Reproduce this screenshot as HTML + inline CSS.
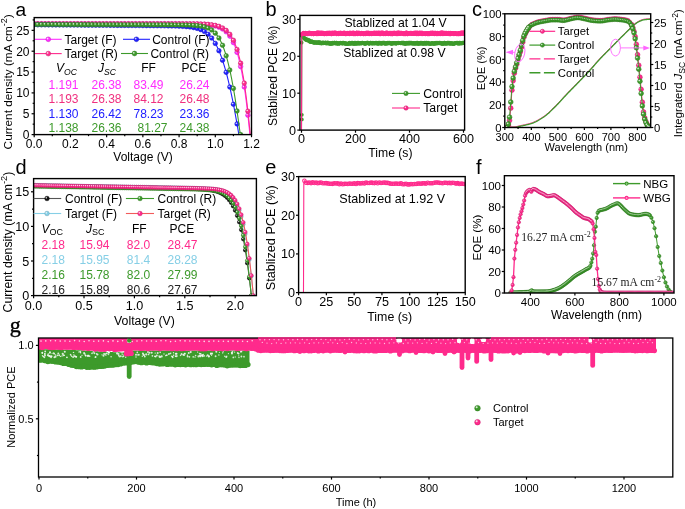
<!DOCTYPE html>
<html><head><meta charset="utf-8"><style>
html,body{margin:0;padding:0;background:#fff;}
body{width:685px;height:509px;overflow:hidden;}
svg{display:block;will-change:transform;}

</style></head><body>
<svg width="685" height="509" viewBox="0 0 685 509">
<rect width="685" height="509" fill="#fff"/>
<text x="15.4" y="16" font-size="19.2" text-anchor="start" fill="#000" font-family='"Liberation Sans", sans-serif' >a</text>
<clipPath id="ca"><rect x="34.2" y="17.6" width="217.3" height="117.0"/></clipPath>
<g clip-path="url(#ca)">
<polyline points="34.2,23.89 35.11,23.89 36.01,23.89 36.92,23.89 37.82,23.89 38.73,23.89 39.63,23.89 40.54,23.89 41.44,23.89 42.35,23.89 43.26,23.89 44.16,23.89 45.07,23.89 45.97,23.89 46.88,23.89 47.78,23.89 48.69,23.89 49.59,23.89 50.5,23.89 51.4,23.89 52.31,23.89 53.22,23.89 54.12,23.89 55.03,23.89 55.93,23.89 56.84,23.89 57.74,23.89 58.65,23.89 59.55,23.89 60.46,23.89 61.37,23.89 62.27,23.89 63.18,23.89 64.08,23.89 64.99,23.89 65.89,23.89 66.8,23.89 67.7,23.89 68.61,23.89 69.51,23.89 70.42,23.89 71.33,23.89 72.23,23.89 73.14,23.89 74.04,23.89 74.95,23.89 75.85,23.89 76.76,23.89 77.66,23.89 78.57,23.89 79.48,23.89 80.38,23.89 81.29,23.89 82.19,23.89 83.1,23.89 84,23.89 84.91,23.89 85.81,23.89 86.72,23.89 87.62,23.89 88.53,23.89 89.44,23.89 90.34,23.89 91.25,23.89 92.15,23.89 93.06,23.89 93.96,23.89 94.87,23.89 95.77,23.89 96.68,23.89 97.59,23.89 98.49,23.89 99.4,23.89 100.3,23.89 101.21,23.89 102.11,23.89 103.02,23.89 103.92,23.89 104.83,23.89 105.73,23.89 106.64,23.89 107.55,23.89 108.45,23.89 109.36,23.89 110.26,23.89 111.17,23.89 112.07,23.89 112.98,23.89 113.88,23.89 114.79,23.89 115.7,23.89 116.6,23.89 117.51,23.89 118.41,23.89 119.32,23.89 120.22,23.89 121.13,23.89 122.03,23.89 122.94,23.89 123.84,23.89 124.75,23.89 125.66,23.89 126.56,23.89 127.47,23.89 128.37,23.89 129.28,23.89 130.18,23.89 131.09,23.89 131.99,23.89 132.9,23.89 133.81,23.89 134.71,23.89 135.62,23.89 136.52,23.89 137.43,23.89 138.33,23.89 139.24,23.89 140.14,23.89 141.05,23.89 141.95,23.89 142.86,23.89 143.77,23.89 144.67,23.89 145.58,23.89 146.48,23.89 147.39,23.89 148.29,23.89 149.2,23.89 150.1,23.89 151.01,23.89 151.92,23.89 152.82,23.89 153.73,23.89 154.63,23.89 155.54,23.89 156.44,23.89 157.35,23.89 158.25,23.89 159.16,23.89 160.06,23.89 160.97,23.89 161.88,23.89 162.78,23.89 163.69,23.89 164.59,23.89 165.5,23.89 166.4,23.89 167.31,23.89 168.21,23.89 169.12,23.89 170.03,23.89 170.93,23.9 171.84,23.9 172.74,23.9 173.65,23.9 174.55,23.9 175.46,23.9 176.36,23.9 177.27,23.91 178.17,23.91 179.08,23.91 179.99,23.91 180.89,23.92 181.8,23.92 182.7,23.93 183.61,23.93 184.51,23.94 185.42,23.94 186.32,23.95 187.23,23.95 188.14,23.96 189.04,23.97 189.95,23.98 190.85,23.99 191.76,24.01 192.66,24.02 193.57,24.03 194.47,24.05 195.38,24.07 196.28,24.09 197.19,24.12 198.1,24.14 199,24.17 199.91,24.21 200.81,24.25 201.72,24.29 202.62,24.34 203.53,24.39 204.43,24.45 205.34,24.51 206.25,24.59 207.15,24.67 208.06,24.76 208.96,24.86 209.87,24.98 210.77,25.11 211.68,25.25 212.58,25.41 213.49,25.59 214.39,25.79 215.3,26.01 216.21,26.26 217.11,26.53 218.02,26.84 218.92,27.18 219.83,27.57 220.73,28 221.64,28.47 222.54,29 223.45,29.6 224.35,30.26 225.26,30.99 226.17,31.81 227.07,32.72 227.98,33.73 228.88,34.85 229.79,36.1 230.69,37.49 231.6,39.02 232.5,40.73 233.41,42.61 234.32,44.7 235.22,47 236.13,49.54 237.03,52.34 237.94,55.43 238.84,58.82 239.75,62.54 240.65,66.61 241.56,71.07 242.46,75.93 243.37,81.23 244.28,87 245.18,93.25 246.09,100.02 246.99,107.32 247.9,115.19 248.8,123.65 249.71,132.71 249.89,134.6" fill="none" stroke="#ff2bff" stroke-width="1.1" stroke-linejoin="round" />
<g fill="#ff2bff" stroke="#c621c6" stroke-width="0.5"><circle cx="34.2" cy="23.89" r="2.3"/><circle cx="37.82" cy="23.89" r="2.3"/><circle cx="41.44" cy="23.89" r="2.3"/><circle cx="45.07" cy="23.89" r="2.3"/><circle cx="48.69" cy="23.89" r="2.3"/><circle cx="52.31" cy="23.89" r="2.3"/><circle cx="55.93" cy="23.89" r="2.3"/><circle cx="59.55" cy="23.89" r="2.3"/><circle cx="63.18" cy="23.89" r="2.3"/><circle cx="66.8" cy="23.89" r="2.3"/><circle cx="70.42" cy="23.89" r="2.3"/><circle cx="74.04" cy="23.89" r="2.3"/><circle cx="77.66" cy="23.89" r="2.3"/><circle cx="81.29" cy="23.89" r="2.3"/><circle cx="84.91" cy="23.89" r="2.3"/><circle cx="88.53" cy="23.89" r="2.3"/><circle cx="92.15" cy="23.89" r="2.3"/><circle cx="95.77" cy="23.89" r="2.3"/><circle cx="99.4" cy="23.89" r="2.3"/><circle cx="103.02" cy="23.89" r="2.3"/><circle cx="106.64" cy="23.89" r="2.3"/><circle cx="110.26" cy="23.89" r="2.3"/><circle cx="113.88" cy="23.89" r="2.3"/><circle cx="117.51" cy="23.89" r="2.3"/><circle cx="121.13" cy="23.89" r="2.3"/><circle cx="124.75" cy="23.89" r="2.3"/><circle cx="128.37" cy="23.89" r="2.3"/><circle cx="131.99" cy="23.89" r="2.3"/><circle cx="135.62" cy="23.89" r="2.3"/><circle cx="139.24" cy="23.89" r="2.3"/><circle cx="142.86" cy="23.89" r="2.3"/><circle cx="146.48" cy="23.89" r="2.3"/><circle cx="150.1" cy="23.89" r="2.3"/><circle cx="153.73" cy="23.89" r="2.3"/><circle cx="157.35" cy="23.89" r="2.3"/><circle cx="160.97" cy="23.89" r="2.3"/><circle cx="164.59" cy="23.89" r="2.3"/><circle cx="168.21" cy="23.89" r="2.3"/><circle cx="171.84" cy="23.9" r="2.3"/><circle cx="175.46" cy="23.9" r="2.3"/><circle cx="179.08" cy="23.91" r="2.3"/><circle cx="182.7" cy="23.93" r="2.3"/><circle cx="186.32" cy="23.95" r="2.3"/><circle cx="189.95" cy="23.98" r="2.3"/><circle cx="193.57" cy="24.03" r="2.3"/><circle cx="197.19" cy="24.12" r="2.3"/><circle cx="200.81" cy="24.25" r="2.3"/><circle cx="204.43" cy="24.45" r="2.3"/><circle cx="208.06" cy="24.76" r="2.3"/><circle cx="211.68" cy="25.25" r="2.3"/><circle cx="215.3" cy="26.01" r="2.3"/><circle cx="218.92" cy="27.18" r="2.3"/><circle cx="222.54" cy="29" r="2.3"/><circle cx="226.17" cy="31.81" r="2.3"/><circle cx="229.79" cy="36.1" r="2.3"/><circle cx="233.41" cy="42.61" r="2.3"/><circle cx="237.03" cy="52.34" r="2.3"/><circle cx="240.65" cy="66.61" r="2.3"/><circle cx="244.28" cy="87" r="2.3"/><circle cx="247.9" cy="115.19" r="2.3"/></g>
<g fill="#fff" fill-opacity="0.8"><circle cx="33.51" cy="23.2" r="0.83"/><circle cx="37.13" cy="23.2" r="0.83"/><circle cx="40.75" cy="23.2" r="0.83"/><circle cx="44.38" cy="23.2" r="0.83"/><circle cx="48" cy="23.2" r="0.83"/><circle cx="51.62" cy="23.2" r="0.83"/><circle cx="55.24" cy="23.2" r="0.83"/><circle cx="58.86" cy="23.2" r="0.83"/><circle cx="62.49" cy="23.2" r="0.83"/><circle cx="66.11" cy="23.2" r="0.83"/><circle cx="69.73" cy="23.2" r="0.83"/><circle cx="73.35" cy="23.2" r="0.83"/><circle cx="76.97" cy="23.2" r="0.83"/><circle cx="80.6" cy="23.2" r="0.83"/><circle cx="84.22" cy="23.2" r="0.83"/><circle cx="87.84" cy="23.2" r="0.83"/><circle cx="91.46" cy="23.2" r="0.83"/><circle cx="95.08" cy="23.2" r="0.83"/><circle cx="98.71" cy="23.2" r="0.83"/><circle cx="102.33" cy="23.2" r="0.83"/><circle cx="105.95" cy="23.2" r="0.83"/><circle cx="109.57" cy="23.2" r="0.83"/><circle cx="113.19" cy="23.2" r="0.83"/><circle cx="116.82" cy="23.2" r="0.83"/><circle cx="120.44" cy="23.2" r="0.83"/><circle cx="124.06" cy="23.2" r="0.83"/><circle cx="127.68" cy="23.2" r="0.83"/><circle cx="131.3" cy="23.2" r="0.83"/><circle cx="134.93" cy="23.2" r="0.83"/><circle cx="138.55" cy="23.2" r="0.83"/><circle cx="142.17" cy="23.2" r="0.83"/><circle cx="145.79" cy="23.2" r="0.83"/><circle cx="149.41" cy="23.2" r="0.83"/><circle cx="153.04" cy="23.2" r="0.83"/><circle cx="156.66" cy="23.2" r="0.83"/><circle cx="160.28" cy="23.2" r="0.83"/><circle cx="163.9" cy="23.2" r="0.83"/><circle cx="167.52" cy="23.2" r="0.83"/><circle cx="171.15" cy="23.21" r="0.83"/><circle cx="174.77" cy="23.21" r="0.83"/><circle cx="178.39" cy="23.22" r="0.83"/><circle cx="182.01" cy="23.24" r="0.83"/><circle cx="185.63" cy="23.26" r="0.83"/><circle cx="189.26" cy="23.29" r="0.83"/><circle cx="192.88" cy="23.34" r="0.83"/><circle cx="196.5" cy="23.43" r="0.83"/><circle cx="200.12" cy="23.56" r="0.83"/><circle cx="203.74" cy="23.76" r="0.83"/><circle cx="207.37" cy="24.07" r="0.83"/><circle cx="210.99" cy="24.56" r="0.83"/><circle cx="214.61" cy="25.32" r="0.83"/><circle cx="218.23" cy="26.49" r="0.83"/><circle cx="221.85" cy="28.31" r="0.83"/><circle cx="225.48" cy="31.12" r="0.83"/><circle cx="229.1" cy="35.41" r="0.83"/><circle cx="232.72" cy="41.92" r="0.83"/><circle cx="236.34" cy="51.65" r="0.83"/><circle cx="239.96" cy="65.92" r="0.83"/><circle cx="243.59" cy="86.31" r="0.83"/><circle cx="247.21" cy="114.5" r="0.83"/></g>
<polyline points="34.2,23.68 35.11,23.68 36.01,23.68 36.92,23.68 37.82,23.68 38.73,23.68 39.63,23.68 40.54,23.68 41.44,23.68 42.35,23.68 43.26,23.68 44.16,23.68 45.07,23.68 45.97,23.68 46.88,23.68 47.78,23.68 48.69,23.68 49.59,23.68 50.5,23.68 51.4,23.68 52.31,23.68 53.22,23.68 54.12,23.68 55.03,23.68 55.93,23.68 56.84,23.68 57.74,23.68 58.65,23.68 59.55,23.68 60.46,23.68 61.37,23.68 62.27,23.68 63.18,23.68 64.08,23.68 64.99,23.68 65.89,23.68 66.8,23.68 67.7,23.68 68.61,23.68 69.51,23.68 70.42,23.68 71.33,23.68 72.23,23.68 73.14,23.68 74.04,23.68 74.95,23.68 75.85,23.68 76.76,23.68 77.66,23.68 78.57,23.68 79.48,23.68 80.38,23.68 81.29,23.68 82.19,23.68 83.1,23.68 84,23.68 84.91,23.68 85.81,23.68 86.72,23.68 87.62,23.68 88.53,23.68 89.44,23.68 90.34,23.68 91.25,23.68 92.15,23.68 93.06,23.68 93.96,23.68 94.87,23.68 95.77,23.68 96.68,23.68 97.59,23.68 98.49,23.68 99.4,23.68 100.3,23.68 101.21,23.68 102.11,23.68 103.02,23.68 103.92,23.68 104.83,23.68 105.73,23.68 106.64,23.68 107.55,23.68 108.45,23.68 109.36,23.68 110.26,23.68 111.17,23.68 112.07,23.68 112.98,23.68 113.88,23.68 114.79,23.68 115.7,23.68 116.6,23.68 117.51,23.68 118.41,23.68 119.32,23.68 120.22,23.68 121.13,23.68 122.03,23.68 122.94,23.68 123.84,23.68 124.75,23.68 125.66,23.68 126.56,23.68 127.47,23.68 128.37,23.68 129.28,23.68 130.18,23.68 131.09,23.68 131.99,23.68 132.9,23.68 133.81,23.68 134.71,23.68 135.62,23.68 136.52,23.68 137.43,23.68 138.33,23.68 139.24,23.68 140.14,23.68 141.05,23.68 141.95,23.68 142.86,23.68 143.77,23.68 144.67,23.68 145.58,23.68 146.48,23.68 147.39,23.68 148.29,23.68 149.2,23.68 150.1,23.68 151.01,23.68 151.92,23.68 152.82,23.68 153.73,23.68 154.63,23.68 155.54,23.68 156.44,23.68 157.35,23.68 158.25,23.68 159.16,23.68 160.06,23.68 160.97,23.68 161.88,23.68 162.78,23.68 163.69,23.68 164.59,23.68 165.5,23.68 166.4,23.68 167.31,23.68 168.21,23.68 169.12,23.68 170.03,23.68 170.93,23.68 171.84,23.68 172.74,23.69 173.65,23.69 174.55,23.69 175.46,23.69 176.36,23.69 177.27,23.69 178.17,23.69 179.08,23.69 179.99,23.7 180.89,23.7 181.8,23.7 182.7,23.7 183.61,23.71 184.51,23.71 185.42,23.71 186.32,23.72 187.23,23.72 188.14,23.73 189.04,23.74 189.95,23.74 190.85,23.75 191.76,23.76 192.66,23.77 193.57,23.78 194.47,23.8 195.38,23.81 196.28,23.83 197.19,23.84 198.1,23.86 199,23.89 199.91,23.91 200.81,23.94 201.72,23.97 202.62,24.01 203.53,24.05 204.43,24.1 205.34,24.15 206.25,24.21 207.15,24.27 208.06,24.35 208.96,24.43 209.87,24.52 210.77,24.63 211.68,24.74 212.58,24.87 213.49,25.02 214.39,25.18 215.3,25.37 216.21,25.58 217.11,25.81 218.02,26.07 218.92,26.36 219.83,26.69 220.73,27.06 221.64,27.47 222.54,27.93 223.45,28.45 224.35,29.03 225.26,29.68 226.17,30.41 227.07,31.22 227.98,32.13 228.88,33.14 229.79,34.28 230.69,35.54 231.6,36.95 232.5,38.52 233.41,40.27 234.32,42.22 235.22,44.38 236.13,46.78 237.03,49.43 237.94,52.37 238.84,55.62 239.75,59.2 240.65,63.15 241.56,67.48 242.46,72.23 243.37,77.44 244.28,83.12 245.18,89.3 246.09,96.03 246.99,103.31 247.9,111.19 248.8,119.68 249.71,128.81 250.25,134.6" fill="none" stroke="#ff2a8c" stroke-width="1.1" stroke-linejoin="round" />
<g fill="#ff2a8c" stroke="#c6206d" stroke-width="0.5"><circle cx="34.2" cy="23.68" r="2.3"/><circle cx="37.82" cy="23.68" r="2.3"/><circle cx="41.44" cy="23.68" r="2.3"/><circle cx="45.07" cy="23.68" r="2.3"/><circle cx="48.69" cy="23.68" r="2.3"/><circle cx="52.31" cy="23.68" r="2.3"/><circle cx="55.93" cy="23.68" r="2.3"/><circle cx="59.55" cy="23.68" r="2.3"/><circle cx="63.18" cy="23.68" r="2.3"/><circle cx="66.8" cy="23.68" r="2.3"/><circle cx="70.42" cy="23.68" r="2.3"/><circle cx="74.04" cy="23.68" r="2.3"/><circle cx="77.66" cy="23.68" r="2.3"/><circle cx="81.29" cy="23.68" r="2.3"/><circle cx="84.91" cy="23.68" r="2.3"/><circle cx="88.53" cy="23.68" r="2.3"/><circle cx="92.15" cy="23.68" r="2.3"/><circle cx="95.77" cy="23.68" r="2.3"/><circle cx="99.4" cy="23.68" r="2.3"/><circle cx="103.02" cy="23.68" r="2.3"/><circle cx="106.64" cy="23.68" r="2.3"/><circle cx="110.26" cy="23.68" r="2.3"/><circle cx="113.88" cy="23.68" r="2.3"/><circle cx="117.51" cy="23.68" r="2.3"/><circle cx="121.13" cy="23.68" r="2.3"/><circle cx="124.75" cy="23.68" r="2.3"/><circle cx="128.37" cy="23.68" r="2.3"/><circle cx="131.99" cy="23.68" r="2.3"/><circle cx="135.62" cy="23.68" r="2.3"/><circle cx="139.24" cy="23.68" r="2.3"/><circle cx="142.86" cy="23.68" r="2.3"/><circle cx="146.48" cy="23.68" r="2.3"/><circle cx="150.1" cy="23.68" r="2.3"/><circle cx="153.73" cy="23.68" r="2.3"/><circle cx="157.35" cy="23.68" r="2.3"/><circle cx="160.97" cy="23.68" r="2.3"/><circle cx="164.59" cy="23.68" r="2.3"/><circle cx="168.21" cy="23.68" r="2.3"/><circle cx="171.84" cy="23.68" r="2.3"/><circle cx="175.46" cy="23.69" r="2.3"/><circle cx="179.08" cy="23.69" r="2.3"/><circle cx="182.7" cy="23.7" r="2.3"/><circle cx="186.32" cy="23.72" r="2.3"/><circle cx="189.95" cy="23.74" r="2.3"/><circle cx="193.57" cy="23.78" r="2.3"/><circle cx="197.19" cy="23.84" r="2.3"/><circle cx="200.81" cy="23.94" r="2.3"/><circle cx="204.43" cy="24.1" r="2.3"/><circle cx="208.06" cy="24.35" r="2.3"/><circle cx="211.68" cy="24.74" r="2.3"/><circle cx="215.3" cy="25.37" r="2.3"/><circle cx="218.92" cy="26.36" r="2.3"/><circle cx="222.54" cy="27.93" r="2.3"/><circle cx="226.17" cy="30.41" r="2.3"/><circle cx="229.79" cy="34.28" r="2.3"/><circle cx="233.41" cy="40.27" r="2.3"/><circle cx="237.03" cy="49.43" r="2.3"/><circle cx="240.65" cy="63.15" r="2.3"/><circle cx="244.28" cy="83.12" r="2.3"/><circle cx="247.9" cy="111.19" r="2.3"/></g>
<g fill="#fff" fill-opacity="0.8"><circle cx="33.51" cy="22.99" r="0.83"/><circle cx="37.13" cy="22.99" r="0.83"/><circle cx="40.75" cy="22.99" r="0.83"/><circle cx="44.38" cy="22.99" r="0.83"/><circle cx="48" cy="22.99" r="0.83"/><circle cx="51.62" cy="22.99" r="0.83"/><circle cx="55.24" cy="22.99" r="0.83"/><circle cx="58.86" cy="22.99" r="0.83"/><circle cx="62.49" cy="22.99" r="0.83"/><circle cx="66.11" cy="22.99" r="0.83"/><circle cx="69.73" cy="22.99" r="0.83"/><circle cx="73.35" cy="22.99" r="0.83"/><circle cx="76.97" cy="22.99" r="0.83"/><circle cx="80.6" cy="22.99" r="0.83"/><circle cx="84.22" cy="22.99" r="0.83"/><circle cx="87.84" cy="22.99" r="0.83"/><circle cx="91.46" cy="22.99" r="0.83"/><circle cx="95.08" cy="22.99" r="0.83"/><circle cx="98.71" cy="22.99" r="0.83"/><circle cx="102.33" cy="22.99" r="0.83"/><circle cx="105.95" cy="22.99" r="0.83"/><circle cx="109.57" cy="22.99" r="0.83"/><circle cx="113.19" cy="22.99" r="0.83"/><circle cx="116.82" cy="22.99" r="0.83"/><circle cx="120.44" cy="22.99" r="0.83"/><circle cx="124.06" cy="22.99" r="0.83"/><circle cx="127.68" cy="22.99" r="0.83"/><circle cx="131.3" cy="22.99" r="0.83"/><circle cx="134.93" cy="22.99" r="0.83"/><circle cx="138.55" cy="22.99" r="0.83"/><circle cx="142.17" cy="22.99" r="0.83"/><circle cx="145.79" cy="22.99" r="0.83"/><circle cx="149.41" cy="22.99" r="0.83"/><circle cx="153.04" cy="22.99" r="0.83"/><circle cx="156.66" cy="22.99" r="0.83"/><circle cx="160.28" cy="22.99" r="0.83"/><circle cx="163.9" cy="22.99" r="0.83"/><circle cx="167.52" cy="22.99" r="0.83"/><circle cx="171.15" cy="22.99" r="0.83"/><circle cx="174.77" cy="23" r="0.83"/><circle cx="178.39" cy="23" r="0.83"/><circle cx="182.01" cy="23.01" r="0.83"/><circle cx="185.63" cy="23.03" r="0.83"/><circle cx="189.26" cy="23.05" r="0.83"/><circle cx="192.88" cy="23.09" r="0.83"/><circle cx="196.5" cy="23.15" r="0.83"/><circle cx="200.12" cy="23.25" r="0.83"/><circle cx="203.74" cy="23.41" r="0.83"/><circle cx="207.37" cy="23.66" r="0.83"/><circle cx="210.99" cy="24.05" r="0.83"/><circle cx="214.61" cy="24.68" r="0.83"/><circle cx="218.23" cy="25.67" r="0.83"/><circle cx="221.85" cy="27.24" r="0.83"/><circle cx="225.48" cy="29.72" r="0.83"/><circle cx="229.1" cy="33.59" r="0.83"/><circle cx="232.72" cy="39.58" r="0.83"/><circle cx="236.34" cy="48.74" r="0.83"/><circle cx="239.96" cy="62.46" r="0.83"/><circle cx="243.59" cy="82.43" r="0.83"/><circle cx="247.21" cy="110.5" r="0.83"/></g>
<polyline points="34.2,24.72 35.11,24.73 36.01,24.74 36.92,24.74 37.82,24.75 38.73,24.76 39.63,24.76 40.54,24.77 41.44,24.78 42.35,24.79 43.26,24.79 44.16,24.8 45.07,24.81 45.97,24.82 46.88,24.82 47.78,24.83 48.69,24.84 49.59,24.84 50.5,24.85 51.4,24.86 52.31,24.87 53.22,24.87 54.12,24.88 55.03,24.89 55.93,24.9 56.84,24.9 57.74,24.91 58.65,24.92 59.55,24.92 60.46,24.93 61.37,24.94 62.27,24.95 63.18,24.95 64.08,24.96 64.99,24.97 65.89,24.98 66.8,24.98 67.7,24.99 68.61,25 69.51,25.01 70.42,25.01 71.33,25.02 72.23,25.03 73.14,25.03 74.04,25.04 74.95,25.05 75.85,25.06 76.76,25.06 77.66,25.07 78.57,25.08 79.48,25.09 80.38,25.09 81.29,25.1 82.19,25.11 83.1,25.11 84,25.12 84.91,25.13 85.81,25.14 86.72,25.14 87.62,25.15 88.53,25.16 89.44,25.17 90.34,25.17 91.25,25.18 92.15,25.19 93.06,25.19 93.96,25.2 94.87,25.21 95.77,25.22 96.68,25.22 97.59,25.23 98.49,25.24 99.4,25.25 100.3,25.25 101.21,25.26 102.11,25.27 103.02,25.28 103.92,25.28 104.83,25.29 105.73,25.3 106.64,25.3 107.55,25.31 108.45,25.32 109.36,25.33 110.26,25.33 111.17,25.34 112.07,25.35 112.98,25.36 113.88,25.36 114.79,25.37 115.7,25.38 116.6,25.38 117.51,25.39 118.41,25.4 119.32,25.41 120.22,25.41 121.13,25.42 122.03,25.43 122.94,25.44 123.84,25.44 124.75,25.45 125.66,25.46 126.56,25.47 127.47,25.47 128.37,25.48 129.28,25.49 130.18,25.49 131.09,25.5 131.99,25.51 132.9,25.52 133.81,25.52 134.71,25.53 135.62,25.54 136.52,25.55 137.43,25.55 138.33,25.56 139.24,25.57 140.14,25.58 141.05,25.58 141.95,25.59 142.86,25.6 143.77,25.61 144.67,25.62 145.58,25.62 146.48,25.63 147.39,25.64 148.29,25.65 149.2,25.66 150.1,25.66 151.01,25.67 151.92,25.68 152.82,25.69 153.73,25.7 154.63,25.71 155.54,25.72 156.44,25.73 157.35,25.74 158.25,25.75 159.16,25.76 160.06,25.77 160.97,25.78 161.88,25.79 162.78,25.8 163.69,25.81 164.59,25.82 165.5,25.84 166.4,25.85 167.31,25.87 168.21,25.88 169.12,25.9 170.03,25.92 170.93,25.93 171.84,25.95 172.74,25.98 173.65,26 174.55,26.02 175.46,26.05 176.36,26.08 177.27,26.11 178.17,26.14 179.08,26.18 179.99,26.22 180.89,26.26 181.8,26.31 182.7,26.36 183.61,26.42 184.51,26.48 185.42,26.55 186.32,26.63 187.23,26.71 188.14,26.8 189.04,26.9 189.95,27.01 190.85,27.14 191.76,27.27 192.66,27.42 193.57,27.58 194.47,27.77 195.38,27.97 196.28,28.19 197.19,28.43 198.1,28.7 199,29 199.91,29.32 200.81,29.68 201.72,30.08 202.62,30.52 203.53,31 204.43,31.53 205.34,32.11 206.25,32.75 207.15,33.45 208.06,34.22 208.96,35.06 209.87,35.98 210.77,36.98 211.68,38.07 212.58,39.25 213.49,40.54 214.39,41.93 215.3,43.44 216.21,45.07 217.11,46.83 218.02,48.71 218.92,50.73 219.83,52.9 220.73,55.21 221.64,57.67 222.54,60.28 223.45,63.06 224.35,65.99 225.26,69.08 226.17,72.34 227.07,75.76 227.98,79.35 228.88,83.1 229.79,87.01 230.69,91.08 231.6,95.31 232.5,99.7 233.41,104.25 234.32,108.94 235.22,113.79 236.13,118.78 237.03,123.92 237.94,129.19 238.84,134.6 238.84,134.6" fill="none" stroke="#2020ff" stroke-width="1.1" stroke-linejoin="round" />
<g fill="#2020ff" stroke="#1818c6" stroke-width="0.5"><circle cx="34.2" cy="24.72" r="2.3"/><circle cx="37.82" cy="24.75" r="2.3"/><circle cx="41.44" cy="24.78" r="2.3"/><circle cx="45.07" cy="24.81" r="2.3"/><circle cx="48.69" cy="24.84" r="2.3"/><circle cx="52.31" cy="24.87" r="2.3"/><circle cx="55.93" cy="24.9" r="2.3"/><circle cx="59.55" cy="24.92" r="2.3"/><circle cx="63.18" cy="24.95" r="2.3"/><circle cx="66.8" cy="24.98" r="2.3"/><circle cx="70.42" cy="25.01" r="2.3"/><circle cx="74.04" cy="25.04" r="2.3"/><circle cx="77.66" cy="25.07" r="2.3"/><circle cx="81.29" cy="25.1" r="2.3"/><circle cx="84.91" cy="25.13" r="2.3"/><circle cx="88.53" cy="25.16" r="2.3"/><circle cx="92.15" cy="25.19" r="2.3"/><circle cx="95.77" cy="25.22" r="2.3"/><circle cx="99.4" cy="25.25" r="2.3"/><circle cx="103.02" cy="25.28" r="2.3"/><circle cx="106.64" cy="25.3" r="2.3"/><circle cx="110.26" cy="25.33" r="2.3"/><circle cx="113.88" cy="25.36" r="2.3"/><circle cx="117.51" cy="25.39" r="2.3"/><circle cx="121.13" cy="25.42" r="2.3"/><circle cx="124.75" cy="25.45" r="2.3"/><circle cx="128.37" cy="25.48" r="2.3"/><circle cx="131.99" cy="25.51" r="2.3"/><circle cx="135.62" cy="25.54" r="2.3"/><circle cx="139.24" cy="25.57" r="2.3"/><circle cx="142.86" cy="25.6" r="2.3"/><circle cx="146.48" cy="25.63" r="2.3"/><circle cx="150.1" cy="25.66" r="2.3"/><circle cx="153.73" cy="25.7" r="2.3"/><circle cx="157.35" cy="25.74" r="2.3"/><circle cx="160.97" cy="25.78" r="2.3"/><circle cx="164.59" cy="25.82" r="2.3"/><circle cx="168.21" cy="25.88" r="2.3"/><circle cx="171.84" cy="25.95" r="2.3"/><circle cx="175.46" cy="26.05" r="2.3"/><circle cx="179.08" cy="26.18" r="2.3"/><circle cx="182.7" cy="26.36" r="2.3"/><circle cx="186.32" cy="26.63" r="2.3"/><circle cx="189.95" cy="27.01" r="2.3"/><circle cx="193.57" cy="27.58" r="2.3"/><circle cx="197.19" cy="28.43" r="2.3"/><circle cx="200.81" cy="29.68" r="2.3"/><circle cx="204.43" cy="31.53" r="2.3"/><circle cx="208.06" cy="34.22" r="2.3"/><circle cx="211.68" cy="38.07" r="2.3"/><circle cx="215.3" cy="43.44" r="2.3"/><circle cx="218.92" cy="50.73" r="2.3"/><circle cx="222.54" cy="60.28" r="2.3"/><circle cx="226.17" cy="72.34" r="2.3"/><circle cx="229.79" cy="87.01" r="2.3"/><circle cx="233.41" cy="104.25" r="2.3"/><circle cx="237.03" cy="123.92" r="2.3"/></g>
<g fill="#fff" fill-opacity="0.8"><circle cx="33.51" cy="24.03" r="0.83"/><circle cx="37.13" cy="24.06" r="0.83"/><circle cx="40.75" cy="24.09" r="0.83"/><circle cx="44.38" cy="24.12" r="0.83"/><circle cx="48" cy="24.15" r="0.83"/><circle cx="51.62" cy="24.18" r="0.83"/><circle cx="55.24" cy="24.21" r="0.83"/><circle cx="58.86" cy="24.23" r="0.83"/><circle cx="62.49" cy="24.26" r="0.83"/><circle cx="66.11" cy="24.29" r="0.83"/><circle cx="69.73" cy="24.32" r="0.83"/><circle cx="73.35" cy="24.35" r="0.83"/><circle cx="76.97" cy="24.38" r="0.83"/><circle cx="80.6" cy="24.41" r="0.83"/><circle cx="84.22" cy="24.44" r="0.83"/><circle cx="87.84" cy="24.47" r="0.83"/><circle cx="91.46" cy="24.5" r="0.83"/><circle cx="95.08" cy="24.53" r="0.83"/><circle cx="98.71" cy="24.56" r="0.83"/><circle cx="102.33" cy="24.59" r="0.83"/><circle cx="105.95" cy="24.61" r="0.83"/><circle cx="109.57" cy="24.64" r="0.83"/><circle cx="113.19" cy="24.67" r="0.83"/><circle cx="116.82" cy="24.7" r="0.83"/><circle cx="120.44" cy="24.73" r="0.83"/><circle cx="124.06" cy="24.76" r="0.83"/><circle cx="127.68" cy="24.79" r="0.83"/><circle cx="131.3" cy="24.82" r="0.83"/><circle cx="134.93" cy="24.85" r="0.83"/><circle cx="138.55" cy="24.88" r="0.83"/><circle cx="142.17" cy="24.91" r="0.83"/><circle cx="145.79" cy="24.94" r="0.83"/><circle cx="149.41" cy="24.97" r="0.83"/><circle cx="153.04" cy="25.01" r="0.83"/><circle cx="156.66" cy="25.05" r="0.83"/><circle cx="160.28" cy="25.09" r="0.83"/><circle cx="163.9" cy="25.13" r="0.83"/><circle cx="167.52" cy="25.19" r="0.83"/><circle cx="171.15" cy="25.26" r="0.83"/><circle cx="174.77" cy="25.36" r="0.83"/><circle cx="178.39" cy="25.49" r="0.83"/><circle cx="182.01" cy="25.67" r="0.83"/><circle cx="185.63" cy="25.94" r="0.83"/><circle cx="189.26" cy="26.32" r="0.83"/><circle cx="192.88" cy="26.89" r="0.83"/><circle cx="196.5" cy="27.74" r="0.83"/><circle cx="200.12" cy="28.99" r="0.83"/><circle cx="203.74" cy="30.84" r="0.83"/><circle cx="207.37" cy="33.53" r="0.83"/><circle cx="210.99" cy="37.38" r="0.83"/><circle cx="214.61" cy="42.75" r="0.83"/><circle cx="218.23" cy="50.04" r="0.83"/><circle cx="221.85" cy="59.59" r="0.83"/><circle cx="225.48" cy="71.65" r="0.83"/><circle cx="229.1" cy="86.32" r="0.83"/><circle cx="232.72" cy="103.56" r="0.83"/><circle cx="236.34" cy="123.23" r="0.83"/></g>
<polyline points="34.2,24.51 35.11,24.51 36.01,24.52 36.92,24.52 37.82,24.52 38.73,24.52 39.63,24.53 40.54,24.53 41.44,24.53 42.35,24.53 43.26,24.54 44.16,24.54 45.07,24.54 45.97,24.54 46.88,24.55 47.78,24.55 48.69,24.55 49.59,24.55 50.5,24.56 51.4,24.56 52.31,24.56 53.22,24.56 54.12,24.57 55.03,24.57 55.93,24.57 56.84,24.57 57.74,24.58 58.65,24.58 59.55,24.58 60.46,24.58 61.37,24.59 62.27,24.59 63.18,24.59 64.08,24.59 64.99,24.6 65.89,24.6 66.8,24.6 67.7,24.6 68.61,24.61 69.51,24.61 70.42,24.61 71.33,24.61 72.23,24.62 73.14,24.62 74.04,24.62 74.95,24.62 75.85,24.63 76.76,24.63 77.66,24.63 78.57,24.63 79.48,24.64 80.38,24.64 81.29,24.64 82.19,24.64 83.1,24.65 84,24.65 84.91,24.65 85.81,24.65 86.72,24.66 87.62,24.66 88.53,24.66 89.44,24.66 90.34,24.67 91.25,24.67 92.15,24.67 93.06,24.67 93.96,24.68 94.87,24.68 95.77,24.68 96.68,24.68 97.59,24.69 98.49,24.69 99.4,24.69 100.3,24.69 101.21,24.7 102.11,24.7 103.02,24.7 103.92,24.7 104.83,24.71 105.73,24.71 106.64,24.71 107.55,24.71 108.45,24.72 109.36,24.72 110.26,24.72 111.17,24.72 112.07,24.73 112.98,24.73 113.88,24.73 114.79,24.73 115.7,24.74 116.6,24.74 117.51,24.74 118.41,24.74 119.32,24.75 120.22,24.75 121.13,24.75 122.03,24.75 122.94,24.76 123.84,24.76 124.75,24.76 125.66,24.76 126.56,24.77 127.47,24.77 128.37,24.77 129.28,24.77 130.18,24.78 131.09,24.78 131.99,24.78 132.9,24.78 133.81,24.79 134.71,24.79 135.62,24.79 136.52,24.79 137.43,24.8 138.33,24.8 139.24,24.8 140.14,24.8 141.05,24.81 141.95,24.81 142.86,24.81 143.77,24.82 144.67,24.82 145.58,24.82 146.48,24.82 147.39,24.83 148.29,24.83 149.2,24.83 150.1,24.83 151.01,24.84 151.92,24.84 152.82,24.84 153.73,24.84 154.63,24.85 155.54,24.85 156.44,24.85 157.35,24.85 158.25,24.86 159.16,24.86 160.06,24.86 160.97,24.87 161.88,24.87 162.78,24.87 163.69,24.88 164.59,24.88 165.5,24.88 166.4,24.89 167.31,24.89 168.21,24.89 169.12,24.9 170.03,24.9 170.93,24.91 171.84,24.91 172.74,24.92 173.65,24.92 174.55,24.93 175.46,24.93 176.36,24.94 177.27,24.95 178.17,24.96 179.08,24.96 179.99,24.97 180.89,24.98 181.8,25 182.7,25.01 183.61,25.02 184.51,25.04 185.42,25.06 186.32,25.08 187.23,25.1 188.14,25.12 189.04,25.15 189.95,25.18 190.85,25.22 191.76,25.26 192.66,25.3 193.57,25.35 194.47,25.41 195.38,25.48 196.28,25.55 197.19,25.63 198.1,25.73 199,25.83 199.91,25.95 200.81,26.09 201.72,26.24 202.62,26.41 203.53,26.61 204.43,26.83 205.34,27.08 206.25,27.36 207.15,27.68 208.06,28.04 208.96,28.45 209.87,28.91 210.77,29.42 211.68,30 212.58,30.66 213.49,31.39 214.39,32.21 215.3,33.13 216.21,34.15 217.11,35.3 218.02,36.57 218.92,37.98 219.83,39.54 220.73,41.27 221.64,43.17 222.54,45.26 223.45,47.55 224.35,50.05 225.26,52.77 226.17,55.72 227.07,58.91 227.98,62.35 228.88,66.03 229.79,69.98 230.69,74.18 231.6,78.65 232.5,83.38 233.41,88.38 234.32,93.63 235.22,99.15 236.13,104.92 237.03,110.94 237.94,117.21 238.84,123.71 239.75,130.45 240.29,134.6" fill="none" stroke="#3d9a2b" stroke-width="1.1" stroke-linejoin="round" />
<g fill="#3d9a2b" stroke="#2f7821" stroke-width="0.5"><circle cx="34.2" cy="24.51" r="2.3"/><circle cx="37.82" cy="24.52" r="2.3"/><circle cx="41.44" cy="24.53" r="2.3"/><circle cx="45.07" cy="24.54" r="2.3"/><circle cx="48.69" cy="24.55" r="2.3"/><circle cx="52.31" cy="24.56" r="2.3"/><circle cx="55.93" cy="24.57" r="2.3"/><circle cx="59.55" cy="24.58" r="2.3"/><circle cx="63.18" cy="24.59" r="2.3"/><circle cx="66.8" cy="24.6" r="2.3"/><circle cx="70.42" cy="24.61" r="2.3"/><circle cx="74.04" cy="24.62" r="2.3"/><circle cx="77.66" cy="24.63" r="2.3"/><circle cx="81.29" cy="24.64" r="2.3"/><circle cx="84.91" cy="24.65" r="2.3"/><circle cx="88.53" cy="24.66" r="2.3"/><circle cx="92.15" cy="24.67" r="2.3"/><circle cx="95.77" cy="24.68" r="2.3"/><circle cx="99.4" cy="24.69" r="2.3"/><circle cx="103.02" cy="24.7" r="2.3"/><circle cx="106.64" cy="24.71" r="2.3"/><circle cx="110.26" cy="24.72" r="2.3"/><circle cx="113.88" cy="24.73" r="2.3"/><circle cx="117.51" cy="24.74" r="2.3"/><circle cx="121.13" cy="24.75" r="2.3"/><circle cx="124.75" cy="24.76" r="2.3"/><circle cx="128.37" cy="24.77" r="2.3"/><circle cx="131.99" cy="24.78" r="2.3"/><circle cx="135.62" cy="24.79" r="2.3"/><circle cx="139.24" cy="24.8" r="2.3"/><circle cx="142.86" cy="24.81" r="2.3"/><circle cx="146.48" cy="24.82" r="2.3"/><circle cx="150.1" cy="24.83" r="2.3"/><circle cx="153.73" cy="24.84" r="2.3"/><circle cx="157.35" cy="24.85" r="2.3"/><circle cx="160.97" cy="24.87" r="2.3"/><circle cx="164.59" cy="24.88" r="2.3"/><circle cx="168.21" cy="24.89" r="2.3"/><circle cx="171.84" cy="24.91" r="2.3"/><circle cx="175.46" cy="24.93" r="2.3"/><circle cx="179.08" cy="24.96" r="2.3"/><circle cx="182.7" cy="25.01" r="2.3"/><circle cx="186.32" cy="25.08" r="2.3"/><circle cx="189.95" cy="25.18" r="2.3"/><circle cx="193.57" cy="25.35" r="2.3"/><circle cx="197.19" cy="25.63" r="2.3"/><circle cx="200.81" cy="26.09" r="2.3"/><circle cx="204.43" cy="26.83" r="2.3"/><circle cx="208.06" cy="28.04" r="2.3"/><circle cx="211.68" cy="30" r="2.3"/><circle cx="215.3" cy="33.13" r="2.3"/><circle cx="218.92" cy="37.98" r="2.3"/><circle cx="222.54" cy="45.26" r="2.3"/><circle cx="226.17" cy="55.72" r="2.3"/><circle cx="229.79" cy="69.98" r="2.3"/><circle cx="233.41" cy="88.38" r="2.3"/><circle cx="237.03" cy="110.94" r="2.3"/><circle cx="240.65" cy="134.6" r="2.3"/></g>
<g fill="#fff" fill-opacity="0.8"><circle cx="33.51" cy="23.82" r="0.83"/><circle cx="37.13" cy="23.83" r="0.83"/><circle cx="40.75" cy="23.84" r="0.83"/><circle cx="44.38" cy="23.85" r="0.83"/><circle cx="48" cy="23.86" r="0.83"/><circle cx="51.62" cy="23.87" r="0.83"/><circle cx="55.24" cy="23.88" r="0.83"/><circle cx="58.86" cy="23.89" r="0.83"/><circle cx="62.49" cy="23.9" r="0.83"/><circle cx="66.11" cy="23.91" r="0.83"/><circle cx="69.73" cy="23.92" r="0.83"/><circle cx="73.35" cy="23.93" r="0.83"/><circle cx="76.97" cy="23.94" r="0.83"/><circle cx="80.6" cy="23.95" r="0.83"/><circle cx="84.22" cy="23.96" r="0.83"/><circle cx="87.84" cy="23.97" r="0.83"/><circle cx="91.46" cy="23.98" r="0.83"/><circle cx="95.08" cy="23.99" r="0.83"/><circle cx="98.71" cy="24" r="0.83"/><circle cx="102.33" cy="24.01" r="0.83"/><circle cx="105.95" cy="24.02" r="0.83"/><circle cx="109.57" cy="24.03" r="0.83"/><circle cx="113.19" cy="24.04" r="0.83"/><circle cx="116.82" cy="24.05" r="0.83"/><circle cx="120.44" cy="24.06" r="0.83"/><circle cx="124.06" cy="24.07" r="0.83"/><circle cx="127.68" cy="24.08" r="0.83"/><circle cx="131.3" cy="24.09" r="0.83"/><circle cx="134.93" cy="24.1" r="0.83"/><circle cx="138.55" cy="24.11" r="0.83"/><circle cx="142.17" cy="24.12" r="0.83"/><circle cx="145.79" cy="24.13" r="0.83"/><circle cx="149.41" cy="24.14" r="0.83"/><circle cx="153.04" cy="24.15" r="0.83"/><circle cx="156.66" cy="24.16" r="0.83"/><circle cx="160.28" cy="24.18" r="0.83"/><circle cx="163.9" cy="24.19" r="0.83"/><circle cx="167.52" cy="24.2" r="0.83"/><circle cx="171.15" cy="24.22" r="0.83"/><circle cx="174.77" cy="24.24" r="0.83"/><circle cx="178.39" cy="24.27" r="0.83"/><circle cx="182.01" cy="24.32" r="0.83"/><circle cx="185.63" cy="24.39" r="0.83"/><circle cx="189.26" cy="24.49" r="0.83"/><circle cx="192.88" cy="24.66" r="0.83"/><circle cx="196.5" cy="24.94" r="0.83"/><circle cx="200.12" cy="25.4" r="0.83"/><circle cx="203.74" cy="26.14" r="0.83"/><circle cx="207.37" cy="27.35" r="0.83"/><circle cx="210.99" cy="29.31" r="0.83"/><circle cx="214.61" cy="32.44" r="0.83"/><circle cx="218.23" cy="37.29" r="0.83"/><circle cx="221.85" cy="44.57" r="0.83"/><circle cx="225.48" cy="55.03" r="0.83"/><circle cx="229.1" cy="69.29" r="0.83"/><circle cx="232.72" cy="87.69" r="0.83"/><circle cx="236.34" cy="110.25" r="0.83"/><circle cx="239.96" cy="133.91" r="0.83"/></g>
</g>
<rect x="34.2" y="17.6" width="217.3" height="117" fill="none" stroke="#000" stroke-width="1.4"/>
<line x1="34.2" y1="134.6" x2="31.6" y2="134.6" stroke="#000" stroke-width="1.2" />
<line x1="34.2" y1="113.75" x2="31.6" y2="113.75" stroke="#000" stroke-width="1.2" />
<line x1="34.2" y1="92.9" x2="31.6" y2="92.9" stroke="#000" stroke-width="1.2" />
<line x1="34.2" y1="72.05" x2="31.6" y2="72.05" stroke="#000" stroke-width="1.2" />
<line x1="34.2" y1="51.2" x2="31.6" y2="51.2" stroke="#000" stroke-width="1.2" />
<line x1="34.2" y1="30.35" x2="31.6" y2="30.35" stroke="#000" stroke-width="1.2" />
<line x1="34.2" y1="124.17" x2="32.64" y2="124.17" stroke="#000" stroke-width="1.2" />
<line x1="34.2" y1="103.32" x2="32.64" y2="103.32" stroke="#000" stroke-width="1.2" />
<line x1="34.2" y1="82.47" x2="32.64" y2="82.47" stroke="#000" stroke-width="1.2" />
<line x1="34.2" y1="61.62" x2="32.64" y2="61.62" stroke="#000" stroke-width="1.2" />
<line x1="34.2" y1="40.77" x2="32.64" y2="40.77" stroke="#000" stroke-width="1.2" />
<line x1="34.2" y1="19.92" x2="32.64" y2="19.92" stroke="#000" stroke-width="1.2" />
<text x="29.5" y="138.9" font-size="12" text-anchor="end" fill="#000" font-family='"Liberation Sans", sans-serif' >0</text>
<text x="29.5" y="118.05" font-size="12" text-anchor="end" fill="#000" font-family='"Liberation Sans", sans-serif' >5</text>
<text x="29.5" y="97.2" font-size="12" text-anchor="end" fill="#000" font-family='"Liberation Sans", sans-serif' >10</text>
<text x="29.5" y="76.35" font-size="12" text-anchor="end" fill="#000" font-family='"Liberation Sans", sans-serif' >15</text>
<text x="29.5" y="55.5" font-size="12" text-anchor="end" fill="#000" font-family='"Liberation Sans", sans-serif' >20</text>
<text x="29.5" y="34.65" font-size="12" text-anchor="end" fill="#000" font-family='"Liberation Sans", sans-serif' >25</text>
<line x1="34.2" y1="134.6" x2="34.2" y2="137.2" stroke="#000" stroke-width="1.2" />
<line x1="70.42" y1="134.6" x2="70.42" y2="137.2" stroke="#000" stroke-width="1.2" />
<line x1="106.64" y1="134.6" x2="106.64" y2="137.2" stroke="#000" stroke-width="1.2" />
<line x1="142.86" y1="134.6" x2="142.86" y2="137.2" stroke="#000" stroke-width="1.2" />
<line x1="179.08" y1="134.6" x2="179.08" y2="137.2" stroke="#000" stroke-width="1.2" />
<line x1="215.3" y1="134.6" x2="215.3" y2="137.2" stroke="#000" stroke-width="1.2" />
<line x1="251.52" y1="134.6" x2="251.52" y2="137.2" stroke="#000" stroke-width="1.2" />
<line x1="52.31" y1="134.6" x2="52.31" y2="136.16" stroke="#000" stroke-width="1.2" />
<line x1="88.53" y1="134.6" x2="88.53" y2="136.16" stroke="#000" stroke-width="1.2" />
<line x1="124.75" y1="134.6" x2="124.75" y2="136.16" stroke="#000" stroke-width="1.2" />
<line x1="160.97" y1="134.6" x2="160.97" y2="136.16" stroke="#000" stroke-width="1.2" />
<line x1="197.19" y1="134.6" x2="197.19" y2="136.16" stroke="#000" stroke-width="1.2" />
<line x1="233.41" y1="134.6" x2="233.41" y2="136.16" stroke="#000" stroke-width="1.2" />
<text x="34.2" y="148.4" font-size="12" text-anchor="middle" fill="#000" font-family='"Liberation Sans", sans-serif' >0.0</text>
<text x="70.42" y="148.4" font-size="12" text-anchor="middle" fill="#000" font-family='"Liberation Sans", sans-serif' >0.2</text>
<text x="106.64" y="148.4" font-size="12" text-anchor="middle" fill="#000" font-family='"Liberation Sans", sans-serif' >0.4</text>
<text x="142.86" y="148.4" font-size="12" text-anchor="middle" fill="#000" font-family='"Liberation Sans", sans-serif' >0.6</text>
<text x="179.08" y="148.4" font-size="12" text-anchor="middle" fill="#000" font-family='"Liberation Sans", sans-serif' >0.8</text>
<text x="215.3" y="148.4" font-size="12" text-anchor="middle" fill="#000" font-family='"Liberation Sans", sans-serif' >1.0</text>
<text x="251.52" y="148.4" font-size="12" text-anchor="middle" fill="#000" font-family='"Liberation Sans", sans-serif' >1.2</text>
<text x="143" y="161" font-size="12" text-anchor="middle" fill="#000" font-family='"Liberation Sans", sans-serif' >Voltage (V)</text>
<text x="0" y="0" font-size="11.8" text-anchor="middle" fill="#000" font-family='"Liberation Sans", sans-serif' transform="translate(7.5,81.8) rotate(-90) translate(0,4.25)">Current density (mA cm<tspan dy="-4.8" font-size="9">-2</tspan><tspan dy="4.8">)</tspan></text>
<line x1="35" y1="39.3" x2="61.7" y2="39.3" stroke="#ff2bff" stroke-width="1.1" />
<g fill="#ff2bff" stroke="#c621c6" stroke-width="0.5"><circle cx="48.3" cy="39.3" r="2.4"/></g>
<g fill="#fff" fill-opacity="0.8"><circle cx="47.58" cy="38.58" r="0.86"/></g>
<text x="64.5" y="43.6" font-size="12" text-anchor="start" fill="#000" font-family='"Liberation Sans", sans-serif' >Target (F)</text>
<line x1="35" y1="53.6" x2="61.7" y2="53.6" stroke="#ff2a8c" stroke-width="1.1" />
<g fill="#ff2a8c" stroke="#c6206d" stroke-width="0.5"><circle cx="48.3" cy="53.6" r="2.4"/></g>
<g fill="#fff" fill-opacity="0.8"><circle cx="47.58" cy="52.88" r="0.86"/></g>
<text x="64.5" y="57.9" font-size="12" text-anchor="start" fill="#000" font-family='"Liberation Sans", sans-serif' >Target (R)</text>
<line x1="123" y1="39.3" x2="150" y2="39.3" stroke="#2020ff" stroke-width="1.1" />
<g fill="#2020ff" stroke="#1818c6" stroke-width="0.5"><circle cx="136.4" cy="39.3" r="2.4"/></g>
<g fill="#fff" fill-opacity="0.8"><circle cx="135.68" cy="38.58" r="0.86"/></g>
<text x="152.2" y="43.6" font-size="12" text-anchor="start" fill="#000" font-family='"Liberation Sans", sans-serif' >Control (F)</text>
<line x1="121" y1="53.5" x2="148" y2="53.5" stroke="#3d9a2b" stroke-width="1.1" />
<g fill="#3d9a2b" stroke="#2f7821" stroke-width="0.5"><circle cx="134.5" cy="53.5" r="2.4"/></g>
<g fill="#fff" fill-opacity="0.8"><circle cx="133.78" cy="52.78" r="0.86"/></g>
<text x="150.4" y="57.8" font-size="12" text-anchor="start" fill="#000" font-family='"Liberation Sans", sans-serif' >Control (R)</text>
<text x="56" y="72.4" font-size="12" font-family='"Liberation Sans", sans-serif'><tspan font-style="italic">V</tspan><tspan font-size="8.6" dy="2.2" font-style="italic">OC</tspan></text>
<text x="98" y="72.4" font-size="12" font-family='"Liberation Sans", sans-serif'><tspan font-style="italic">J</tspan><tspan font-size="8.6" dy="2.2" font-style="italic">SC</tspan></text>
<text x="141.2" y="72.4" font-size="12" text-anchor="start" fill="#000" font-family='"Liberation Sans", sans-serif' >FF</text>
<text x="181.5" y="72.4" font-size="12" text-anchor="start" fill="#000" font-family='"Liberation Sans", sans-serif' >PCE</text>
<text x="48.5" y="89.2" font-size="12" text-anchor="start" fill="#ff2bff" font-family='"Liberation Sans", sans-serif' >1.191</text>
<text x="91.5" y="89.2" font-size="12" text-anchor="start" fill="#ff2bff" font-family='"Liberation Sans", sans-serif' >26.38</text>
<text x="133.5" y="89.2" font-size="12" text-anchor="start" fill="#ff2bff" font-family='"Liberation Sans", sans-serif' >83.49</text>
<text x="179.5" y="89.2" font-size="12" text-anchor="start" fill="#ff2bff" font-family='"Liberation Sans", sans-serif' >26.24</text>
<text x="48.5" y="103.45" font-size="12" text-anchor="start" fill="#f0307f" font-family='"Liberation Sans", sans-serif' >1.193</text>
<text x="91.5" y="103.45" font-size="12" text-anchor="start" fill="#f0307f" font-family='"Liberation Sans", sans-serif' >26.38</text>
<text x="133.5" y="103.45" font-size="12" text-anchor="start" fill="#f0307f" font-family='"Liberation Sans", sans-serif' >84.12</text>
<text x="179.5" y="103.45" font-size="12" text-anchor="start" fill="#f0307f" font-family='"Liberation Sans", sans-serif' >26.48</text>
<text x="48.5" y="117.7" font-size="12" text-anchor="start" fill="#2020ff" font-family='"Liberation Sans", sans-serif' >1.130</text>
<text x="91.5" y="117.7" font-size="12" text-anchor="start" fill="#2020ff" font-family='"Liberation Sans", sans-serif' >26.42</text>
<text x="133.5" y="117.7" font-size="12" text-anchor="start" fill="#2020ff" font-family='"Liberation Sans", sans-serif' >78.23</text>
<text x="179.5" y="117.7" font-size="12" text-anchor="start" fill="#2020ff" font-family='"Liberation Sans", sans-serif' >23.36</text>
<text x="48.5" y="131.95" font-size="12" text-anchor="start" fill="#3d9a2b" font-family='"Liberation Sans", sans-serif' >1.138</text>
<text x="91.5" y="131.95" font-size="12" text-anchor="start" fill="#3d9a2b" font-family='"Liberation Sans", sans-serif' >26.36</text>
<text x="137.5" y="131.95" font-size="12" text-anchor="start" fill="#3d9a2b" font-family='"Liberation Sans", sans-serif' >81.27</text>
<text x="179.5" y="131.95" font-size="12" text-anchor="start" fill="#3d9a2b" font-family='"Liberation Sans", sans-serif' >24.38</text>
<text x="265.5" y="16" font-size="20" text-anchor="start" fill="#000" font-family='"Liberation Sans", sans-serif' >b</text>
<clipPath id="cb"><rect x="299.9" y="15.4" width="164.70000000000005" height="114.69999999999999"/></clipPath>
<g clip-path="url(#cb)">
<polyline points="301.5,130.1 301.66,115.34 301.9,37.11 302.04,35.69 302.39,36.36 302.74,36.11 303.09,37.28 303.44,37.04 303.8,37.61 304.15,38.35 304.5,38.07 304.85,38.98 305.2,38.74 305.55,39.48 305.9,39.7 306.25,39.49 306.6,39.17 306.95,40.31 307.31,40.37 307.66,40.02 308.01,39.77 308.36,40.42 308.71,40.82 309.06,40.19 309.41,41.56 309.76,40.61 310.11,41.49 310.46,41.8 310.81,41.94 311.17,41.79 311.52,41.21 311.87,42.14 312.22,41.7 312.57,41.7 312.92,42.13 313.27,41.97 313.62,42.68 313.97,42.75 314.32,42.61 314.68,42.04 315.03,42.43 315.38,42.63 315.73,42.31 316.08,42.53 316.43,42.78 316.78,42.16 317.13,42.33 317.48,42.96 317.83,42.56 318.19,42.66 318.54,42.22 318.89,42.44 319.24,43.05 319.59,42.16 319.94,43.33 320.29,42.95 320.64,42.52 320.99,43.34 321.34,42.91 321.7,43.53 322.05,42.71 322.4,42.6 322.75,42.87 323.1,42.48 323.45,43.24 323.8,42.74 324.15,42.89 324.5,42.92 324.85,43.09 325.21,42.59 325.56,42.46 325.91,43.1 326.26,42.85 326.61,43.66 326.96,42.82 327.31,42.9 327.66,42.44 328.01,42.68 328.36,43.39 328.72,43.27 329.07,42.89 329.42,43.76 329.77,43.18 330.12,43.57 330.47,43.64 330.82,43.73 331.17,42.79 331.52,43.64 331.87,43.48 332.23,43.3 332.58,42.66 332.93,43.71 333.28,43.23 333.63,43.1 333.98,42.66 334.33,42.74 334.68,42.69 335.03,43.46 335.38,43.28 335.74,43.36 336.09,42.67 336.44,42.57 336.79,43.64 337.14,43.61 337.49,43.54 337.84,43.54 338.19,43.2 338.54,43.07 338.89,43.5 339.25,43.84 339.6,43.29 339.95,43.36 340.3,43.1 340.65,42.59 341,42.94 341.35,43.17 341.7,43.03 342.05,42.96 342.41,43.78 342.76,42.66 343.11,42.82 343.46,42.7 343.81,42.8 344.16,43.34 344.51,43.33 344.86,43.72 345.21,43.02 345.56,43.78 345.92,43.77 346.27,43.58 346.62,43.64 346.97,43.41 347.32,43.79 347.67,43.86 348.02,43.66 348.37,43.73 348.72,43.38 349.07,43.83 349.43,42.7 349.78,43.05 350.13,43.67 350.48,43.53 350.83,43.4 351.18,43.38 351.53,43.7 351.88,42.74 352.23,42.54 352.58,43.24 352.94,43.22 353.29,43.75 353.64,43.73 353.99,43.41 354.34,43.51 354.69,42.76 355.04,43.65 355.39,43.83 355.74,42.6 356.09,43.16 356.45,43.67 356.8,43.14 357.15,43.83 357.5,43.16 357.85,42.56 358.2,42.72 358.55,42.94 358.9,43.52 359.25,43.38 359.6,43.64 359.96,42.84 360.31,43.16 360.66,42.83 361.01,43.43 361.36,43.57 361.71,42.79 362.06,42.56 362.41,42.73 362.76,42.79 363.11,42.78 363.47,42.88 363.82,43.56 364.17,43.18 364.52,43.39 364.87,43.83 365.22,43.83 365.57,43.49 365.92,43.52 366.27,42.94 366.62,42.59 366.98,43.27 367.33,42.62 367.68,42.55 368.03,42.6 368.38,43.38 368.73,43.57 369.08,43.56 369.43,43.6 369.78,43.59 370.13,43.04 370.49,42.67 370.84,42.75 371.19,43.23 371.54,43 371.89,42.8 372.24,43.75 372.59,42.99 372.94,42.66 373.29,42.83 373.64,42.87 374,43.23 374.35,43.63 374.7,42.82 375.05,43.42 375.4,42.8 375.75,42.57 376.1,43.34 376.45,43.33 376.8,42.61 377.15,42.9 377.51,43.64 377.86,43.7 378.21,43.66 378.56,42.66 378.91,42.79 379.26,43.67 379.61,42.77 379.96,42.56 380.31,42.99 380.66,43.4 381.02,43.14 381.37,43.69 381.72,43.85 382.07,42.57 382.42,43 382.77,43.17 383.12,42.62 383.47,43.29 383.82,42.71 384.17,42.77 384.53,43.58 384.88,43.53 385.23,43.48 385.58,43.55 385.93,43.09 386.28,43.52 386.63,43.31 386.98,43.69 387.33,42.66 387.68,43.39 388.04,43.26 388.39,43.09 388.74,42.66 389.09,43.31 389.44,42.65 389.79,43.2 390.14,43.16 390.49,43.17 390.84,43.84 391.19,43.28 391.55,43.62 391.9,43.86 392.25,42.8 392.6,43.64 392.95,43.24 393.3,42.9 393.65,43.13 394,43.43 394.35,43.18 394.7,43.13 395.06,42.82 395.41,43.72 395.76,43.12 396.11,43.53 396.46,43.5 396.81,42.84 397.16,43.19 397.51,43.12 397.86,42.86 398.21,42.65 398.57,43.28 398.92,43.05 399.27,43.19 399.62,43.18 399.97,42.94 400.32,43.26 400.67,43.16 401.02,43.23 401.37,42.61 401.72,42.94 402.08,42.7 402.43,42.61 402.78,43.52 403.13,43.12 403.48,42.61 403.83,42.75 404.18,43.68 404.53,43.7 404.88,43.28 405.23,43.77 405.59,43.55 405.94,43.77 406.29,42.98 406.64,42.82 406.99,42.67 407.34,43.66 407.69,42.91 408.04,42.99 408.39,43.67 408.74,42.69 409.1,42.58 409.45,43.57 409.8,42.6 410.15,43.34 410.5,43.22 410.85,42.55 411.2,42.76 411.55,43.65 411.9,43.29 412.25,43.18 412.61,43.41 412.96,43.6 413.31,43.44 413.66,42.91 414.01,43.84 414.36,43.13 414.71,43.28 415.06,43.84 415.41,43.42 415.76,43.04 416.12,43.18 416.47,43.78 416.82,42.56 417.17,42.82 417.52,42.57 417.87,43.73 418.22,43.51 418.57,43.81 418.92,42.83 419.27,43.51 419.63,43.69 419.98,43.3 420.33,42.65 420.68,42.78 421.03,43.52 421.38,43.67 421.73,42.64 422.08,43.11 422.43,42.93 422.78,43.75 423.14,43.79 423.49,42.95 423.84,43.3 424.19,43.77 424.54,42.62 424.89,43.02 425.24,42.8 425.59,43.75 425.94,42.73 426.29,43.78 426.65,42.72 427,43.26 427.35,43.41 427.7,43.13 428.05,42.63 428.4,43.51 428.75,43.69 429.1,43.16 429.45,43.55 429.8,43.72 430.16,43.65 430.51,43.8 430.86,43.6 431.21,43.45 431.56,43.46 431.91,42.86 432.26,43.48 432.61,43.2 432.96,43.63 433.31,43.4 433.67,43.84 434.02,43.53 434.37,43.84 434.72,42.89 435.07,43.13 435.42,43.61 435.77,43.23 436.12,42.62 436.47,43.72 436.82,42.78 437.18,43.29 437.53,43.21 437.88,42.76 438.23,43.34 438.58,43.19 438.93,42.95 439.28,42.56 439.63,43.41 439.98,42.76 440.33,42.93 440.69,43.02 441.04,43.33 441.39,43.4 441.74,43.79 442.09,43.69 442.44,43.77 442.79,42.88 443.14,43.53 443.49,43.65 443.84,43.75 444.2,42.75 444.55,42.71 444.9,42.97 445.25,43.49 445.6,43.54 445.95,43.48 446.3,43.25 446.65,43.66 447,43.27 447.35,43.52 447.71,42.59 448.06,42.57 448.41,43.14 448.76,43.54 449.11,42.58 449.46,43.45 449.81,43.39 450.16,43.86 450.51,43.36 450.86,43.23 451.22,43.2 451.57,43.6 451.92,43.19 452.27,43.86 452.62,43.51 452.97,43.75 453.32,43.33 453.67,43.81 454.02,43.83 454.37,43.46 454.73,43.56 455.08,43.09 455.43,43.16 455.78,42.87 456.13,42.99 456.48,42.91 456.83,42.7 457.18,43.35 457.53,43.43 457.88,42.56 458.24,43.67 458.59,42.9 458.94,43.01 459.29,43.81 459.64,42.76 459.99,42.68 460.34,43.03 460.69,42.89 461.04,42.79 461.39,43.68 461.75,43.17 462.1,43.19 462.45,42.76 462.8,42.8 463.15,42.77 463.5,43.09 463.85,42.68 464.2,42.96 464.55,42.94" fill="none" stroke="#3d9a2b" stroke-width="1" stroke-linejoin="round" />
<g fill="#3d9a2b"><circle cx="301.82" cy="114.79" r="1.9"/><circle cx="301.82" cy="119.4" r="1.9"/><circle cx="301.58" cy="42.65" r="1.9"/><circle cx="302.04" cy="35.69" r="1.9"/><circle cx="302.39" cy="36.36" r="1.9"/><circle cx="302.74" cy="36.11" r="1.9"/><circle cx="303.09" cy="37.28" r="1.9"/><circle cx="303.44" cy="37.04" r="1.9"/><circle cx="303.8" cy="37.61" r="1.9"/><circle cx="304.15" cy="38.35" r="1.9"/><circle cx="304.5" cy="38.07" r="1.9"/><circle cx="304.85" cy="38.98" r="1.9"/><circle cx="305.2" cy="38.74" r="1.9"/><circle cx="305.55" cy="39.48" r="1.9"/><circle cx="305.9" cy="39.7" r="1.9"/><circle cx="306.25" cy="39.49" r="1.9"/><circle cx="306.6" cy="39.17" r="1.9"/><circle cx="306.95" cy="40.31" r="1.9"/><circle cx="307.31" cy="40.37" r="1.9"/><circle cx="307.66" cy="40.02" r="1.9"/><circle cx="308.01" cy="39.77" r="1.9"/><circle cx="308.36" cy="40.42" r="1.9"/><circle cx="308.71" cy="40.82" r="1.9"/><circle cx="309.06" cy="40.19" r="1.9"/><circle cx="309.41" cy="41.56" r="1.9"/><circle cx="309.76" cy="40.61" r="1.9"/><circle cx="310.11" cy="41.49" r="1.9"/><circle cx="310.46" cy="41.8" r="1.9"/><circle cx="310.81" cy="41.94" r="1.9"/><circle cx="311.17" cy="41.79" r="1.9"/><circle cx="311.52" cy="41.21" r="1.9"/><circle cx="311.87" cy="42.14" r="1.9"/><circle cx="312.22" cy="41.7" r="1.9"/><circle cx="312.57" cy="41.7" r="1.9"/><circle cx="312.92" cy="42.13" r="1.9"/><circle cx="313.27" cy="41.97" r="1.9"/><circle cx="313.62" cy="42.68" r="1.9"/><circle cx="313.97" cy="42.75" r="1.9"/><circle cx="314.32" cy="42.61" r="1.9"/><circle cx="314.68" cy="42.04" r="1.9"/><circle cx="315.03" cy="42.43" r="1.9"/><circle cx="315.38" cy="42.63" r="1.9"/><circle cx="315.73" cy="42.31" r="1.9"/><circle cx="316.08" cy="42.53" r="1.9"/><circle cx="316.43" cy="42.78" r="1.9"/><circle cx="316.78" cy="42.16" r="1.9"/><circle cx="317.13" cy="42.33" r="1.9"/><circle cx="317.48" cy="42.96" r="1.9"/><circle cx="317.83" cy="42.56" r="1.9"/><circle cx="318.19" cy="42.66" r="1.9"/><circle cx="318.54" cy="42.22" r="1.9"/><circle cx="318.89" cy="42.44" r="1.9"/><circle cx="319.24" cy="43.05" r="1.9"/><circle cx="319.59" cy="42.16" r="1.9"/><circle cx="319.94" cy="43.33" r="1.9"/><circle cx="320.29" cy="42.95" r="1.9"/><circle cx="320.64" cy="42.52" r="1.9"/><circle cx="320.99" cy="43.34" r="1.9"/><circle cx="321.34" cy="42.91" r="1.9"/><circle cx="321.7" cy="43.53" r="1.9"/><circle cx="322.05" cy="42.71" r="1.9"/><circle cx="322.4" cy="42.6" r="1.9"/><circle cx="322.75" cy="42.87" r="1.9"/><circle cx="323.1" cy="42.48" r="1.9"/><circle cx="323.45" cy="43.24" r="1.9"/><circle cx="323.8" cy="42.74" r="1.9"/><circle cx="324.15" cy="42.89" r="1.9"/><circle cx="324.5" cy="42.92" r="1.9"/><circle cx="324.85" cy="43.09" r="1.9"/><circle cx="325.21" cy="42.59" r="1.9"/><circle cx="325.56" cy="42.46" r="1.9"/><circle cx="325.91" cy="43.1" r="1.9"/><circle cx="326.26" cy="42.85" r="1.9"/><circle cx="326.61" cy="43.66" r="1.9"/><circle cx="326.96" cy="42.82" r="1.9"/><circle cx="327.31" cy="42.9" r="1.9"/><circle cx="327.66" cy="42.44" r="1.9"/><circle cx="328.01" cy="42.68" r="1.9"/><circle cx="328.36" cy="43.39" r="1.9"/><circle cx="328.72" cy="43.27" r="1.9"/><circle cx="329.07" cy="42.89" r="1.9"/><circle cx="329.42" cy="43.76" r="1.9"/><circle cx="329.77" cy="43.18" r="1.9"/><circle cx="330.12" cy="43.57" r="1.9"/><circle cx="330.47" cy="43.64" r="1.9"/><circle cx="330.82" cy="43.73" r="1.9"/><circle cx="331.17" cy="42.79" r="1.9"/><circle cx="331.52" cy="43.64" r="1.9"/><circle cx="331.87" cy="43.48" r="1.9"/><circle cx="332.23" cy="43.3" r="1.9"/><circle cx="332.58" cy="42.66" r="1.9"/><circle cx="332.93" cy="43.71" r="1.9"/><circle cx="333.28" cy="43.23" r="1.9"/><circle cx="333.63" cy="43.1" r="1.9"/><circle cx="333.98" cy="42.66" r="1.9"/><circle cx="334.33" cy="42.74" r="1.9"/><circle cx="334.68" cy="42.69" r="1.9"/><circle cx="335.03" cy="43.46" r="1.9"/><circle cx="335.38" cy="43.28" r="1.9"/><circle cx="335.74" cy="43.36" r="1.9"/><circle cx="336.09" cy="42.67" r="1.9"/><circle cx="336.44" cy="42.57" r="1.9"/><circle cx="336.79" cy="43.64" r="1.9"/><circle cx="337.14" cy="43.61" r="1.9"/><circle cx="337.49" cy="43.54" r="1.9"/><circle cx="337.84" cy="43.54" r="1.9"/><circle cx="338.19" cy="43.2" r="1.9"/><circle cx="338.54" cy="43.07" r="1.9"/><circle cx="338.89" cy="43.5" r="1.9"/><circle cx="339.25" cy="43.84" r="1.9"/><circle cx="339.6" cy="43.29" r="1.9"/><circle cx="339.95" cy="43.36" r="1.9"/><circle cx="340.3" cy="43.1" r="1.9"/><circle cx="340.65" cy="42.59" r="1.9"/><circle cx="341" cy="42.94" r="1.9"/><circle cx="341.35" cy="43.17" r="1.9"/><circle cx="341.7" cy="43.03" r="1.9"/><circle cx="342.05" cy="42.96" r="1.9"/><circle cx="342.41" cy="43.78" r="1.9"/><circle cx="342.76" cy="42.66" r="1.9"/><circle cx="343.11" cy="42.82" r="1.9"/><circle cx="343.46" cy="42.7" r="1.9"/><circle cx="343.81" cy="42.8" r="1.9"/><circle cx="344.16" cy="43.34" r="1.9"/><circle cx="344.51" cy="43.33" r="1.9"/><circle cx="344.86" cy="43.72" r="1.9"/><circle cx="345.21" cy="43.02" r="1.9"/><circle cx="345.56" cy="43.78" r="1.9"/><circle cx="345.92" cy="43.77" r="1.9"/><circle cx="346.27" cy="43.58" r="1.9"/><circle cx="346.62" cy="43.64" r="1.9"/><circle cx="346.97" cy="43.41" r="1.9"/><circle cx="347.32" cy="43.79" r="1.9"/><circle cx="347.67" cy="43.86" r="1.9"/><circle cx="348.02" cy="43.66" r="1.9"/><circle cx="348.37" cy="43.73" r="1.9"/><circle cx="348.72" cy="43.38" r="1.9"/><circle cx="349.07" cy="43.83" r="1.9"/><circle cx="349.43" cy="42.7" r="1.9"/><circle cx="349.78" cy="43.05" r="1.9"/><circle cx="350.13" cy="43.67" r="1.9"/><circle cx="350.48" cy="43.53" r="1.9"/><circle cx="350.83" cy="43.4" r="1.9"/><circle cx="351.18" cy="43.38" r="1.9"/><circle cx="351.53" cy="43.7" r="1.9"/><circle cx="351.88" cy="42.74" r="1.9"/><circle cx="352.23" cy="42.54" r="1.9"/><circle cx="352.58" cy="43.24" r="1.9"/><circle cx="352.94" cy="43.22" r="1.9"/><circle cx="353.29" cy="43.75" r="1.9"/><circle cx="353.64" cy="43.73" r="1.9"/><circle cx="353.99" cy="43.41" r="1.9"/><circle cx="354.34" cy="43.51" r="1.9"/><circle cx="354.69" cy="42.76" r="1.9"/><circle cx="355.04" cy="43.65" r="1.9"/><circle cx="355.39" cy="43.83" r="1.9"/><circle cx="355.74" cy="42.6" r="1.9"/><circle cx="356.09" cy="43.16" r="1.9"/><circle cx="356.45" cy="43.67" r="1.9"/><circle cx="356.8" cy="43.14" r="1.9"/><circle cx="357.15" cy="43.83" r="1.9"/><circle cx="357.5" cy="43.16" r="1.9"/><circle cx="357.85" cy="42.56" r="1.9"/><circle cx="358.2" cy="42.72" r="1.9"/><circle cx="358.55" cy="42.94" r="1.9"/><circle cx="358.9" cy="43.52" r="1.9"/><circle cx="359.25" cy="43.38" r="1.9"/><circle cx="359.6" cy="43.64" r="1.9"/><circle cx="359.96" cy="42.84" r="1.9"/><circle cx="360.31" cy="43.16" r="1.9"/><circle cx="360.66" cy="42.83" r="1.9"/><circle cx="361.01" cy="43.43" r="1.9"/><circle cx="361.36" cy="43.57" r="1.9"/><circle cx="361.71" cy="42.79" r="1.9"/><circle cx="362.06" cy="42.56" r="1.9"/><circle cx="362.41" cy="42.73" r="1.9"/><circle cx="362.76" cy="42.79" r="1.9"/><circle cx="363.11" cy="42.78" r="1.9"/><circle cx="363.47" cy="42.88" r="1.9"/><circle cx="363.82" cy="43.56" r="1.9"/><circle cx="364.17" cy="43.18" r="1.9"/><circle cx="364.52" cy="43.39" r="1.9"/><circle cx="364.87" cy="43.83" r="1.9"/><circle cx="365.22" cy="43.83" r="1.9"/><circle cx="365.57" cy="43.49" r="1.9"/><circle cx="365.92" cy="43.52" r="1.9"/><circle cx="366.27" cy="42.94" r="1.9"/><circle cx="366.62" cy="42.59" r="1.9"/><circle cx="366.98" cy="43.27" r="1.9"/><circle cx="367.33" cy="42.62" r="1.9"/><circle cx="367.68" cy="42.55" r="1.9"/><circle cx="368.03" cy="42.6" r="1.9"/><circle cx="368.38" cy="43.38" r="1.9"/><circle cx="368.73" cy="43.57" r="1.9"/><circle cx="369.08" cy="43.56" r="1.9"/><circle cx="369.43" cy="43.6" r="1.9"/><circle cx="369.78" cy="43.59" r="1.9"/><circle cx="370.13" cy="43.04" r="1.9"/><circle cx="370.49" cy="42.67" r="1.9"/><circle cx="370.84" cy="42.75" r="1.9"/><circle cx="371.19" cy="43.23" r="1.9"/><circle cx="371.54" cy="43" r="1.9"/><circle cx="371.89" cy="42.8" r="1.9"/><circle cx="372.24" cy="43.75" r="1.9"/><circle cx="372.59" cy="42.99" r="1.9"/><circle cx="372.94" cy="42.66" r="1.9"/><circle cx="373.29" cy="42.83" r="1.9"/><circle cx="373.64" cy="42.87" r="1.9"/><circle cx="374" cy="43.23" r="1.9"/><circle cx="374.35" cy="43.63" r="1.9"/><circle cx="374.7" cy="42.82" r="1.9"/><circle cx="375.05" cy="43.42" r="1.9"/><circle cx="375.4" cy="42.8" r="1.9"/><circle cx="375.75" cy="42.57" r="1.9"/><circle cx="376.1" cy="43.34" r="1.9"/><circle cx="376.45" cy="43.33" r="1.9"/><circle cx="376.8" cy="42.61" r="1.9"/><circle cx="377.15" cy="42.9" r="1.9"/><circle cx="377.51" cy="43.64" r="1.9"/><circle cx="377.86" cy="43.7" r="1.9"/><circle cx="378.21" cy="43.66" r="1.9"/><circle cx="378.56" cy="42.66" r="1.9"/><circle cx="378.91" cy="42.79" r="1.9"/><circle cx="379.26" cy="43.67" r="1.9"/><circle cx="379.61" cy="42.77" r="1.9"/><circle cx="379.96" cy="42.56" r="1.9"/><circle cx="380.31" cy="42.99" r="1.9"/><circle cx="380.66" cy="43.4" r="1.9"/><circle cx="381.02" cy="43.14" r="1.9"/><circle cx="381.37" cy="43.69" r="1.9"/><circle cx="381.72" cy="43.85" r="1.9"/><circle cx="382.07" cy="42.57" r="1.9"/><circle cx="382.42" cy="43" r="1.9"/><circle cx="382.77" cy="43.17" r="1.9"/><circle cx="383.12" cy="42.62" r="1.9"/><circle cx="383.47" cy="43.29" r="1.9"/><circle cx="383.82" cy="42.71" r="1.9"/><circle cx="384.17" cy="42.77" r="1.9"/><circle cx="384.53" cy="43.58" r="1.9"/><circle cx="384.88" cy="43.53" r="1.9"/><circle cx="385.23" cy="43.48" r="1.9"/><circle cx="385.58" cy="43.55" r="1.9"/><circle cx="385.93" cy="43.09" r="1.9"/><circle cx="386.28" cy="43.52" r="1.9"/><circle cx="386.63" cy="43.31" r="1.9"/><circle cx="386.98" cy="43.69" r="1.9"/><circle cx="387.33" cy="42.66" r="1.9"/><circle cx="387.68" cy="43.39" r="1.9"/><circle cx="388.04" cy="43.26" r="1.9"/><circle cx="388.39" cy="43.09" r="1.9"/><circle cx="388.74" cy="42.66" r="1.9"/><circle cx="389.09" cy="43.31" r="1.9"/><circle cx="389.44" cy="42.65" r="1.9"/><circle cx="389.79" cy="43.2" r="1.9"/><circle cx="390.14" cy="43.16" r="1.9"/><circle cx="390.49" cy="43.17" r="1.9"/><circle cx="390.84" cy="43.84" r="1.9"/><circle cx="391.19" cy="43.28" r="1.9"/><circle cx="391.55" cy="43.62" r="1.9"/><circle cx="391.9" cy="43.86" r="1.9"/><circle cx="392.25" cy="42.8" r="1.9"/><circle cx="392.6" cy="43.64" r="1.9"/><circle cx="392.95" cy="43.24" r="1.9"/><circle cx="393.3" cy="42.9" r="1.9"/><circle cx="393.65" cy="43.13" r="1.9"/><circle cx="394" cy="43.43" r="1.9"/><circle cx="394.35" cy="43.18" r="1.9"/><circle cx="394.7" cy="43.13" r="1.9"/><circle cx="395.06" cy="42.82" r="1.9"/><circle cx="395.41" cy="43.72" r="1.9"/><circle cx="395.76" cy="43.12" r="1.9"/><circle cx="396.11" cy="43.53" r="1.9"/><circle cx="396.46" cy="43.5" r="1.9"/><circle cx="396.81" cy="42.84" r="1.9"/><circle cx="397.16" cy="43.19" r="1.9"/><circle cx="397.51" cy="43.12" r="1.9"/><circle cx="397.86" cy="42.86" r="1.9"/><circle cx="398.21" cy="42.65" r="1.9"/><circle cx="398.57" cy="43.28" r="1.9"/><circle cx="398.92" cy="43.05" r="1.9"/><circle cx="399.27" cy="43.19" r="1.9"/><circle cx="399.62" cy="43.18" r="1.9"/><circle cx="399.97" cy="42.94" r="1.9"/><circle cx="400.32" cy="43.26" r="1.9"/><circle cx="400.67" cy="43.16" r="1.9"/><circle cx="401.02" cy="43.23" r="1.9"/><circle cx="401.37" cy="42.61" r="1.9"/><circle cx="401.72" cy="42.94" r="1.9"/><circle cx="402.08" cy="42.7" r="1.9"/><circle cx="402.43" cy="42.61" r="1.9"/><circle cx="402.78" cy="43.52" r="1.9"/><circle cx="403.13" cy="43.12" r="1.9"/><circle cx="403.48" cy="42.61" r="1.9"/><circle cx="403.83" cy="42.75" r="1.9"/><circle cx="404.18" cy="43.68" r="1.9"/><circle cx="404.53" cy="43.7" r="1.9"/><circle cx="404.88" cy="43.28" r="1.9"/><circle cx="405.23" cy="43.77" r="1.9"/><circle cx="405.59" cy="43.55" r="1.9"/><circle cx="405.94" cy="43.77" r="1.9"/><circle cx="406.29" cy="42.98" r="1.9"/><circle cx="406.64" cy="42.82" r="1.9"/><circle cx="406.99" cy="42.67" r="1.9"/><circle cx="407.34" cy="43.66" r="1.9"/><circle cx="407.69" cy="42.91" r="1.9"/><circle cx="408.04" cy="42.99" r="1.9"/><circle cx="408.39" cy="43.67" r="1.9"/><circle cx="408.74" cy="42.69" r="1.9"/><circle cx="409.1" cy="42.58" r="1.9"/><circle cx="409.45" cy="43.57" r="1.9"/><circle cx="409.8" cy="42.6" r="1.9"/><circle cx="410.15" cy="43.34" r="1.9"/><circle cx="410.5" cy="43.22" r="1.9"/><circle cx="410.85" cy="42.55" r="1.9"/><circle cx="411.2" cy="42.76" r="1.9"/><circle cx="411.55" cy="43.65" r="1.9"/><circle cx="411.9" cy="43.29" r="1.9"/><circle cx="412.25" cy="43.18" r="1.9"/><circle cx="412.61" cy="43.41" r="1.9"/><circle cx="412.96" cy="43.6" r="1.9"/><circle cx="413.31" cy="43.44" r="1.9"/><circle cx="413.66" cy="42.91" r="1.9"/><circle cx="414.01" cy="43.84" r="1.9"/><circle cx="414.36" cy="43.13" r="1.9"/><circle cx="414.71" cy="43.28" r="1.9"/><circle cx="415.06" cy="43.84" r="1.9"/><circle cx="415.41" cy="43.42" r="1.9"/><circle cx="415.76" cy="43.04" r="1.9"/><circle cx="416.12" cy="43.18" r="1.9"/><circle cx="416.47" cy="43.78" r="1.9"/><circle cx="416.82" cy="42.56" r="1.9"/><circle cx="417.17" cy="42.82" r="1.9"/><circle cx="417.52" cy="42.57" r="1.9"/><circle cx="417.87" cy="43.73" r="1.9"/><circle cx="418.22" cy="43.51" r="1.9"/><circle cx="418.57" cy="43.81" r="1.9"/><circle cx="418.92" cy="42.83" r="1.9"/><circle cx="419.27" cy="43.51" r="1.9"/><circle cx="419.63" cy="43.69" r="1.9"/><circle cx="419.98" cy="43.3" r="1.9"/><circle cx="420.33" cy="42.65" r="1.9"/><circle cx="420.68" cy="42.78" r="1.9"/><circle cx="421.03" cy="43.52" r="1.9"/><circle cx="421.38" cy="43.67" r="1.9"/><circle cx="421.73" cy="42.64" r="1.9"/><circle cx="422.08" cy="43.11" r="1.9"/><circle cx="422.43" cy="42.93" r="1.9"/><circle cx="422.78" cy="43.75" r="1.9"/><circle cx="423.14" cy="43.79" r="1.9"/><circle cx="423.49" cy="42.95" r="1.9"/><circle cx="423.84" cy="43.3" r="1.9"/><circle cx="424.19" cy="43.77" r="1.9"/><circle cx="424.54" cy="42.62" r="1.9"/><circle cx="424.89" cy="43.02" r="1.9"/><circle cx="425.24" cy="42.8" r="1.9"/><circle cx="425.59" cy="43.75" r="1.9"/><circle cx="425.94" cy="42.73" r="1.9"/><circle cx="426.29" cy="43.78" r="1.9"/><circle cx="426.65" cy="42.72" r="1.9"/><circle cx="427" cy="43.26" r="1.9"/><circle cx="427.35" cy="43.41" r="1.9"/><circle cx="427.7" cy="43.13" r="1.9"/><circle cx="428.05" cy="42.63" r="1.9"/><circle cx="428.4" cy="43.51" r="1.9"/><circle cx="428.75" cy="43.69" r="1.9"/><circle cx="429.1" cy="43.16" r="1.9"/><circle cx="429.45" cy="43.55" r="1.9"/><circle cx="429.8" cy="43.72" r="1.9"/><circle cx="430.16" cy="43.65" r="1.9"/><circle cx="430.51" cy="43.8" r="1.9"/><circle cx="430.86" cy="43.6" r="1.9"/><circle cx="431.21" cy="43.45" r="1.9"/><circle cx="431.56" cy="43.46" r="1.9"/><circle cx="431.91" cy="42.86" r="1.9"/><circle cx="432.26" cy="43.48" r="1.9"/><circle cx="432.61" cy="43.2" r="1.9"/><circle cx="432.96" cy="43.63" r="1.9"/><circle cx="433.31" cy="43.4" r="1.9"/><circle cx="433.67" cy="43.84" r="1.9"/><circle cx="434.02" cy="43.53" r="1.9"/><circle cx="434.37" cy="43.84" r="1.9"/><circle cx="434.72" cy="42.89" r="1.9"/><circle cx="435.07" cy="43.13" r="1.9"/><circle cx="435.42" cy="43.61" r="1.9"/><circle cx="435.77" cy="43.23" r="1.9"/><circle cx="436.12" cy="42.62" r="1.9"/><circle cx="436.47" cy="43.72" r="1.9"/><circle cx="436.82" cy="42.78" r="1.9"/><circle cx="437.18" cy="43.29" r="1.9"/><circle cx="437.53" cy="43.21" r="1.9"/><circle cx="437.88" cy="42.76" r="1.9"/><circle cx="438.23" cy="43.34" r="1.9"/><circle cx="438.58" cy="43.19" r="1.9"/><circle cx="438.93" cy="42.95" r="1.9"/><circle cx="439.28" cy="42.56" r="1.9"/><circle cx="439.63" cy="43.41" r="1.9"/><circle cx="439.98" cy="42.76" r="1.9"/><circle cx="440.33" cy="42.93" r="1.9"/><circle cx="440.69" cy="43.02" r="1.9"/><circle cx="441.04" cy="43.33" r="1.9"/><circle cx="441.39" cy="43.4" r="1.9"/><circle cx="441.74" cy="43.79" r="1.9"/><circle cx="442.09" cy="43.69" r="1.9"/><circle cx="442.44" cy="43.77" r="1.9"/><circle cx="442.79" cy="42.88" r="1.9"/><circle cx="443.14" cy="43.53" r="1.9"/><circle cx="443.49" cy="43.65" r="1.9"/><circle cx="443.84" cy="43.75" r="1.9"/><circle cx="444.2" cy="42.75" r="1.9"/><circle cx="444.55" cy="42.71" r="1.9"/><circle cx="444.9" cy="42.97" r="1.9"/><circle cx="445.25" cy="43.49" r="1.9"/><circle cx="445.6" cy="43.54" r="1.9"/><circle cx="445.95" cy="43.48" r="1.9"/><circle cx="446.3" cy="43.25" r="1.9"/><circle cx="446.65" cy="43.66" r="1.9"/><circle cx="447" cy="43.27" r="1.9"/><circle cx="447.35" cy="43.52" r="1.9"/><circle cx="447.71" cy="42.59" r="1.9"/><circle cx="448.06" cy="42.57" r="1.9"/><circle cx="448.41" cy="43.14" r="1.9"/><circle cx="448.76" cy="43.54" r="1.9"/><circle cx="449.11" cy="42.58" r="1.9"/><circle cx="449.46" cy="43.45" r="1.9"/><circle cx="449.81" cy="43.39" r="1.9"/><circle cx="450.16" cy="43.86" r="1.9"/><circle cx="450.51" cy="43.36" r="1.9"/><circle cx="450.86" cy="43.23" r="1.9"/><circle cx="451.22" cy="43.2" r="1.9"/><circle cx="451.57" cy="43.6" r="1.9"/><circle cx="451.92" cy="43.19" r="1.9"/><circle cx="452.27" cy="43.86" r="1.9"/><circle cx="452.62" cy="43.51" r="1.9"/><circle cx="452.97" cy="43.75" r="1.9"/><circle cx="453.32" cy="43.33" r="1.9"/><circle cx="453.67" cy="43.81" r="1.9"/><circle cx="454.02" cy="43.83" r="1.9"/><circle cx="454.37" cy="43.46" r="1.9"/><circle cx="454.73" cy="43.56" r="1.9"/><circle cx="455.08" cy="43.09" r="1.9"/><circle cx="455.43" cy="43.16" r="1.9"/><circle cx="455.78" cy="42.87" r="1.9"/><circle cx="456.13" cy="42.99" r="1.9"/><circle cx="456.48" cy="42.91" r="1.9"/><circle cx="456.83" cy="42.7" r="1.9"/><circle cx="457.18" cy="43.35" r="1.9"/><circle cx="457.53" cy="43.43" r="1.9"/><circle cx="457.88" cy="42.56" r="1.9"/><circle cx="458.24" cy="43.67" r="1.9"/><circle cx="458.59" cy="42.9" r="1.9"/><circle cx="458.94" cy="43.01" r="1.9"/><circle cx="459.29" cy="43.81" r="1.9"/><circle cx="459.64" cy="42.76" r="1.9"/><circle cx="459.99" cy="42.68" r="1.9"/><circle cx="460.34" cy="43.03" r="1.9"/><circle cx="460.69" cy="42.89" r="1.9"/><circle cx="461.04" cy="42.79" r="1.9"/><circle cx="461.39" cy="43.68" r="1.9"/><circle cx="461.75" cy="43.17" r="1.9"/><circle cx="462.1" cy="43.19" r="1.9"/><circle cx="462.45" cy="42.76" r="1.9"/><circle cx="462.8" cy="42.8" r="1.9"/><circle cx="463.15" cy="42.77" r="1.9"/><circle cx="463.5" cy="43.09" r="1.9"/><circle cx="463.85" cy="42.68" r="1.9"/><circle cx="464.2" cy="42.96" r="1.9"/><circle cx="464.55" cy="42.94" r="1.9"/></g>
<polyline points="301.5,130.1 301.63,93.2 301.77,33.42 301.82,33.92 302.12,34.29 302.42,34.1 302.71,33.68 303.01,34.15 303.31,32.8 303.61,33.31 303.9,33.19 304.2,33.19 304.5,33.09 304.79,33.44 305.09,34.34 305.39,32.87 305.69,32.96 305.98,33.42 306.28,33.36 306.58,33.13 306.87,34.22 307.17,32.99 307.47,33.88 307.76,34.21 308.06,33.85 308.36,33 308.66,33.97 308.95,32.98 309.25,32.54 309.55,33.43 309.84,33.64 310.14,33.46 310.44,33.08 310.73,32.93 311.03,33.21 311.33,33.16 311.62,34.2 311.92,34.07 312.22,33.88 312.52,32.97 312.81,33.78 313.11,33.3 313.41,34.32 313.7,34.23 314,33.85 314.3,33.1 314.6,33.07 314.89,33.1 315.19,33.81 315.49,33.39 315.78,33.49 316.08,33.48 316.38,34.13 316.67,32.7 316.97,33.98 317.27,32.54 317.56,32.62 317.86,34.31 318.16,33.5 318.46,32.83 318.75,32.56 319.05,33.52 319.35,33.85 319.64,33.96 319.94,32.6 320.24,33.96 320.54,33.27 320.83,34.08 321.13,33.38 321.43,32.59 321.72,34.1 322.02,32.83 322.32,33.41 322.61,32.71 322.91,33.05 323.21,33.92 323.5,32.69 323.8,33.45 324.1,34.3 324.4,34.34 324.69,33.44 324.99,33.51 325.29,33.79 325.58,34.08 325.88,33.71 326.18,33.76 326.47,32.79 326.77,34.34 327.07,32.96 327.37,32.8 327.66,34.12 327.96,32.64 328.26,33.03 328.55,32.68 328.85,33.81 329.15,33.66 329.44,33.62 329.74,32.5 330.04,33.26 330.34,33.68 330.63,33.55 330.93,33.84 331.23,34.26 331.52,34.16 331.82,32.8 332.12,33.82 332.41,32.62 332.71,33.88 333.01,33.85 333.31,33.4 333.6,33.99 333.9,33.66 334.2,32.58 334.49,32.71 334.79,32.85 335.09,33.18 335.38,32.66 335.68,32.61 335.98,33.33 336.28,33.02 336.57,34.25 336.87,32.99 337.17,33.51 337.46,32.96 337.76,33.16 338.06,33.82 338.35,34.25 338.65,32.63 338.95,34.11 339.25,33.47 339.54,33.71 339.84,33.8 340.14,32.98 340.43,32.54 340.73,33.86 341.03,33.13 341.32,33.79 341.62,33.32 341.92,33.62 342.22,34.04 342.51,34.05 342.81,33.96 343.11,32.67 343.4,33.43 343.7,33.94 344,32.67 344.29,32.51 344.59,33.51 344.89,34.09 345.19,33.99 345.48,34.18 345.78,33.71 346.08,34.18 346.37,33.9 346.67,33.87 346.97,33.29 347.26,32.71 347.56,32.96 347.86,33.58 348.16,33.58 348.45,33.38 348.75,33.65 349.05,33.72 349.34,34.23 349.64,33.83 349.94,32.56 350.23,34.11 350.53,33.42 350.83,33.18 351.13,32.75 351.42,33.95 351.72,33.84 352.02,33.89 352.31,33.61 352.61,33.52 352.91,32.58 353.2,32.78 353.5,32.73 353.8,34.3 354.1,34.29 354.39,33.04 354.69,32.69 354.99,33.47 355.28,33.26 355.58,34.34 355.88,33.62 356.17,32.63 356.47,32.82 356.77,32.77 357.07,32.55 357.36,33.89 357.66,34.14 357.96,34.06 358.25,33.38 358.55,33.09 358.85,32.61 359.14,33.01 359.44,33.15 359.74,32.93 360.04,33.5 360.33,33.33 360.63,34.27 360.93,32.9 361.22,33.92 361.52,32.65 361.82,33.15 362.11,33.78 362.41,34.11 362.71,33.88 363.01,33.17 363.3,33.06 363.6,34.14 363.9,34.21 364.19,33.38 364.49,33.27 364.79,33.63 365.08,33.93 365.38,33.24 365.68,34.33 365.98,33.79 366.27,33.49 366.57,32.58 366.87,33.16 367.16,32.71 367.46,33.47 367.76,33.91 368.05,33.89 368.35,32.57 368.65,33.04 368.95,33.78 369.24,34.3 369.54,33.43 369.84,33.1 370.13,33.57 370.43,33.87 370.73,33.11 371.02,32.64 371.32,33.93 371.62,34.28 371.92,33.72 372.21,33.57 372.51,33.09 372.81,33.98 373.1,32.87 373.4,32.98 373.7,33.41 373.99,33.97 374.29,32.56 374.59,33.77 374.89,32.83 375.18,33.92 375.48,33.94 375.78,32.94 376.07,33.8 376.37,32.59 376.67,33.43 376.96,34 377.26,33.93 377.56,33.58 377.86,33.12 378.15,32.59 378.45,34.07 378.75,33.62 379.04,33.95 379.34,32.55 379.64,34.08 379.93,34.25 380.23,34.23 380.53,33.62 380.83,32.69 381.12,32.71 381.42,32.99 381.72,32.5 382.01,32.63 382.31,33.74 382.61,34 382.9,32.62 383.2,32.97 383.5,34.29 383.8,33.12 384.09,33.65 384.39,33.65 384.69,33.73 384.98,34.03 385.28,34.34 385.58,33.83 385.88,33.7 386.17,32.58 386.47,34.12 386.77,32.57 387.06,33.96 387.36,33.69 387.66,32.83 387.95,32.83 388.25,33.55 388.55,34.25 388.85,33.47 389.14,33.66 389.44,32.65 389.74,33.99 390.03,33.67 390.33,32.69 390.63,34.29 390.92,33.59 391.22,32.85 391.52,32.93 391.82,34.27 392.11,34.28 392.41,34.23 392.71,32.65 393,33.87 393.3,32.97 393.6,32.69 393.89,33.72 394.19,33.84 394.49,32.58 394.79,33.21 395.08,33.86 395.38,33.02 395.68,33.76 395.97,33.84 396.27,34.34 396.57,32.95 396.86,32.65 397.16,33.17 397.46,32.6 397.76,34.3 398.05,33.91 398.35,33.47 398.65,32.58 398.94,32.58 399.24,33.63 399.54,33.88 399.83,33.55 400.13,33.43 400.43,32.63 400.73,34.01 401.02,32.86 401.32,32.98 401.62,32.83 401.91,32.92 402.21,33.22 402.51,33.74 402.8,33.75 403.1,33.68 403.4,32.9 403.7,34.2 403.99,33.98 404.29,32.96 404.59,33.89 404.88,34.23 405.18,34.28 405.48,33.32 405.77,33.74 406.07,32.54 406.37,32.71 406.67,32.52 406.96,33.86 407.26,34.19 407.56,34.17 407.85,33.42 408.15,33.03 408.45,33.52 408.74,33.91 409.04,33.58 409.34,33.2 409.64,33.1 409.93,32.96 410.23,32.78 410.53,33.12 410.82,34.12 411.12,32.79 411.42,33.8 411.71,33.3 412.01,33.66 412.31,32.98 412.61,33.98 412.9,33.89 413.2,33.89 413.5,34.06 413.79,32.71 414.09,33.28 414.39,33.74 414.68,33.61 414.98,32.51 415.28,33.41 415.58,33.92 415.87,32.85 416.17,33.14 416.47,32.52 416.76,34.16 417.06,33.47 417.36,32.83 417.65,32.79 417.95,32.66 418.25,34.27 418.55,33.8 418.84,34.12 419.14,33.99 419.44,32.55 419.73,33.27 420.03,32.63 420.33,33.66 420.62,32.75 420.92,33.52 421.22,33.86 421.52,32.91 421.81,32.6 422.11,34.15 422.41,33.24 422.7,33.2 423,33.94 423.3,33.66 423.59,34.08 423.89,33.97 424.19,33.87 424.49,33.24 424.78,33.14 425.08,33.97 425.38,34.32 425.67,33.74 425.97,33.09 426.27,34 426.56,33.77 426.86,33.97 427.16,32.88 427.46,33.33 427.75,34.23 428.05,34.16 428.35,33.62 428.64,33.33 428.94,33.17 429.24,34.18 429.53,34.04 429.83,33.06 430.13,33.59 430.43,33.82 430.72,33.78 431.02,32.59 431.32,33.77 431.61,33.3 431.91,33.69 432.21,33.58 432.5,32.75 432.8,32.51 433.1,33.67 433.4,33.98 433.69,33 433.99,33.97 434.29,34.33 434.58,32.68 434.88,33.56 435.18,32.83 435.47,33.6 435.77,32.72 436.07,33.49 436.37,34.04 436.66,34.32 436.96,33.33 437.26,33.16 437.55,32.67 437.85,34.18 438.15,33.2 438.44,33.66 438.74,33.41 439.04,34.08 439.34,33.82 439.63,33.38 439.93,32.64 440.23,34.14 440.52,33.44 440.82,32.86 441.12,32.56 441.41,33.98 441.71,34.11 442.01,32.6 442.31,32.54 442.6,33.45 442.9,34.25 443.2,32.64 443.49,33.63 443.79,32.68 444.09,33.2 444.38,32.82 444.68,34.05 444.98,32.89 445.28,33.93 445.57,33.6 445.87,32.78 446.17,32.81 446.46,34.01 446.76,33.94 447.06,33.61 447.35,33.39 447.65,33.64 447.95,34.12 448.25,33.89 448.54,33.01 448.84,32.69 449.14,34.27 449.43,33.31 449.73,32.95 450.03,34.27 450.32,32.8 450.62,34.13 450.92,33.24 451.22,33.33 451.51,33.19 451.81,33.78 452.11,33.57 452.4,33.27 452.7,33.56 453,33.13 453.29,33.52 453.59,33.54 453.89,34.3 454.19,33.2 454.48,33.44 454.78,33.91 455.08,32.94 455.37,32.91 455.67,33.5 455.97,34.01 456.26,33.47 456.56,34.15 456.86,34.11 457.16,33.55 457.45,34.18 457.75,33.53 458.05,33.4 458.34,34.27 458.64,33.17 458.94,34.19 459.23,32.99 459.53,32.91 459.83,33.4 460.13,34.24 460.42,33.41 460.72,33.65 461.02,32.59 461.31,34.09 461.61,32.76 461.91,32.51 462.2,32.99 462.5,32.84 462.8,33.99 463.1,32.53 463.39,33.44 463.69,32.58 463.99,32.65 464.28,34.04 464.58,32.89" fill="none" stroke="#ff2a8c" stroke-width="1.1" stroke-linejoin="round" />
<g fill="#ff2a8c"><circle cx="301.82" cy="33.92" r="2.0"/><circle cx="302.12" cy="34.29" r="2.0"/><circle cx="302.42" cy="34.1" r="2.0"/><circle cx="302.71" cy="33.68" r="2.0"/><circle cx="303.01" cy="34.15" r="2.0"/><circle cx="303.31" cy="32.8" r="2.0"/><circle cx="303.61" cy="33.31" r="2.0"/><circle cx="303.9" cy="33.19" r="2.0"/><circle cx="304.2" cy="33.19" r="2.0"/><circle cx="304.5" cy="33.09" r="2.0"/><circle cx="304.79" cy="33.44" r="2.0"/><circle cx="305.09" cy="34.34" r="2.0"/><circle cx="305.39" cy="32.87" r="2.0"/><circle cx="305.69" cy="32.96" r="2.0"/><circle cx="305.98" cy="33.42" r="2.0"/><circle cx="306.28" cy="33.36" r="2.0"/><circle cx="306.58" cy="33.13" r="2.0"/><circle cx="306.87" cy="34.22" r="2.0"/><circle cx="307.17" cy="32.99" r="2.0"/><circle cx="307.47" cy="33.88" r="2.0"/><circle cx="307.76" cy="34.21" r="2.0"/><circle cx="308.06" cy="33.85" r="2.0"/><circle cx="308.36" cy="33" r="2.0"/><circle cx="308.66" cy="33.97" r="2.0"/><circle cx="308.95" cy="32.98" r="2.0"/><circle cx="309.25" cy="32.54" r="2.0"/><circle cx="309.55" cy="33.43" r="2.0"/><circle cx="309.84" cy="33.64" r="2.0"/><circle cx="310.14" cy="33.46" r="2.0"/><circle cx="310.44" cy="33.08" r="2.0"/><circle cx="310.73" cy="32.93" r="2.0"/><circle cx="311.03" cy="33.21" r="2.0"/><circle cx="311.33" cy="33.16" r="2.0"/><circle cx="311.62" cy="34.2" r="2.0"/><circle cx="311.92" cy="34.07" r="2.0"/><circle cx="312.22" cy="33.88" r="2.0"/><circle cx="312.52" cy="32.97" r="2.0"/><circle cx="312.81" cy="33.78" r="2.0"/><circle cx="313.11" cy="33.3" r="2.0"/><circle cx="313.41" cy="34.32" r="2.0"/><circle cx="313.7" cy="34.23" r="2.0"/><circle cx="314" cy="33.85" r="2.0"/><circle cx="314.3" cy="33.1" r="2.0"/><circle cx="314.6" cy="33.07" r="2.0"/><circle cx="314.89" cy="33.1" r="2.0"/><circle cx="315.19" cy="33.81" r="2.0"/><circle cx="315.49" cy="33.39" r="2.0"/><circle cx="315.78" cy="33.49" r="2.0"/><circle cx="316.08" cy="33.48" r="2.0"/><circle cx="316.38" cy="34.13" r="2.0"/><circle cx="316.67" cy="32.7" r="2.0"/><circle cx="316.97" cy="33.98" r="2.0"/><circle cx="317.27" cy="32.54" r="2.0"/><circle cx="317.56" cy="32.62" r="2.0"/><circle cx="317.86" cy="34.31" r="2.0"/><circle cx="318.16" cy="33.5" r="2.0"/><circle cx="318.46" cy="32.83" r="2.0"/><circle cx="318.75" cy="32.56" r="2.0"/><circle cx="319.05" cy="33.52" r="2.0"/><circle cx="319.35" cy="33.85" r="2.0"/><circle cx="319.64" cy="33.96" r="2.0"/><circle cx="319.94" cy="32.6" r="2.0"/><circle cx="320.24" cy="33.96" r="2.0"/><circle cx="320.54" cy="33.27" r="2.0"/><circle cx="320.83" cy="34.08" r="2.0"/><circle cx="321.13" cy="33.38" r="2.0"/><circle cx="321.43" cy="32.59" r="2.0"/><circle cx="321.72" cy="34.1" r="2.0"/><circle cx="322.02" cy="32.83" r="2.0"/><circle cx="322.32" cy="33.41" r="2.0"/><circle cx="322.61" cy="32.71" r="2.0"/><circle cx="322.91" cy="33.05" r="2.0"/><circle cx="323.21" cy="33.92" r="2.0"/><circle cx="323.5" cy="32.69" r="2.0"/><circle cx="323.8" cy="33.45" r="2.0"/><circle cx="324.1" cy="34.3" r="2.0"/><circle cx="324.4" cy="34.34" r="2.0"/><circle cx="324.69" cy="33.44" r="2.0"/><circle cx="324.99" cy="33.51" r="2.0"/><circle cx="325.29" cy="33.79" r="2.0"/><circle cx="325.58" cy="34.08" r="2.0"/><circle cx="325.88" cy="33.71" r="2.0"/><circle cx="326.18" cy="33.76" r="2.0"/><circle cx="326.47" cy="32.79" r="2.0"/><circle cx="326.77" cy="34.34" r="2.0"/><circle cx="327.07" cy="32.96" r="2.0"/><circle cx="327.37" cy="32.8" r="2.0"/><circle cx="327.66" cy="34.12" r="2.0"/><circle cx="327.96" cy="32.64" r="2.0"/><circle cx="328.26" cy="33.03" r="2.0"/><circle cx="328.55" cy="32.68" r="2.0"/><circle cx="328.85" cy="33.81" r="2.0"/><circle cx="329.15" cy="33.66" r="2.0"/><circle cx="329.44" cy="33.62" r="2.0"/><circle cx="329.74" cy="32.5" r="2.0"/><circle cx="330.04" cy="33.26" r="2.0"/><circle cx="330.34" cy="33.68" r="2.0"/><circle cx="330.63" cy="33.55" r="2.0"/><circle cx="330.93" cy="33.84" r="2.0"/><circle cx="331.23" cy="34.26" r="2.0"/><circle cx="331.52" cy="34.16" r="2.0"/><circle cx="331.82" cy="32.8" r="2.0"/><circle cx="332.12" cy="33.82" r="2.0"/><circle cx="332.41" cy="32.62" r="2.0"/><circle cx="332.71" cy="33.88" r="2.0"/><circle cx="333.01" cy="33.85" r="2.0"/><circle cx="333.31" cy="33.4" r="2.0"/><circle cx="333.6" cy="33.99" r="2.0"/><circle cx="333.9" cy="33.66" r="2.0"/><circle cx="334.2" cy="32.58" r="2.0"/><circle cx="334.49" cy="32.71" r="2.0"/><circle cx="334.79" cy="32.85" r="2.0"/><circle cx="335.09" cy="33.18" r="2.0"/><circle cx="335.38" cy="32.66" r="2.0"/><circle cx="335.68" cy="32.61" r="2.0"/><circle cx="335.98" cy="33.33" r="2.0"/><circle cx="336.28" cy="33.02" r="2.0"/><circle cx="336.57" cy="34.25" r="2.0"/><circle cx="336.87" cy="32.99" r="2.0"/><circle cx="337.17" cy="33.51" r="2.0"/><circle cx="337.46" cy="32.96" r="2.0"/><circle cx="337.76" cy="33.16" r="2.0"/><circle cx="338.06" cy="33.82" r="2.0"/><circle cx="338.35" cy="34.25" r="2.0"/><circle cx="338.65" cy="32.63" r="2.0"/><circle cx="338.95" cy="34.11" r="2.0"/><circle cx="339.25" cy="33.47" r="2.0"/><circle cx="339.54" cy="33.71" r="2.0"/><circle cx="339.84" cy="33.8" r="2.0"/><circle cx="340.14" cy="32.98" r="2.0"/><circle cx="340.43" cy="32.54" r="2.0"/><circle cx="340.73" cy="33.86" r="2.0"/><circle cx="341.03" cy="33.13" r="2.0"/><circle cx="341.32" cy="33.79" r="2.0"/><circle cx="341.62" cy="33.32" r="2.0"/><circle cx="341.92" cy="33.62" r="2.0"/><circle cx="342.22" cy="34.04" r="2.0"/><circle cx="342.51" cy="34.05" r="2.0"/><circle cx="342.81" cy="33.96" r="2.0"/><circle cx="343.11" cy="32.67" r="2.0"/><circle cx="343.4" cy="33.43" r="2.0"/><circle cx="343.7" cy="33.94" r="2.0"/><circle cx="344" cy="32.67" r="2.0"/><circle cx="344.29" cy="32.51" r="2.0"/><circle cx="344.59" cy="33.51" r="2.0"/><circle cx="344.89" cy="34.09" r="2.0"/><circle cx="345.19" cy="33.99" r="2.0"/><circle cx="345.48" cy="34.18" r="2.0"/><circle cx="345.78" cy="33.71" r="2.0"/><circle cx="346.08" cy="34.18" r="2.0"/><circle cx="346.37" cy="33.9" r="2.0"/><circle cx="346.67" cy="33.87" r="2.0"/><circle cx="346.97" cy="33.29" r="2.0"/><circle cx="347.26" cy="32.71" r="2.0"/><circle cx="347.56" cy="32.96" r="2.0"/><circle cx="347.86" cy="33.58" r="2.0"/><circle cx="348.16" cy="33.58" r="2.0"/><circle cx="348.45" cy="33.38" r="2.0"/><circle cx="348.75" cy="33.65" r="2.0"/><circle cx="349.05" cy="33.72" r="2.0"/><circle cx="349.34" cy="34.23" r="2.0"/><circle cx="349.64" cy="33.83" r="2.0"/><circle cx="349.94" cy="32.56" r="2.0"/><circle cx="350.23" cy="34.11" r="2.0"/><circle cx="350.53" cy="33.42" r="2.0"/><circle cx="350.83" cy="33.18" r="2.0"/><circle cx="351.13" cy="32.75" r="2.0"/><circle cx="351.42" cy="33.95" r="2.0"/><circle cx="351.72" cy="33.84" r="2.0"/><circle cx="352.02" cy="33.89" r="2.0"/><circle cx="352.31" cy="33.61" r="2.0"/><circle cx="352.61" cy="33.52" r="2.0"/><circle cx="352.91" cy="32.58" r="2.0"/><circle cx="353.2" cy="32.78" r="2.0"/><circle cx="353.5" cy="32.73" r="2.0"/><circle cx="353.8" cy="34.3" r="2.0"/><circle cx="354.1" cy="34.29" r="2.0"/><circle cx="354.39" cy="33.04" r="2.0"/><circle cx="354.69" cy="32.69" r="2.0"/><circle cx="354.99" cy="33.47" r="2.0"/><circle cx="355.28" cy="33.26" r="2.0"/><circle cx="355.58" cy="34.34" r="2.0"/><circle cx="355.88" cy="33.62" r="2.0"/><circle cx="356.17" cy="32.63" r="2.0"/><circle cx="356.47" cy="32.82" r="2.0"/><circle cx="356.77" cy="32.77" r="2.0"/><circle cx="357.07" cy="32.55" r="2.0"/><circle cx="357.36" cy="33.89" r="2.0"/><circle cx="357.66" cy="34.14" r="2.0"/><circle cx="357.96" cy="34.06" r="2.0"/><circle cx="358.25" cy="33.38" r="2.0"/><circle cx="358.55" cy="33.09" r="2.0"/><circle cx="358.85" cy="32.61" r="2.0"/><circle cx="359.14" cy="33.01" r="2.0"/><circle cx="359.44" cy="33.15" r="2.0"/><circle cx="359.74" cy="32.93" r="2.0"/><circle cx="360.04" cy="33.5" r="2.0"/><circle cx="360.33" cy="33.33" r="2.0"/><circle cx="360.63" cy="34.27" r="2.0"/><circle cx="360.93" cy="32.9" r="2.0"/><circle cx="361.22" cy="33.92" r="2.0"/><circle cx="361.52" cy="32.65" r="2.0"/><circle cx="361.82" cy="33.15" r="2.0"/><circle cx="362.11" cy="33.78" r="2.0"/><circle cx="362.41" cy="34.11" r="2.0"/><circle cx="362.71" cy="33.88" r="2.0"/><circle cx="363.01" cy="33.17" r="2.0"/><circle cx="363.3" cy="33.06" r="2.0"/><circle cx="363.6" cy="34.14" r="2.0"/><circle cx="363.9" cy="34.21" r="2.0"/><circle cx="364.19" cy="33.38" r="2.0"/><circle cx="364.49" cy="33.27" r="2.0"/><circle cx="364.79" cy="33.63" r="2.0"/><circle cx="365.08" cy="33.93" r="2.0"/><circle cx="365.38" cy="33.24" r="2.0"/><circle cx="365.68" cy="34.33" r="2.0"/><circle cx="365.98" cy="33.79" r="2.0"/><circle cx="366.27" cy="33.49" r="2.0"/><circle cx="366.57" cy="32.58" r="2.0"/><circle cx="366.87" cy="33.16" r="2.0"/><circle cx="367.16" cy="32.71" r="2.0"/><circle cx="367.46" cy="33.47" r="2.0"/><circle cx="367.76" cy="33.91" r="2.0"/><circle cx="368.05" cy="33.89" r="2.0"/><circle cx="368.35" cy="32.57" r="2.0"/><circle cx="368.65" cy="33.04" r="2.0"/><circle cx="368.95" cy="33.78" r="2.0"/><circle cx="369.24" cy="34.3" r="2.0"/><circle cx="369.54" cy="33.43" r="2.0"/><circle cx="369.84" cy="33.1" r="2.0"/><circle cx="370.13" cy="33.57" r="2.0"/><circle cx="370.43" cy="33.87" r="2.0"/><circle cx="370.73" cy="33.11" r="2.0"/><circle cx="371.02" cy="32.64" r="2.0"/><circle cx="371.32" cy="33.93" r="2.0"/><circle cx="371.62" cy="34.28" r="2.0"/><circle cx="371.92" cy="33.72" r="2.0"/><circle cx="372.21" cy="33.57" r="2.0"/><circle cx="372.51" cy="33.09" r="2.0"/><circle cx="372.81" cy="33.98" r="2.0"/><circle cx="373.1" cy="32.87" r="2.0"/><circle cx="373.4" cy="32.98" r="2.0"/><circle cx="373.7" cy="33.41" r="2.0"/><circle cx="373.99" cy="33.97" r="2.0"/><circle cx="374.29" cy="32.56" r="2.0"/><circle cx="374.59" cy="33.77" r="2.0"/><circle cx="374.89" cy="32.83" r="2.0"/><circle cx="375.18" cy="33.92" r="2.0"/><circle cx="375.48" cy="33.94" r="2.0"/><circle cx="375.78" cy="32.94" r="2.0"/><circle cx="376.07" cy="33.8" r="2.0"/><circle cx="376.37" cy="32.59" r="2.0"/><circle cx="376.67" cy="33.43" r="2.0"/><circle cx="376.96" cy="34" r="2.0"/><circle cx="377.26" cy="33.93" r="2.0"/><circle cx="377.56" cy="33.58" r="2.0"/><circle cx="377.86" cy="33.12" r="2.0"/><circle cx="378.15" cy="32.59" r="2.0"/><circle cx="378.45" cy="34.07" r="2.0"/><circle cx="378.75" cy="33.62" r="2.0"/><circle cx="379.04" cy="33.95" r="2.0"/><circle cx="379.34" cy="32.55" r="2.0"/><circle cx="379.64" cy="34.08" r="2.0"/><circle cx="379.93" cy="34.25" r="2.0"/><circle cx="380.23" cy="34.23" r="2.0"/><circle cx="380.53" cy="33.62" r="2.0"/><circle cx="380.83" cy="32.69" r="2.0"/><circle cx="381.12" cy="32.71" r="2.0"/><circle cx="381.42" cy="32.99" r="2.0"/><circle cx="381.72" cy="32.5" r="2.0"/><circle cx="382.01" cy="32.63" r="2.0"/><circle cx="382.31" cy="33.74" r="2.0"/><circle cx="382.61" cy="34" r="2.0"/><circle cx="382.9" cy="32.62" r="2.0"/><circle cx="383.2" cy="32.97" r="2.0"/><circle cx="383.5" cy="34.29" r="2.0"/><circle cx="383.8" cy="33.12" r="2.0"/><circle cx="384.09" cy="33.65" r="2.0"/><circle cx="384.39" cy="33.65" r="2.0"/><circle cx="384.69" cy="33.73" r="2.0"/><circle cx="384.98" cy="34.03" r="2.0"/><circle cx="385.28" cy="34.34" r="2.0"/><circle cx="385.58" cy="33.83" r="2.0"/><circle cx="385.88" cy="33.7" r="2.0"/><circle cx="386.17" cy="32.58" r="2.0"/><circle cx="386.47" cy="34.12" r="2.0"/><circle cx="386.77" cy="32.57" r="2.0"/><circle cx="387.06" cy="33.96" r="2.0"/><circle cx="387.36" cy="33.69" r="2.0"/><circle cx="387.66" cy="32.83" r="2.0"/><circle cx="387.95" cy="32.83" r="2.0"/><circle cx="388.25" cy="33.55" r="2.0"/><circle cx="388.55" cy="34.25" r="2.0"/><circle cx="388.85" cy="33.47" r="2.0"/><circle cx="389.14" cy="33.66" r="2.0"/><circle cx="389.44" cy="32.65" r="2.0"/><circle cx="389.74" cy="33.99" r="2.0"/><circle cx="390.03" cy="33.67" r="2.0"/><circle cx="390.33" cy="32.69" r="2.0"/><circle cx="390.63" cy="34.29" r="2.0"/><circle cx="390.92" cy="33.59" r="2.0"/><circle cx="391.22" cy="32.85" r="2.0"/><circle cx="391.52" cy="32.93" r="2.0"/><circle cx="391.82" cy="34.27" r="2.0"/><circle cx="392.11" cy="34.28" r="2.0"/><circle cx="392.41" cy="34.23" r="2.0"/><circle cx="392.71" cy="32.65" r="2.0"/><circle cx="393" cy="33.87" r="2.0"/><circle cx="393.3" cy="32.97" r="2.0"/><circle cx="393.6" cy="32.69" r="2.0"/><circle cx="393.89" cy="33.72" r="2.0"/><circle cx="394.19" cy="33.84" r="2.0"/><circle cx="394.49" cy="32.58" r="2.0"/><circle cx="394.79" cy="33.21" r="2.0"/><circle cx="395.08" cy="33.86" r="2.0"/><circle cx="395.38" cy="33.02" r="2.0"/><circle cx="395.68" cy="33.76" r="2.0"/><circle cx="395.97" cy="33.84" r="2.0"/><circle cx="396.27" cy="34.34" r="2.0"/><circle cx="396.57" cy="32.95" r="2.0"/><circle cx="396.86" cy="32.65" r="2.0"/><circle cx="397.16" cy="33.17" r="2.0"/><circle cx="397.46" cy="32.6" r="2.0"/><circle cx="397.76" cy="34.3" r="2.0"/><circle cx="398.05" cy="33.91" r="2.0"/><circle cx="398.35" cy="33.47" r="2.0"/><circle cx="398.65" cy="32.58" r="2.0"/><circle cx="398.94" cy="32.58" r="2.0"/><circle cx="399.24" cy="33.63" r="2.0"/><circle cx="399.54" cy="33.88" r="2.0"/><circle cx="399.83" cy="33.55" r="2.0"/><circle cx="400.13" cy="33.43" r="2.0"/><circle cx="400.43" cy="32.63" r="2.0"/><circle cx="400.73" cy="34.01" r="2.0"/><circle cx="401.02" cy="32.86" r="2.0"/><circle cx="401.32" cy="32.98" r="2.0"/><circle cx="401.62" cy="32.83" r="2.0"/><circle cx="401.91" cy="32.92" r="2.0"/><circle cx="402.21" cy="33.22" r="2.0"/><circle cx="402.51" cy="33.74" r="2.0"/><circle cx="402.8" cy="33.75" r="2.0"/><circle cx="403.1" cy="33.68" r="2.0"/><circle cx="403.4" cy="32.9" r="2.0"/><circle cx="403.7" cy="34.2" r="2.0"/><circle cx="403.99" cy="33.98" r="2.0"/><circle cx="404.29" cy="32.96" r="2.0"/><circle cx="404.59" cy="33.89" r="2.0"/><circle cx="404.88" cy="34.23" r="2.0"/><circle cx="405.18" cy="34.28" r="2.0"/><circle cx="405.48" cy="33.32" r="2.0"/><circle cx="405.77" cy="33.74" r="2.0"/><circle cx="406.07" cy="32.54" r="2.0"/><circle cx="406.37" cy="32.71" r="2.0"/><circle cx="406.67" cy="32.52" r="2.0"/><circle cx="406.96" cy="33.86" r="2.0"/><circle cx="407.26" cy="34.19" r="2.0"/><circle cx="407.56" cy="34.17" r="2.0"/><circle cx="407.85" cy="33.42" r="2.0"/><circle cx="408.15" cy="33.03" r="2.0"/><circle cx="408.45" cy="33.52" r="2.0"/><circle cx="408.74" cy="33.91" r="2.0"/><circle cx="409.04" cy="33.58" r="2.0"/><circle cx="409.34" cy="33.2" r="2.0"/><circle cx="409.64" cy="33.1" r="2.0"/><circle cx="409.93" cy="32.96" r="2.0"/><circle cx="410.23" cy="32.78" r="2.0"/><circle cx="410.53" cy="33.12" r="2.0"/><circle cx="410.82" cy="34.12" r="2.0"/><circle cx="411.12" cy="32.79" r="2.0"/><circle cx="411.42" cy="33.8" r="2.0"/><circle cx="411.71" cy="33.3" r="2.0"/><circle cx="412.01" cy="33.66" r="2.0"/><circle cx="412.31" cy="32.98" r="2.0"/><circle cx="412.61" cy="33.98" r="2.0"/><circle cx="412.9" cy="33.89" r="2.0"/><circle cx="413.2" cy="33.89" r="2.0"/><circle cx="413.5" cy="34.06" r="2.0"/><circle cx="413.79" cy="32.71" r="2.0"/><circle cx="414.09" cy="33.28" r="2.0"/><circle cx="414.39" cy="33.74" r="2.0"/><circle cx="414.68" cy="33.61" r="2.0"/><circle cx="414.98" cy="32.51" r="2.0"/><circle cx="415.28" cy="33.41" r="2.0"/><circle cx="415.58" cy="33.92" r="2.0"/><circle cx="415.87" cy="32.85" r="2.0"/><circle cx="416.17" cy="33.14" r="2.0"/><circle cx="416.47" cy="32.52" r="2.0"/><circle cx="416.76" cy="34.16" r="2.0"/><circle cx="417.06" cy="33.47" r="2.0"/><circle cx="417.36" cy="32.83" r="2.0"/><circle cx="417.65" cy="32.79" r="2.0"/><circle cx="417.95" cy="32.66" r="2.0"/><circle cx="418.25" cy="34.27" r="2.0"/><circle cx="418.55" cy="33.8" r="2.0"/><circle cx="418.84" cy="34.12" r="2.0"/><circle cx="419.14" cy="33.99" r="2.0"/><circle cx="419.44" cy="32.55" r="2.0"/><circle cx="419.73" cy="33.27" r="2.0"/><circle cx="420.03" cy="32.63" r="2.0"/><circle cx="420.33" cy="33.66" r="2.0"/><circle cx="420.62" cy="32.75" r="2.0"/><circle cx="420.92" cy="33.52" r="2.0"/><circle cx="421.22" cy="33.86" r="2.0"/><circle cx="421.52" cy="32.91" r="2.0"/><circle cx="421.81" cy="32.6" r="2.0"/><circle cx="422.11" cy="34.15" r="2.0"/><circle cx="422.41" cy="33.24" r="2.0"/><circle cx="422.7" cy="33.2" r="2.0"/><circle cx="423" cy="33.94" r="2.0"/><circle cx="423.3" cy="33.66" r="2.0"/><circle cx="423.59" cy="34.08" r="2.0"/><circle cx="423.89" cy="33.97" r="2.0"/><circle cx="424.19" cy="33.87" r="2.0"/><circle cx="424.49" cy="33.24" r="2.0"/><circle cx="424.78" cy="33.14" r="2.0"/><circle cx="425.08" cy="33.97" r="2.0"/><circle cx="425.38" cy="34.32" r="2.0"/><circle cx="425.67" cy="33.74" r="2.0"/><circle cx="425.97" cy="33.09" r="2.0"/><circle cx="426.27" cy="34" r="2.0"/><circle cx="426.56" cy="33.77" r="2.0"/><circle cx="426.86" cy="33.97" r="2.0"/><circle cx="427.16" cy="32.88" r="2.0"/><circle cx="427.46" cy="33.33" r="2.0"/><circle cx="427.75" cy="34.23" r="2.0"/><circle cx="428.05" cy="34.16" r="2.0"/><circle cx="428.35" cy="33.62" r="2.0"/><circle cx="428.64" cy="33.33" r="2.0"/><circle cx="428.94" cy="33.17" r="2.0"/><circle cx="429.24" cy="34.18" r="2.0"/><circle cx="429.53" cy="34.04" r="2.0"/><circle cx="429.83" cy="33.06" r="2.0"/><circle cx="430.13" cy="33.59" r="2.0"/><circle cx="430.43" cy="33.82" r="2.0"/><circle cx="430.72" cy="33.78" r="2.0"/><circle cx="431.02" cy="32.59" r="2.0"/><circle cx="431.32" cy="33.77" r="2.0"/><circle cx="431.61" cy="33.3" r="2.0"/><circle cx="431.91" cy="33.69" r="2.0"/><circle cx="432.21" cy="33.58" r="2.0"/><circle cx="432.5" cy="32.75" r="2.0"/><circle cx="432.8" cy="32.51" r="2.0"/><circle cx="433.1" cy="33.67" r="2.0"/><circle cx="433.4" cy="33.98" r="2.0"/><circle cx="433.69" cy="33" r="2.0"/><circle cx="433.99" cy="33.97" r="2.0"/><circle cx="434.29" cy="34.33" r="2.0"/><circle cx="434.58" cy="32.68" r="2.0"/><circle cx="434.88" cy="33.56" r="2.0"/><circle cx="435.18" cy="32.83" r="2.0"/><circle cx="435.47" cy="33.6" r="2.0"/><circle cx="435.77" cy="32.72" r="2.0"/><circle cx="436.07" cy="33.49" r="2.0"/><circle cx="436.37" cy="34.04" r="2.0"/><circle cx="436.66" cy="34.32" r="2.0"/><circle cx="436.96" cy="33.33" r="2.0"/><circle cx="437.26" cy="33.16" r="2.0"/><circle cx="437.55" cy="32.67" r="2.0"/><circle cx="437.85" cy="34.18" r="2.0"/><circle cx="438.15" cy="33.2" r="2.0"/><circle cx="438.44" cy="33.66" r="2.0"/><circle cx="438.74" cy="33.41" r="2.0"/><circle cx="439.04" cy="34.08" r="2.0"/><circle cx="439.34" cy="33.82" r="2.0"/><circle cx="439.63" cy="33.38" r="2.0"/><circle cx="439.93" cy="32.64" r="2.0"/><circle cx="440.23" cy="34.14" r="2.0"/><circle cx="440.52" cy="33.44" r="2.0"/><circle cx="440.82" cy="32.86" r="2.0"/><circle cx="441.12" cy="32.56" r="2.0"/><circle cx="441.41" cy="33.98" r="2.0"/><circle cx="441.71" cy="34.11" r="2.0"/><circle cx="442.01" cy="32.6" r="2.0"/><circle cx="442.31" cy="32.54" r="2.0"/><circle cx="442.6" cy="33.45" r="2.0"/><circle cx="442.9" cy="34.25" r="2.0"/><circle cx="443.2" cy="32.64" r="2.0"/><circle cx="443.49" cy="33.63" r="2.0"/><circle cx="443.79" cy="32.68" r="2.0"/><circle cx="444.09" cy="33.2" r="2.0"/><circle cx="444.38" cy="32.82" r="2.0"/><circle cx="444.68" cy="34.05" r="2.0"/><circle cx="444.98" cy="32.89" r="2.0"/><circle cx="445.28" cy="33.93" r="2.0"/><circle cx="445.57" cy="33.6" r="2.0"/><circle cx="445.87" cy="32.78" r="2.0"/><circle cx="446.17" cy="32.81" r="2.0"/><circle cx="446.46" cy="34.01" r="2.0"/><circle cx="446.76" cy="33.94" r="2.0"/><circle cx="447.06" cy="33.61" r="2.0"/><circle cx="447.35" cy="33.39" r="2.0"/><circle cx="447.65" cy="33.64" r="2.0"/><circle cx="447.95" cy="34.12" r="2.0"/><circle cx="448.25" cy="33.89" r="2.0"/><circle cx="448.54" cy="33.01" r="2.0"/><circle cx="448.84" cy="32.69" r="2.0"/><circle cx="449.14" cy="34.27" r="2.0"/><circle cx="449.43" cy="33.31" r="2.0"/><circle cx="449.73" cy="32.95" r="2.0"/><circle cx="450.03" cy="34.27" r="2.0"/><circle cx="450.32" cy="32.8" r="2.0"/><circle cx="450.62" cy="34.13" r="2.0"/><circle cx="450.92" cy="33.24" r="2.0"/><circle cx="451.22" cy="33.33" r="2.0"/><circle cx="451.51" cy="33.19" r="2.0"/><circle cx="451.81" cy="33.78" r="2.0"/><circle cx="452.11" cy="33.57" r="2.0"/><circle cx="452.4" cy="33.27" r="2.0"/><circle cx="452.7" cy="33.56" r="2.0"/><circle cx="453" cy="33.13" r="2.0"/><circle cx="453.29" cy="33.52" r="2.0"/><circle cx="453.59" cy="33.54" r="2.0"/><circle cx="453.89" cy="34.3" r="2.0"/><circle cx="454.19" cy="33.2" r="2.0"/><circle cx="454.48" cy="33.44" r="2.0"/><circle cx="454.78" cy="33.91" r="2.0"/><circle cx="455.08" cy="32.94" r="2.0"/><circle cx="455.37" cy="32.91" r="2.0"/><circle cx="455.67" cy="33.5" r="2.0"/><circle cx="455.97" cy="34.01" r="2.0"/><circle cx="456.26" cy="33.47" r="2.0"/><circle cx="456.56" cy="34.15" r="2.0"/><circle cx="456.86" cy="34.11" r="2.0"/><circle cx="457.16" cy="33.55" r="2.0"/><circle cx="457.45" cy="34.18" r="2.0"/><circle cx="457.75" cy="33.53" r="2.0"/><circle cx="458.05" cy="33.4" r="2.0"/><circle cx="458.34" cy="34.27" r="2.0"/><circle cx="458.64" cy="33.17" r="2.0"/><circle cx="458.94" cy="34.19" r="2.0"/><circle cx="459.23" cy="32.99" r="2.0"/><circle cx="459.53" cy="32.91" r="2.0"/><circle cx="459.83" cy="33.4" r="2.0"/><circle cx="460.13" cy="34.24" r="2.0"/><circle cx="460.42" cy="33.41" r="2.0"/><circle cx="460.72" cy="33.65" r="2.0"/><circle cx="461.02" cy="32.59" r="2.0"/><circle cx="461.31" cy="34.09" r="2.0"/><circle cx="461.61" cy="32.76" r="2.0"/><circle cx="461.91" cy="32.51" r="2.0"/><circle cx="462.2" cy="32.99" r="2.0"/><circle cx="462.5" cy="32.84" r="2.0"/><circle cx="462.8" cy="33.99" r="2.0"/><circle cx="463.1" cy="32.53" r="2.0"/><circle cx="463.39" cy="33.44" r="2.0"/><circle cx="463.69" cy="32.58" r="2.0"/><circle cx="463.99" cy="32.65" r="2.0"/><circle cx="464.28" cy="34.04" r="2.0"/><circle cx="464.58" cy="32.89" r="2.0"/></g>
</g>
<rect x="299.9" y="15.4" width="164.7" height="114.7" fill="none" stroke="#000" stroke-width="1.4"/>
<line x1="299.9" y1="130.1" x2="297.3" y2="130.1" stroke="#000" stroke-width="1.2" />
<line x1="299.9" y1="93.2" x2="297.3" y2="93.2" stroke="#000" stroke-width="1.2" />
<line x1="299.9" y1="56.3" x2="297.3" y2="56.3" stroke="#000" stroke-width="1.2" />
<line x1="299.9" y1="19.4" x2="297.3" y2="19.4" stroke="#000" stroke-width="1.2" />
<text x="296" y="134.6" font-size="12.6" text-anchor="end" fill="#000" font-family='"Liberation Sans", sans-serif' >0</text>
<text x="296" y="97.7" font-size="12.6" text-anchor="end" fill="#000" font-family='"Liberation Sans", sans-serif' >10</text>
<text x="296" y="60.8" font-size="12.6" text-anchor="end" fill="#000" font-family='"Liberation Sans", sans-serif' >20</text>
<text x="296" y="23.9" font-size="12.6" text-anchor="end" fill="#000" font-family='"Liberation Sans", sans-serif' >30</text>
<line x1="301.5" y1="130.1" x2="301.5" y2="132.7" stroke="#000" stroke-width="1.2" />
<line x1="355.5" y1="130.1" x2="355.5" y2="132.7" stroke="#000" stroke-width="1.2" />
<line x1="409.5" y1="130.1" x2="409.5" y2="132.7" stroke="#000" stroke-width="1.2" />
<line x1="463.5" y1="130.1" x2="463.5" y2="132.7" stroke="#000" stroke-width="1.2" />
<text x="301.5" y="142.9" font-size="12.6" text-anchor="middle" fill="#000" font-family='"Liberation Sans", sans-serif' >0</text>
<text x="355.5" y="142.9" font-size="12.6" text-anchor="middle" fill="#000" font-family='"Liberation Sans", sans-serif' >200</text>
<text x="409.5" y="142.9" font-size="12.6" text-anchor="middle" fill="#000" font-family='"Liberation Sans", sans-serif' >400</text>
<text x="463.5" y="142.9" font-size="12.6" text-anchor="middle" fill="#000" font-family='"Liberation Sans", sans-serif' >600</text>
<text x="390.4" y="156.6" font-size="12.2" text-anchor="middle" fill="#000" font-family='"Liberation Sans", sans-serif' >Time (s)</text>
<text x="0" y="0" font-size="12.1" text-anchor="middle" fill="#000" font-family='"Liberation Sans", sans-serif' transform="translate(273,75.8) rotate(-90) translate(0,4.36)">Stablized PCE (%)</text>
<text x="395.6" y="27" font-size="12.2" text-anchor="middle" fill="#000" font-family='"Liberation Sans", sans-serif' >Stablized at 1.04 V</text>
<text x="394.4" y="57" font-size="12.2" text-anchor="middle" fill="#000" font-family='"Liberation Sans", sans-serif' >Stablized at 0.98 V</text>
<line x1="392" y1="93.4" x2="420" y2="93.4" stroke="#3d9a2b" stroke-width="1.1" />
<g fill="#3d9a2b" stroke="#2f7821" stroke-width="0.5"><circle cx="406" cy="93.4" r="2.2"/></g>
<g fill="#fff" fill-opacity="0.8"><circle cx="405.34" cy="92.74" r="0.79"/></g>
<text x="423.2" y="97.8" font-size="12.3" text-anchor="start" fill="#000" font-family='"Liberation Sans", sans-serif' >Control</text>
<line x1="392" y1="108" x2="420" y2="108" stroke="#ff2a8c" stroke-width="1.1" />
<g fill="#ff2a8c" stroke="#c6206d" stroke-width="0.5"><circle cx="406" cy="108" r="2.2"/></g>
<g fill="#fff" fill-opacity="0.8"><circle cx="405.34" cy="107.34" r="0.79"/></g>
<text x="423.2" y="112.4" font-size="12.3" text-anchor="start" fill="#000" font-family='"Liberation Sans", sans-serif' >Target</text>
<text x="472" y="16" font-size="20" text-anchor="start" fill="#000" font-family='"Liberation Sans", sans-serif' >c</text>
<clipPath id="cc"><rect x="504.8" y="13.8" width="145.90000000000003" height="113.7"/></clipPath>
<g clip-path="url(#cc)">
<polyline points="504.8,126.9 505.6,126.9 506.39,126.9 507.19,126.9 507.98,126.9 508.78,126.9 509.57,126.9 510.37,126.9 511.17,126.89 511.96,126.87 512.76,126.84 513.55,126.8 514.35,126.76 515.15,126.71 515.94,126.64 516.74,126.5 517.53,126.32 518.33,126.11 519.12,125.9 519.92,125.71 520.72,125.53 521.51,125.37 522.31,125.2 523.1,125.03 523.9,124.86 524.7,124.69 525.49,124.51 526.29,124.32 527.08,124.13 527.88,123.94 528.67,123.74 529.47,123.53 530.27,123.31 531.06,123.07 531.86,122.81 532.65,122.52 533.45,122.21 534.24,121.87 535.04,121.51 535.84,121.13 536.63,120.73 537.43,120.31 538.22,119.87 539.02,119.42 539.82,118.95 540.61,118.46 541.41,117.96 542.2,117.45 543,116.93 543.79,116.4 544.59,115.84 545.39,115.24 546.18,114.61 546.98,113.94 547.77,113.25 548.57,112.54 549.37,111.8 550.16,111.05 550.96,110.29 551.75,109.51 552.55,108.73 553.34,107.94 554.14,107.15 554.94,106.37 555.73,105.59 556.53,104.79 557.32,103.97 558.12,103.14 558.92,102.3 559.71,101.44 560.51,100.57 561.3,99.7 562.1,98.83 562.89,97.95 563.69,97.07 564.49,96.2 565.28,95.34 566.08,94.48 566.87,93.63 567.67,92.8 568.46,91.97 569.26,91.15 570.06,90.33 570.85,89.52 571.65,88.71 572.44,87.9 573.24,87.09 574.04,86.28 574.83,85.47 575.63,84.66 576.42,83.85 577.22,83.03 578.01,82.22 578.81,81.39 579.61,80.57 580.4,79.75 581.2,78.93 581.99,78.1 582.79,77.28 583.59,76.46 584.38,75.63 585.18,74.8 585.97,73.97 586.77,73.13 587.56,72.28 588.36,71.43 589.16,70.57 589.95,69.71 590.75,68.82 591.54,67.93 592.34,67.02 593.13,66.11 593.93,65.19 594.73,64.27 595.52,63.35 596.32,62.43 597.11,61.52 597.91,60.63 598.71,59.74 599.5,58.87 600.3,58.02 601.09,57.18 601.89,56.35 602.68,55.53 603.48,54.71 604.28,53.91 605.07,53.11 605.87,52.31 606.66,51.51 607.46,50.72 608.26,49.92 609.05,49.11 609.85,48.31 610.64,47.49 611.44,46.68 612.23,45.87 613.03,45.05 613.83,44.24 614.62,43.42 615.42,42.61 616.21,41.79 617.01,40.98 617.81,40.18 618.6,39.37 619.4,38.57 620.19,37.78 620.99,36.98 621.78,36.19 622.58,35.4 623.38,34.61 624.17,33.82 624.97,33.03 625.76,32.25 626.56,31.47 627.35,30.7 628.15,29.92 628.95,29.16 629.74,28.39 630.54,27.6 631.33,26.81 632.13,26.02 632.93,25.26 633.72,24.56 634.52,23.92 635.31,23.32 636.11,22.75 636.9,22.21 637.7,21.7 638.5,21.25 639.29,20.86 640.09,20.51 640.88,20.17 641.68,19.86 642.48,19.59 643.27,19.36 644.07,19.19 644.86,19.07 645.66,18.98 646.45,18.9 647.25,18.82 648.05,18.76 648.84,18.7 649.64,18.63 650.43,18.57" fill="none" stroke="#ff2a8c" stroke-width="1.0" stroke-linejoin="round" />
<polyline points="504.8,127.5 505.6,127.5 506.39,127.5 507.19,127.5 507.98,127.5 508.78,127.5 509.57,127.5 510.37,127.5 511.17,127.49 511.96,127.47 512.76,127.44 513.55,127.4 514.35,127.36 515.15,127.31 515.94,127.24 516.74,127.1 517.53,126.92 518.33,126.71 519.12,126.5 519.92,126.31 520.72,126.13 521.51,125.97 522.31,125.8 523.1,125.63 523.9,125.46 524.7,125.29 525.49,125.11 526.29,124.92 527.08,124.73 527.88,124.54 528.67,124.34 529.47,124.13 530.27,123.91 531.06,123.67 531.86,123.41 532.65,123.12 533.45,122.81 534.24,122.47 535.04,122.11 535.84,121.73 536.63,121.33 537.43,120.91 538.22,120.47 539.02,120.02 539.82,119.55 540.61,119.06 541.41,118.56 542.2,118.05 543,117.53 543.79,117 544.59,116.44 545.39,115.84 546.18,115.21 546.98,114.54 547.77,113.85 548.57,113.14 549.37,112.4 550.16,111.65 550.96,110.89 551.75,110.11 552.55,109.33 553.34,108.54 554.14,107.75 554.94,106.97 555.73,106.19 556.53,105.39 557.32,104.57 558.12,103.74 558.92,102.9 559.71,102.04 560.51,101.17 561.3,100.3 562.1,99.43 562.89,98.55 563.69,97.67 564.49,96.8 565.28,95.94 566.08,95.08 566.87,94.23 567.67,93.4 568.46,92.57 569.26,91.75 570.06,90.93 570.85,90.12 571.65,89.31 572.44,88.5 573.24,87.69 574.04,86.88 574.83,86.07 575.63,85.26 576.42,84.45 577.22,83.63 578.01,82.82 578.81,81.99 579.61,81.17 580.4,80.35 581.2,79.53 581.99,78.7 582.79,77.88 583.59,77.06 584.38,76.23 585.18,75.4 585.97,74.57 586.77,73.73 587.56,72.88 588.36,72.03 589.16,71.17 589.95,70.31 590.75,69.42 591.54,68.53 592.34,67.62 593.13,66.71 593.93,65.79 594.73,64.87 595.52,63.95 596.32,63.03 597.11,62.12 597.91,61.23 598.71,60.34 599.5,59.47 600.3,58.62 601.09,57.78 601.89,56.95 602.68,56.13 603.48,55.31 604.28,54.51 605.07,53.71 605.87,52.91 606.66,52.11 607.46,51.32 608.26,50.52 609.05,49.71 609.85,48.91 610.64,48.09 611.44,47.28 612.23,46.47 613.03,45.65 613.83,44.84 614.62,44.02 615.42,43.21 616.21,42.39 617.01,41.58 617.81,40.78 618.6,39.97 619.4,39.17 620.19,38.38 620.99,37.58 621.78,36.79 622.58,36 623.38,35.21 624.17,34.42 624.97,33.63 625.76,32.85 626.56,32.07 627.35,31.3 628.15,30.52 628.95,29.76 629.74,28.99 630.54,28.2 631.33,27.41 632.13,26.62 632.93,25.86 633.72,25.16 634.52,24.52 635.31,23.92 636.11,23.35 636.9,22.81 637.7,22.3 638.5,21.85 639.29,21.46 640.09,21.11 640.88,20.77 641.68,20.46 642.48,20.19 643.27,19.96 644.07,19.79 644.86,19.67 645.66,19.58 646.45,19.5 647.25,19.42 648.05,19.36 648.84,19.3 649.64,19.23 650.43,19.17" fill="none" stroke="#3d9a2b" stroke-width="1.3" stroke-linejoin="round" />
<polyline points="507.19,127.5 508.38,125.23 509.57,120.47 510.77,108.17 511.96,90.19 513.16,80.75 514.35,73.18 515.54,68.34 516.74,64.25 517.93,59.84 519.12,55.8 520.32,51.89 521.51,47.16 522.71,42.22 523.9,37.36 525.09,34.13 526.29,31.78 527.48,29.82 528.67,27.96 529.87,26.44 531.59,24.46 533.32,23.68 535.04,22.87 536.77,22.18 538.49,21.7 540.21,21.29 541.94,20.94 543.66,20.62 545.39,20.32 547.11,20 548.83,19.68 550.56,19.42 552.28,19.27 554.01,19.26 555.73,19.26 557.46,19.26 559.18,19.3 560.9,19.54 562.63,19.78 564.35,19.79 566.08,19.52 567.8,19.09 569.53,18.6 571.25,18.17 572.97,17.81 574.7,17.42 576.42,17.11 578.15,16.98 579.87,17.11 581.6,17.42 583.32,17.81 585.04,18.17 586.77,18.56 588.49,18.99 590.22,19.4 591.94,19.72 593.67,19.93 595.39,20.1 597.11,20.25 598.84,20.35 600.56,20.39 602.29,20.3 604.01,20.05 605.74,19.73 607.46,19.42 609.18,19.2 610.91,19 612.63,18.82 614.36,18.71 616.08,18.7 617.81,18.8 619.53,18.97 621.25,19.18 622.98,19.39 624.7,19.65 626.43,20.02 628.15,20.54 629.87,22.42 631.6,24.6 632.79,27.57 633.99,31.33 635.18,36.54 636.37,44.37 637.57,54.71 638.76,65.28 639.96,77.15 641.15,89.3 642.34,102.19 643.54,111.91 644.73,117.84 645.92,121.6 647.12,124.27 648.31,126.23 649.5,127.23" fill="none" stroke="#ff2a8c" stroke-width="1" stroke-linejoin="round" />
<g fill="#ff2a8c" stroke="#c6206d" stroke-width="0.5"><circle cx="529.87" cy="26.44" r="2.1"/><circle cx="531.59" cy="24.46" r="2.1"/><circle cx="533.32" cy="23.68" r="2.1"/><circle cx="535.04" cy="22.87" r="2.1"/><circle cx="536.77" cy="22.18" r="2.1"/><circle cx="538.49" cy="21.7" r="2.1"/><circle cx="540.21" cy="21.29" r="2.1"/><circle cx="541.94" cy="20.94" r="2.1"/><circle cx="543.66" cy="20.62" r="2.1"/><circle cx="545.39" cy="20.32" r="2.1"/><circle cx="547.11" cy="20" r="2.1"/><circle cx="548.83" cy="19.68" r="2.1"/><circle cx="550.56" cy="19.42" r="2.1"/><circle cx="552.28" cy="19.27" r="2.1"/><circle cx="554.01" cy="19.26" r="2.1"/><circle cx="555.73" cy="19.26" r="2.1"/><circle cx="557.46" cy="19.26" r="2.1"/><circle cx="559.18" cy="19.3" r="2.1"/><circle cx="560.9" cy="19.54" r="2.1"/><circle cx="562.63" cy="19.78" r="2.1"/><circle cx="564.35" cy="19.79" r="2.1"/><circle cx="566.08" cy="19.52" r="2.1"/><circle cx="567.8" cy="19.09" r="2.1"/><circle cx="569.53" cy="18.6" r="2.1"/><circle cx="571.25" cy="18.17" r="2.1"/><circle cx="572.97" cy="17.81" r="2.1"/><circle cx="574.7" cy="17.42" r="2.1"/><circle cx="576.42" cy="17.11" r="2.1"/><circle cx="578.15" cy="16.98" r="2.1"/><circle cx="579.87" cy="17.11" r="2.1"/><circle cx="581.6" cy="17.42" r="2.1"/><circle cx="583.32" cy="17.81" r="2.1"/><circle cx="585.04" cy="18.17" r="2.1"/><circle cx="586.77" cy="18.56" r="2.1"/><circle cx="588.49" cy="18.99" r="2.1"/><circle cx="590.22" cy="19.4" r="2.1"/><circle cx="591.94" cy="19.72" r="2.1"/><circle cx="593.67" cy="19.93" r="2.1"/><circle cx="595.39" cy="20.1" r="2.1"/><circle cx="597.11" cy="20.25" r="2.1"/><circle cx="598.84" cy="20.35" r="2.1"/><circle cx="600.56" cy="20.39" r="2.1"/><circle cx="602.29" cy="20.3" r="2.1"/><circle cx="604.01" cy="20.05" r="2.1"/><circle cx="605.74" cy="19.73" r="2.1"/><circle cx="607.46" cy="19.42" r="2.1"/><circle cx="609.18" cy="19.2" r="2.1"/><circle cx="610.91" cy="19" r="2.1"/><circle cx="612.63" cy="18.82" r="2.1"/><circle cx="614.36" cy="18.71" r="2.1"/><circle cx="616.08" cy="18.7" r="2.1"/><circle cx="617.81" cy="18.8" r="2.1"/><circle cx="619.53" cy="18.97" r="2.1"/><circle cx="621.25" cy="19.18" r="2.1"/><circle cx="622.98" cy="19.39" r="2.1"/><circle cx="624.7" cy="19.65" r="2.1"/><circle cx="626.43" cy="20.02" r="2.1"/><circle cx="628.15" cy="20.54" r="2.1"/><circle cx="629.87" cy="22.42" r="2.1"/></g>
<g fill="#fff" fill-opacity="0.55"><circle cx="529.24" cy="25.81" r="0.63"/><circle cx="530.96" cy="23.83" r="0.63"/><circle cx="532.69" cy="23.05" r="0.63"/><circle cx="534.41" cy="22.24" r="0.63"/><circle cx="536.14" cy="21.55" r="0.63"/><circle cx="537.86" cy="21.07" r="0.63"/><circle cx="539.58" cy="20.66" r="0.63"/><circle cx="541.31" cy="20.31" r="0.63"/><circle cx="543.03" cy="19.99" r="0.63"/><circle cx="544.76" cy="19.69" r="0.63"/><circle cx="546.48" cy="19.37" r="0.63"/><circle cx="548.2" cy="19.05" r="0.63"/><circle cx="549.93" cy="18.79" r="0.63"/><circle cx="551.65" cy="18.64" r="0.63"/><circle cx="553.38" cy="18.63" r="0.63"/><circle cx="555.1" cy="18.63" r="0.63"/><circle cx="556.83" cy="18.63" r="0.63"/><circle cx="558.55" cy="18.67" r="0.63"/><circle cx="560.27" cy="18.91" r="0.63"/><circle cx="562" cy="19.15" r="0.63"/><circle cx="563.72" cy="19.16" r="0.63"/><circle cx="565.45" cy="18.89" r="0.63"/><circle cx="567.17" cy="18.46" r="0.63"/><circle cx="568.9" cy="17.97" r="0.63"/><circle cx="570.62" cy="17.54" r="0.63"/><circle cx="572.34" cy="17.18" r="0.63"/><circle cx="574.07" cy="16.79" r="0.63"/><circle cx="575.79" cy="16.48" r="0.63"/><circle cx="577.52" cy="16.35" r="0.63"/><circle cx="579.24" cy="16.48" r="0.63"/><circle cx="580.97" cy="16.79" r="0.63"/><circle cx="582.69" cy="17.18" r="0.63"/><circle cx="584.41" cy="17.54" r="0.63"/><circle cx="586.14" cy="17.93" r="0.63"/><circle cx="587.86" cy="18.36" r="0.63"/><circle cx="589.59" cy="18.77" r="0.63"/><circle cx="591.31" cy="19.09" r="0.63"/><circle cx="593.04" cy="19.3" r="0.63"/><circle cx="594.76" cy="19.47" r="0.63"/><circle cx="596.48" cy="19.62" r="0.63"/><circle cx="598.21" cy="19.72" r="0.63"/><circle cx="599.93" cy="19.76" r="0.63"/><circle cx="601.66" cy="19.67" r="0.63"/><circle cx="603.38" cy="19.42" r="0.63"/><circle cx="605.11" cy="19.1" r="0.63"/><circle cx="606.83" cy="18.79" r="0.63"/><circle cx="608.55" cy="18.57" r="0.63"/><circle cx="610.28" cy="18.37" r="0.63"/><circle cx="612" cy="18.19" r="0.63"/><circle cx="613.73" cy="18.08" r="0.63"/><circle cx="615.45" cy="18.07" r="0.63"/><circle cx="617.18" cy="18.17" r="0.63"/><circle cx="618.9" cy="18.34" r="0.63"/><circle cx="620.62" cy="18.55" r="0.63"/><circle cx="622.35" cy="18.76" r="0.63"/><circle cx="624.07" cy="19.02" r="0.63"/><circle cx="625.8" cy="19.39" r="0.63"/><circle cx="627.52" cy="19.91" r="0.63"/><circle cx="629.24" cy="21.79" r="0.63"/></g>
<g fill="#ff2a8c" stroke="#c6206d" stroke-width="0.5"><circle cx="507.19" cy="127.5" r="2.4"/><circle cx="508.38" cy="125.23" r="2.4"/><circle cx="509.57" cy="120.47" r="2.4"/><circle cx="510.77" cy="108.17" r="2.4"/><circle cx="511.96" cy="90.19" r="2.4"/><circle cx="513.16" cy="80.75" r="2.4"/><circle cx="514.35" cy="73.18" r="2.4"/><circle cx="515.54" cy="68.34" r="2.4"/><circle cx="516.74" cy="64.25" r="2.4"/><circle cx="517.93" cy="59.84" r="2.4"/><circle cx="519.12" cy="55.8" r="2.4"/><circle cx="520.32" cy="51.89" r="2.4"/><circle cx="521.51" cy="47.16" r="2.4"/><circle cx="522.71" cy="42.22" r="2.4"/><circle cx="523.9" cy="37.36" r="2.4"/><circle cx="525.09" cy="34.13" r="2.4"/><circle cx="526.29" cy="31.78" r="2.4"/><circle cx="527.48" cy="29.82" r="2.4"/><circle cx="528.67" cy="27.96" r="2.4"/><circle cx="631.6" cy="24.6" r="2.4"/><circle cx="632.79" cy="27.57" r="2.4"/><circle cx="633.99" cy="31.33" r="2.4"/><circle cx="635.18" cy="36.54" r="2.4"/><circle cx="636.37" cy="44.37" r="2.4"/><circle cx="637.57" cy="54.71" r="2.4"/><circle cx="638.76" cy="65.28" r="2.4"/><circle cx="639.96" cy="77.15" r="2.4"/><circle cx="641.15" cy="89.3" r="2.4"/><circle cx="642.34" cy="102.19" r="2.4"/><circle cx="643.54" cy="111.91" r="2.4"/><circle cx="644.73" cy="117.84" r="2.4"/><circle cx="645.92" cy="121.6" r="2.4"/><circle cx="647.12" cy="124.27" r="2.4"/><circle cx="648.31" cy="126.23" r="2.4"/><circle cx="649.5" cy="127.23" r="2.4"/></g>
<g fill="#fff" fill-opacity="0.8"><circle cx="506.47" cy="126.78" r="0.86"/><circle cx="507.66" cy="124.51" r="0.86"/><circle cx="508.85" cy="119.75" r="0.86"/><circle cx="510.05" cy="107.45" r="0.86"/><circle cx="511.24" cy="89.47" r="0.86"/><circle cx="512.44" cy="80.03" r="0.86"/><circle cx="513.63" cy="72.46" r="0.86"/><circle cx="514.82" cy="67.62" r="0.86"/><circle cx="516.02" cy="63.53" r="0.86"/><circle cx="517.21" cy="59.12" r="0.86"/><circle cx="518.4" cy="55.08" r="0.86"/><circle cx="519.6" cy="51.17" r="0.86"/><circle cx="520.79" cy="46.44" r="0.86"/><circle cx="521.99" cy="41.5" r="0.86"/><circle cx="523.18" cy="36.64" r="0.86"/><circle cx="524.37" cy="33.41" r="0.86"/><circle cx="525.57" cy="31.06" r="0.86"/><circle cx="526.76" cy="29.1" r="0.86"/><circle cx="527.95" cy="27.24" r="0.86"/><circle cx="630.88" cy="23.88" r="0.86"/><circle cx="632.07" cy="26.85" r="0.86"/><circle cx="633.27" cy="30.61" r="0.86"/><circle cx="634.46" cy="35.82" r="0.86"/><circle cx="635.65" cy="43.65" r="0.86"/><circle cx="636.85" cy="53.99" r="0.86"/><circle cx="638.04" cy="64.56" r="0.86"/><circle cx="639.24" cy="76.43" r="0.86"/><circle cx="640.43" cy="88.58" r="0.86"/><circle cx="641.62" cy="101.47" r="0.86"/><circle cx="642.82" cy="111.19" r="0.86"/><circle cx="644.01" cy="117.12" r="0.86"/><circle cx="645.2" cy="120.88" r="0.86"/><circle cx="646.4" cy="123.55" r="0.86"/><circle cx="647.59" cy="125.51" r="0.86"/><circle cx="648.78" cy="126.51" r="0.86"/></g>
<polyline points="507.19,127.5 508.38,124 509.57,117.14 510.77,102.04 511.96,86.57 513.16,78.04 514.35,71.37 515.54,66.99 516.74,62.78 517.93,58.42 519.12,54.55 520.32,50.4 521.51,45.49 522.71,40.58 523.9,36.09 525.09,33.28 526.29,31.1 527.48,29.19 528.67,27.4 529.87,26.07 531.59,25.07 533.32,24.29 535.04,23.49 536.77,22.86 538.49,22.39 540.21,22 541.94,21.66 543.66,21.35 545.39,21.05 547.11,20.72 548.83,20.41 550.56,20.17 552.28,20.06 554.01,20.05 555.73,20.05 557.46,20.05 559.18,20.14 560.9,20.4 562.63,20.61 564.35,20.55 566.08,20.23 567.8,19.77 569.53,19.29 571.25,18.89 572.97,18.52 574.7,18.14 576.42,17.86 578.15,17.79 579.87,17.97 581.6,18.31 583.32,18.7 585.04,19.05 586.77,19.45 588.49,19.88 590.22,20.28 591.94,20.57 593.67,20.76 595.39,20.93 597.11,21.07 598.84,21.16 600.56,21.19 602.29,21.05 604.01,20.78 605.74,20.45 607.46,20.15 609.18,19.95 610.91,19.75 612.63,19.58 614.36,19.49 616.08,19.51 617.81,19.63 619.53,19.81 621.25,20.02 622.98,20.24 624.7,20.52 626.43,20.92 628.15,21.52 629.87,22.77 631.6,25.53 632.79,28.7 633.99,32.87 635.18,38.82 636.37,47.75 637.57,58.06 638.76,69.16 639.96,81.23 641.15,93.39 642.34,105.91 643.54,114.2 644.73,119.26 645.92,122.6 647.12,125.03 648.31,126.6 649.5,127.43" fill="none" stroke="#3d9a2b" stroke-width="1" stroke-linejoin="round" />
<g fill="#3d9a2b" stroke="#2a7a1a" stroke-width="0.5"><circle cx="529.87" cy="26.07" r="2.1"/><circle cx="531.59" cy="25.07" r="2.1"/><circle cx="533.32" cy="24.29" r="2.1"/><circle cx="535.04" cy="23.49" r="2.1"/><circle cx="536.77" cy="22.86" r="2.1"/><circle cx="538.49" cy="22.39" r="2.1"/><circle cx="540.21" cy="22" r="2.1"/><circle cx="541.94" cy="21.66" r="2.1"/><circle cx="543.66" cy="21.35" r="2.1"/><circle cx="545.39" cy="21.05" r="2.1"/><circle cx="547.11" cy="20.72" r="2.1"/><circle cx="548.83" cy="20.41" r="2.1"/><circle cx="550.56" cy="20.17" r="2.1"/><circle cx="552.28" cy="20.06" r="2.1"/><circle cx="554.01" cy="20.05" r="2.1"/><circle cx="555.73" cy="20.05" r="2.1"/><circle cx="557.46" cy="20.05" r="2.1"/><circle cx="559.18" cy="20.14" r="2.1"/><circle cx="560.9" cy="20.4" r="2.1"/><circle cx="562.63" cy="20.61" r="2.1"/><circle cx="564.35" cy="20.55" r="2.1"/><circle cx="566.08" cy="20.23" r="2.1"/><circle cx="567.8" cy="19.77" r="2.1"/><circle cx="569.53" cy="19.29" r="2.1"/><circle cx="571.25" cy="18.89" r="2.1"/><circle cx="572.97" cy="18.52" r="2.1"/><circle cx="574.7" cy="18.14" r="2.1"/><circle cx="576.42" cy="17.86" r="2.1"/><circle cx="578.15" cy="17.79" r="2.1"/><circle cx="579.87" cy="17.97" r="2.1"/><circle cx="581.6" cy="18.31" r="2.1"/><circle cx="583.32" cy="18.7" r="2.1"/><circle cx="585.04" cy="19.05" r="2.1"/><circle cx="586.77" cy="19.45" r="2.1"/><circle cx="588.49" cy="19.88" r="2.1"/><circle cx="590.22" cy="20.28" r="2.1"/><circle cx="591.94" cy="20.57" r="2.1"/><circle cx="593.67" cy="20.76" r="2.1"/><circle cx="595.39" cy="20.93" r="2.1"/><circle cx="597.11" cy="21.07" r="2.1"/><circle cx="598.84" cy="21.16" r="2.1"/><circle cx="600.56" cy="21.19" r="2.1"/><circle cx="602.29" cy="21.05" r="2.1"/><circle cx="604.01" cy="20.78" r="2.1"/><circle cx="605.74" cy="20.45" r="2.1"/><circle cx="607.46" cy="20.15" r="2.1"/><circle cx="609.18" cy="19.95" r="2.1"/><circle cx="610.91" cy="19.75" r="2.1"/><circle cx="612.63" cy="19.58" r="2.1"/><circle cx="614.36" cy="19.49" r="2.1"/><circle cx="616.08" cy="19.51" r="2.1"/><circle cx="617.81" cy="19.63" r="2.1"/><circle cx="619.53" cy="19.81" r="2.1"/><circle cx="621.25" cy="20.02" r="2.1"/><circle cx="622.98" cy="20.24" r="2.1"/><circle cx="624.7" cy="20.52" r="2.1"/><circle cx="626.43" cy="20.92" r="2.1"/><circle cx="628.15" cy="21.52" r="2.1"/><circle cx="629.87" cy="22.77" r="2.1"/></g>
<g fill="#fff" fill-opacity="0.55"><circle cx="529.24" cy="25.44" r="0.63"/><circle cx="530.96" cy="24.44" r="0.63"/><circle cx="532.69" cy="23.66" r="0.63"/><circle cx="534.41" cy="22.86" r="0.63"/><circle cx="536.14" cy="22.23" r="0.63"/><circle cx="537.86" cy="21.76" r="0.63"/><circle cx="539.58" cy="21.37" r="0.63"/><circle cx="541.31" cy="21.03" r="0.63"/><circle cx="543.03" cy="20.72" r="0.63"/><circle cx="544.76" cy="20.42" r="0.63"/><circle cx="546.48" cy="20.09" r="0.63"/><circle cx="548.2" cy="19.78" r="0.63"/><circle cx="549.93" cy="19.54" r="0.63"/><circle cx="551.65" cy="19.43" r="0.63"/><circle cx="553.38" cy="19.42" r="0.63"/><circle cx="555.1" cy="19.42" r="0.63"/><circle cx="556.83" cy="19.42" r="0.63"/><circle cx="558.55" cy="19.51" r="0.63"/><circle cx="560.27" cy="19.77" r="0.63"/><circle cx="562" cy="19.98" r="0.63"/><circle cx="563.72" cy="19.92" r="0.63"/><circle cx="565.45" cy="19.6" r="0.63"/><circle cx="567.17" cy="19.14" r="0.63"/><circle cx="568.9" cy="18.66" r="0.63"/><circle cx="570.62" cy="18.26" r="0.63"/><circle cx="572.34" cy="17.89" r="0.63"/><circle cx="574.07" cy="17.51" r="0.63"/><circle cx="575.79" cy="17.23" r="0.63"/><circle cx="577.52" cy="17.16" r="0.63"/><circle cx="579.24" cy="17.34" r="0.63"/><circle cx="580.97" cy="17.68" r="0.63"/><circle cx="582.69" cy="18.07" r="0.63"/><circle cx="584.41" cy="18.42" r="0.63"/><circle cx="586.14" cy="18.82" r="0.63"/><circle cx="587.86" cy="19.25" r="0.63"/><circle cx="589.59" cy="19.65" r="0.63"/><circle cx="591.31" cy="19.94" r="0.63"/><circle cx="593.04" cy="20.13" r="0.63"/><circle cx="594.76" cy="20.3" r="0.63"/><circle cx="596.48" cy="20.44" r="0.63"/><circle cx="598.21" cy="20.53" r="0.63"/><circle cx="599.93" cy="20.56" r="0.63"/><circle cx="601.66" cy="20.42" r="0.63"/><circle cx="603.38" cy="20.15" r="0.63"/><circle cx="605.11" cy="19.82" r="0.63"/><circle cx="606.83" cy="19.52" r="0.63"/><circle cx="608.55" cy="19.32" r="0.63"/><circle cx="610.28" cy="19.12" r="0.63"/><circle cx="612" cy="18.95" r="0.63"/><circle cx="613.73" cy="18.86" r="0.63"/><circle cx="615.45" cy="18.88" r="0.63"/><circle cx="617.18" cy="19" r="0.63"/><circle cx="618.9" cy="19.18" r="0.63"/><circle cx="620.62" cy="19.39" r="0.63"/><circle cx="622.35" cy="19.61" r="0.63"/><circle cx="624.07" cy="19.89" r="0.63"/><circle cx="625.8" cy="20.29" r="0.63"/><circle cx="627.52" cy="20.89" r="0.63"/><circle cx="629.24" cy="22.14" r="0.63"/></g>
<g fill="#3d9a2b" stroke="#2a7a1a" stroke-width="0.5"><circle cx="507.19" cy="127.5" r="2.4"/><circle cx="508.38" cy="124" r="2.4"/><circle cx="509.57" cy="117.14" r="2.4"/><circle cx="510.77" cy="102.04" r="2.4"/><circle cx="511.96" cy="86.57" r="2.4"/><circle cx="513.16" cy="78.04" r="2.4"/><circle cx="514.35" cy="71.37" r="2.4"/><circle cx="515.54" cy="66.99" r="2.4"/><circle cx="516.74" cy="62.78" r="2.4"/><circle cx="517.93" cy="58.42" r="2.4"/><circle cx="519.12" cy="54.55" r="2.4"/><circle cx="520.32" cy="50.4" r="2.4"/><circle cx="521.51" cy="45.49" r="2.4"/><circle cx="522.71" cy="40.58" r="2.4"/><circle cx="523.9" cy="36.09" r="2.4"/><circle cx="525.09" cy="33.28" r="2.4"/><circle cx="526.29" cy="31.1" r="2.4"/><circle cx="527.48" cy="29.19" r="2.4"/><circle cx="528.67" cy="27.4" r="2.4"/><circle cx="631.6" cy="25.53" r="2.4"/><circle cx="632.79" cy="28.7" r="2.4"/><circle cx="633.99" cy="32.87" r="2.4"/><circle cx="635.18" cy="38.82" r="2.4"/><circle cx="636.37" cy="47.75" r="2.4"/><circle cx="637.57" cy="58.06" r="2.4"/><circle cx="638.76" cy="69.16" r="2.4"/><circle cx="639.96" cy="81.23" r="2.4"/><circle cx="641.15" cy="93.39" r="2.4"/><circle cx="642.34" cy="105.91" r="2.4"/><circle cx="643.54" cy="114.2" r="2.4"/><circle cx="644.73" cy="119.26" r="2.4"/><circle cx="645.92" cy="122.6" r="2.4"/><circle cx="647.12" cy="125.03" r="2.4"/><circle cx="648.31" cy="126.6" r="2.4"/><circle cx="649.5" cy="127.43" r="2.4"/></g>
<g fill="#fff" fill-opacity="0.8"><circle cx="506.47" cy="126.78" r="0.86"/><circle cx="507.66" cy="123.28" r="0.86"/><circle cx="508.85" cy="116.42" r="0.86"/><circle cx="510.05" cy="101.32" r="0.86"/><circle cx="511.24" cy="85.85" r="0.86"/><circle cx="512.44" cy="77.32" r="0.86"/><circle cx="513.63" cy="70.65" r="0.86"/><circle cx="514.82" cy="66.27" r="0.86"/><circle cx="516.02" cy="62.06" r="0.86"/><circle cx="517.21" cy="57.7" r="0.86"/><circle cx="518.4" cy="53.83" r="0.86"/><circle cx="519.6" cy="49.68" r="0.86"/><circle cx="520.79" cy="44.77" r="0.86"/><circle cx="521.99" cy="39.86" r="0.86"/><circle cx="523.18" cy="35.37" r="0.86"/><circle cx="524.37" cy="32.56" r="0.86"/><circle cx="525.57" cy="30.38" r="0.86"/><circle cx="526.76" cy="28.47" r="0.86"/><circle cx="527.95" cy="26.68" r="0.86"/><circle cx="630.88" cy="24.81" r="0.86"/><circle cx="632.07" cy="27.98" r="0.86"/><circle cx="633.27" cy="32.15" r="0.86"/><circle cx="634.46" cy="38.1" r="0.86"/><circle cx="635.65" cy="47.03" r="0.86"/><circle cx="636.85" cy="57.34" r="0.86"/><circle cx="638.04" cy="68.44" r="0.86"/><circle cx="639.24" cy="80.51" r="0.86"/><circle cx="640.43" cy="92.67" r="0.86"/><circle cx="641.62" cy="105.19" r="0.86"/><circle cx="642.82" cy="113.48" r="0.86"/><circle cx="644.01" cy="118.54" r="0.86"/><circle cx="645.2" cy="121.88" r="0.86"/><circle cx="646.4" cy="124.31" r="0.86"/><circle cx="647.59" cy="125.88" r="0.86"/><circle cx="648.78" cy="126.71" r="0.86"/></g>
</g>
<rect x="504.8" y="13.8" width="145.9" height="113.7" fill="none" stroke="#000" stroke-width="1.4"/>
<line x1="504.8" y1="127.5" x2="502.2" y2="127.5" stroke="#000" stroke-width="1.2" />
<line x1="504.8" y1="104.76" x2="502.2" y2="104.76" stroke="#000" stroke-width="1.2" />
<line x1="504.8" y1="82.02" x2="502.2" y2="82.02" stroke="#000" stroke-width="1.2" />
<line x1="504.8" y1="59.28" x2="502.2" y2="59.28" stroke="#000" stroke-width="1.2" />
<line x1="504.8" y1="36.54" x2="502.2" y2="36.54" stroke="#000" stroke-width="1.2" />
<line x1="504.8" y1="13.8" x2="502.2" y2="13.8" stroke="#000" stroke-width="1.2" />
<line x1="504.8" y1="116.13" x2="503.24" y2="116.13" stroke="#000" stroke-width="1.2" />
<line x1="504.8" y1="93.39" x2="503.24" y2="93.39" stroke="#000" stroke-width="1.2" />
<line x1="504.8" y1="70.65" x2="503.24" y2="70.65" stroke="#000" stroke-width="1.2" />
<line x1="504.8" y1="47.91" x2="503.24" y2="47.91" stroke="#000" stroke-width="1.2" />
<line x1="504.8" y1="25.17" x2="503.24" y2="25.17" stroke="#000" stroke-width="1.2" />
<text x="501.5" y="131.8" font-size="11.3" text-anchor="end" fill="#000" font-family='"Liberation Sans", sans-serif' >0</text>
<text x="501.5" y="109.06" font-size="11.3" text-anchor="end" fill="#000" font-family='"Liberation Sans", sans-serif' >20</text>
<text x="501.5" y="86.32" font-size="11.3" text-anchor="end" fill="#000" font-family='"Liberation Sans", sans-serif' >40</text>
<text x="501.5" y="63.58" font-size="11.3" text-anchor="end" fill="#000" font-family='"Liberation Sans", sans-serif' >60</text>
<text x="501.5" y="40.84" font-size="11.3" text-anchor="end" fill="#000" font-family='"Liberation Sans", sans-serif' >80</text>
<text x="501.5" y="18.1" font-size="11.3" text-anchor="end" fill="#000" font-family='"Liberation Sans", sans-serif' >100</text>
<line x1="650.7" y1="127.5" x2="653.3" y2="127.5" stroke="#000" stroke-width="1.2" />
<line x1="650.7" y1="106.5" x2="653.3" y2="106.5" stroke="#000" stroke-width="1.2" />
<line x1="650.7" y1="85.5" x2="653.3" y2="85.5" stroke="#000" stroke-width="1.2" />
<line x1="650.7" y1="64.5" x2="653.3" y2="64.5" stroke="#000" stroke-width="1.2" />
<line x1="650.7" y1="43.5" x2="653.3" y2="43.5" stroke="#000" stroke-width="1.2" />
<line x1="650.7" y1="22.5" x2="653.3" y2="22.5" stroke="#000" stroke-width="1.2" />
<line x1="650.7" y1="117" x2="652.26" y2="117" stroke="#000" stroke-width="1.2" />
<line x1="650.7" y1="96" x2="652.26" y2="96" stroke="#000" stroke-width="1.2" />
<line x1="650.7" y1="75" x2="652.26" y2="75" stroke="#000" stroke-width="1.2" />
<line x1="650.7" y1="54" x2="652.26" y2="54" stroke="#000" stroke-width="1.2" />
<line x1="650.7" y1="33" x2="652.26" y2="33" stroke="#000" stroke-width="1.2" />
<text x="654" y="131.8" font-size="11.3" text-anchor="start" fill="#000" font-family='"Liberation Sans", sans-serif' >0</text>
<text x="654" y="110.8" font-size="11.3" text-anchor="start" fill="#000" font-family='"Liberation Sans", sans-serif' >5</text>
<text x="654" y="89.8" font-size="11.3" text-anchor="start" fill="#000" font-family='"Liberation Sans", sans-serif' >10</text>
<text x="654" y="68.8" font-size="11.3" text-anchor="start" fill="#000" font-family='"Liberation Sans", sans-serif' >15</text>
<text x="654" y="47.8" font-size="11.3" text-anchor="start" fill="#000" font-family='"Liberation Sans", sans-serif' >20</text>
<text x="654" y="26.8" font-size="11.3" text-anchor="start" fill="#000" font-family='"Liberation Sans", sans-serif' >25</text>
<line x1="504.8" y1="127.5" x2="504.8" y2="130.1" stroke="#000" stroke-width="1.2" />
<line x1="531.33" y1="127.5" x2="531.33" y2="130.1" stroke="#000" stroke-width="1.2" />
<line x1="557.85" y1="127.5" x2="557.85" y2="130.1" stroke="#000" stroke-width="1.2" />
<line x1="584.38" y1="127.5" x2="584.38" y2="130.1" stroke="#000" stroke-width="1.2" />
<line x1="610.91" y1="127.5" x2="610.91" y2="130.1" stroke="#000" stroke-width="1.2" />
<line x1="637.43" y1="127.5" x2="637.43" y2="130.1" stroke="#000" stroke-width="1.2" />
<line x1="518.06" y1="127.5" x2="518.06" y2="129.06" stroke="#000" stroke-width="1.2" />
<line x1="544.59" y1="127.5" x2="544.59" y2="129.06" stroke="#000" stroke-width="1.2" />
<line x1="571.12" y1="127.5" x2="571.12" y2="129.06" stroke="#000" stroke-width="1.2" />
<line x1="597.64" y1="127.5" x2="597.64" y2="129.06" stroke="#000" stroke-width="1.2" />
<line x1="624.17" y1="127.5" x2="624.17" y2="129.06" stroke="#000" stroke-width="1.2" />
<text x="504.8" y="140.5" font-size="11" text-anchor="middle" fill="#000" font-family='"Liberation Sans", sans-serif' >300</text>
<text x="531.33" y="140.5" font-size="11" text-anchor="middle" fill="#000" font-family='"Liberation Sans", sans-serif' >400</text>
<text x="557.85" y="140.5" font-size="11" text-anchor="middle" fill="#000" font-family='"Liberation Sans", sans-serif' >500</text>
<text x="584.38" y="140.5" font-size="11" text-anchor="middle" fill="#000" font-family='"Liberation Sans", sans-serif' >600</text>
<text x="610.91" y="140.5" font-size="11" text-anchor="middle" fill="#000" font-family='"Liberation Sans", sans-serif' >700</text>
<text x="637.43" y="140.5" font-size="11" text-anchor="middle" fill="#000" font-family='"Liberation Sans", sans-serif' >800</text>
<text x="586.2" y="150.6" font-size="11" text-anchor="middle" fill="#000" font-family='"Liberation Sans", sans-serif' >Wavelength (nm)</text>
<text x="0" y="0" font-size="11.1" text-anchor="middle" fill="#000" font-family='"Liberation Sans", sans-serif' transform="translate(480.7,68.4) rotate(-90) translate(0,4)">EQE (%)</text>
<text x="0" y="0" font-size="11.3" text-anchor="middle" fill="#000" font-family='"Liberation Sans", sans-serif' transform="translate(678.3,73.2) rotate(-90) translate(0,4.07)">Integraterd <tspan font-style="italic">J</tspan><tspan font-size="8.5" dy="2.5">SC</tspan><tspan dy="-2.5"> (mA cm</tspan><tspan dy="-4.5" font-size="8.5">-2</tspan><tspan dy="4.5">)</tspan></text>
<line x1="529.4" y1="31.3" x2="555.2" y2="31.3" stroke="#ff2a8c" stroke-width="1.2" />
<g fill="#ff2a8c" stroke="#c6206d" stroke-width="0.5"><circle cx="542.4" cy="31.3" r="2.1"/></g>
<g fill="#fff" fill-opacity="0.8"><circle cx="541.77" cy="30.67" r="0.76"/></g>
<text x="557.8" y="35.2" font-size="11.3" text-anchor="start" fill="#000" font-family='"Liberation Sans", sans-serif' >Target</text>
<line x1="529.4" y1="45.1" x2="555.2" y2="45.1" stroke="#3d9a2b" stroke-width="1.2" />
<g fill="#3d9a2b" stroke="#2f7821" stroke-width="0.5"><circle cx="542.4" cy="45.1" r="2.1"/></g>
<g fill="#fff" fill-opacity="0.8"><circle cx="541.77" cy="44.47" r="0.76"/></g>
<text x="557.8" y="49" font-size="11.3" text-anchor="start" fill="#000" font-family='"Liberation Sans", sans-serif' >Control</text>
<line x1="529.4" y1="58.9" x2="555.2" y2="58.9" stroke="#ff2a8c" stroke-width="1.4" stroke-dasharray="11,3.5"/>
<text x="557.8" y="62.8" font-size="11.3" text-anchor="start" fill="#000" font-family='"Liberation Sans", sans-serif' >Target</text>
<line x1="529.4" y1="72.7" x2="555.2" y2="72.7" stroke="#3d9a2b" stroke-width="1.4" stroke-dasharray="11,3.5"/>
<text x="557.8" y="76.6" font-size="11.3" text-anchor="start" fill="#000" font-family='"Liberation Sans", sans-serif' >Control</text>
<ellipse cx="519.8" cy="52.9" rx="4.9" ry="9" fill="none" stroke="#ff66ff" stroke-width="0.9" transform="rotate(12 519.8 52.9)"/>
<line x1="513" y1="52.3" x2="514.9" y2="52.3" stroke="#ff66ff" stroke-width="0.9" />
<polygon points="505.5,52.3 513,49.8 513,54.8" fill="#ff66ff"/>
<ellipse cx="615.5" cy="47.6" rx="4.9" ry="8.4" fill="none" stroke="#ff66ff" stroke-width="0.9"/>
<line x1="620.4" y1="47.9" x2="644" y2="47.9" stroke="#ff66ff" stroke-width="0.9" />
<polygon points="650,47.9 643.3,45.4 643.3,50.4" fill="#ff66ff"/>
<text x="15.6" y="173.8" font-size="20" text-anchor="start" fill="#000" font-family='"Liberation Sans", sans-serif' >d</text>
<clipPath id="cd"><rect x="33.6" y="178.6" width="222.79999999999998" height="117.00000000000003"/></clipPath>
<g clip-path="url(#cd)">
<polyline points="33.6,185.64 34.1,185.65 34.61,185.66 35.11,185.67 35.62,185.68 36.12,185.69 36.62,185.7 37.13,185.7 37.63,185.71 38.14,185.72 38.64,185.73 39.14,185.74 39.65,185.75 40.15,185.76 40.66,185.77 41.16,185.78 41.66,185.79 42.17,185.79 42.67,185.8 43.18,185.81 43.68,185.82 44.18,185.83 44.69,185.84 45.19,185.85 45.7,185.86 46.2,185.87 46.7,185.88 47.21,185.88 47.71,185.89 48.22,185.9 48.72,185.91 49.22,185.92 49.73,185.93 50.23,185.94 50.74,185.95 51.24,185.96 51.74,185.97 52.25,185.97 52.75,185.98 53.26,185.99 53.76,186 54.26,186.01 54.77,186.02 55.27,186.03 55.78,186.04 56.28,186.05 56.78,186.06 57.29,186.06 57.79,186.07 58.3,186.08 58.8,186.09 59.3,186.1 59.81,186.11 60.31,186.12 60.82,186.13 61.32,186.14 61.82,186.14 62.33,186.15 62.83,186.16 63.34,186.17 63.84,186.18 64.34,186.19 64.85,186.2 65.35,186.21 65.86,186.22 66.36,186.23 66.86,186.23 67.37,186.24 67.87,186.25 68.38,186.26 68.88,186.27 69.38,186.28 69.89,186.29 70.39,186.3 70.9,186.31 71.4,186.32 71.9,186.32 72.41,186.33 72.91,186.34 73.42,186.35 73.92,186.36 74.42,186.37 74.93,186.38 75.43,186.39 75.94,186.4 76.44,186.41 76.94,186.41 77.45,186.42 77.95,186.43 78.46,186.44 78.96,186.45 79.46,186.46 79.97,186.47 80.47,186.48 80.98,186.49 81.48,186.5 81.98,186.5 82.49,186.51 82.99,186.52 83.5,186.53 84,186.54 84.5,186.55 85.01,186.56 85.51,186.57 86.02,186.58 86.52,186.59 87.02,186.59 87.53,186.6 88.03,186.61 88.54,186.62 89.04,186.63 89.54,186.64 90.05,186.65 90.55,186.66 91.06,186.67 91.56,186.68 92.06,186.68 92.57,186.69 93.07,186.7 93.58,186.71 94.08,186.72 94.58,186.73 95.09,186.74 95.59,186.75 96.1,186.76 96.6,186.77 97.1,186.77 97.61,186.78 98.11,186.79 98.62,186.8 99.12,186.81 99.62,186.82 100.13,186.83 100.63,186.84 101.14,186.85 101.64,186.86 102.14,186.86 102.65,186.87 103.15,186.88 103.66,186.89 104.16,186.9 104.66,186.91 105.17,186.92 105.67,186.93 106.18,186.94 106.68,186.95 107.18,186.95 107.69,186.96 108.19,186.97 108.7,186.98 109.2,186.99 109.7,187 110.21,187.01 110.71,187.02 111.22,187.03 111.72,187.04 112.22,187.04 112.73,187.05 113.23,187.06 113.74,187.07 114.24,187.08 114.74,187.09 115.25,187.1 115.75,187.11 116.26,187.12 116.76,187.13 117.26,187.13 117.77,187.14 118.27,187.15 118.78,187.16 119.28,187.17 119.78,187.18 120.29,187.19 120.79,187.2 121.3,187.21 121.8,187.22 122.3,187.22 122.81,187.23 123.31,187.24 123.82,187.25 124.32,187.26 124.82,187.27 125.33,187.28 125.83,187.29 126.34,187.3 126.84,187.31 127.34,187.31 127.85,187.32 128.35,187.33 128.86,187.34 129.36,187.35 129.86,187.36 130.37,187.37 130.87,187.38 131.38,187.39 131.88,187.4 132.38,187.4 132.89,187.41 133.39,187.42 133.9,187.43 134.4,187.44 134.9,187.45 135.41,187.46 135.91,187.47 136.42,187.48 136.92,187.49 137.42,187.49 137.93,187.5 138.43,187.51 138.94,187.52 139.44,187.53 139.94,187.54 140.45,187.55 140.95,187.56 141.46,187.57 141.96,187.58 142.46,187.58 142.97,187.59 143.47,187.6 143.98,187.61 144.48,187.62 144.98,187.63 145.49,187.64 145.99,187.65 146.5,187.66 147,187.67 147.5,187.68 148.01,187.68 148.51,187.69 149.02,187.7 149.52,187.71 150.02,187.72 150.53,187.73 151.03,187.74 151.54,187.75 152.04,187.76 152.54,187.77 153.05,187.77 153.55,187.78 154.06,187.79 154.56,187.8 155.06,187.81 155.57,187.82 156.07,187.83 156.58,187.84 157.08,187.85 157.58,187.86 158.09,187.87 158.59,187.87 159.1,187.88 159.6,187.89 160.1,187.9 160.61,187.91 161.11,187.92 161.62,187.93 162.12,187.94 162.62,187.95 163.13,187.96 163.63,187.97 164.14,187.98 164.64,187.99 165.14,187.99 165.65,188 166.15,188.01 166.66,188.02 167.16,188.03 167.66,188.04 168.17,188.05 168.67,188.06 169.18,188.07 169.68,188.08 170.18,188.09 170.69,188.1 171.19,188.11 171.7,188.12 172.2,188.13 172.7,188.14 173.21,188.15 173.71,188.16 174.22,188.17 174.72,188.18 175.22,188.19 175.73,188.2 176.23,188.21 176.74,188.22 177.24,188.23 177.74,188.24 178.25,188.25 178.75,188.26 179.26,188.27 179.76,188.28 180.26,188.29 180.77,188.3 181.27,188.32 181.78,188.33 182.28,188.34 182.78,188.35 183.29,188.36 183.79,188.37 184.3,188.39 184.8,188.4 185.3,188.41 185.81,188.42 186.31,188.44 186.82,188.45 187.32,188.46 187.82,188.48 188.33,188.49 188.83,188.51 189.34,188.52 189.84,188.54 190.34,188.55 190.85,188.57 191.35,188.59 191.86,188.6 192.36,188.62 192.86,188.64 193.37,188.66 193.87,188.68 194.38,188.69 194.88,188.71 195.38,188.74 195.89,188.76 196.39,188.78 196.9,188.8 197.4,188.83 197.9,188.85 198.41,188.88 198.91,188.91 199.42,188.93 199.92,188.96 200.42,188.99 200.93,189.03 201.43,189.06 201.94,189.09 202.44,189.13 202.94,189.17 203.45,189.21 203.95,189.25 204.46,189.29 204.96,189.34 205.46,189.39 205.97,189.44 206.47,189.49 206.98,189.55 207.48,189.61 207.98,189.67 208.49,189.73 208.99,189.8 209.5,189.87 210,189.95 210.5,190.03 211.01,190.11 211.51,190.2 212.02,190.29 212.52,190.39 213.02,190.5 213.53,190.61 214.03,190.72 214.54,190.84 215.04,190.97 215.54,191.11 216.05,191.25 216.55,191.4 217.06,191.57 217.56,191.74 218.06,191.91 218.57,192.1 219.07,192.31 219.58,192.52 220.08,192.74 220.58,192.98 221.09,193.23 221.59,193.49 222.1,193.77 222.6,194.07 223.1,194.38 223.61,194.72 224.11,195.07 224.62,195.44 225.12,195.83 225.62,196.24 226.13,196.68 226.63,197.14 227.14,197.63 227.64,198.15 228.14,198.69 228.65,199.27 229.15,199.88 229.66,200.52 230.16,201.2 230.66,201.91 231.17,202.67 231.67,203.47 232.18,204.31 232.68,205.2 233.18,206.13 233.69,207.12 234.19,208.16 234.7,209.25 235.2,210.41 235.7,211.62 236.21,212.9 236.71,214.24 237.22,215.65 237.72,217.14 238.22,218.7 238.73,220.33 239.23,222.05 239.74,223.85 240.24,225.74 240.74,227.72 241.25,229.8 241.75,231.97 242.26,234.24 242.76,236.61 243.26,239.09 243.77,241.68 244.27,244.38 244.78,247.2 245.28,250.14 245.78,253.2 246.29,256.38 246.79,259.69 247.3,263.13 247.8,266.7 248.3,270.41 248.81,274.25 249.31,278.24 249.82,282.36 250.32,286.63 250.82,291.04 251.33,295.6 251.33,295.6" fill="none" stroke="#555555" stroke-width="1.1" stroke-linejoin="round" />
<g fill="#111111" stroke="#0d0d0d" stroke-width="0.5"><circle cx="33.6" cy="185.64" r="1.9"/><circle cx="35.62" cy="185.68" r="1.9"/><circle cx="37.63" cy="185.71" r="1.9"/><circle cx="39.65" cy="185.75" r="1.9"/><circle cx="41.66" cy="185.79" r="1.9"/><circle cx="43.68" cy="185.82" r="1.9"/><circle cx="45.7" cy="185.86" r="1.9"/><circle cx="47.71" cy="185.89" r="1.9"/><circle cx="49.73" cy="185.93" r="1.9"/><circle cx="51.74" cy="185.97" r="1.9"/><circle cx="53.76" cy="186" r="1.9"/><circle cx="55.78" cy="186.04" r="1.9"/><circle cx="57.79" cy="186.07" r="1.9"/><circle cx="59.81" cy="186.11" r="1.9"/><circle cx="61.82" cy="186.14" r="1.9"/><circle cx="63.84" cy="186.18" r="1.9"/><circle cx="65.86" cy="186.22" r="1.9"/><circle cx="67.87" cy="186.25" r="1.9"/><circle cx="69.89" cy="186.29" r="1.9"/><circle cx="71.9" cy="186.32" r="1.9"/><circle cx="73.92" cy="186.36" r="1.9"/><circle cx="75.94" cy="186.4" r="1.9"/><circle cx="77.95" cy="186.43" r="1.9"/><circle cx="79.97" cy="186.47" r="1.9"/><circle cx="81.98" cy="186.5" r="1.9"/><circle cx="84" cy="186.54" r="1.9"/><circle cx="86.02" cy="186.58" r="1.9"/><circle cx="88.03" cy="186.61" r="1.9"/><circle cx="90.05" cy="186.65" r="1.9"/><circle cx="92.06" cy="186.68" r="1.9"/><circle cx="94.08" cy="186.72" r="1.9"/><circle cx="96.1" cy="186.76" r="1.9"/><circle cx="98.11" cy="186.79" r="1.9"/><circle cx="100.13" cy="186.83" r="1.9"/><circle cx="102.14" cy="186.86" r="1.9"/><circle cx="104.16" cy="186.9" r="1.9"/><circle cx="106.18" cy="186.94" r="1.9"/><circle cx="108.19" cy="186.97" r="1.9"/><circle cx="110.21" cy="187.01" r="1.9"/><circle cx="112.22" cy="187.04" r="1.9"/><circle cx="114.24" cy="187.08" r="1.9"/><circle cx="116.26" cy="187.12" r="1.9"/><circle cx="118.27" cy="187.15" r="1.9"/><circle cx="120.29" cy="187.19" r="1.9"/><circle cx="122.3" cy="187.22" r="1.9"/><circle cx="124.32" cy="187.26" r="1.9"/><circle cx="126.34" cy="187.3" r="1.9"/><circle cx="128.35" cy="187.33" r="1.9"/><circle cx="130.37" cy="187.37" r="1.9"/><circle cx="132.38" cy="187.4" r="1.9"/><circle cx="134.4" cy="187.44" r="1.9"/><circle cx="136.42" cy="187.48" r="1.9"/><circle cx="138.43" cy="187.51" r="1.9"/><circle cx="140.45" cy="187.55" r="1.9"/><circle cx="142.46" cy="187.58" r="1.9"/><circle cx="144.48" cy="187.62" r="1.9"/><circle cx="146.5" cy="187.66" r="1.9"/><circle cx="148.51" cy="187.69" r="1.9"/><circle cx="150.53" cy="187.73" r="1.9"/><circle cx="152.54" cy="187.77" r="1.9"/><circle cx="154.56" cy="187.8" r="1.9"/><circle cx="156.58" cy="187.84" r="1.9"/><circle cx="158.59" cy="187.87" r="1.9"/><circle cx="160.61" cy="187.91" r="1.9"/><circle cx="162.62" cy="187.95" r="1.9"/><circle cx="164.64" cy="187.99" r="1.9"/><circle cx="166.66" cy="188.02" r="1.9"/><circle cx="168.67" cy="188.06" r="1.9"/><circle cx="170.69" cy="188.1" r="1.9"/><circle cx="172.7" cy="188.14" r="1.9"/><circle cx="174.72" cy="188.18" r="1.9"/><circle cx="176.74" cy="188.22" r="1.9"/><circle cx="178.75" cy="188.26" r="1.9"/><circle cx="180.77" cy="188.3" r="1.9"/><circle cx="182.78" cy="188.35" r="1.9"/><circle cx="184.8" cy="188.4" r="1.9"/><circle cx="186.82" cy="188.45" r="1.9"/><circle cx="188.83" cy="188.51" r="1.9"/><circle cx="190.85" cy="188.57" r="1.9"/><circle cx="192.86" cy="188.64" r="1.9"/><circle cx="194.88" cy="188.71" r="1.9"/><circle cx="196.9" cy="188.8" r="1.9"/><circle cx="198.91" cy="188.91" r="1.9"/><circle cx="200.93" cy="189.03" r="1.9"/><circle cx="202.94" cy="189.17" r="1.9"/><circle cx="204.96" cy="189.34" r="1.9"/><circle cx="206.98" cy="189.55" r="1.9"/><circle cx="208.99" cy="189.8" r="1.9"/><circle cx="211.01" cy="190.11" r="1.9"/><circle cx="213.02" cy="190.5" r="1.9"/><circle cx="215.04" cy="190.97" r="1.9"/><circle cx="217.06" cy="191.57" r="1.9"/><circle cx="219.07" cy="192.31" r="1.9"/><circle cx="221.09" cy="193.23" r="1.9"/><circle cx="223.1" cy="194.38" r="1.9"/><circle cx="225.12" cy="195.83" r="1.9"/><circle cx="227.14" cy="197.63" r="1.9"/><circle cx="229.15" cy="199.88" r="1.9"/><circle cx="231.17" cy="202.67" r="1.9"/><circle cx="233.18" cy="206.13" r="1.9"/><circle cx="235.2" cy="210.41" r="1.9"/><circle cx="237.22" cy="215.65" r="1.9"/><circle cx="239.23" cy="222.05" r="1.9"/><circle cx="241.25" cy="229.8" r="1.9"/><circle cx="243.26" cy="239.09" r="1.9"/><circle cx="245.28" cy="250.14" r="1.9"/><circle cx="247.3" cy="263.13" r="1.9"/><circle cx="249.31" cy="278.24" r="1.9"/><circle cx="251.33" cy="295.6" r="1.9"/></g>
<g fill="#fff" fill-opacity="0.8"><circle cx="33.03" cy="185.07" r="0.68"/><circle cx="35.05" cy="185.11" r="0.68"/><circle cx="37.06" cy="185.14" r="0.68"/><circle cx="39.08" cy="185.18" r="0.68"/><circle cx="41.09" cy="185.22" r="0.68"/><circle cx="43.11" cy="185.25" r="0.68"/><circle cx="45.13" cy="185.29" r="0.68"/><circle cx="47.14" cy="185.32" r="0.68"/><circle cx="49.16" cy="185.36" r="0.68"/><circle cx="51.17" cy="185.4" r="0.68"/><circle cx="53.19" cy="185.43" r="0.68"/><circle cx="55.21" cy="185.47" r="0.68"/><circle cx="57.22" cy="185.5" r="0.68"/><circle cx="59.24" cy="185.54" r="0.68"/><circle cx="61.25" cy="185.57" r="0.68"/><circle cx="63.27" cy="185.61" r="0.68"/><circle cx="65.29" cy="185.65" r="0.68"/><circle cx="67.3" cy="185.68" r="0.68"/><circle cx="69.32" cy="185.72" r="0.68"/><circle cx="71.33" cy="185.75" r="0.68"/><circle cx="73.35" cy="185.79" r="0.68"/><circle cx="75.37" cy="185.83" r="0.68"/><circle cx="77.38" cy="185.86" r="0.68"/><circle cx="79.4" cy="185.9" r="0.68"/><circle cx="81.41" cy="185.93" r="0.68"/><circle cx="83.43" cy="185.97" r="0.68"/><circle cx="85.45" cy="186.01" r="0.68"/><circle cx="87.46" cy="186.04" r="0.68"/><circle cx="89.48" cy="186.08" r="0.68"/><circle cx="91.49" cy="186.11" r="0.68"/><circle cx="93.51" cy="186.15" r="0.68"/><circle cx="95.53" cy="186.19" r="0.68"/><circle cx="97.54" cy="186.22" r="0.68"/><circle cx="99.56" cy="186.26" r="0.68"/><circle cx="101.57" cy="186.29" r="0.68"/><circle cx="103.59" cy="186.33" r="0.68"/><circle cx="105.61" cy="186.37" r="0.68"/><circle cx="107.62" cy="186.4" r="0.68"/><circle cx="109.64" cy="186.44" r="0.68"/><circle cx="111.65" cy="186.47" r="0.68"/><circle cx="113.67" cy="186.51" r="0.68"/><circle cx="115.69" cy="186.55" r="0.68"/><circle cx="117.7" cy="186.58" r="0.68"/><circle cx="119.72" cy="186.62" r="0.68"/><circle cx="121.73" cy="186.65" r="0.68"/><circle cx="123.75" cy="186.69" r="0.68"/><circle cx="125.77" cy="186.73" r="0.68"/><circle cx="127.78" cy="186.76" r="0.68"/><circle cx="129.8" cy="186.8" r="0.68"/><circle cx="131.81" cy="186.83" r="0.68"/><circle cx="133.83" cy="186.87" r="0.68"/><circle cx="135.85" cy="186.91" r="0.68"/><circle cx="137.86" cy="186.94" r="0.68"/><circle cx="139.88" cy="186.98" r="0.68"/><circle cx="141.89" cy="187.01" r="0.68"/><circle cx="143.91" cy="187.05" r="0.68"/><circle cx="145.93" cy="187.09" r="0.68"/><circle cx="147.94" cy="187.12" r="0.68"/><circle cx="149.96" cy="187.16" r="0.68"/><circle cx="151.97" cy="187.2" r="0.68"/><circle cx="153.99" cy="187.23" r="0.68"/><circle cx="156.01" cy="187.27" r="0.68"/><circle cx="158.02" cy="187.3" r="0.68"/><circle cx="160.04" cy="187.34" r="0.68"/><circle cx="162.05" cy="187.38" r="0.68"/><circle cx="164.07" cy="187.42" r="0.68"/><circle cx="166.09" cy="187.45" r="0.68"/><circle cx="168.1" cy="187.49" r="0.68"/><circle cx="170.12" cy="187.53" r="0.68"/><circle cx="172.13" cy="187.57" r="0.68"/><circle cx="174.15" cy="187.61" r="0.68"/><circle cx="176.17" cy="187.65" r="0.68"/><circle cx="178.18" cy="187.69" r="0.68"/><circle cx="180.2" cy="187.73" r="0.68"/><circle cx="182.21" cy="187.78" r="0.68"/><circle cx="184.23" cy="187.83" r="0.68"/><circle cx="186.25" cy="187.88" r="0.68"/><circle cx="188.26" cy="187.94" r="0.68"/><circle cx="190.28" cy="188" r="0.68"/><circle cx="192.29" cy="188.07" r="0.68"/><circle cx="194.31" cy="188.14" r="0.68"/><circle cx="196.33" cy="188.23" r="0.68"/><circle cx="198.34" cy="188.34" r="0.68"/><circle cx="200.36" cy="188.46" r="0.68"/><circle cx="202.37" cy="188.6" r="0.68"/><circle cx="204.39" cy="188.77" r="0.68"/><circle cx="206.41" cy="188.98" r="0.68"/><circle cx="208.42" cy="189.23" r="0.68"/><circle cx="210.44" cy="189.54" r="0.68"/><circle cx="212.45" cy="189.93" r="0.68"/><circle cx="214.47" cy="190.4" r="0.68"/><circle cx="216.49" cy="191" r="0.68"/><circle cx="218.5" cy="191.74" r="0.68"/><circle cx="220.52" cy="192.66" r="0.68"/><circle cx="222.53" cy="193.81" r="0.68"/><circle cx="224.55" cy="195.26" r="0.68"/><circle cx="226.57" cy="197.06" r="0.68"/><circle cx="228.58" cy="199.31" r="0.68"/><circle cx="230.6" cy="202.1" r="0.68"/><circle cx="232.61" cy="205.56" r="0.68"/><circle cx="234.63" cy="209.84" r="0.68"/><circle cx="236.65" cy="215.08" r="0.68"/><circle cx="238.66" cy="221.48" r="0.68"/><circle cx="240.68" cy="229.23" r="0.68"/><circle cx="242.69" cy="238.52" r="0.68"/><circle cx="244.71" cy="249.57" r="0.68"/><circle cx="246.73" cy="262.56" r="0.68"/><circle cx="248.74" cy="277.67" r="0.68"/><circle cx="250.76" cy="295.03" r="0.68"/></g>
<polyline points="33.6,185.23 34.1,185.23 34.61,185.24 35.11,185.25 35.62,185.26 36.12,185.27 36.62,185.28 37.13,185.29 37.63,185.3 38.14,185.31 38.64,185.32 39.14,185.32 39.65,185.33 40.15,185.34 40.66,185.35 41.16,185.36 41.66,185.37 42.17,185.38 42.67,185.39 43.18,185.4 43.68,185.41 44.18,185.41 44.69,185.42 45.19,185.43 45.7,185.44 46.2,185.45 46.7,185.46 47.21,185.47 47.71,185.48 48.22,185.49 48.72,185.5 49.22,185.5 49.73,185.51 50.23,185.52 50.74,185.53 51.24,185.54 51.74,185.55 52.25,185.56 52.75,185.57 53.26,185.58 53.76,185.59 54.26,185.59 54.77,185.6 55.27,185.61 55.78,185.62 56.28,185.63 56.78,185.64 57.29,185.65 57.79,185.66 58.3,185.67 58.8,185.68 59.3,185.68 59.81,185.69 60.31,185.7 60.82,185.71 61.32,185.72 61.82,185.73 62.33,185.74 62.83,185.75 63.34,185.76 63.84,185.77 64.34,185.77 64.85,185.78 65.35,185.79 65.86,185.8 66.36,185.81 66.86,185.82 67.37,185.83 67.87,185.84 68.38,185.85 68.88,185.86 69.38,185.86 69.89,185.87 70.39,185.88 70.9,185.89 71.4,185.9 71.9,185.91 72.41,185.92 72.91,185.93 73.42,185.94 73.92,185.95 74.42,185.95 74.93,185.96 75.43,185.97 75.94,185.98 76.44,185.99 76.94,186 77.45,186.01 77.95,186.02 78.46,186.03 78.96,186.04 79.46,186.04 79.97,186.05 80.47,186.06 80.98,186.07 81.48,186.08 81.98,186.09 82.49,186.1 82.99,186.11 83.5,186.12 84,186.13 84.5,186.13 85.01,186.14 85.51,186.15 86.02,186.16 86.52,186.17 87.02,186.18 87.53,186.19 88.03,186.2 88.54,186.21 89.04,186.22 89.54,186.22 90.05,186.23 90.55,186.24 91.06,186.25 91.56,186.26 92.06,186.27 92.57,186.28 93.07,186.29 93.58,186.3 94.08,186.31 94.58,186.31 95.09,186.32 95.59,186.33 96.1,186.34 96.6,186.35 97.1,186.36 97.61,186.37 98.11,186.38 98.62,186.39 99.12,186.4 99.62,186.4 100.13,186.41 100.63,186.42 101.14,186.43 101.64,186.44 102.14,186.45 102.65,186.46 103.15,186.47 103.66,186.48 104.16,186.49 104.66,186.49 105.17,186.5 105.67,186.51 106.18,186.52 106.68,186.53 107.18,186.54 107.69,186.55 108.19,186.56 108.7,186.57 109.2,186.58 109.7,186.58 110.21,186.59 110.71,186.6 111.22,186.61 111.72,186.62 112.22,186.63 112.73,186.64 113.23,186.65 113.74,186.66 114.24,186.67 114.74,186.67 115.25,186.68 115.75,186.69 116.26,186.7 116.76,186.71 117.26,186.72 117.77,186.73 118.27,186.74 118.78,186.75 119.28,186.76 119.78,186.76 120.29,186.77 120.79,186.78 121.3,186.79 121.8,186.8 122.3,186.81 122.81,186.82 123.31,186.83 123.82,186.84 124.32,186.85 124.82,186.85 125.33,186.86 125.83,186.87 126.34,186.88 126.84,186.89 127.34,186.9 127.85,186.91 128.35,186.92 128.86,186.93 129.36,186.94 129.86,186.94 130.37,186.95 130.87,186.96 131.38,186.97 131.88,186.98 132.38,186.99 132.89,187 133.39,187.01 133.9,187.02 134.4,187.03 134.9,187.03 135.41,187.04 135.91,187.05 136.42,187.06 136.92,187.07 137.42,187.08 137.93,187.09 138.43,187.1 138.94,187.11 139.44,187.12 139.94,187.12 140.45,187.13 140.95,187.14 141.46,187.15 141.96,187.16 142.46,187.17 142.97,187.18 143.47,187.19 143.98,187.2 144.48,187.21 144.98,187.21 145.49,187.22 145.99,187.23 146.5,187.24 147,187.25 147.5,187.26 148.01,187.27 148.51,187.28 149.02,187.29 149.52,187.3 150.02,187.3 150.53,187.31 151.03,187.32 151.54,187.33 152.04,187.34 152.54,187.35 153.05,187.36 153.55,187.37 154.06,187.38 154.56,187.39 155.06,187.39 155.57,187.4 156.07,187.41 156.58,187.42 157.08,187.43 157.58,187.44 158.09,187.45 158.59,187.46 159.1,187.47 159.6,187.48 160.1,187.48 160.61,187.49 161.11,187.5 161.62,187.51 162.12,187.52 162.62,187.53 163.13,187.54 163.63,187.55 164.14,187.56 164.64,187.57 165.14,187.57 165.65,187.58 166.15,187.59 166.66,187.6 167.16,187.61 167.66,187.62 168.17,187.63 168.67,187.64 169.18,187.65 169.68,187.66 170.18,187.67 170.69,187.67 171.19,187.68 171.7,187.69 172.2,187.7 172.7,187.71 173.21,187.72 173.71,187.73 174.22,187.74 174.72,187.75 175.22,187.76 175.73,187.77 176.23,187.78 176.74,187.79 177.24,187.79 177.74,187.8 178.25,187.81 178.75,187.82 179.26,187.83 179.76,187.84 180.26,187.85 180.77,187.86 181.27,187.87 181.78,187.88 182.28,187.89 182.78,187.9 183.29,187.91 183.79,187.92 184.3,187.93 184.8,187.94 185.3,187.95 185.81,187.96 186.31,187.97 186.82,187.98 187.32,187.99 187.82,188 188.33,188.01 188.83,188.02 189.34,188.03 189.84,188.04 190.34,188.05 190.85,188.06 191.35,188.07 191.86,188.09 192.36,188.1 192.86,188.11 193.37,188.12 193.87,188.13 194.38,188.14 194.88,188.16 195.38,188.17 195.89,188.18 196.39,188.2 196.9,188.21 197.4,188.22 197.9,188.24 198.41,188.25 198.91,188.27 199.42,188.28 199.92,188.3 200.42,188.32 200.93,188.33 201.43,188.35 201.94,188.37 202.44,188.39 202.94,188.41 203.45,188.43 203.95,188.45 204.46,188.47 204.96,188.49 205.46,188.52 205.97,188.54 206.47,188.57 206.98,188.6 207.48,188.62 207.98,188.65 208.49,188.69 208.99,188.72 209.5,188.75 210,188.79 210.5,188.83 211.01,188.87 211.51,188.91 212.02,188.96 212.52,189.01 213.02,189.06 213.53,189.11 214.03,189.17 214.54,189.23 215.04,189.3 215.54,189.37 216.05,189.44 216.55,189.52 217.06,189.6 217.56,189.69 218.06,189.78 218.57,189.88 219.07,189.98 219.58,190.1 220.08,190.22 220.58,190.34 221.09,190.48 221.59,190.62 222.1,190.78 222.6,190.94 223.1,191.12 223.61,191.31 224.11,191.51 224.62,191.72 225.12,191.95 225.62,192.19 226.13,192.45 226.63,192.73 227.14,193.02 227.64,193.34 228.14,193.67 228.65,194.03 229.15,194.42 229.66,194.83 230.16,195.26 230.66,195.73 231.17,196.22 231.67,196.75 232.18,197.32 232.68,197.92 233.18,198.56 233.69,199.24 234.19,199.97 234.7,200.74 235.2,201.57 235.7,202.45 236.21,203.38 236.71,204.37 237.22,205.43 237.72,206.55 238.22,207.74 238.73,209 239.23,210.34 239.74,211.76 240.24,213.27 240.74,214.86 241.25,216.55 241.75,218.33 242.26,220.22 242.76,222.21 243.26,224.31 243.77,226.52 244.27,228.86 244.78,231.31 245.28,233.9 245.78,236.61 246.29,239.46 246.79,242.45 247.3,245.59 247.8,248.87 248.3,252.3 248.81,255.89 249.31,259.64 249.82,263.54 250.32,267.61 250.82,271.85 251.33,276.26 251.83,280.83 252.34,285.58 252.84,290.5 253.34,295.6 253.34,295.6" fill="none" stroke="#86cfe6" stroke-width="1.1" stroke-linejoin="round" />
<g fill="#86cfe6" stroke="#68a1b3" stroke-width="0.5"><circle cx="33.6" cy="185.23" r="1.9"/><circle cx="35.62" cy="185.26" r="1.9"/><circle cx="37.63" cy="185.3" r="1.9"/><circle cx="39.65" cy="185.33" r="1.9"/><circle cx="41.66" cy="185.37" r="1.9"/><circle cx="43.68" cy="185.41" r="1.9"/><circle cx="45.7" cy="185.44" r="1.9"/><circle cx="47.71" cy="185.48" r="1.9"/><circle cx="49.73" cy="185.51" r="1.9"/><circle cx="51.74" cy="185.55" r="1.9"/><circle cx="53.76" cy="185.59" r="1.9"/><circle cx="55.78" cy="185.62" r="1.9"/><circle cx="57.79" cy="185.66" r="1.9"/><circle cx="59.81" cy="185.69" r="1.9"/><circle cx="61.82" cy="185.73" r="1.9"/><circle cx="63.84" cy="185.77" r="1.9"/><circle cx="65.86" cy="185.8" r="1.9"/><circle cx="67.87" cy="185.84" r="1.9"/><circle cx="69.89" cy="185.87" r="1.9"/><circle cx="71.9" cy="185.91" r="1.9"/><circle cx="73.92" cy="185.95" r="1.9"/><circle cx="75.94" cy="185.98" r="1.9"/><circle cx="77.95" cy="186.02" r="1.9"/><circle cx="79.97" cy="186.05" r="1.9"/><circle cx="81.98" cy="186.09" r="1.9"/><circle cx="84" cy="186.13" r="1.9"/><circle cx="86.02" cy="186.16" r="1.9"/><circle cx="88.03" cy="186.2" r="1.9"/><circle cx="90.05" cy="186.23" r="1.9"/><circle cx="92.06" cy="186.27" r="1.9"/><circle cx="94.08" cy="186.31" r="1.9"/><circle cx="96.1" cy="186.34" r="1.9"/><circle cx="98.11" cy="186.38" r="1.9"/><circle cx="100.13" cy="186.41" r="1.9"/><circle cx="102.14" cy="186.45" r="1.9"/><circle cx="104.16" cy="186.49" r="1.9"/><circle cx="106.18" cy="186.52" r="1.9"/><circle cx="108.19" cy="186.56" r="1.9"/><circle cx="110.21" cy="186.59" r="1.9"/><circle cx="112.22" cy="186.63" r="1.9"/><circle cx="114.24" cy="186.67" r="1.9"/><circle cx="116.26" cy="186.7" r="1.9"/><circle cx="118.27" cy="186.74" r="1.9"/><circle cx="120.29" cy="186.77" r="1.9"/><circle cx="122.3" cy="186.81" r="1.9"/><circle cx="124.32" cy="186.85" r="1.9"/><circle cx="126.34" cy="186.88" r="1.9"/><circle cx="128.35" cy="186.92" r="1.9"/><circle cx="130.37" cy="186.95" r="1.9"/><circle cx="132.38" cy="186.99" r="1.9"/><circle cx="134.4" cy="187.03" r="1.9"/><circle cx="136.42" cy="187.06" r="1.9"/><circle cx="138.43" cy="187.1" r="1.9"/><circle cx="140.45" cy="187.13" r="1.9"/><circle cx="142.46" cy="187.17" r="1.9"/><circle cx="144.48" cy="187.21" r="1.9"/><circle cx="146.5" cy="187.24" r="1.9"/><circle cx="148.51" cy="187.28" r="1.9"/><circle cx="150.53" cy="187.31" r="1.9"/><circle cx="152.54" cy="187.35" r="1.9"/><circle cx="154.56" cy="187.39" r="1.9"/><circle cx="156.58" cy="187.42" r="1.9"/><circle cx="158.59" cy="187.46" r="1.9"/><circle cx="160.61" cy="187.49" r="1.9"/><circle cx="162.62" cy="187.53" r="1.9"/><circle cx="164.64" cy="187.57" r="1.9"/><circle cx="166.66" cy="187.6" r="1.9"/><circle cx="168.67" cy="187.64" r="1.9"/><circle cx="170.69" cy="187.67" r="1.9"/><circle cx="172.7" cy="187.71" r="1.9"/><circle cx="174.72" cy="187.75" r="1.9"/><circle cx="176.74" cy="187.79" r="1.9"/><circle cx="178.75" cy="187.82" r="1.9"/><circle cx="180.77" cy="187.86" r="1.9"/><circle cx="182.78" cy="187.9" r="1.9"/><circle cx="184.8" cy="187.94" r="1.9"/><circle cx="186.82" cy="187.98" r="1.9"/><circle cx="188.83" cy="188.02" r="1.9"/><circle cx="190.85" cy="188.06" r="1.9"/><circle cx="192.86" cy="188.11" r="1.9"/><circle cx="194.88" cy="188.16" r="1.9"/><circle cx="196.9" cy="188.21" r="1.9"/><circle cx="198.91" cy="188.27" r="1.9"/><circle cx="200.93" cy="188.33" r="1.9"/><circle cx="202.94" cy="188.41" r="1.9"/><circle cx="204.96" cy="188.49" r="1.9"/><circle cx="206.98" cy="188.6" r="1.9"/><circle cx="208.99" cy="188.72" r="1.9"/><circle cx="211.01" cy="188.87" r="1.9"/><circle cx="213.02" cy="189.06" r="1.9"/><circle cx="215.04" cy="189.3" r="1.9"/><circle cx="217.06" cy="189.6" r="1.9"/><circle cx="219.07" cy="189.98" r="1.9"/><circle cx="221.09" cy="190.48" r="1.9"/><circle cx="223.1" cy="191.12" r="1.9"/><circle cx="225.12" cy="191.95" r="1.9"/><circle cx="227.14" cy="193.02" r="1.9"/><circle cx="229.15" cy="194.42" r="1.9"/><circle cx="231.17" cy="196.22" r="1.9"/><circle cx="233.18" cy="198.56" r="1.9"/><circle cx="235.2" cy="201.57" r="1.9"/><circle cx="237.22" cy="205.43" r="1.9"/><circle cx="239.23" cy="210.34" r="1.9"/><circle cx="241.25" cy="216.55" r="1.9"/><circle cx="243.26" cy="224.31" r="1.9"/><circle cx="245.28" cy="233.9" r="1.9"/><circle cx="247.3" cy="245.59" r="1.9"/><circle cx="249.31" cy="259.64" r="1.9"/><circle cx="251.33" cy="276.26" r="1.9"/><circle cx="253.34" cy="295.6" r="1.9"/></g>
<g fill="#fff" fill-opacity="0.8"><circle cx="33.03" cy="184.66" r="0.68"/><circle cx="35.05" cy="184.69" r="0.68"/><circle cx="37.06" cy="184.73" r="0.68"/><circle cx="39.08" cy="184.76" r="0.68"/><circle cx="41.09" cy="184.8" r="0.68"/><circle cx="43.11" cy="184.84" r="0.68"/><circle cx="45.13" cy="184.87" r="0.68"/><circle cx="47.14" cy="184.91" r="0.68"/><circle cx="49.16" cy="184.94" r="0.68"/><circle cx="51.17" cy="184.98" r="0.68"/><circle cx="53.19" cy="185.02" r="0.68"/><circle cx="55.21" cy="185.05" r="0.68"/><circle cx="57.22" cy="185.09" r="0.68"/><circle cx="59.24" cy="185.12" r="0.68"/><circle cx="61.25" cy="185.16" r="0.68"/><circle cx="63.27" cy="185.2" r="0.68"/><circle cx="65.29" cy="185.23" r="0.68"/><circle cx="67.3" cy="185.27" r="0.68"/><circle cx="69.32" cy="185.3" r="0.68"/><circle cx="71.33" cy="185.34" r="0.68"/><circle cx="73.35" cy="185.38" r="0.68"/><circle cx="75.37" cy="185.41" r="0.68"/><circle cx="77.38" cy="185.45" r="0.68"/><circle cx="79.4" cy="185.48" r="0.68"/><circle cx="81.41" cy="185.52" r="0.68"/><circle cx="83.43" cy="185.56" r="0.68"/><circle cx="85.45" cy="185.59" r="0.68"/><circle cx="87.46" cy="185.63" r="0.68"/><circle cx="89.48" cy="185.66" r="0.68"/><circle cx="91.49" cy="185.7" r="0.68"/><circle cx="93.51" cy="185.74" r="0.68"/><circle cx="95.53" cy="185.77" r="0.68"/><circle cx="97.54" cy="185.81" r="0.68"/><circle cx="99.56" cy="185.84" r="0.68"/><circle cx="101.57" cy="185.88" r="0.68"/><circle cx="103.59" cy="185.92" r="0.68"/><circle cx="105.61" cy="185.95" r="0.68"/><circle cx="107.62" cy="185.99" r="0.68"/><circle cx="109.64" cy="186.02" r="0.68"/><circle cx="111.65" cy="186.06" r="0.68"/><circle cx="113.67" cy="186.1" r="0.68"/><circle cx="115.69" cy="186.13" r="0.68"/><circle cx="117.7" cy="186.17" r="0.68"/><circle cx="119.72" cy="186.2" r="0.68"/><circle cx="121.73" cy="186.24" r="0.68"/><circle cx="123.75" cy="186.28" r="0.68"/><circle cx="125.77" cy="186.31" r="0.68"/><circle cx="127.78" cy="186.35" r="0.68"/><circle cx="129.8" cy="186.38" r="0.68"/><circle cx="131.81" cy="186.42" r="0.68"/><circle cx="133.83" cy="186.46" r="0.68"/><circle cx="135.85" cy="186.49" r="0.68"/><circle cx="137.86" cy="186.53" r="0.68"/><circle cx="139.88" cy="186.56" r="0.68"/><circle cx="141.89" cy="186.6" r="0.68"/><circle cx="143.91" cy="186.64" r="0.68"/><circle cx="145.93" cy="186.67" r="0.68"/><circle cx="147.94" cy="186.71" r="0.68"/><circle cx="149.96" cy="186.74" r="0.68"/><circle cx="151.97" cy="186.78" r="0.68"/><circle cx="153.99" cy="186.82" r="0.68"/><circle cx="156.01" cy="186.85" r="0.68"/><circle cx="158.02" cy="186.89" r="0.68"/><circle cx="160.04" cy="186.92" r="0.68"/><circle cx="162.05" cy="186.96" r="0.68"/><circle cx="164.07" cy="187" r="0.68"/><circle cx="166.09" cy="187.03" r="0.68"/><circle cx="168.1" cy="187.07" r="0.68"/><circle cx="170.12" cy="187.1" r="0.68"/><circle cx="172.13" cy="187.14" r="0.68"/><circle cx="174.15" cy="187.18" r="0.68"/><circle cx="176.17" cy="187.22" r="0.68"/><circle cx="178.18" cy="187.25" r="0.68"/><circle cx="180.2" cy="187.29" r="0.68"/><circle cx="182.21" cy="187.33" r="0.68"/><circle cx="184.23" cy="187.37" r="0.68"/><circle cx="186.25" cy="187.41" r="0.68"/><circle cx="188.26" cy="187.45" r="0.68"/><circle cx="190.28" cy="187.49" r="0.68"/><circle cx="192.29" cy="187.54" r="0.68"/><circle cx="194.31" cy="187.59" r="0.68"/><circle cx="196.33" cy="187.64" r="0.68"/><circle cx="198.34" cy="187.7" r="0.68"/><circle cx="200.36" cy="187.76" r="0.68"/><circle cx="202.37" cy="187.84" r="0.68"/><circle cx="204.39" cy="187.92" r="0.68"/><circle cx="206.41" cy="188.03" r="0.68"/><circle cx="208.42" cy="188.15" r="0.68"/><circle cx="210.44" cy="188.3" r="0.68"/><circle cx="212.45" cy="188.49" r="0.68"/><circle cx="214.47" cy="188.73" r="0.68"/><circle cx="216.49" cy="189.03" r="0.68"/><circle cx="218.5" cy="189.41" r="0.68"/><circle cx="220.52" cy="189.91" r="0.68"/><circle cx="222.53" cy="190.55" r="0.68"/><circle cx="224.55" cy="191.38" r="0.68"/><circle cx="226.57" cy="192.45" r="0.68"/><circle cx="228.58" cy="193.85" r="0.68"/><circle cx="230.6" cy="195.65" r="0.68"/><circle cx="232.61" cy="197.99" r="0.68"/><circle cx="234.63" cy="201" r="0.68"/><circle cx="236.65" cy="204.86" r="0.68"/><circle cx="238.66" cy="209.77" r="0.68"/><circle cx="240.68" cy="215.98" r="0.68"/><circle cx="242.69" cy="223.74" r="0.68"/><circle cx="244.71" cy="233.33" r="0.68"/><circle cx="246.73" cy="245.02" r="0.68"/><circle cx="248.74" cy="259.07" r="0.68"/><circle cx="250.76" cy="275.69" r="0.68"/><circle cx="252.77" cy="295.03" r="0.68"/></g>
<polyline points="33.6,186.4 34.1,186.41 34.61,186.42 35.11,186.43 35.62,186.44 36.12,186.45 36.62,186.46 37.13,186.47 37.63,186.47 38.14,186.48 38.64,186.49 39.14,186.5 39.65,186.51 40.15,186.52 40.66,186.53 41.16,186.54 41.66,186.55 42.17,186.56 42.67,186.56 43.18,186.57 43.68,186.58 44.18,186.59 44.69,186.6 45.19,186.61 45.7,186.62 46.2,186.63 46.7,186.64 47.21,186.65 47.71,186.65 48.22,186.66 48.72,186.67 49.22,186.68 49.73,186.69 50.23,186.7 50.74,186.71 51.24,186.72 51.74,186.73 52.25,186.74 52.75,186.74 53.26,186.75 53.76,186.76 54.26,186.77 54.77,186.78 55.27,186.79 55.78,186.8 56.28,186.81 56.78,186.82 57.29,186.83 57.79,186.83 58.3,186.84 58.8,186.85 59.3,186.86 59.81,186.87 60.31,186.88 60.82,186.89 61.32,186.9 61.82,186.91 62.33,186.92 62.83,186.92 63.34,186.93 63.84,186.94 64.34,186.95 64.85,186.96 65.35,186.97 65.86,186.98 66.36,186.99 66.86,187 67.37,187.01 67.87,187.01 68.38,187.02 68.88,187.03 69.38,187.04 69.89,187.05 70.39,187.06 70.9,187.07 71.4,187.08 71.9,187.09 72.41,187.1 72.91,187.1 73.42,187.11 73.92,187.12 74.42,187.13 74.93,187.14 75.43,187.15 75.94,187.16 76.44,187.17 76.94,187.18 77.45,187.19 77.95,187.19 78.46,187.2 78.96,187.21 79.46,187.22 79.97,187.23 80.47,187.24 80.98,187.25 81.48,187.26 81.98,187.27 82.49,187.28 82.99,187.28 83.5,187.29 84,187.3 84.5,187.31 85.01,187.32 85.51,187.33 86.02,187.34 86.52,187.35 87.02,187.36 87.53,187.36 88.03,187.37 88.54,187.38 89.04,187.39 89.54,187.4 90.05,187.41 90.55,187.42 91.06,187.43 91.56,187.44 92.06,187.45 92.57,187.45 93.07,187.46 93.58,187.47 94.08,187.48 94.58,187.49 95.09,187.5 95.59,187.51 96.1,187.52 96.6,187.53 97.1,187.54 97.61,187.54 98.11,187.55 98.62,187.56 99.12,187.57 99.62,187.58 100.13,187.59 100.63,187.6 101.14,187.61 101.64,187.62 102.14,187.63 102.65,187.63 103.15,187.64 103.66,187.65 104.16,187.66 104.66,187.67 105.17,187.68 105.67,187.69 106.18,187.7 106.68,187.71 107.18,187.72 107.69,187.72 108.19,187.73 108.7,187.74 109.2,187.75 109.7,187.76 110.21,187.77 110.71,187.78 111.22,187.79 111.72,187.8 112.22,187.81 112.73,187.81 113.23,187.82 113.74,187.83 114.24,187.84 114.74,187.85 115.25,187.86 115.75,187.87 116.26,187.88 116.76,187.89 117.26,187.9 117.77,187.9 118.27,187.91 118.78,187.92 119.28,187.93 119.78,187.94 120.29,187.95 120.79,187.96 121.3,187.97 121.8,187.98 122.3,187.99 122.81,187.99 123.31,188 123.82,188.01 124.32,188.02 124.82,188.03 125.33,188.04 125.83,188.05 126.34,188.06 126.84,188.07 127.34,188.08 127.85,188.08 128.35,188.09 128.86,188.1 129.36,188.11 129.86,188.12 130.37,188.13 130.87,188.14 131.38,188.15 131.88,188.16 132.38,188.17 132.89,188.17 133.39,188.18 133.9,188.19 134.4,188.2 134.9,188.21 135.41,188.22 135.91,188.23 136.42,188.24 136.92,188.25 137.42,188.26 137.93,188.26 138.43,188.27 138.94,188.28 139.44,188.29 139.94,188.3 140.45,188.31 140.95,188.32 141.46,188.33 141.96,188.34 142.46,188.35 142.97,188.35 143.47,188.36 143.98,188.37 144.48,188.38 144.98,188.39 145.49,188.4 145.99,188.41 146.5,188.42 147,188.43 147.5,188.44 148.01,188.44 148.51,188.45 149.02,188.46 149.52,188.47 150.02,188.48 150.53,188.49 151.03,188.5 151.54,188.51 152.04,188.52 152.54,188.53 153.05,188.53 153.55,188.54 154.06,188.55 154.56,188.56 155.06,188.57 155.57,188.58 156.07,188.59 156.58,188.6 157.08,188.61 157.58,188.62 158.09,188.63 158.59,188.63 159.1,188.64 159.6,188.65 160.1,188.66 160.61,188.67 161.11,188.68 161.62,188.69 162.12,188.7 162.62,188.71 163.13,188.72 163.63,188.72 164.14,188.73 164.64,188.74 165.14,188.75 165.65,188.76 166.15,188.77 166.66,188.78 167.16,188.79 167.66,188.8 168.17,188.81 168.67,188.82 169.18,188.82 169.68,188.83 170.18,188.84 170.69,188.85 171.19,188.86 171.7,188.87 172.2,188.88 172.7,188.89 173.21,188.9 173.71,188.91 174.22,188.92 174.72,188.93 175.22,188.94 175.73,188.95 176.23,188.96 176.74,188.96 177.24,188.97 177.74,188.98 178.25,188.99 178.75,189 179.26,189.01 179.76,189.02 180.26,189.03 180.77,189.04 181.27,189.05 181.78,189.06 182.28,189.07 182.78,189.08 183.29,189.09 183.79,189.1 184.3,189.11 184.8,189.12 185.3,189.13 185.81,189.14 186.31,189.15 186.82,189.17 187.32,189.18 187.82,189.19 188.33,189.2 188.83,189.21 189.34,189.22 189.84,189.23 190.34,189.25 190.85,189.26 191.35,189.27 191.86,189.28 192.36,189.29 192.86,189.31 193.37,189.32 193.87,189.34 194.38,189.35 194.88,189.36 195.38,189.38 195.89,189.39 196.39,189.41 196.9,189.43 197.4,189.44 197.9,189.46 198.41,189.48 198.91,189.49 199.42,189.51 199.92,189.53 200.42,189.55 200.93,189.57 201.43,189.6 201.94,189.62 202.44,189.64 202.94,189.67 203.45,189.69 203.95,189.72 204.46,189.75 204.96,189.78 205.46,189.81 205.97,189.84 206.47,189.88 206.98,189.91 207.48,189.95 207.98,189.99 208.49,190.03 208.99,190.08 209.5,190.13 210,190.17 210.5,190.23 211.01,190.28 211.51,190.34 212.02,190.4 212.52,190.47 213.02,190.54 213.53,190.61 214.03,190.69 214.54,190.78 215.04,190.86 215.54,190.96 216.05,191.06 216.55,191.16 217.06,191.28 217.56,191.4 218.06,191.52 218.57,191.66 219.07,191.8 219.58,191.96 220.08,192.12 220.58,192.3 221.09,192.48 221.59,192.68 222.1,192.89 222.6,193.12 223.1,193.35 223.61,193.61 224.11,193.88 224.62,194.17 225.12,194.48 225.62,194.81 226.13,195.16 226.63,195.53 227.14,195.92 227.64,196.35 228.14,196.8 228.65,197.28 229.15,197.79 229.66,198.33 230.16,198.91 230.66,199.52 231.17,200.18 231.67,200.87 232.18,201.61 232.68,202.4 233.18,203.23 233.69,204.12 234.19,205.06 234.7,206.06 235.2,207.12 235.7,208.25 236.21,209.44 236.71,210.7 237.22,212.04 237.72,213.46 238.22,214.96 238.73,216.55 239.23,218.22 239.74,219.99 240.24,221.86 240.74,223.83 241.25,225.9 241.75,228.09 242.26,230.39 242.76,232.81 243.26,235.35 243.77,238.02 244.27,240.81 244.78,243.75 245.28,246.82 245.78,250.03 246.29,253.39 246.79,256.89 247.3,260.55 247.8,264.36 248.3,268.34 248.81,272.47 249.31,276.76 249.82,281.22 250.32,285.84 250.82,290.64 251.33,295.6 251.33,295.6" fill="none" stroke="#3d9a2b" stroke-width="1.1" stroke-linejoin="round" />
<g fill="#3d9a2b" stroke="#2f7821" stroke-width="0.5"><circle cx="33.6" cy="186.4" r="1.9"/><circle cx="35.62" cy="186.44" r="1.9"/><circle cx="37.63" cy="186.47" r="1.9"/><circle cx="39.65" cy="186.51" r="1.9"/><circle cx="41.66" cy="186.55" r="1.9"/><circle cx="43.68" cy="186.58" r="1.9"/><circle cx="45.7" cy="186.62" r="1.9"/><circle cx="47.71" cy="186.65" r="1.9"/><circle cx="49.73" cy="186.69" r="1.9"/><circle cx="51.74" cy="186.73" r="1.9"/><circle cx="53.76" cy="186.76" r="1.9"/><circle cx="55.78" cy="186.8" r="1.9"/><circle cx="57.79" cy="186.83" r="1.9"/><circle cx="59.81" cy="186.87" r="1.9"/><circle cx="61.82" cy="186.91" r="1.9"/><circle cx="63.84" cy="186.94" r="1.9"/><circle cx="65.86" cy="186.98" r="1.9"/><circle cx="67.87" cy="187.01" r="1.9"/><circle cx="69.89" cy="187.05" r="1.9"/><circle cx="71.9" cy="187.09" r="1.9"/><circle cx="73.92" cy="187.12" r="1.9"/><circle cx="75.94" cy="187.16" r="1.9"/><circle cx="77.95" cy="187.19" r="1.9"/><circle cx="79.97" cy="187.23" r="1.9"/><circle cx="81.98" cy="187.27" r="1.9"/><circle cx="84" cy="187.3" r="1.9"/><circle cx="86.02" cy="187.34" r="1.9"/><circle cx="88.03" cy="187.37" r="1.9"/><circle cx="90.05" cy="187.41" r="1.9"/><circle cx="92.06" cy="187.45" r="1.9"/><circle cx="94.08" cy="187.48" r="1.9"/><circle cx="96.1" cy="187.52" r="1.9"/><circle cx="98.11" cy="187.55" r="1.9"/><circle cx="100.13" cy="187.59" r="1.9"/><circle cx="102.14" cy="187.63" r="1.9"/><circle cx="104.16" cy="187.66" r="1.9"/><circle cx="106.18" cy="187.7" r="1.9"/><circle cx="108.19" cy="187.73" r="1.9"/><circle cx="110.21" cy="187.77" r="1.9"/><circle cx="112.22" cy="187.81" r="1.9"/><circle cx="114.24" cy="187.84" r="1.9"/><circle cx="116.26" cy="187.88" r="1.9"/><circle cx="118.27" cy="187.91" r="1.9"/><circle cx="120.29" cy="187.95" r="1.9"/><circle cx="122.3" cy="187.99" r="1.9"/><circle cx="124.32" cy="188.02" r="1.9"/><circle cx="126.34" cy="188.06" r="1.9"/><circle cx="128.35" cy="188.09" r="1.9"/><circle cx="130.37" cy="188.13" r="1.9"/><circle cx="132.38" cy="188.17" r="1.9"/><circle cx="134.4" cy="188.2" r="1.9"/><circle cx="136.42" cy="188.24" r="1.9"/><circle cx="138.43" cy="188.27" r="1.9"/><circle cx="140.45" cy="188.31" r="1.9"/><circle cx="142.46" cy="188.35" r="1.9"/><circle cx="144.48" cy="188.38" r="1.9"/><circle cx="146.5" cy="188.42" r="1.9"/><circle cx="148.51" cy="188.45" r="1.9"/><circle cx="150.53" cy="188.49" r="1.9"/><circle cx="152.54" cy="188.53" r="1.9"/><circle cx="154.56" cy="188.56" r="1.9"/><circle cx="156.58" cy="188.6" r="1.9"/><circle cx="158.59" cy="188.63" r="1.9"/><circle cx="160.61" cy="188.67" r="1.9"/><circle cx="162.62" cy="188.71" r="1.9"/><circle cx="164.64" cy="188.74" r="1.9"/><circle cx="166.66" cy="188.78" r="1.9"/><circle cx="168.67" cy="188.82" r="1.9"/><circle cx="170.69" cy="188.85" r="1.9"/><circle cx="172.7" cy="188.89" r="1.9"/><circle cx="174.72" cy="188.93" r="1.9"/><circle cx="176.74" cy="188.96" r="1.9"/><circle cx="178.75" cy="189" r="1.9"/><circle cx="180.77" cy="189.04" r="1.9"/><circle cx="182.78" cy="189.08" r="1.9"/><circle cx="184.8" cy="189.12" r="1.9"/><circle cx="186.82" cy="189.17" r="1.9"/><circle cx="188.83" cy="189.21" r="1.9"/><circle cx="190.85" cy="189.26" r="1.9"/><circle cx="192.86" cy="189.31" r="1.9"/><circle cx="194.88" cy="189.36" r="1.9"/><circle cx="196.9" cy="189.43" r="1.9"/><circle cx="198.91" cy="189.49" r="1.9"/><circle cx="200.93" cy="189.57" r="1.9"/><circle cx="202.94" cy="189.67" r="1.9"/><circle cx="204.96" cy="189.78" r="1.9"/><circle cx="206.98" cy="189.91" r="1.9"/><circle cx="208.99" cy="190.08" r="1.9"/><circle cx="211.01" cy="190.28" r="1.9"/><circle cx="213.02" cy="190.54" r="1.9"/><circle cx="215.04" cy="190.86" r="1.9"/><circle cx="217.06" cy="191.28" r="1.9"/><circle cx="219.07" cy="191.8" r="1.9"/><circle cx="221.09" cy="192.48" r="1.9"/><circle cx="223.1" cy="193.35" r="1.9"/><circle cx="225.12" cy="194.48" r="1.9"/><circle cx="227.14" cy="195.92" r="1.9"/><circle cx="229.15" cy="197.79" r="1.9"/><circle cx="231.17" cy="200.18" r="1.9"/><circle cx="233.18" cy="203.23" r="1.9"/><circle cx="235.2" cy="207.12" r="1.9"/><circle cx="237.22" cy="212.04" r="1.9"/><circle cx="239.23" cy="218.22" r="1.9"/><circle cx="241.25" cy="225.9" r="1.9"/><circle cx="243.26" cy="235.35" r="1.9"/><circle cx="245.28" cy="246.82" r="1.9"/><circle cx="247.3" cy="260.55" r="1.9"/><circle cx="249.31" cy="276.76" r="1.9"/><circle cx="251.33" cy="295.6" r="1.9"/></g>
<g fill="#fff" fill-opacity="0.8"><circle cx="33.03" cy="185.83" r="0.68"/><circle cx="35.05" cy="185.87" r="0.68"/><circle cx="37.06" cy="185.9" r="0.68"/><circle cx="39.08" cy="185.94" r="0.68"/><circle cx="41.09" cy="185.98" r="0.68"/><circle cx="43.11" cy="186.01" r="0.68"/><circle cx="45.13" cy="186.05" r="0.68"/><circle cx="47.14" cy="186.08" r="0.68"/><circle cx="49.16" cy="186.12" r="0.68"/><circle cx="51.17" cy="186.16" r="0.68"/><circle cx="53.19" cy="186.19" r="0.68"/><circle cx="55.21" cy="186.23" r="0.68"/><circle cx="57.22" cy="186.26" r="0.68"/><circle cx="59.24" cy="186.3" r="0.68"/><circle cx="61.25" cy="186.34" r="0.68"/><circle cx="63.27" cy="186.37" r="0.68"/><circle cx="65.29" cy="186.41" r="0.68"/><circle cx="67.3" cy="186.44" r="0.68"/><circle cx="69.32" cy="186.48" r="0.68"/><circle cx="71.33" cy="186.52" r="0.68"/><circle cx="73.35" cy="186.55" r="0.68"/><circle cx="75.37" cy="186.59" r="0.68"/><circle cx="77.38" cy="186.62" r="0.68"/><circle cx="79.4" cy="186.66" r="0.68"/><circle cx="81.41" cy="186.7" r="0.68"/><circle cx="83.43" cy="186.73" r="0.68"/><circle cx="85.45" cy="186.77" r="0.68"/><circle cx="87.46" cy="186.8" r="0.68"/><circle cx="89.48" cy="186.84" r="0.68"/><circle cx="91.49" cy="186.88" r="0.68"/><circle cx="93.51" cy="186.91" r="0.68"/><circle cx="95.53" cy="186.95" r="0.68"/><circle cx="97.54" cy="186.98" r="0.68"/><circle cx="99.56" cy="187.02" r="0.68"/><circle cx="101.57" cy="187.06" r="0.68"/><circle cx="103.59" cy="187.09" r="0.68"/><circle cx="105.61" cy="187.13" r="0.68"/><circle cx="107.62" cy="187.16" r="0.68"/><circle cx="109.64" cy="187.2" r="0.68"/><circle cx="111.65" cy="187.24" r="0.68"/><circle cx="113.67" cy="187.27" r="0.68"/><circle cx="115.69" cy="187.31" r="0.68"/><circle cx="117.7" cy="187.34" r="0.68"/><circle cx="119.72" cy="187.38" r="0.68"/><circle cx="121.73" cy="187.42" r="0.68"/><circle cx="123.75" cy="187.45" r="0.68"/><circle cx="125.77" cy="187.49" r="0.68"/><circle cx="127.78" cy="187.52" r="0.68"/><circle cx="129.8" cy="187.56" r="0.68"/><circle cx="131.81" cy="187.6" r="0.68"/><circle cx="133.83" cy="187.63" r="0.68"/><circle cx="135.85" cy="187.67" r="0.68"/><circle cx="137.86" cy="187.7" r="0.68"/><circle cx="139.88" cy="187.74" r="0.68"/><circle cx="141.89" cy="187.78" r="0.68"/><circle cx="143.91" cy="187.81" r="0.68"/><circle cx="145.93" cy="187.85" r="0.68"/><circle cx="147.94" cy="187.88" r="0.68"/><circle cx="149.96" cy="187.92" r="0.68"/><circle cx="151.97" cy="187.96" r="0.68"/><circle cx="153.99" cy="187.99" r="0.68"/><circle cx="156.01" cy="188.03" r="0.68"/><circle cx="158.02" cy="188.06" r="0.68"/><circle cx="160.04" cy="188.1" r="0.68"/><circle cx="162.05" cy="188.14" r="0.68"/><circle cx="164.07" cy="188.17" r="0.68"/><circle cx="166.09" cy="188.21" r="0.68"/><circle cx="168.1" cy="188.25" r="0.68"/><circle cx="170.12" cy="188.28" r="0.68"/><circle cx="172.13" cy="188.32" r="0.68"/><circle cx="174.15" cy="188.36" r="0.68"/><circle cx="176.17" cy="188.39" r="0.68"/><circle cx="178.18" cy="188.43" r="0.68"/><circle cx="180.2" cy="188.47" r="0.68"/><circle cx="182.21" cy="188.51" r="0.68"/><circle cx="184.23" cy="188.55" r="0.68"/><circle cx="186.25" cy="188.6" r="0.68"/><circle cx="188.26" cy="188.64" r="0.68"/><circle cx="190.28" cy="188.69" r="0.68"/><circle cx="192.29" cy="188.74" r="0.68"/><circle cx="194.31" cy="188.79" r="0.68"/><circle cx="196.33" cy="188.86" r="0.68"/><circle cx="198.34" cy="188.92" r="0.68"/><circle cx="200.36" cy="189" r="0.68"/><circle cx="202.37" cy="189.1" r="0.68"/><circle cx="204.39" cy="189.21" r="0.68"/><circle cx="206.41" cy="189.34" r="0.68"/><circle cx="208.42" cy="189.51" r="0.68"/><circle cx="210.44" cy="189.71" r="0.68"/><circle cx="212.45" cy="189.97" r="0.68"/><circle cx="214.47" cy="190.29" r="0.68"/><circle cx="216.49" cy="190.71" r="0.68"/><circle cx="218.5" cy="191.23" r="0.68"/><circle cx="220.52" cy="191.91" r="0.68"/><circle cx="222.53" cy="192.78" r="0.68"/><circle cx="224.55" cy="193.91" r="0.68"/><circle cx="226.57" cy="195.35" r="0.68"/><circle cx="228.58" cy="197.22" r="0.68"/><circle cx="230.6" cy="199.61" r="0.68"/><circle cx="232.61" cy="202.66" r="0.68"/><circle cx="234.63" cy="206.55" r="0.68"/><circle cx="236.65" cy="211.47" r="0.68"/><circle cx="238.66" cy="217.65" r="0.68"/><circle cx="240.68" cy="225.33" r="0.68"/><circle cx="242.69" cy="234.78" r="0.68"/><circle cx="244.71" cy="246.25" r="0.68"/><circle cx="246.73" cy="259.98" r="0.68"/><circle cx="248.74" cy="276.19" r="0.68"/><circle cx="250.76" cy="295.03" r="0.68"/></g>
<polyline points="33.6,185.3 34.1,185.3 34.61,185.31 35.11,185.32 35.62,185.33 36.12,185.34 36.62,185.35 37.13,185.36 37.63,185.37 38.14,185.38 38.64,185.39 39.14,185.39 39.65,185.4 40.15,185.41 40.66,185.42 41.16,185.43 41.66,185.44 42.17,185.45 42.67,185.46 43.18,185.47 43.68,185.48 44.18,185.48 44.69,185.49 45.19,185.5 45.7,185.51 46.2,185.52 46.7,185.53 47.21,185.54 47.71,185.55 48.22,185.56 48.72,185.57 49.22,185.57 49.73,185.58 50.23,185.59 50.74,185.6 51.24,185.61 51.74,185.62 52.25,185.63 52.75,185.64 53.26,185.65 53.76,185.66 54.26,185.66 54.77,185.67 55.27,185.68 55.78,185.69 56.28,185.7 56.78,185.71 57.29,185.72 57.79,185.73 58.3,185.74 58.8,185.75 59.3,185.75 59.81,185.76 60.31,185.77 60.82,185.78 61.32,185.79 61.82,185.8 62.33,185.81 62.83,185.82 63.34,185.83 63.84,185.83 64.34,185.84 64.85,185.85 65.35,185.86 65.86,185.87 66.36,185.88 66.86,185.89 67.37,185.9 67.87,185.91 68.38,185.92 68.88,185.92 69.38,185.93 69.89,185.94 70.39,185.95 70.9,185.96 71.4,185.97 71.9,185.98 72.41,185.99 72.91,186 73.42,186.01 73.92,186.01 74.42,186.02 74.93,186.03 75.43,186.04 75.94,186.05 76.44,186.06 76.94,186.07 77.45,186.08 77.95,186.09 78.46,186.1 78.96,186.1 79.46,186.11 79.97,186.12 80.47,186.13 80.98,186.14 81.48,186.15 81.98,186.16 82.49,186.17 82.99,186.18 83.5,186.19 84,186.19 84.5,186.2 85.01,186.21 85.51,186.22 86.02,186.23 86.52,186.24 87.02,186.25 87.53,186.26 88.03,186.27 88.54,186.28 89.04,186.28 89.54,186.29 90.05,186.3 90.55,186.31 91.06,186.32 91.56,186.33 92.06,186.34 92.57,186.35 93.07,186.36 93.58,186.37 94.08,186.37 94.58,186.38 95.09,186.39 95.59,186.4 96.1,186.41 96.6,186.42 97.1,186.43 97.61,186.44 98.11,186.45 98.62,186.46 99.12,186.46 99.62,186.47 100.13,186.48 100.63,186.49 101.14,186.5 101.64,186.51 102.14,186.52 102.65,186.53 103.15,186.54 103.66,186.55 104.16,186.55 104.66,186.56 105.17,186.57 105.67,186.58 106.18,186.59 106.68,186.6 107.18,186.61 107.69,186.62 108.19,186.63 108.7,186.64 109.2,186.64 109.7,186.65 110.21,186.66 110.71,186.67 111.22,186.68 111.72,186.69 112.22,186.7 112.73,186.71 113.23,186.72 113.74,186.73 114.24,186.73 114.74,186.74 115.25,186.75 115.75,186.76 116.26,186.77 116.76,186.78 117.26,186.79 117.77,186.8 118.27,186.81 118.78,186.82 119.28,186.82 119.78,186.83 120.29,186.84 120.79,186.85 121.3,186.86 121.8,186.87 122.3,186.88 122.81,186.89 123.31,186.9 123.82,186.91 124.32,186.91 124.82,186.92 125.33,186.93 125.83,186.94 126.34,186.95 126.84,186.96 127.34,186.97 127.85,186.98 128.35,186.99 128.86,187 129.36,187 129.86,187.01 130.37,187.02 130.87,187.03 131.38,187.04 131.88,187.05 132.38,187.06 132.89,187.07 133.39,187.08 133.9,187.09 134.4,187.09 134.9,187.1 135.41,187.11 135.91,187.12 136.42,187.13 136.92,187.14 137.42,187.15 137.93,187.16 138.43,187.17 138.94,187.18 139.44,187.18 139.94,187.19 140.45,187.2 140.95,187.21 141.46,187.22 141.96,187.23 142.46,187.24 142.97,187.25 143.47,187.26 143.98,187.27 144.48,187.27 144.98,187.28 145.49,187.29 145.99,187.3 146.5,187.31 147,187.32 147.5,187.33 148.01,187.34 148.51,187.35 149.02,187.36 149.52,187.36 150.02,187.37 150.53,187.38 151.03,187.39 151.54,187.4 152.04,187.41 152.54,187.42 153.05,187.43 153.55,187.44 154.06,187.45 154.56,187.45 155.06,187.46 155.57,187.47 156.07,187.48 156.58,187.49 157.08,187.5 157.58,187.51 158.09,187.52 158.59,187.53 159.1,187.54 159.6,187.54 160.1,187.55 160.61,187.56 161.11,187.57 161.62,187.58 162.12,187.59 162.62,187.6 163.13,187.61 163.63,187.62 164.14,187.63 164.64,187.63 165.14,187.64 165.65,187.65 166.15,187.66 166.66,187.67 167.16,187.68 167.66,187.69 168.17,187.7 168.67,187.71 169.18,187.72 169.68,187.72 170.18,187.73 170.69,187.74 171.19,187.75 171.7,187.76 172.2,187.77 172.7,187.78 173.21,187.79 173.71,187.8 174.22,187.81 174.72,187.82 175.22,187.82 175.73,187.83 176.23,187.84 176.74,187.85 177.24,187.86 177.74,187.87 178.25,187.88 178.75,187.89 179.26,187.9 179.76,187.91 180.26,187.92 180.77,187.93 181.27,187.94 181.78,187.94 182.28,187.95 182.78,187.96 183.29,187.97 183.79,187.98 184.3,187.99 184.8,188 185.3,188.01 185.81,188.02 186.31,188.03 186.82,188.04 187.32,188.05 187.82,188.06 188.33,188.07 188.83,188.08 189.34,188.09 189.84,188.1 190.34,188.11 190.85,188.12 191.35,188.13 191.86,188.14 192.36,188.15 192.86,188.16 193.37,188.17 193.87,188.18 194.38,188.2 194.88,188.21 195.38,188.22 195.89,188.23 196.39,188.24 196.9,188.25 197.4,188.27 197.9,188.28 198.41,188.29 198.91,188.31 199.42,188.32 199.92,188.33 200.42,188.35 200.93,188.36 201.43,188.38 201.94,188.39 202.44,188.41 202.94,188.43 203.45,188.44 203.95,188.46 204.46,188.48 204.96,188.5 205.46,188.52 205.97,188.54 206.47,188.56 206.98,188.58 207.48,188.61 207.98,188.63 208.49,188.66 208.99,188.69 209.5,188.71 210,188.74 210.5,188.78 211.01,188.81 211.51,188.85 212.02,188.88 212.52,188.92 213.02,188.96 213.53,189.01 214.03,189.06 214.54,189.11 215.04,189.16 215.54,189.22 216.05,189.28 216.55,189.34 217.06,189.41 217.56,189.48 218.06,189.56 218.57,189.64 219.07,189.73 219.58,189.82 220.08,189.92 220.58,190.03 221.09,190.15 221.59,190.27 222.1,190.4 222.6,190.54 223.1,190.69 223.61,190.86 224.11,191.03 224.62,191.21 225.12,191.41 225.62,191.62 226.13,191.85 226.63,192.09 227.14,192.35 227.64,192.63 228.14,192.93 228.65,193.25 229.15,193.6 229.66,193.97 230.16,194.36 230.66,194.78 231.17,195.23 231.67,195.72 232.18,196.24 232.68,196.79 233.18,197.39 233.69,198.02 234.19,198.7 234.7,199.43 235.2,200.2 235.7,201.03 236.21,201.92 236.71,202.86 237.22,203.87 237.72,204.94 238.22,206.09 238.73,207.31 239.23,208.61 239.74,210 240.24,211.47 240.74,213.03 241.25,214.69 241.75,216.46 242.26,218.33 242.76,220.31 243.26,222.4 243.77,224.62 244.27,226.97 244.78,229.44 245.28,232.05 245.78,234.8 246.29,237.7 246.79,240.74 247.3,243.94 247.8,247.3 248.3,250.82 248.81,254.5 249.31,258.35 249.82,262.38 250.32,266.58 250.82,270.96 251.33,275.52 251.83,280.26 252.34,285.19 252.84,290.3 253.34,295.6 253.34,295.6" fill="none" stroke="#f25b5b" stroke-width="1.1" stroke-linejoin="round" />
<g fill="#ff2a8c" stroke="#c6206d" stroke-width="0.5"><circle cx="33.6" cy="185.3" r="1.9"/><circle cx="35.62" cy="185.33" r="1.9"/><circle cx="37.63" cy="185.37" r="1.9"/><circle cx="39.65" cy="185.4" r="1.9"/><circle cx="41.66" cy="185.44" r="1.9"/><circle cx="43.68" cy="185.48" r="1.9"/><circle cx="45.7" cy="185.51" r="1.9"/><circle cx="47.71" cy="185.55" r="1.9"/><circle cx="49.73" cy="185.58" r="1.9"/><circle cx="51.74" cy="185.62" r="1.9"/><circle cx="53.76" cy="185.66" r="1.9"/><circle cx="55.78" cy="185.69" r="1.9"/><circle cx="57.79" cy="185.73" r="1.9"/><circle cx="59.81" cy="185.76" r="1.9"/><circle cx="61.82" cy="185.8" r="1.9"/><circle cx="63.84" cy="185.83" r="1.9"/><circle cx="65.86" cy="185.87" r="1.9"/><circle cx="67.87" cy="185.91" r="1.9"/><circle cx="69.89" cy="185.94" r="1.9"/><circle cx="71.9" cy="185.98" r="1.9"/><circle cx="73.92" cy="186.01" r="1.9"/><circle cx="75.94" cy="186.05" r="1.9"/><circle cx="77.95" cy="186.09" r="1.9"/><circle cx="79.97" cy="186.12" r="1.9"/><circle cx="81.98" cy="186.16" r="1.9"/><circle cx="84" cy="186.19" r="1.9"/><circle cx="86.02" cy="186.23" r="1.9"/><circle cx="88.03" cy="186.27" r="1.9"/><circle cx="90.05" cy="186.3" r="1.9"/><circle cx="92.06" cy="186.34" r="1.9"/><circle cx="94.08" cy="186.37" r="1.9"/><circle cx="96.1" cy="186.41" r="1.9"/><circle cx="98.11" cy="186.45" r="1.9"/><circle cx="100.13" cy="186.48" r="1.9"/><circle cx="102.14" cy="186.52" r="1.9"/><circle cx="104.16" cy="186.55" r="1.9"/><circle cx="106.18" cy="186.59" r="1.9"/><circle cx="108.19" cy="186.63" r="1.9"/><circle cx="110.21" cy="186.66" r="1.9"/><circle cx="112.22" cy="186.7" r="1.9"/><circle cx="114.24" cy="186.73" r="1.9"/><circle cx="116.26" cy="186.77" r="1.9"/><circle cx="118.27" cy="186.81" r="1.9"/><circle cx="120.29" cy="186.84" r="1.9"/><circle cx="122.3" cy="186.88" r="1.9"/><circle cx="124.32" cy="186.91" r="1.9"/><circle cx="126.34" cy="186.95" r="1.9"/><circle cx="128.35" cy="186.99" r="1.9"/><circle cx="130.37" cy="187.02" r="1.9"/><circle cx="132.38" cy="187.06" r="1.9"/><circle cx="134.4" cy="187.09" r="1.9"/><circle cx="136.42" cy="187.13" r="1.9"/><circle cx="138.43" cy="187.17" r="1.9"/><circle cx="140.45" cy="187.2" r="1.9"/><circle cx="142.46" cy="187.24" r="1.9"/><circle cx="144.48" cy="187.27" r="1.9"/><circle cx="146.5" cy="187.31" r="1.9"/><circle cx="148.51" cy="187.35" r="1.9"/><circle cx="150.53" cy="187.38" r="1.9"/><circle cx="152.54" cy="187.42" r="1.9"/><circle cx="154.56" cy="187.45" r="1.9"/><circle cx="156.58" cy="187.49" r="1.9"/><circle cx="158.59" cy="187.53" r="1.9"/><circle cx="160.61" cy="187.56" r="1.9"/><circle cx="162.62" cy="187.6" r="1.9"/><circle cx="164.64" cy="187.63" r="1.9"/><circle cx="166.66" cy="187.67" r="1.9"/><circle cx="168.67" cy="187.71" r="1.9"/><circle cx="170.69" cy="187.74" r="1.9"/><circle cx="172.7" cy="187.78" r="1.9"/><circle cx="174.72" cy="187.82" r="1.9"/><circle cx="176.74" cy="187.85" r="1.9"/><circle cx="178.75" cy="187.89" r="1.9"/><circle cx="180.77" cy="187.93" r="1.9"/><circle cx="182.78" cy="187.96" r="1.9"/><circle cx="184.8" cy="188" r="1.9"/><circle cx="186.82" cy="188.04" r="1.9"/><circle cx="188.83" cy="188.08" r="1.9"/><circle cx="190.85" cy="188.12" r="1.9"/><circle cx="192.86" cy="188.16" r="1.9"/><circle cx="194.88" cy="188.21" r="1.9"/><circle cx="196.9" cy="188.25" r="1.9"/><circle cx="198.91" cy="188.31" r="1.9"/><circle cx="200.93" cy="188.36" r="1.9"/><circle cx="202.94" cy="188.43" r="1.9"/><circle cx="204.96" cy="188.5" r="1.9"/><circle cx="206.98" cy="188.58" r="1.9"/><circle cx="208.99" cy="188.69" r="1.9"/><circle cx="211.01" cy="188.81" r="1.9"/><circle cx="213.02" cy="188.96" r="1.9"/><circle cx="215.04" cy="189.16" r="1.9"/><circle cx="217.06" cy="189.41" r="1.9"/><circle cx="219.07" cy="189.73" r="1.9"/><circle cx="221.09" cy="190.15" r="1.9"/><circle cx="223.1" cy="190.69" r="1.9"/><circle cx="225.12" cy="191.41" r="1.9"/><circle cx="227.14" cy="192.35" r="1.9"/><circle cx="229.15" cy="193.6" r="1.9"/><circle cx="231.17" cy="195.23" r="1.9"/><circle cx="233.18" cy="197.39" r="1.9"/><circle cx="235.2" cy="200.2" r="1.9"/><circle cx="237.22" cy="203.87" r="1.9"/><circle cx="239.23" cy="208.61" r="1.9"/><circle cx="241.25" cy="214.69" r="1.9"/><circle cx="243.26" cy="222.4" r="1.9"/><circle cx="245.28" cy="232.05" r="1.9"/><circle cx="247.3" cy="243.94" r="1.9"/><circle cx="249.31" cy="258.35" r="1.9"/><circle cx="251.33" cy="275.52" r="1.9"/><circle cx="253.34" cy="295.6" r="1.9"/></g>
<g fill="#fff" fill-opacity="0.8"><circle cx="33.03" cy="184.73" r="0.68"/><circle cx="35.05" cy="184.76" r="0.68"/><circle cx="37.06" cy="184.8" r="0.68"/><circle cx="39.08" cy="184.83" r="0.68"/><circle cx="41.09" cy="184.87" r="0.68"/><circle cx="43.11" cy="184.91" r="0.68"/><circle cx="45.13" cy="184.94" r="0.68"/><circle cx="47.14" cy="184.98" r="0.68"/><circle cx="49.16" cy="185.01" r="0.68"/><circle cx="51.17" cy="185.05" r="0.68"/><circle cx="53.19" cy="185.09" r="0.68"/><circle cx="55.21" cy="185.12" r="0.68"/><circle cx="57.22" cy="185.16" r="0.68"/><circle cx="59.24" cy="185.19" r="0.68"/><circle cx="61.25" cy="185.23" r="0.68"/><circle cx="63.27" cy="185.26" r="0.68"/><circle cx="65.29" cy="185.3" r="0.68"/><circle cx="67.3" cy="185.34" r="0.68"/><circle cx="69.32" cy="185.37" r="0.68"/><circle cx="71.33" cy="185.41" r="0.68"/><circle cx="73.35" cy="185.44" r="0.68"/><circle cx="75.37" cy="185.48" r="0.68"/><circle cx="77.38" cy="185.52" r="0.68"/><circle cx="79.4" cy="185.55" r="0.68"/><circle cx="81.41" cy="185.59" r="0.68"/><circle cx="83.43" cy="185.62" r="0.68"/><circle cx="85.45" cy="185.66" r="0.68"/><circle cx="87.46" cy="185.7" r="0.68"/><circle cx="89.48" cy="185.73" r="0.68"/><circle cx="91.49" cy="185.77" r="0.68"/><circle cx="93.51" cy="185.8" r="0.68"/><circle cx="95.53" cy="185.84" r="0.68"/><circle cx="97.54" cy="185.88" r="0.68"/><circle cx="99.56" cy="185.91" r="0.68"/><circle cx="101.57" cy="185.95" r="0.68"/><circle cx="103.59" cy="185.98" r="0.68"/><circle cx="105.61" cy="186.02" r="0.68"/><circle cx="107.62" cy="186.06" r="0.68"/><circle cx="109.64" cy="186.09" r="0.68"/><circle cx="111.65" cy="186.13" r="0.68"/><circle cx="113.67" cy="186.16" r="0.68"/><circle cx="115.69" cy="186.2" r="0.68"/><circle cx="117.7" cy="186.24" r="0.68"/><circle cx="119.72" cy="186.27" r="0.68"/><circle cx="121.73" cy="186.31" r="0.68"/><circle cx="123.75" cy="186.34" r="0.68"/><circle cx="125.77" cy="186.38" r="0.68"/><circle cx="127.78" cy="186.42" r="0.68"/><circle cx="129.8" cy="186.45" r="0.68"/><circle cx="131.81" cy="186.49" r="0.68"/><circle cx="133.83" cy="186.52" r="0.68"/><circle cx="135.85" cy="186.56" r="0.68"/><circle cx="137.86" cy="186.6" r="0.68"/><circle cx="139.88" cy="186.63" r="0.68"/><circle cx="141.89" cy="186.67" r="0.68"/><circle cx="143.91" cy="186.7" r="0.68"/><circle cx="145.93" cy="186.74" r="0.68"/><circle cx="147.94" cy="186.78" r="0.68"/><circle cx="149.96" cy="186.81" r="0.68"/><circle cx="151.97" cy="186.85" r="0.68"/><circle cx="153.99" cy="186.88" r="0.68"/><circle cx="156.01" cy="186.92" r="0.68"/><circle cx="158.02" cy="186.96" r="0.68"/><circle cx="160.04" cy="186.99" r="0.68"/><circle cx="162.05" cy="187.03" r="0.68"/><circle cx="164.07" cy="187.06" r="0.68"/><circle cx="166.09" cy="187.1" r="0.68"/><circle cx="168.1" cy="187.14" r="0.68"/><circle cx="170.12" cy="187.17" r="0.68"/><circle cx="172.13" cy="187.21" r="0.68"/><circle cx="174.15" cy="187.25" r="0.68"/><circle cx="176.17" cy="187.28" r="0.68"/><circle cx="178.18" cy="187.32" r="0.68"/><circle cx="180.2" cy="187.36" r="0.68"/><circle cx="182.21" cy="187.39" r="0.68"/><circle cx="184.23" cy="187.43" r="0.68"/><circle cx="186.25" cy="187.47" r="0.68"/><circle cx="188.26" cy="187.51" r="0.68"/><circle cx="190.28" cy="187.55" r="0.68"/><circle cx="192.29" cy="187.59" r="0.68"/><circle cx="194.31" cy="187.64" r="0.68"/><circle cx="196.33" cy="187.68" r="0.68"/><circle cx="198.34" cy="187.74" r="0.68"/><circle cx="200.36" cy="187.79" r="0.68"/><circle cx="202.37" cy="187.86" r="0.68"/><circle cx="204.39" cy="187.93" r="0.68"/><circle cx="206.41" cy="188.01" r="0.68"/><circle cx="208.42" cy="188.12" r="0.68"/><circle cx="210.44" cy="188.24" r="0.68"/><circle cx="212.45" cy="188.39" r="0.68"/><circle cx="214.47" cy="188.59" r="0.68"/><circle cx="216.49" cy="188.84" r="0.68"/><circle cx="218.5" cy="189.16" r="0.68"/><circle cx="220.52" cy="189.58" r="0.68"/><circle cx="222.53" cy="190.12" r="0.68"/><circle cx="224.55" cy="190.84" r="0.68"/><circle cx="226.57" cy="191.78" r="0.68"/><circle cx="228.58" cy="193.03" r="0.68"/><circle cx="230.6" cy="194.66" r="0.68"/><circle cx="232.61" cy="196.82" r="0.68"/><circle cx="234.63" cy="199.63" r="0.68"/><circle cx="236.65" cy="203.3" r="0.68"/><circle cx="238.66" cy="208.04" r="0.68"/><circle cx="240.68" cy="214.12" r="0.68"/><circle cx="242.69" cy="221.83" r="0.68"/><circle cx="244.71" cy="231.48" r="0.68"/><circle cx="246.73" cy="243.37" r="0.68"/><circle cx="248.74" cy="257.78" r="0.68"/><circle cx="250.76" cy="274.95" r="0.68"/><circle cx="252.77" cy="295.03" r="0.68"/></g>
</g>
<rect x="33.6" y="178.6" width="222.8" height="117" fill="none" stroke="#000" stroke-width="1.4"/>
<line x1="33.6" y1="295.6" x2="31" y2="295.6" stroke="#000" stroke-width="1.2" />
<line x1="33.6" y1="261" x2="31" y2="261" stroke="#000" stroke-width="1.2" />
<line x1="33.6" y1="226.4" x2="31" y2="226.4" stroke="#000" stroke-width="1.2" />
<line x1="33.6" y1="191.8" x2="31" y2="191.8" stroke="#000" stroke-width="1.2" />
<line x1="33.6" y1="278.3" x2="32.04" y2="278.3" stroke="#000" stroke-width="1.2" />
<line x1="33.6" y1="243.7" x2="32.04" y2="243.7" stroke="#000" stroke-width="1.2" />
<line x1="33.6" y1="209.1" x2="32.04" y2="209.1" stroke="#000" stroke-width="1.2" />
<text x="29.2" y="300.1" font-size="12.6" text-anchor="end" fill="#000" font-family='"Liberation Sans", sans-serif' >0</text>
<text x="29.2" y="265.5" font-size="12.6" text-anchor="end" fill="#000" font-family='"Liberation Sans", sans-serif' >5</text>
<text x="29.2" y="230.9" font-size="12.6" text-anchor="end" fill="#000" font-family='"Liberation Sans", sans-serif' >10</text>
<text x="29.2" y="196.3" font-size="12.6" text-anchor="end" fill="#000" font-family='"Liberation Sans", sans-serif' >15</text>
<line x1="33.6" y1="295.6" x2="33.6" y2="298.2" stroke="#000" stroke-width="1.2" />
<line x1="84" y1="295.6" x2="84" y2="298.2" stroke="#000" stroke-width="1.2" />
<line x1="134.4" y1="295.6" x2="134.4" y2="298.2" stroke="#000" stroke-width="1.2" />
<line x1="184.8" y1="295.6" x2="184.8" y2="298.2" stroke="#000" stroke-width="1.2" />
<line x1="235.2" y1="295.6" x2="235.2" y2="298.2" stroke="#000" stroke-width="1.2" />
<line x1="58.8" y1="295.6" x2="58.8" y2="297.16" stroke="#000" stroke-width="1.2" />
<line x1="109.2" y1="295.6" x2="109.2" y2="297.16" stroke="#000" stroke-width="1.2" />
<line x1="159.6" y1="295.6" x2="159.6" y2="297.16" stroke="#000" stroke-width="1.2" />
<line x1="210" y1="295.6" x2="210" y2="297.16" stroke="#000" stroke-width="1.2" />
<text x="33.6" y="309.9" font-size="12.6" text-anchor="middle" fill="#000" font-family='"Liberation Sans", sans-serif' >0.0</text>
<text x="84" y="309.9" font-size="12.6" text-anchor="middle" fill="#000" font-family='"Liberation Sans", sans-serif' >0.5</text>
<text x="134.4" y="309.9" font-size="12.6" text-anchor="middle" fill="#000" font-family='"Liberation Sans", sans-serif' >1.0</text>
<text x="184.8" y="309.9" font-size="12.6" text-anchor="middle" fill="#000" font-family='"Liberation Sans", sans-serif' >1.5</text>
<text x="235.2" y="309.9" font-size="12.6" text-anchor="middle" fill="#000" font-family='"Liberation Sans", sans-serif' >2.0</text>
<text x="144.5" y="324.9" font-size="12.3" text-anchor="middle" fill="#000" font-family='"Liberation Sans", sans-serif' >Voltage (V)</text>
<text x="0" y="0" font-size="12.3" text-anchor="middle" fill="#000" font-family='"Liberation Sans", sans-serif' transform="translate(7.6,242.1) rotate(-90) translate(0,4.43)">Current density (mA cm<tspan dy="-4.9" font-size="9.2">-2</tspan><tspan dy="4.9">)</tspan></text>
<line x1="33.6" y1="198.5" x2="61.2" y2="198.5" stroke="#555555" stroke-width="1.1" />
<g fill="#111" stroke="#0d0d0d" stroke-width="0.5"><circle cx="47" cy="198.5" r="2.3"/></g>
<g fill="#fff" fill-opacity="0.8"><circle cx="46.31" cy="197.81" r="0.83"/></g>
<text x="65" y="202.8" font-size="12" text-anchor="start" fill="#000" font-family='"Liberation Sans", sans-serif' >Control (F)</text>
<line x1="33.6" y1="213.5" x2="61.2" y2="213.5" stroke="#86cfe6" stroke-width="1.1" />
<g fill="#86cfe6" stroke="#68a1b3" stroke-width="0.5"><circle cx="47" cy="213.5" r="2.3"/></g>
<g fill="#fff" fill-opacity="0.8"><circle cx="46.31" cy="212.81" r="0.83"/></g>
<text x="65" y="217.8" font-size="12" text-anchor="start" fill="#000" font-family='"Liberation Sans", sans-serif' >Target (F)</text>
<line x1="125.9" y1="198.5" x2="154" y2="198.5" stroke="#3d9a2b" stroke-width="1.1" />
<g fill="#3d9a2b" stroke="#2f7821" stroke-width="0.5"><circle cx="140" cy="198.5" r="2.3"/></g>
<g fill="#fff" fill-opacity="0.8"><circle cx="139.31" cy="197.81" r="0.83"/></g>
<text x="157.5" y="202.8" font-size="12" text-anchor="start" fill="#000" font-family='"Liberation Sans", sans-serif' >Control (R)</text>
<line x1="125.9" y1="213.5" x2="154" y2="213.5" stroke="#f25b5b" stroke-width="1.1" />
<g fill="#ff2a8c" stroke="#c6206d" stroke-width="0.5"><circle cx="140" cy="213.5" r="2.3"/></g>
<g fill="#fff" fill-opacity="0.8"><circle cx="139.31" cy="212.81" r="0.83"/></g>
<text x="157.5" y="217.8" font-size="12" text-anchor="start" fill="#000" font-family='"Liberation Sans", sans-serif' >Target (R)</text>
<text x="41.5" y="232.5" font-size="12" font-family='"Liberation Sans", sans-serif'><tspan font-style="italic">V</tspan><tspan font-size="9" dy="2.2">OC</tspan></text>
<text x="86" y="232.5" font-size="12" font-family='"Liberation Sans", sans-serif'><tspan font-style="italic">J</tspan><tspan font-size="9" dy="2.2">SC</tspan></text>
<text x="132" y="232.5" font-size="12" text-anchor="start" fill="#000" font-family='"Liberation Sans", sans-serif' >FF</text>
<text x="169.5" y="232.5" font-size="12" text-anchor="start" fill="#000" font-family='"Liberation Sans", sans-serif' >PCE</text>
<text x="41.5" y="249.2" font-size="12" text-anchor="start" fill="#ff2a8c" font-family='"Liberation Sans", sans-serif' >2.18</text>
<text x="79.5" y="249.2" font-size="12" text-anchor="start" fill="#ff2a8c" font-family='"Liberation Sans", sans-serif' >15.94</text>
<text x="126.8" y="249.2" font-size="12" text-anchor="start" fill="#ff2a8c" font-family='"Liberation Sans", sans-serif' >82.0</text>
<text x="167.5" y="249.2" font-size="12" text-anchor="start" fill="#ff2a8c" font-family='"Liberation Sans", sans-serif' >28.47</text>
<text x="41.5" y="264.2" font-size="12" text-anchor="start" fill="#86cfe6" font-family='"Liberation Sans", sans-serif' >2.18</text>
<text x="79.5" y="264.2" font-size="12" text-anchor="start" fill="#86cfe6" font-family='"Liberation Sans", sans-serif' >15.95</text>
<text x="126.8" y="264.2" font-size="12" text-anchor="start" fill="#86cfe6" font-family='"Liberation Sans", sans-serif' >81.4</text>
<text x="167.5" y="264.2" font-size="12" text-anchor="start" fill="#86cfe6" font-family='"Liberation Sans", sans-serif' >28.28</text>
<text x="41.5" y="279.2" font-size="12" text-anchor="start" fill="#3d9a2b" font-family='"Liberation Sans", sans-serif' >2.16</text>
<text x="79.5" y="279.2" font-size="12" text-anchor="start" fill="#3d9a2b" font-family='"Liberation Sans", sans-serif' >15.78</text>
<text x="126.8" y="279.2" font-size="12" text-anchor="start" fill="#3d9a2b" font-family='"Liberation Sans", sans-serif' >82.0</text>
<text x="167.5" y="279.2" font-size="12" text-anchor="start" fill="#3d9a2b" font-family='"Liberation Sans", sans-serif' >27.99</text>
<text x="41.5" y="294.2" font-size="12" text-anchor="start" fill="#222" font-family='"Liberation Sans", sans-serif' >2.16</text>
<text x="79.5" y="294.2" font-size="12" text-anchor="start" fill="#222" font-family='"Liberation Sans", sans-serif' >15.89</text>
<text x="126.8" y="294.2" font-size="12" text-anchor="start" fill="#222" font-family='"Liberation Sans", sans-serif' >80.6</text>
<text x="167.5" y="294.2" font-size="12" text-anchor="start" fill="#222" font-family='"Liberation Sans", sans-serif' >27.67</text>
<text x="265.3" y="174" font-size="20" text-anchor="start" fill="#000" font-family='"Liberation Sans", sans-serif' >e</text>
<clipPath id="ce"><rect x="298.6" y="176.6" width="166.59999999999997" height="116.00000000000003"/></clipPath>
<g clip-path="url(#ce)">
<polyline points="303.49,292.6 303.82,182.39 304.38,181.62 304.38,180.71 306.04,182.81 307.71,182.88 309.38,182.56 311.04,183.11 312.71,182.41 314.38,182.98 316.04,182.49 317.71,183.14 319.38,182.85 321.04,182.51 322.71,183.24 324.38,183.27 326.04,183.13 327.71,183.39 329.37,183.75 331.04,183.71 332.71,183.83 334.37,183.2 336.04,183.52 337.71,183.39 339.37,184.13 341.04,183.61 342.71,184.27 344.37,183.9 346.04,183.81 347.71,184.06 349.37,183.55 351.04,183.81 352.71,183.73 354.37,183.38 356.04,184.02 357.71,183.11 359.37,183.36 361.04,183.48 362.7,183.01 364.37,183.41 366.04,182.64 367.7,182.94 369.37,183.07 371.04,182.64 372.7,182.89 374.37,183.1 376.04,182.55 377.7,183.2 379.37,182.49 381.04,183.05 382.7,182.74 384.37,182.47 386.04,182.91 387.7,182.92 389.37,183.33 391.04,183.72 392.7,183.78 394.37,183.77 396.03,183.43 397.7,183.69 399.37,183.7 401.03,183.41 402.7,184.18 404.37,184.14 406.03,183.78 407.7,184.38 409.37,184.4 411.03,184.05 412.7,184.25 414.37,183.97 416.03,184.04 417.7,183.63 419.37,183.55 421.03,183.82 422.7,183.33 424.37,183.37 426.03,183.59 427.7,182.76 429.36,183.31 431.03,183.32 432.7,183.3 434.36,182.74 436.03,182.48 437.7,182.53 439.36,182.87 441.03,183 442.7,183.25 444.36,182.7 446.03,182.82 447.7,183.08 449.36,182.88 451.03,183.15 452.7,182.78 454.36,183.07 456.03,183.61 457.7,183.1 459.36,183.99 461.03,183.62 462.69,183.82 464.36,184.04 466.03,184.27" fill="none" stroke="#ff2a8c" stroke-width="1.1" stroke-linejoin="round" />
<g fill="none" stroke="#ff2a8c" stroke-width="1.1"><circle cx="304.38" cy="180.71" r="1.75"/><circle cx="306.04" cy="182.81" r="1.75"/><circle cx="307.71" cy="182.88" r="1.75"/><circle cx="309.38" cy="182.56" r="1.75"/><circle cx="311.04" cy="183.11" r="1.75"/><circle cx="312.71" cy="182.41" r="1.75"/><circle cx="314.38" cy="182.98" r="1.75"/><circle cx="316.04" cy="182.49" r="1.75"/><circle cx="317.71" cy="183.14" r="1.75"/><circle cx="319.38" cy="182.85" r="1.75"/><circle cx="321.04" cy="182.51" r="1.75"/><circle cx="322.71" cy="183.24" r="1.75"/><circle cx="324.38" cy="183.27" r="1.75"/><circle cx="326.04" cy="183.13" r="1.75"/><circle cx="327.71" cy="183.39" r="1.75"/><circle cx="329.37" cy="183.75" r="1.75"/><circle cx="331.04" cy="183.71" r="1.75"/><circle cx="332.71" cy="183.83" r="1.75"/><circle cx="334.37" cy="183.2" r="1.75"/><circle cx="336.04" cy="183.52" r="1.75"/><circle cx="337.71" cy="183.39" r="1.75"/><circle cx="339.37" cy="184.13" r="1.75"/><circle cx="341.04" cy="183.61" r="1.75"/><circle cx="342.71" cy="184.27" r="1.75"/><circle cx="344.37" cy="183.9" r="1.75"/><circle cx="346.04" cy="183.81" r="1.75"/><circle cx="347.71" cy="184.06" r="1.75"/><circle cx="349.37" cy="183.55" r="1.75"/><circle cx="351.04" cy="183.81" r="1.75"/><circle cx="352.71" cy="183.73" r="1.75"/><circle cx="354.37" cy="183.38" r="1.75"/><circle cx="356.04" cy="184.02" r="1.75"/><circle cx="357.71" cy="183.11" r="1.75"/><circle cx="359.37" cy="183.36" r="1.75"/><circle cx="361.04" cy="183.48" r="1.75"/><circle cx="362.7" cy="183.01" r="1.75"/><circle cx="364.37" cy="183.41" r="1.75"/><circle cx="366.04" cy="182.64" r="1.75"/><circle cx="367.7" cy="182.94" r="1.75"/><circle cx="369.37" cy="183.07" r="1.75"/><circle cx="371.04" cy="182.64" r="1.75"/><circle cx="372.7" cy="182.89" r="1.75"/><circle cx="374.37" cy="183.1" r="1.75"/><circle cx="376.04" cy="182.55" r="1.75"/><circle cx="377.7" cy="183.2" r="1.75"/><circle cx="379.37" cy="182.49" r="1.75"/><circle cx="381.04" cy="183.05" r="1.75"/><circle cx="382.7" cy="182.74" r="1.75"/><circle cx="384.37" cy="182.47" r="1.75"/><circle cx="386.04" cy="182.91" r="1.75"/><circle cx="387.7" cy="182.92" r="1.75"/><circle cx="389.37" cy="183.33" r="1.75"/><circle cx="391.04" cy="183.72" r="1.75"/><circle cx="392.7" cy="183.78" r="1.75"/><circle cx="394.37" cy="183.77" r="1.75"/><circle cx="396.03" cy="183.43" r="1.75"/><circle cx="397.7" cy="183.69" r="1.75"/><circle cx="399.37" cy="183.7" r="1.75"/><circle cx="401.03" cy="183.41" r="1.75"/><circle cx="402.7" cy="184.18" r="1.75"/><circle cx="404.37" cy="184.14" r="1.75"/><circle cx="406.03" cy="183.78" r="1.75"/><circle cx="407.7" cy="184.38" r="1.75"/><circle cx="409.37" cy="184.4" r="1.75"/><circle cx="411.03" cy="184.05" r="1.75"/><circle cx="412.7" cy="184.25" r="1.75"/><circle cx="414.37" cy="183.97" r="1.75"/><circle cx="416.03" cy="184.04" r="1.75"/><circle cx="417.7" cy="183.63" r="1.75"/><circle cx="419.37" cy="183.55" r="1.75"/><circle cx="421.03" cy="183.82" r="1.75"/><circle cx="422.7" cy="183.33" r="1.75"/><circle cx="424.37" cy="183.37" r="1.75"/><circle cx="426.03" cy="183.59" r="1.75"/><circle cx="427.7" cy="182.76" r="1.75"/><circle cx="429.36" cy="183.31" r="1.75"/><circle cx="431.03" cy="183.32" r="1.75"/><circle cx="432.7" cy="183.3" r="1.75"/><circle cx="434.36" cy="182.74" r="1.75"/><circle cx="436.03" cy="182.48" r="1.75"/><circle cx="437.7" cy="182.53" r="1.75"/><circle cx="439.36" cy="182.87" r="1.75"/><circle cx="441.03" cy="183" r="1.75"/><circle cx="442.7" cy="183.25" r="1.75"/><circle cx="444.36" cy="182.7" r="1.75"/><circle cx="446.03" cy="182.82" r="1.75"/><circle cx="447.7" cy="183.08" r="1.75"/><circle cx="449.36" cy="182.88" r="1.75"/><circle cx="451.03" cy="183.15" r="1.75"/><circle cx="452.7" cy="182.78" r="1.75"/><circle cx="454.36" cy="183.07" r="1.75"/><circle cx="456.03" cy="183.61" r="1.75"/><circle cx="457.7" cy="183.1" r="1.75"/><circle cx="459.36" cy="183.99" r="1.75"/><circle cx="461.03" cy="183.62" r="1.75"/><circle cx="462.69" cy="183.82" r="1.75"/><circle cx="464.36" cy="184.04" r="1.75"/><circle cx="466.03" cy="184.27" r="1.75"/></g>
</g>
<rect x="298.6" y="176.6" width="166.6" height="116" fill="none" stroke="#000" stroke-width="1.4"/>
<line x1="298.6" y1="292.6" x2="296" y2="292.6" stroke="#000" stroke-width="1.2" />
<line x1="298.6" y1="253.93" x2="296" y2="253.93" stroke="#000" stroke-width="1.2" />
<line x1="298.6" y1="215.26" x2="296" y2="215.26" stroke="#000" stroke-width="1.2" />
<line x1="298.6" y1="176.59" x2="296" y2="176.59" stroke="#000" stroke-width="1.2" />
<text x="295" y="297.1" font-size="12.6" text-anchor="end" fill="#000" font-family='"Liberation Sans", sans-serif' >0</text>
<text x="295" y="258.43" font-size="12.6" text-anchor="end" fill="#000" font-family='"Liberation Sans", sans-serif' >10</text>
<text x="295" y="219.76" font-size="12.6" text-anchor="end" fill="#000" font-family='"Liberation Sans", sans-serif' >20</text>
<text x="295" y="181.09" font-size="12.6" text-anchor="end" fill="#000" font-family='"Liberation Sans", sans-serif' >30</text>
<line x1="298.6" y1="292.6" x2="298.6" y2="295.2" stroke="#000" stroke-width="1.2" />
<line x1="326.38" y1="292.6" x2="326.38" y2="295.2" stroke="#000" stroke-width="1.2" />
<line x1="354.15" y1="292.6" x2="354.15" y2="295.2" stroke="#000" stroke-width="1.2" />
<line x1="381.93" y1="292.6" x2="381.93" y2="295.2" stroke="#000" stroke-width="1.2" />
<line x1="409.7" y1="292.6" x2="409.7" y2="295.2" stroke="#000" stroke-width="1.2" />
<line x1="437.48" y1="292.6" x2="437.48" y2="295.2" stroke="#000" stroke-width="1.2" />
<line x1="465.25" y1="292.6" x2="465.25" y2="295.2" stroke="#000" stroke-width="1.2" />
<text x="298.6" y="305.5" font-size="12.6" text-anchor="middle" fill="#000" font-family='"Liberation Sans", sans-serif' >0</text>
<text x="326.38" y="305.5" font-size="12.6" text-anchor="middle" fill="#000" font-family='"Liberation Sans", sans-serif' >25</text>
<text x="354.15" y="305.5" font-size="12.6" text-anchor="middle" fill="#000" font-family='"Liberation Sans", sans-serif' >50</text>
<text x="381.93" y="305.5" font-size="12.6" text-anchor="middle" fill="#000" font-family='"Liberation Sans", sans-serif' >75</text>
<text x="409.7" y="305.5" font-size="12.6" text-anchor="middle" fill="#000" font-family='"Liberation Sans", sans-serif' >100</text>
<text x="437.48" y="305.5" font-size="12.6" text-anchor="middle" fill="#000" font-family='"Liberation Sans", sans-serif' >125</text>
<text x="465.25" y="305.5" font-size="12.6" text-anchor="middle" fill="#000" font-family='"Liberation Sans", sans-serif' >150</text>
<text x="389.7" y="321.4" font-size="12.4" text-anchor="middle" fill="#000" font-family='"Liberation Sans", sans-serif' >Time (s)</text>
<text x="0" y="0" font-size="12.7" text-anchor="middle" fill="#000" font-family='"Liberation Sans", sans-serif' transform="translate(270.4,237.8) rotate(-90) translate(0,4.57)">Stablized PCE (%)</text>
<text x="392.2" y="203.2" font-size="12.6" text-anchor="middle" fill="#000" font-family='"Liberation Sans", sans-serif' >Stablized at 1.92 V</text>
<text x="476" y="173.7" font-size="20" text-anchor="start" fill="#000" font-family='"Liberation Sans", sans-serif' >f</text>
<clipPath id="cf"><rect x="504.4" y="175.7" width="169.60000000000002" height="117.30000000000001"/></clipPath>
<g clip-path="url(#cf)">
<polyline points="510.38,292.46 511.26,292.46 512.15,292.46 513.04,292.46 513.93,292.45 514.82,292.44 515.72,292.43 516.61,292.41 517.5,292.39 518.38,292.37 519.27,292.35 520.16,292.32 521.05,292.29 521.94,292.26 522.83,292.22 523.73,292.18 524.62,292.14 525.5,292.09 526.39,292.04 527.28,291.98 528.17,291.93 529.06,291.8 529.95,291.56 530.85,290.9 531.74,290.31 532.62,291.28 533.51,291.41 534.4,291.5 535.29,291.56 536.18,291.59 537.07,291.6 537.97,291.6 538.86,291.6 539.75,291.59 540.63,291.58 541.52,291.57 542.41,291.55 543.3,291.54 544.19,291.52 545.08,291.49 545.98,291.47 546.87,291.44 547.75,291.4 548.64,291.36 549.53,291.24 550.42,291.05 551.31,290.82 552.2,290.55 553.1,290.27 553.99,289.99 554.88,289.71 555.76,289.39 556.65,289.05 557.54,288.67 558.43,288.27 559.32,287.84 560.22,287.36 561.11,286.82 562,286.23 562.88,285.62 563.77,284.99 564.66,284.35 565.55,283.68 566.44,282.98 567.34,282.27 568.23,281.55 569.12,280.82 570,280.08 570.89,279.3 571.78,278.51 572.67,277.73 573.56,277 574.45,276.33 575.35,275.71 576.24,275.12 577.12,274.55 578.01,274 578.9,273.47 579.79,272.96 580.68,272.47 581.57,271.97 582.46,271.46 583.36,270.94 584.25,270.41 585.13,269.88 586.02,269.35 586.91,268.9 587.8,268.52 588.69,268.06 589.59,267.36 590.48,265.67 591.37,262.44 592.25,258.7 593.14,253.46 594.03,245.25 594.92,231.72 595.81,226.71 596.7,217.97 597.6,212.87 598.71,210.99 599.82,210.37 600.93,210.07 602.04,209.85 603.16,209.56 604.27,209.26 605.38,208.91 606.5,208.45 607.61,207.89 608.72,207.28 609.83,206.58 610.94,205.93 612.06,205.37 613.17,204.87 614.28,204.4 615.39,203.9 616.51,203.4 617.62,203.26 618.73,203.83 619.85,204.66 620.96,205.76 622.07,206.93 623.18,208.13 624.29,209.26 625.41,210.31 626.52,211.3 627.63,212.31 628.75,213.21 629.86,213.73 630.97,214.11 632.08,214.4 633.19,214.6 634.31,214.78 635.42,214.94 636.53,215.07 637.64,215.15 638.76,215.16 639.87,215.01 640.98,214.74 642.1,214.44 643.21,214.23 644.32,214.03 645.43,213.89 646.54,213.92 647.66,214.16 648.77,214.54 649.88,215.33 651.44,217.74 653,221.92 654.55,228.2 656.11,236.22 657.67,247.03 659.23,256.1 660.78,262.95 662.34,270.58 663.9,277.26 665.46,282.53 667.01,286.55 668.57,289.44 670.13,291.51 671.69,292.79" fill="none" stroke="#3d9a2b" stroke-width="1.0" stroke-linejoin="round" />
<g fill="#3d9a2b" stroke="#2f7821" stroke-width="0.5"><circle cx="510.38" cy="292.46" r="1.75"/><circle cx="511.26" cy="292.46" r="1.75"/><circle cx="512.15" cy="292.46" r="1.75"/><circle cx="513.04" cy="292.46" r="1.75"/><circle cx="513.93" cy="292.45" r="1.75"/><circle cx="514.82" cy="292.44" r="1.75"/><circle cx="515.72" cy="292.43" r="1.75"/><circle cx="516.61" cy="292.41" r="1.75"/><circle cx="517.5" cy="292.39" r="1.75"/><circle cx="518.38" cy="292.37" r="1.75"/><circle cx="519.27" cy="292.35" r="1.75"/><circle cx="520.16" cy="292.32" r="1.75"/><circle cx="521.05" cy="292.29" r="1.75"/><circle cx="521.94" cy="292.26" r="1.75"/><circle cx="522.83" cy="292.22" r="1.75"/><circle cx="523.73" cy="292.18" r="1.75"/><circle cx="524.62" cy="292.14" r="1.75"/><circle cx="525.5" cy="292.09" r="1.75"/><circle cx="526.39" cy="292.04" r="1.75"/><circle cx="527.28" cy="291.98" r="1.75"/><circle cx="528.17" cy="291.93" r="1.75"/><circle cx="529.06" cy="291.8" r="1.75"/><circle cx="529.95" cy="291.56" r="1.75"/><circle cx="530.85" cy="290.9" r="1.75"/><circle cx="531.74" cy="290.31" r="1.75"/><circle cx="532.62" cy="291.28" r="1.75"/><circle cx="533.51" cy="291.41" r="1.75"/><circle cx="534.4" cy="291.5" r="1.75"/><circle cx="535.29" cy="291.56" r="1.75"/><circle cx="536.18" cy="291.59" r="1.75"/><circle cx="537.07" cy="291.6" r="1.75"/><circle cx="537.97" cy="291.6" r="1.75"/><circle cx="538.86" cy="291.6" r="1.75"/><circle cx="539.75" cy="291.59" r="1.75"/><circle cx="540.63" cy="291.58" r="1.75"/><circle cx="541.52" cy="291.57" r="1.75"/><circle cx="542.41" cy="291.55" r="1.75"/><circle cx="543.3" cy="291.54" r="1.75"/><circle cx="544.19" cy="291.52" r="1.75"/><circle cx="545.08" cy="291.49" r="1.75"/><circle cx="545.98" cy="291.47" r="1.75"/><circle cx="546.87" cy="291.44" r="1.75"/><circle cx="547.75" cy="291.4" r="1.75"/><circle cx="548.64" cy="291.36" r="1.75"/><circle cx="549.53" cy="291.24" r="1.75"/><circle cx="550.42" cy="291.05" r="1.75"/><circle cx="551.31" cy="290.82" r="1.75"/><circle cx="552.2" cy="290.55" r="1.75"/><circle cx="553.1" cy="290.27" r="1.75"/><circle cx="553.99" cy="289.99" r="1.75"/><circle cx="554.88" cy="289.71" r="1.75"/><circle cx="555.76" cy="289.39" r="1.75"/><circle cx="556.65" cy="289.05" r="1.75"/><circle cx="557.54" cy="288.67" r="1.75"/><circle cx="558.43" cy="288.27" r="1.75"/><circle cx="559.32" cy="287.84" r="1.75"/><circle cx="560.22" cy="287.36" r="1.75"/><circle cx="561.11" cy="286.82" r="1.75"/><circle cx="562" cy="286.23" r="1.75"/><circle cx="562.88" cy="285.62" r="1.75"/><circle cx="563.77" cy="284.99" r="1.75"/><circle cx="564.66" cy="284.35" r="1.75"/><circle cx="565.55" cy="283.68" r="1.75"/><circle cx="566.44" cy="282.98" r="1.75"/><circle cx="567.34" cy="282.27" r="1.75"/><circle cx="568.23" cy="281.55" r="1.75"/><circle cx="569.12" cy="280.82" r="1.75"/><circle cx="570" cy="280.08" r="1.75"/><circle cx="570.89" cy="279.3" r="1.75"/><circle cx="571.78" cy="278.51" r="1.75"/><circle cx="572.67" cy="277.73" r="1.75"/><circle cx="573.56" cy="277" r="1.75"/><circle cx="574.45" cy="276.33" r="1.75"/><circle cx="575.35" cy="275.71" r="1.75"/><circle cx="576.24" cy="275.12" r="1.75"/><circle cx="577.12" cy="274.55" r="1.75"/><circle cx="578.01" cy="274" r="1.75"/><circle cx="578.9" cy="273.47" r="1.75"/><circle cx="579.79" cy="272.96" r="1.75"/><circle cx="580.68" cy="272.47" r="1.75"/><circle cx="581.57" cy="271.97" r="1.75"/><circle cx="582.46" cy="271.46" r="1.75"/><circle cx="583.36" cy="270.94" r="1.75"/><circle cx="584.25" cy="270.41" r="1.75"/><circle cx="585.13" cy="269.88" r="1.75"/><circle cx="586.02" cy="269.35" r="1.75"/><circle cx="586.91" cy="268.9" r="1.75"/><circle cx="587.8" cy="268.52" r="1.75"/><circle cx="588.69" cy="268.06" r="1.75"/><circle cx="589.59" cy="267.36" r="1.75"/><circle cx="590.48" cy="265.67" r="1.75"/><circle cx="591.37" cy="262.44" r="1.75"/><circle cx="592.25" cy="258.7" r="1.75"/><circle cx="593.14" cy="253.46" r="1.75"/><circle cx="594.03" cy="245.25" r="1.75"/><circle cx="594.92" cy="231.72" r="1.75"/><circle cx="595.81" cy="226.71" r="1.75"/><circle cx="596.7" cy="217.97" r="1.75"/><circle cx="597.6" cy="212.87" r="1.75"/><circle cx="598.71" cy="210.99" r="1.75"/><circle cx="599.82" cy="210.37" r="1.75"/><circle cx="600.93" cy="210.07" r="1.75"/><circle cx="602.04" cy="209.85" r="1.75"/><circle cx="603.16" cy="209.56" r="1.75"/><circle cx="604.27" cy="209.26" r="1.75"/><circle cx="605.38" cy="208.91" r="1.75"/><circle cx="606.5" cy="208.45" r="1.75"/><circle cx="607.61" cy="207.89" r="1.75"/><circle cx="608.72" cy="207.28" r="1.75"/><circle cx="609.83" cy="206.58" r="1.75"/><circle cx="610.94" cy="205.93" r="1.75"/><circle cx="612.06" cy="205.37" r="1.75"/><circle cx="613.17" cy="204.87" r="1.75"/><circle cx="614.28" cy="204.4" r="1.75"/><circle cx="615.39" cy="203.9" r="1.75"/><circle cx="616.51" cy="203.4" r="1.75"/><circle cx="617.62" cy="203.26" r="1.75"/><circle cx="618.73" cy="203.83" r="1.75"/><circle cx="619.85" cy="204.66" r="1.75"/><circle cx="620.96" cy="205.76" r="1.75"/><circle cx="622.07" cy="206.93" r="1.75"/><circle cx="623.18" cy="208.13" r="1.75"/><circle cx="624.29" cy="209.26" r="1.75"/><circle cx="625.41" cy="210.31" r="1.75"/><circle cx="626.52" cy="211.3" r="1.75"/><circle cx="627.63" cy="212.31" r="1.75"/><circle cx="628.75" cy="213.21" r="1.75"/><circle cx="629.86" cy="213.73" r="1.75"/><circle cx="630.97" cy="214.11" r="1.75"/><circle cx="632.08" cy="214.4" r="1.75"/><circle cx="633.19" cy="214.6" r="1.75"/><circle cx="634.31" cy="214.78" r="1.75"/><circle cx="635.42" cy="214.94" r="1.75"/><circle cx="636.53" cy="215.07" r="1.75"/><circle cx="637.64" cy="215.15" r="1.75"/><circle cx="638.76" cy="215.16" r="1.75"/><circle cx="639.87" cy="215.01" r="1.75"/><circle cx="640.98" cy="214.74" r="1.75"/><circle cx="642.1" cy="214.44" r="1.75"/><circle cx="643.21" cy="214.23" r="1.75"/><circle cx="644.32" cy="214.03" r="1.75"/><circle cx="645.43" cy="213.89" r="1.75"/><circle cx="646.54" cy="213.92" r="1.75"/><circle cx="647.66" cy="214.16" r="1.75"/><circle cx="648.77" cy="214.54" r="1.75"/><circle cx="649.88" cy="215.33" r="1.75"/><circle cx="651.44" cy="217.74" r="1.75"/><circle cx="653" cy="221.92" r="1.75"/><circle cx="654.55" cy="228.2" r="1.75"/><circle cx="656.11" cy="236.22" r="1.75"/><circle cx="657.67" cy="247.03" r="1.75"/><circle cx="659.23" cy="256.1" r="1.75"/><circle cx="660.78" cy="262.95" r="1.75"/><circle cx="662.34" cy="270.58" r="1.75"/><circle cx="663.9" cy="277.26" r="1.75"/><circle cx="665.46" cy="282.53" r="1.75"/><circle cx="667.01" cy="286.55" r="1.75"/><circle cx="668.57" cy="289.44" r="1.75"/><circle cx="670.13" cy="291.51" r="1.75"/><circle cx="671.69" cy="292.79" r="1.75"/></g>
<g fill="#fff" fill-opacity="0.6"><circle cx="509.85" cy="291.94" r="0.56"/><circle cx="510.74" cy="291.94" r="0.56"/><circle cx="511.63" cy="291.93" r="0.56"/><circle cx="512.52" cy="291.93" r="0.56"/><circle cx="513.41" cy="291.92" r="0.56"/><circle cx="514.3" cy="291.91" r="0.56"/><circle cx="515.19" cy="291.9" r="0.56"/><circle cx="516.08" cy="291.89" r="0.56"/><circle cx="516.97" cy="291.87" r="0.56"/><circle cx="517.86" cy="291.85" r="0.56"/><circle cx="518.75" cy="291.82" r="0.56"/><circle cx="519.64" cy="291.8" r="0.56"/><circle cx="520.53" cy="291.77" r="0.56"/><circle cx="521.42" cy="291.73" r="0.56"/><circle cx="522.31" cy="291.7" r="0.56"/><circle cx="523.2" cy="291.66" r="0.56"/><circle cx="524.09" cy="291.61" r="0.56"/><circle cx="524.98" cy="291.57" r="0.56"/><circle cx="525.87" cy="291.51" r="0.56"/><circle cx="526.76" cy="291.46" r="0.56"/><circle cx="527.65" cy="291.4" r="0.56"/><circle cx="528.54" cy="291.28" r="0.56"/><circle cx="529.43" cy="291.03" r="0.56"/><circle cx="530.32" cy="290.38" r="0.56"/><circle cx="531.21" cy="289.79" r="0.56"/><circle cx="532.1" cy="290.75" r="0.56"/><circle cx="532.99" cy="290.88" r="0.56"/><circle cx="533.88" cy="290.97" r="0.56"/><circle cx="534.77" cy="291.03" r="0.56"/><circle cx="535.66" cy="291.07" r="0.56"/><circle cx="536.55" cy="291.08" r="0.56"/><circle cx="537.44" cy="291.08" r="0.56"/><circle cx="538.33" cy="291.07" r="0.56"/><circle cx="539.22" cy="291.07" r="0.56"/><circle cx="540.11" cy="291.06" r="0.56"/><circle cx="541" cy="291.04" r="0.56"/><circle cx="541.89" cy="291.03" r="0.56"/><circle cx="542.78" cy="291.01" r="0.56"/><circle cx="543.67" cy="290.99" r="0.56"/><circle cx="544.56" cy="290.97" r="0.56"/><circle cx="545.45" cy="290.94" r="0.56"/><circle cx="546.34" cy="290.91" r="0.56"/><circle cx="547.23" cy="290.88" r="0.56"/><circle cx="548.12" cy="290.83" r="0.56"/><circle cx="549.01" cy="290.71" r="0.56"/><circle cx="549.9" cy="290.53" r="0.56"/><circle cx="550.79" cy="290.29" r="0.56"/><circle cx="551.68" cy="290.02" r="0.56"/><circle cx="552.57" cy="289.74" r="0.56"/><circle cx="553.46" cy="289.47" r="0.56"/><circle cx="554.35" cy="289.18" r="0.56"/><circle cx="555.24" cy="288.86" r="0.56"/><circle cx="556.13" cy="288.52" r="0.56"/><circle cx="557.02" cy="288.15" r="0.56"/><circle cx="557.91" cy="287.74" r="0.56"/><circle cx="558.8" cy="287.31" r="0.56"/><circle cx="559.69" cy="286.84" r="0.56"/><circle cx="560.58" cy="286.29" r="0.56"/><circle cx="561.47" cy="285.71" r="0.56"/><circle cx="562.36" cy="285.09" r="0.56"/><circle cx="563.25" cy="284.46" r="0.56"/><circle cx="564.14" cy="283.82" r="0.56"/><circle cx="565.03" cy="283.15" r="0.56"/><circle cx="565.92" cy="282.46" r="0.56"/><circle cx="566.81" cy="281.75" r="0.56"/><circle cx="567.7" cy="281.02" r="0.56"/><circle cx="568.59" cy="280.29" r="0.56"/><circle cx="569.48" cy="279.55" r="0.56"/><circle cx="570.37" cy="278.77" r="0.56"/><circle cx="571.26" cy="277.98" r="0.56"/><circle cx="572.15" cy="277.21" r="0.56"/><circle cx="573.04" cy="276.48" r="0.56"/><circle cx="573.93" cy="275.81" r="0.56"/><circle cx="574.82" cy="275.19" r="0.56"/><circle cx="575.71" cy="274.6" r="0.56"/><circle cx="576.6" cy="274.03" r="0.56"/><circle cx="577.49" cy="273.48" r="0.56"/><circle cx="578.38" cy="272.94" r="0.56"/><circle cx="579.27" cy="272.44" r="0.56"/><circle cx="580.16" cy="271.94" r="0.56"/><circle cx="581.05" cy="271.44" r="0.56"/><circle cx="581.94" cy="270.93" r="0.56"/><circle cx="582.83" cy="270.41" r="0.56"/><circle cx="583.72" cy="269.89" r="0.56"/><circle cx="584.61" cy="269.36" r="0.56"/><circle cx="585.5" cy="268.83" r="0.56"/><circle cx="586.39" cy="268.37" r="0.56"/><circle cx="587.28" cy="268" r="0.56"/><circle cx="588.17" cy="267.53" r="0.56"/><circle cx="589.06" cy="266.84" r="0.56"/><circle cx="589.95" cy="265.15" r="0.56"/><circle cx="590.84" cy="261.92" r="0.56"/><circle cx="591.73" cy="258.18" r="0.56"/><circle cx="592.62" cy="252.93" r="0.56"/><circle cx="593.51" cy="244.72" r="0.56"/><circle cx="594.4" cy="231.2" r="0.56"/><circle cx="595.29" cy="226.18" r="0.56"/><circle cx="596.18" cy="217.45" r="0.56"/><circle cx="597.07" cy="212.34" r="0.56"/><circle cx="598.18" cy="210.46" r="0.56"/><circle cx="599.29" cy="209.85" r="0.56"/><circle cx="600.41" cy="209.55" r="0.56"/><circle cx="601.52" cy="209.33" r="0.56"/><circle cx="602.63" cy="209.04" r="0.56"/><circle cx="603.75" cy="208.73" r="0.56"/><circle cx="604.86" cy="208.38" r="0.56"/><circle cx="605.97" cy="207.93" r="0.56"/><circle cx="607.08" cy="207.37" r="0.56"/><circle cx="608.2" cy="206.76" r="0.56"/><circle cx="609.31" cy="206.06" r="0.56"/><circle cx="610.42" cy="205.4" r="0.56"/><circle cx="611.53" cy="204.85" r="0.56"/><circle cx="612.64" cy="204.35" r="0.56"/><circle cx="613.76" cy="203.88" r="0.56"/><circle cx="614.87" cy="203.37" r="0.56"/><circle cx="615.98" cy="202.88" r="0.56"/><circle cx="617.1" cy="202.73" r="0.56"/><circle cx="618.21" cy="203.31" r="0.56"/><circle cx="619.32" cy="204.13" r="0.56"/><circle cx="620.43" cy="205.24" r="0.56"/><circle cx="621.54" cy="206.4" r="0.56"/><circle cx="622.66" cy="207.61" r="0.56"/><circle cx="623.77" cy="208.74" r="0.56"/><circle cx="624.88" cy="209.79" r="0.56"/><circle cx="626" cy="210.78" r="0.56"/><circle cx="627.11" cy="211.79" r="0.56"/><circle cx="628.22" cy="212.68" r="0.56"/><circle cx="629.33" cy="213.2" r="0.56"/><circle cx="630.45" cy="213.59" r="0.56"/><circle cx="631.56" cy="213.87" r="0.56"/><circle cx="632.67" cy="214.07" r="0.56"/><circle cx="633.78" cy="214.26" r="0.56"/><circle cx="634.89" cy="214.42" r="0.56"/><circle cx="636.01" cy="214.54" r="0.56"/><circle cx="637.12" cy="214.62" r="0.56"/><circle cx="638.23" cy="214.64" r="0.56"/><circle cx="639.35" cy="214.49" r="0.56"/><circle cx="640.46" cy="214.21" r="0.56"/><circle cx="641.57" cy="213.92" r="0.56"/><circle cx="642.68" cy="213.71" r="0.56"/><circle cx="643.79" cy="213.51" r="0.56"/><circle cx="644.91" cy="213.37" r="0.56"/><circle cx="646.02" cy="213.4" r="0.56"/><circle cx="647.13" cy="213.63" r="0.56"/><circle cx="648.25" cy="214.02" r="0.56"/><circle cx="649.36" cy="214.8" r="0.56"/><circle cx="650.91" cy="217.22" r="0.56"/><circle cx="652.47" cy="221.39" r="0.56"/><circle cx="654.03" cy="227.68" r="0.56"/><circle cx="655.59" cy="235.7" r="0.56"/><circle cx="657.14" cy="246.51" r="0.56"/><circle cx="658.7" cy="255.58" r="0.56"/><circle cx="660.26" cy="262.43" r="0.56"/><circle cx="661.82" cy="270.06" r="0.56"/><circle cx="663.38" cy="276.74" r="0.56"/><circle cx="664.93" cy="282.01" r="0.56"/><circle cx="666.49" cy="286.03" r="0.56"/><circle cx="668.05" cy="288.92" r="0.56"/><circle cx="669.61" cy="290.98" r="0.56"/><circle cx="671.16" cy="292.26" r="0.56"/></g>
<polyline points="510.82,293 511.71,290.39 512.6,284.89 513.49,277.14 514.38,258.6 515.27,249.86 516.16,242.67 517.05,234.95 517.94,227.43 518.83,222.2 519.72,217.97 520.61,214.36 521.5,211.27 522.39,208.07 523.28,204.5 524.17,200.54 525.06,195.68 525.95,193.22 526.84,191.92 527.73,191.05 528.62,190.37 529.51,189.88 530.4,190.23 531.29,191.83 532.18,190 533.07,188.96 533.96,189.08 534.85,189.26 535.74,189.59 536.63,190.12 537.52,190.75 538.41,191.4 539.3,191.95 540.19,192.41 541.08,192.84 541.97,193.25 542.86,193.67 543.75,194.1 544.64,194.62 545.53,195.22 546.42,195.77 547.31,196.15 548.2,196.25 549.09,196.17 549.98,196.02 550.87,195.84 551.76,195.67 552.65,195.42 553.54,195.21 554.43,195.23 555.32,195.61 556.21,196.2 557.1,196.79 557.99,197.36 558.88,198 559.77,198.67 560.66,199.35 561.55,200.01 562.44,200.65 563.33,201.28 564.22,201.91 565.11,202.56 566,203.24 566.89,203.95 567.78,204.7 568.67,205.47 569.56,206.26 570.45,207.06 571.34,207.87 572.23,208.71 573.12,209.6 574.01,210.5 574.9,211.38 575.79,212.19 576.68,212.91 577.57,213.58 578.46,214.22 579.35,214.84 580.24,215.45 581.13,216.09 582.02,216.76 582.91,217.39 583.8,217.87 584.69,218.18 585.58,218.39 586.47,218.56 587.36,218.76 588.25,219.04 589.14,219.45 590.03,220.05 590.92,220.93 591.81,221.42 592.7,223.51 593.59,229.35 594.48,237.95 595.37,251.91 596.26,255.04 597.15,268.67 598.04,278.97 598.93,285.92 599.82,289.58 600.71,291.37 601.6,292.18 602.49,292.44 603.38,292.61 604.27,292.68 605.16,292.68 606.05,292.68 607.16,292.68 608.27,292.68 609.39,292.68 610.5,292.68 611.61,292.68 612.73,292.68 613.84,292.68 614.95,292.68 616.06,292.68 617.17,292.68 618.29,292.68 619.4,292.68 620.51,292.68 621.62,292.68 622.74,292.68 623.85,292.68 624.96,292.68 626.07,292.68 627.19,292.68 628.3,292.68 629.41,292.68 630.52,292.68 631.64,292.68 632.75,292.68 633.86,292.68 634.98,292.68 636.09,292.68 637.2,292.68 638.31,292.68 639.42,292.68 640.54,292.68 641.65,292.68 642.76,292.68 643.88,292.68 644.99,292.68 646.1,292.68 647.21,292.68 648.32,292.68 649.44,292.68 650.55,292.68 651.66,292.68 652.77,292.68 653.89,292.68 655,292.68 656.11,292.68 657.23,292.68 658.34,292.68 659.45,292.68 660.56,292.68 661.67,292.68 662.79,292.68 663.9,292.68 665.01,292.68 666.12,292.68 667.24,292.68 668.35,292.68 669.46,292.68 670.58,292.68 671.69,292.68 672.8,292.68" fill="none" stroke="#ff2a8c" stroke-width="1.3" stroke-linejoin="round" />
<g fill="#ff2a8c" stroke="#c6206d" stroke-width="0.5"><circle cx="510.82" cy="293" r="1.75"/><circle cx="511.71" cy="290.39" r="1.75"/><circle cx="512.6" cy="284.89" r="1.75"/><circle cx="513.49" cy="277.14" r="1.75"/><circle cx="514.38" cy="258.6" r="1.75"/><circle cx="515.27" cy="249.86" r="1.75"/><circle cx="516.16" cy="242.67" r="1.75"/><circle cx="517.05" cy="234.95" r="1.75"/><circle cx="517.94" cy="227.43" r="1.75"/><circle cx="518.83" cy="222.2" r="1.75"/><circle cx="519.72" cy="217.97" r="1.75"/><circle cx="520.61" cy="214.36" r="1.75"/><circle cx="521.5" cy="211.27" r="1.75"/><circle cx="522.39" cy="208.07" r="1.75"/><circle cx="523.28" cy="204.5" r="1.75"/><circle cx="524.17" cy="200.54" r="1.75"/><circle cx="525.06" cy="195.68" r="1.75"/><circle cx="525.95" cy="193.22" r="1.75"/><circle cx="526.84" cy="191.92" r="1.75"/><circle cx="527.73" cy="191.05" r="1.75"/><circle cx="528.62" cy="190.37" r="1.75"/><circle cx="529.51" cy="189.88" r="1.75"/><circle cx="530.4" cy="190.23" r="1.75"/><circle cx="531.29" cy="191.83" r="1.75"/><circle cx="532.18" cy="190" r="1.75"/><circle cx="533.07" cy="188.96" r="1.75"/><circle cx="533.96" cy="189.08" r="1.75"/><circle cx="534.85" cy="189.26" r="1.75"/><circle cx="535.74" cy="189.59" r="1.75"/><circle cx="536.63" cy="190.12" r="1.75"/><circle cx="537.52" cy="190.75" r="1.75"/><circle cx="538.41" cy="191.4" r="1.75"/><circle cx="539.3" cy="191.95" r="1.75"/><circle cx="540.19" cy="192.41" r="1.75"/><circle cx="541.08" cy="192.84" r="1.75"/><circle cx="541.97" cy="193.25" r="1.75"/><circle cx="542.86" cy="193.67" r="1.75"/><circle cx="543.75" cy="194.1" r="1.75"/><circle cx="544.64" cy="194.62" r="1.75"/><circle cx="545.53" cy="195.22" r="1.75"/><circle cx="546.42" cy="195.77" r="1.75"/><circle cx="547.31" cy="196.15" r="1.75"/><circle cx="548.2" cy="196.25" r="1.75"/><circle cx="549.09" cy="196.17" r="1.75"/><circle cx="549.98" cy="196.02" r="1.75"/><circle cx="550.87" cy="195.84" r="1.75"/><circle cx="551.76" cy="195.67" r="1.75"/><circle cx="552.65" cy="195.42" r="1.75"/><circle cx="553.54" cy="195.21" r="1.75"/><circle cx="554.43" cy="195.23" r="1.75"/><circle cx="555.32" cy="195.61" r="1.75"/><circle cx="556.21" cy="196.2" r="1.75"/><circle cx="557.1" cy="196.79" r="1.75"/><circle cx="557.99" cy="197.36" r="1.75"/><circle cx="558.88" cy="198" r="1.75"/><circle cx="559.77" cy="198.67" r="1.75"/><circle cx="560.66" cy="199.35" r="1.75"/><circle cx="561.55" cy="200.01" r="1.75"/><circle cx="562.44" cy="200.65" r="1.75"/><circle cx="563.33" cy="201.28" r="1.75"/><circle cx="564.22" cy="201.91" r="1.75"/><circle cx="565.11" cy="202.56" r="1.75"/><circle cx="566" cy="203.24" r="1.75"/><circle cx="566.89" cy="203.95" r="1.75"/><circle cx="567.78" cy="204.7" r="1.75"/><circle cx="568.67" cy="205.47" r="1.75"/><circle cx="569.56" cy="206.26" r="1.75"/><circle cx="570.45" cy="207.06" r="1.75"/><circle cx="571.34" cy="207.87" r="1.75"/><circle cx="572.23" cy="208.71" r="1.75"/><circle cx="573.12" cy="209.6" r="1.75"/><circle cx="574.01" cy="210.5" r="1.75"/><circle cx="574.9" cy="211.38" r="1.75"/><circle cx="575.79" cy="212.19" r="1.75"/><circle cx="576.68" cy="212.91" r="1.75"/><circle cx="577.57" cy="213.58" r="1.75"/><circle cx="578.46" cy="214.22" r="1.75"/><circle cx="579.35" cy="214.84" r="1.75"/><circle cx="580.24" cy="215.45" r="1.75"/><circle cx="581.13" cy="216.09" r="1.75"/><circle cx="582.02" cy="216.76" r="1.75"/><circle cx="582.91" cy="217.39" r="1.75"/><circle cx="583.8" cy="217.87" r="1.75"/><circle cx="584.69" cy="218.18" r="1.75"/><circle cx="585.58" cy="218.39" r="1.75"/><circle cx="586.47" cy="218.56" r="1.75"/><circle cx="587.36" cy="218.76" r="1.75"/><circle cx="588.25" cy="219.04" r="1.75"/><circle cx="589.14" cy="219.45" r="1.75"/><circle cx="590.03" cy="220.05" r="1.75"/><circle cx="590.92" cy="220.93" r="1.75"/><circle cx="591.81" cy="221.42" r="1.75"/><circle cx="592.7" cy="223.51" r="1.75"/><circle cx="593.59" cy="229.35" r="1.75"/><circle cx="594.48" cy="237.95" r="1.75"/><circle cx="595.37" cy="251.91" r="1.75"/><circle cx="596.26" cy="255.04" r="1.75"/><circle cx="597.15" cy="268.67" r="1.75"/><circle cx="598.04" cy="278.97" r="1.75"/><circle cx="598.93" cy="285.92" r="1.75"/><circle cx="599.82" cy="289.58" r="1.75"/><circle cx="600.71" cy="291.37" r="1.75"/><circle cx="601.6" cy="292.18" r="1.75"/><circle cx="602.49" cy="292.44" r="1.75"/><circle cx="603.38" cy="292.61" r="1.75"/><circle cx="604.27" cy="292.68" r="1.75"/><circle cx="605.16" cy="292.68" r="1.75"/><circle cx="606.05" cy="292.68" r="1.75"/><circle cx="607.16" cy="292.68" r="1.75"/><circle cx="608.27" cy="292.68" r="1.75"/><circle cx="609.39" cy="292.68" r="1.75"/><circle cx="610.5" cy="292.68" r="1.75"/><circle cx="611.61" cy="292.68" r="1.75"/><circle cx="612.73" cy="292.68" r="1.75"/><circle cx="613.84" cy="292.68" r="1.75"/><circle cx="614.95" cy="292.68" r="1.75"/><circle cx="616.06" cy="292.68" r="1.75"/><circle cx="617.17" cy="292.68" r="1.75"/><circle cx="618.29" cy="292.68" r="1.75"/><circle cx="619.4" cy="292.68" r="1.75"/><circle cx="620.51" cy="292.68" r="1.75"/><circle cx="621.62" cy="292.68" r="1.75"/><circle cx="622.74" cy="292.68" r="1.75"/><circle cx="623.85" cy="292.68" r="1.75"/><circle cx="624.96" cy="292.68" r="1.75"/><circle cx="626.07" cy="292.68" r="1.75"/><circle cx="627.19" cy="292.68" r="1.75"/><circle cx="628.3" cy="292.68" r="1.75"/><circle cx="629.41" cy="292.68" r="1.75"/><circle cx="630.52" cy="292.68" r="1.75"/><circle cx="631.64" cy="292.68" r="1.75"/><circle cx="632.75" cy="292.68" r="1.75"/><circle cx="633.86" cy="292.68" r="1.75"/><circle cx="634.98" cy="292.68" r="1.75"/><circle cx="636.09" cy="292.68" r="1.75"/><circle cx="637.2" cy="292.68" r="1.75"/><circle cx="638.31" cy="292.68" r="1.75"/><circle cx="639.42" cy="292.68" r="1.75"/><circle cx="640.54" cy="292.68" r="1.75"/><circle cx="641.65" cy="292.68" r="1.75"/><circle cx="642.76" cy="292.68" r="1.75"/><circle cx="643.88" cy="292.68" r="1.75"/><circle cx="644.99" cy="292.68" r="1.75"/><circle cx="646.1" cy="292.68" r="1.75"/><circle cx="647.21" cy="292.68" r="1.75"/><circle cx="648.32" cy="292.68" r="1.75"/><circle cx="649.44" cy="292.68" r="1.75"/><circle cx="650.55" cy="292.68" r="1.75"/><circle cx="651.66" cy="292.68" r="1.75"/><circle cx="652.77" cy="292.68" r="1.75"/><circle cx="653.89" cy="292.68" r="1.75"/><circle cx="655" cy="292.68" r="1.75"/><circle cx="656.11" cy="292.68" r="1.75"/><circle cx="657.23" cy="292.68" r="1.75"/><circle cx="658.34" cy="292.68" r="1.75"/><circle cx="659.45" cy="292.68" r="1.75"/><circle cx="660.56" cy="292.68" r="1.75"/><circle cx="661.67" cy="292.68" r="1.75"/><circle cx="662.79" cy="292.68" r="1.75"/><circle cx="663.9" cy="292.68" r="1.75"/><circle cx="665.01" cy="292.68" r="1.75"/><circle cx="666.12" cy="292.68" r="1.75"/><circle cx="667.24" cy="292.68" r="1.75"/><circle cx="668.35" cy="292.68" r="1.75"/><circle cx="669.46" cy="292.68" r="1.75"/><circle cx="670.58" cy="292.68" r="1.75"/><circle cx="671.69" cy="292.68" r="1.75"/><circle cx="672.8" cy="292.68" r="1.75"/></g>
<g fill="#fff" fill-opacity="0.6"><circle cx="510.3" cy="292.48" r="0.56"/><circle cx="511.19" cy="289.86" r="0.56"/><circle cx="512.08" cy="284.37" r="0.56"/><circle cx="512.97" cy="276.61" r="0.56"/><circle cx="513.86" cy="258.08" r="0.56"/><circle cx="514.75" cy="249.34" r="0.56"/><circle cx="515.63" cy="242.14" r="0.56"/><circle cx="516.52" cy="234.42" r="0.56"/><circle cx="517.41" cy="226.9" r="0.56"/><circle cx="518.3" cy="221.67" r="0.56"/><circle cx="519.2" cy="217.44" r="0.56"/><circle cx="520.09" cy="213.84" r="0.56"/><circle cx="520.98" cy="210.75" r="0.56"/><circle cx="521.87" cy="207.55" r="0.56"/><circle cx="522.75" cy="203.97" r="0.56"/><circle cx="523.64" cy="200.01" r="0.56"/><circle cx="524.53" cy="195.15" r="0.56"/><circle cx="525.42" cy="192.7" r="0.56"/><circle cx="526.32" cy="191.4" r="0.56"/><circle cx="527.21" cy="190.52" r="0.56"/><circle cx="528.1" cy="189.85" r="0.56"/><circle cx="528.99" cy="189.35" r="0.56"/><circle cx="529.88" cy="189.7" r="0.56"/><circle cx="530.76" cy="191.31" r="0.56"/><circle cx="531.65" cy="189.47" r="0.56"/><circle cx="532.54" cy="188.43" r="0.56"/><circle cx="533.43" cy="188.55" r="0.56"/><circle cx="534.33" cy="188.74" r="0.56"/><circle cx="535.22" cy="189.07" r="0.56"/><circle cx="536.11" cy="189.59" r="0.56"/><circle cx="537" cy="190.23" r="0.56"/><circle cx="537.88" cy="190.87" r="0.56"/><circle cx="538.77" cy="191.42" r="0.56"/><circle cx="539.66" cy="191.88" r="0.56"/><circle cx="540.55" cy="192.31" r="0.56"/><circle cx="541.45" cy="192.73" r="0.56"/><circle cx="542.34" cy="193.15" r="0.56"/><circle cx="543.23" cy="193.58" r="0.56"/><circle cx="544.12" cy="194.1" r="0.56"/><circle cx="545" cy="194.69" r="0.56"/><circle cx="545.89" cy="195.24" r="0.56"/><circle cx="546.78" cy="195.63" r="0.56"/><circle cx="547.67" cy="195.72" r="0.56"/><circle cx="548.57" cy="195.64" r="0.56"/><circle cx="549.46" cy="195.5" r="0.56"/><circle cx="550.35" cy="195.32" r="0.56"/><circle cx="551.24" cy="195.14" r="0.56"/><circle cx="552.12" cy="194.9" r="0.56"/><circle cx="553.01" cy="194.68" r="0.56"/><circle cx="553.9" cy="194.71" r="0.56"/><circle cx="554.79" cy="195.09" r="0.56"/><circle cx="555.68" cy="195.67" r="0.56"/><circle cx="556.58" cy="196.26" r="0.56"/><circle cx="557.47" cy="196.84" r="0.56"/><circle cx="558.36" cy="197.47" r="0.56"/><circle cx="559.25" cy="198.14" r="0.56"/><circle cx="560.13" cy="198.82" r="0.56"/><circle cx="561.02" cy="199.49" r="0.56"/><circle cx="561.91" cy="200.12" r="0.56"/><circle cx="562.8" cy="200.75" r="0.56"/><circle cx="563.7" cy="201.38" r="0.56"/><circle cx="564.59" cy="202.03" r="0.56"/><circle cx="565.48" cy="202.71" r="0.56"/><circle cx="566.37" cy="203.43" r="0.56"/><circle cx="567.25" cy="204.17" r="0.56"/><circle cx="568.14" cy="204.94" r="0.56"/><circle cx="569.03" cy="205.73" r="0.56"/><circle cx="569.92" cy="206.53" r="0.56"/><circle cx="570.81" cy="207.35" r="0.56"/><circle cx="571.71" cy="208.18" r="0.56"/><circle cx="572.6" cy="209.07" r="0.56"/><circle cx="573.49" cy="209.97" r="0.56"/><circle cx="574.38" cy="210.85" r="0.56"/><circle cx="575.26" cy="211.66" r="0.56"/><circle cx="576.15" cy="212.39" r="0.56"/><circle cx="577.04" cy="213.06" r="0.56"/><circle cx="577.94" cy="213.69" r="0.56"/><circle cx="578.83" cy="214.31" r="0.56"/><circle cx="579.72" cy="214.92" r="0.56"/><circle cx="580.61" cy="215.56" r="0.56"/><circle cx="581.5" cy="216.24" r="0.56"/><circle cx="582.38" cy="216.86" r="0.56"/><circle cx="583.27" cy="217.35" r="0.56"/><circle cx="584.16" cy="217.65" r="0.56"/><circle cx="585.05" cy="217.86" r="0.56"/><circle cx="585.95" cy="218.04" r="0.56"/><circle cx="586.84" cy="218.24" r="0.56"/><circle cx="587.73" cy="218.52" r="0.56"/><circle cx="588.62" cy="218.93" r="0.56"/><circle cx="589.5" cy="219.52" r="0.56"/><circle cx="590.39" cy="220.4" r="0.56"/><circle cx="591.28" cy="220.89" r="0.56"/><circle cx="592.17" cy="222.98" r="0.56"/><circle cx="593.06" cy="228.82" r="0.56"/><circle cx="593.96" cy="237.43" r="0.56"/><circle cx="594.85" cy="251.39" r="0.56"/><circle cx="595.74" cy="254.51" r="0.56"/><circle cx="596.62" cy="268.15" r="0.56"/><circle cx="597.51" cy="278.44" r="0.56"/><circle cx="598.4" cy="285.4" r="0.56"/><circle cx="599.29" cy="289.05" r="0.56"/><circle cx="600.19" cy="290.85" r="0.56"/><circle cx="601.08" cy="291.65" r="0.56"/><circle cx="601.97" cy="291.92" r="0.56"/><circle cx="602.86" cy="292.09" r="0.56"/><circle cx="603.75" cy="292.15" r="0.56"/><circle cx="604.63" cy="292.15" r="0.56"/><circle cx="605.52" cy="292.15" r="0.56"/><circle cx="606.64" cy="292.15" r="0.56"/><circle cx="607.75" cy="292.15" r="0.56"/><circle cx="608.86" cy="292.15" r="0.56"/><circle cx="609.98" cy="292.15" r="0.56"/><circle cx="611.09" cy="292.15" r="0.56"/><circle cx="612.2" cy="292.15" r="0.56"/><circle cx="613.31" cy="292.15" r="0.56"/><circle cx="614.42" cy="292.15" r="0.56"/><circle cx="615.54" cy="292.15" r="0.56"/><circle cx="616.65" cy="292.15" r="0.56"/><circle cx="617.76" cy="292.15" r="0.56"/><circle cx="618.88" cy="292.15" r="0.56"/><circle cx="619.99" cy="292.15" r="0.56"/><circle cx="621.1" cy="292.15" r="0.56"/><circle cx="622.21" cy="292.15" r="0.56"/><circle cx="623.33" cy="292.15" r="0.56"/><circle cx="624.44" cy="292.15" r="0.56"/><circle cx="625.55" cy="292.15" r="0.56"/><circle cx="626.66" cy="292.15" r="0.56"/><circle cx="627.77" cy="292.15" r="0.56"/><circle cx="628.89" cy="292.15" r="0.56"/><circle cx="630" cy="292.15" r="0.56"/><circle cx="631.11" cy="292.15" r="0.56"/><circle cx="632.23" cy="292.15" r="0.56"/><circle cx="633.34" cy="292.15" r="0.56"/><circle cx="634.45" cy="292.15" r="0.56"/><circle cx="635.56" cy="292.15" r="0.56"/><circle cx="636.67" cy="292.15" r="0.56"/><circle cx="637.79" cy="292.15" r="0.56"/><circle cx="638.9" cy="292.15" r="0.56"/><circle cx="640.01" cy="292.15" r="0.56"/><circle cx="641.12" cy="292.15" r="0.56"/><circle cx="642.24" cy="292.15" r="0.56"/><circle cx="643.35" cy="292.15" r="0.56"/><circle cx="644.46" cy="292.15" r="0.56"/><circle cx="645.58" cy="292.15" r="0.56"/><circle cx="646.69" cy="292.15" r="0.56"/><circle cx="647.8" cy="292.15" r="0.56"/><circle cx="648.91" cy="292.15" r="0.56"/><circle cx="650.02" cy="292.15" r="0.56"/><circle cx="651.14" cy="292.15" r="0.56"/><circle cx="652.25" cy="292.15" r="0.56"/><circle cx="653.36" cy="292.15" r="0.56"/><circle cx="654.48" cy="292.15" r="0.56"/><circle cx="655.59" cy="292.15" r="0.56"/><circle cx="656.7" cy="292.15" r="0.56"/><circle cx="657.81" cy="292.15" r="0.56"/><circle cx="658.93" cy="292.15" r="0.56"/><circle cx="660.04" cy="292.15" r="0.56"/><circle cx="661.15" cy="292.15" r="0.56"/><circle cx="662.26" cy="292.15" r="0.56"/><circle cx="663.38" cy="292.15" r="0.56"/><circle cx="664.49" cy="292.15" r="0.56"/><circle cx="665.6" cy="292.15" r="0.56"/><circle cx="666.71" cy="292.15" r="0.56"/><circle cx="667.82" cy="292.15" r="0.56"/><circle cx="668.94" cy="292.15" r="0.56"/><circle cx="670.05" cy="292.15" r="0.56"/><circle cx="671.16" cy="292.15" r="0.56"/><circle cx="672.27" cy="292.15" r="0.56"/></g>
</g>
<rect x="504.4" y="175.7" width="169.6" height="117.3" fill="none" stroke="#000" stroke-width="1.4"/>
<line x1="504.4" y1="293" x2="501.8" y2="293" stroke="#000" stroke-width="1.2" />
<line x1="504.4" y1="271.5" x2="501.8" y2="271.5" stroke="#000" stroke-width="1.2" />
<line x1="504.4" y1="250" x2="501.8" y2="250" stroke="#000" stroke-width="1.2" />
<line x1="504.4" y1="228.5" x2="501.8" y2="228.5" stroke="#000" stroke-width="1.2" />
<line x1="504.4" y1="207" x2="501.8" y2="207" stroke="#000" stroke-width="1.2" />
<line x1="504.4" y1="185.5" x2="501.8" y2="185.5" stroke="#000" stroke-width="1.2" />
<text x="501" y="297.3" font-size="11.5" text-anchor="end" fill="#000" font-family='"Liberation Sans", sans-serif' >0</text>
<text x="501" y="275.8" font-size="11.5" text-anchor="end" fill="#000" font-family='"Liberation Sans", sans-serif' >20</text>
<text x="501" y="254.3" font-size="11.5" text-anchor="end" fill="#000" font-family='"Liberation Sans", sans-serif' >40</text>
<text x="501" y="232.8" font-size="11.5" text-anchor="end" fill="#000" font-family='"Liberation Sans", sans-serif' >60</text>
<text x="501" y="211.3" font-size="11.5" text-anchor="end" fill="#000" font-family='"Liberation Sans", sans-serif' >80</text>
<text x="501" y="189.8" font-size="11.5" text-anchor="end" fill="#000" font-family='"Liberation Sans", sans-serif' >100</text>
<line x1="530.4" y1="293" x2="530.4" y2="295.6" stroke="#000" stroke-width="1.2" />
<line x1="574.9" y1="293" x2="574.9" y2="295.6" stroke="#000" stroke-width="1.2" />
<line x1="619.4" y1="293" x2="619.4" y2="295.6" stroke="#000" stroke-width="1.2" />
<line x1="663.9" y1="293" x2="663.9" y2="295.6" stroke="#000" stroke-width="1.2" />
<text x="530.4" y="306" font-size="11.5" text-anchor="middle" fill="#000" font-family='"Liberation Sans", sans-serif' >400</text>
<text x="574.9" y="306" font-size="11.5" text-anchor="middle" fill="#000" font-family='"Liberation Sans", sans-serif' >600</text>
<text x="619.4" y="306" font-size="11.5" text-anchor="middle" fill="#000" font-family='"Liberation Sans", sans-serif' >800</text>
<text x="663.9" y="306" font-size="11.5" text-anchor="middle" fill="#000" font-family='"Liberation Sans", sans-serif' >1000</text>
<text x="596.5" y="319.3" font-size="12" text-anchor="middle" fill="#000" font-family='"Liberation Sans", sans-serif' >Wavelength (nm)</text>
<text x="0" y="0" font-size="11.6" text-anchor="middle" fill="#000" font-family='"Liberation Sans", sans-serif' transform="translate(477.3,237.5) rotate(-90) translate(0,4.18)">EQE (%)</text>
<line x1="613" y1="183.6" x2="640.3" y2="183.6" stroke="#3d9a2b" stroke-width="1.4" />
<g fill="#ffffff" fill-opacity="0.4" stroke="#3d9a2b" stroke-width="1.1"><circle cx="626.6" cy="183.6" r="1.5"/></g>
<text x="643.3" y="187.7" font-size="11.5" text-anchor="start" fill="#000" font-family='"Liberation Sans", sans-serif' >NBG</text>
<line x1="613" y1="197.9" x2="640.3" y2="197.9" stroke="#ff2a8c" stroke-width="1.4" />
<g fill="#ffffff" fill-opacity="0.4" stroke="#ff2a8c" stroke-width="1.1"><circle cx="626.6" cy="197.9" r="1.5"/></g>
<text x="643.3" y="202" font-size="11.5" text-anchor="start" fill="#000" font-family='"Liberation Sans", sans-serif' >WBG</text>
<text x="521.2" y="241.4" font-size="11.6" fill="#222" font-family='"Liberation Serif", serif'>16.27 mA cm<tspan font-size="8" dy="-4.5">-2</tspan></text>
<text x="591.6" y="286" font-size="11.6" fill="#222" font-family='"Liberation Serif", serif'>15.67 mA cm<tspan font-size="8" dy="-4.5">-2</tspan></text>
<text x="9.8" y="332" font-size="22" stroke="#000" stroke-width="0.4" font-family='"Liberation Serif", serif'>g</text>
<clipPath id="cg"><rect x="38.5" y="338" width="634.3" height="139"/></clipPath>
<g clip-path="url(#cg)">
<polygon points="39,349 39.5,349.02 40,349.03 40.5,349.05 41,349.06 41.5,349.08 42,349.09 42.5,349.11 43,349.12 43.5,349.14 44,349.15 44.5,349.17 45,349.18 45.5,349.2 46,349.21 46.5,349.23 47,349.24 47.5,349.26 48,349.27 48.5,349.29 49,349.3 49.5,349.31 50,349.33 50.5,349.34 51,349.36 51.5,349.37 52,349.39 52.5,349.4 53,349.41 53.5,349.43 54,349.44 54.5,349.46 55,349.47 55.5,349.49 56,349.5 56.5,349.51 57,349.53 57.5,349.54 58,349.56 58.5,349.57 59,349.59 59.5,349.6 60,349.62 60.5,349.63 61,349.65 61.5,349.66 62,349.68 62.5,349.69 63,349.71 63.5,349.72 64,349.74 64.5,349.75 65,349.77 65.5,349.78 66,349.8 66.5,349.81 67,349.83 67.5,349.85 68,349.86 68.5,349.88 69,349.89 69.5,349.91 70,349.93 70.5,349.95 71,349.96 71.5,349.98 72,350 72.5,350.01 73,350.03 73.5,350.05 74,350.07 74.5,350.09 75,350.1 75.5,350.12 76,350.14 76.5,350.16 77,350.18 77.5,350.2 78,350.22 78.5,350.24 79,350.26 79.5,350.28 80,350.3 80.5,350.32 81,350.34 81.5,350.37 82,350.39 82.5,350.41 83,350.44 83.5,350.46 84,350.49 84.5,350.52 85,350.54 85.5,350.57 86,350.6 86.5,350.63 87,350.66 87.5,350.69 88,350.72 88.5,350.75 89,350.78 89.5,350.81 90,350.84 90.5,350.88 91,350.91 91.5,350.94 92,350.97 92.5,351 93,351.04 93.5,351.07 94,351.1 94.5,351.14 95,351.17 95.5,351.2 96,351.23 96.5,351.27 97,351.3 97.5,351.33 98,351.36 98.5,351.4 99,351.43 99.5,351.46 100,351.49 100.5,351.52 101,351.55 101.5,351.58 102,351.61 102.5,351.64 103,351.67 103.5,351.7 104,351.72 104.5,351.75 105,351.78 105.5,351.8 106,351.83 106.5,351.85 107,351.88 107.5,351.9 108,351.92 108.5,351.94 109,351.96 109.5,351.98 110,352 110.5,352.02 111,352.04 111.5,352.06 112,352.07 112.5,352.09 113,352.11 113.5,352.13 114,352.15 114.5,352.17 115,352.19 115.5,352.21 116,352.23 116.5,352.24 117,352.26 117.5,352.28 118,352.3 118.5,352.32 119,352.33 119.5,352.35 120,352.36 120.5,352.38 121,352.39 121.5,352.41 122,352.42 122.5,352.43 123,352.44 123.5,352.45 124,352.46 124.5,352.47 125,352.48 125.5,352.48 126,352.49 126.5,352.49 127,352.5 127.5,352.5 128,352.5 128.5,352.44 129,352.29 129.5,352.07 130,351.8 130.5,351.5 131,351.2 131.5,350.93 132,350.71 132.5,350.56 133,350.5 133.5,350.5 134,350.5 134.5,350.5 135,350.5 135.5,350.5 136,350.5 136.5,350.5 137,350.5 137.5,350.5 138,350.5 138.5,350.5 139,350.5 139.5,350.5 140,350.5 140.5,350.5 141,350.5 141.5,350.5 142,350.5 142.5,350.5 143,350.5 143.5,350.5 144,350.5 144.5,350.5 145,350.5 145.5,350.5 146,350.5 146.5,350.5 147,350.5 147.5,350.5 148,350.5 148.5,350.5 149,350.5 149.5,350.5 150,350.5 150.5,350.5 151,350.5 151.5,350.5 152,350.5 152.5,350.5 153,350.5 153.5,350.5 154,350.5 154.5,350.5 155,350.5 155.5,350.5 156,350.5 156.5,350.5 157,350.5 157.5,350.5 158,350.5 158.5,350.5 159,350.5 159.5,350.5 160,350.5 160.5,350.5 161,350.5 161.5,350.5 162,350.5 162.5,350.5 163,350.5 163.5,350.5 164,350.5 164.5,350.5 165,350.5 165.5,350.5 166,350.5 166.5,350.5 167,350.5 167.5,350.5 168,350.5 168.5,350.5 169,350.5 169.5,350.5 170,350.5 170.5,350.5 171,350.5 171.5,350.5 172,350.5 172.5,350.5 173,350.5 173.5,350.5 174,350.5 174.5,350.5 175,350.5 175.5,350.5 176,350.5 176.5,350.5 177,350.5 177.5,350.5 178,350.5 178.5,350.5 179,350.5 179.5,350.5 180,350.5 180.5,350.5 181,350.5 181.5,350.5 182,350.5 182.5,350.5 183,350.5 183.5,350.5 184,350.5 184.5,350.5 185,350.5 185.5,350.5 186,350.5 186.5,350.5 187,350.5 187.5,350.5 188,350.5 188.5,350.5 189,350.5 189.5,350.5 190,350.5 190.5,350.5 191,350.5 191.5,350.5 192,350.5 192.5,350.5 193,350.5 193.5,350.5 194,350.5 194.5,350.5 195,350.5 195.5,350.5 196,350.5 196.5,350.5 197,350.5 197.5,350.5 198,350.5 198.5,350.5 199,350.5 199.5,350.5 200,350.5 200.5,350.5 201,350.5 201.5,350.5 202,350.5 202.5,350.5 203,350.5 203.5,350.5 204,350.5 204.5,350.5 205,350.5 205.5,350.5 206,350.5 206.5,350.5 207,350.5 207.5,350.5 208,350.5 208.5,350.5 209,350.5 209.5,350.5 210,350.5 210.5,350.5 211,350.5 211.5,350.5 212,350.5 212.5,350.5 213,350.5 213.5,350.5 214,350.5 214.5,350.5 215,350.5 215.5,350.5 216,350.5 216.5,350.5 217,350.5 217.5,350.5 218,350.5 218.5,350.5 219,350.5 219.5,350.5 220,350.5 220.5,350.5 221,350.5 221.5,350.5 222,350.5 222.5,350.5 223,350.5 223.5,350.5 224,350.5 224.5,350.5 225,350.5 225.5,350.5 226,350.5 226.5,350.5 227,350.5 227.5,350.5 228,350.5 228.5,350.5 229,350.5 229.5,350.5 230,350.5 230.5,350.5 231,350.5 231.5,350.5 232,350.5 232.5,350.5 233,350.5 233.5,350.5 234,350.5 234.5,350.5 235,350.5 235.5,350.5 236,350.5 236.5,350.5 237,350.5 237.5,350.5 238,350.5 238.5,350.5 239,350.5 239.5,350.5 240,350.5 240.5,350.5 241,350.5 241.5,350.5 242,350.5 242.5,350.5 243,350.5 243.5,350.5 244,350.5 244.5,350.5 245,350.5 245.5,350.5 246,350.5 246.5,350.5 247,350.5 247.5,350.5 248,350.5 248.5,350.5 249,350.5 249.5,350.5 249.5,366 249,366 248.5,366.21 248,366.45 247.5,366.69 247,366.94 246.5,367.16 246,367.34 245.5,367.46 245,367.5 244.5,367.5 244,367.5 243.5,367.5 243,367.5 242.5,367.5 242,367.5 241.5,367.5 241,367.5 240.5,367.5 240,367.5 239.5,367.5 239,367.5 238.5,367.5 238,367.5 237.5,367.5 237,367.5 236.5,367.5 236,367.5 235.5,367.5 235,367.5 234.5,367.5 234,367.5 233.5,367.5 233,367.5 232.5,367.5 232,367.5 231.5,367.5 231,367.5 230.5,367.5 230,367.5 229.5,367.5 229,367.5 228.5,367.49 228,367.49 227.5,367.48 227,367.47 226.5,367.46 226,367.45 225.5,367.44 225,367.43 224.5,367.41 224,367.4 223.5,367.38 223,367.36 222.5,367.34 222,367.32 221.5,367.3 221,367.28 220.5,367.26 220,367.24 219.5,367.22 219,367.2 218.5,367.17 218,367.15 217.5,367.12 217,367.1 216.5,367.07 216,367.05 215.5,367.02 215,367 214.5,366.98 214,366.95 213.5,366.93 213,366.9 212.5,366.88 212,366.85 211.5,366.83 211,366.8 210.5,366.78 210,366.76 209.5,366.74 209,366.72 208.5,366.7 208,366.68 207.5,366.66 207,366.64 206.5,366.62 206,366.6 205.5,366.59 205,366.57 204.5,366.56 204,366.55 203.5,366.54 203,366.53 202.5,366.52 202,366.51 201.5,366.51 201,366.5 200.5,366.5 200,366.5 199.5,366.5 199,366.5 198.5,366.5 198,366.5 197.5,366.5 197,366.5 196.5,366.5 196,366.5 195.5,366.5 195,366.5 194.5,366.5 194,366.5 193.5,366.5 193,366.5 192.5,366.5 192,366.5 191.5,366.5 191,366.5 190.5,366.5 190,366.5 189.5,366.5 189,366.5 188.5,366.5 188,366.5 187.5,366.5 187,366.5 186.5,366.5 186,366.5 185.5,366.5 185,366.5 184.5,366.5 184,366.5 183.5,366.5 183,366.5 182.5,366.5 182,366.5 181.5,366.5 181,366.5 180.5,366.5 180,366.5 179.5,366.5 179,366.5 178.5,366.5 178,366.5 177.5,366.5 177,366.5 176.5,366.5 176,366.5 175.5,366.5 175,366.5 174.5,366.5 174,366.5 173.5,366.49 173,366.48 172.5,366.47 172,366.46 171.5,366.45 171,366.43 170.5,366.41 170,366.39 169.5,366.37 169,366.35 168.5,366.32 168,366.3 167.5,366.27 167,366.24 166.5,366.21 166,366.18 165.5,366.15 165,366.11 164.5,366.08 164,366.05 163.5,366.01 163,365.97 162.5,365.94 162,365.9 161.5,365.86 161,365.82 160.5,365.78 160,365.74 159.5,365.7 159,365.66 158.5,365.62 158,365.58 157.5,365.54 157,365.5 156.5,365.46 156,365.42 155.5,365.38 155,365.35 154.5,365.31 154,365.27 153.5,365.23 153,365.2 152.5,365.16 152,365.13 151.5,365.09 151,365.06 150.5,365.03 150,365 149.5,364.97 149,364.94 148.5,364.9 148,364.87 147.5,364.83 147,364.8 146.5,364.76 146,364.72 145.5,364.68 145,364.64 144.5,364.6 144,364.57 143.5,364.53 143,364.49 142.5,364.45 142,364.41 141.5,364.37 141,364.34 140.5,364.3 140,364.27 139.5,364.24 139,364.2 138.5,364.17 138,364.15 137.5,364.12 137,364.1 136.5,364.08 136,364.06 135.5,364.04 135,364.03 134.5,364.01 134,364.01 133.5,364 133,364 132.5,364.01 132,364.04 131.5,364.08 131,364.14 130.5,364.2 130,364.28 129.5,364.37 129,364.46 128.5,364.55 128,364.64 127.5,364.74 127,364.83 126.5,364.92 126,365 125.5,365.08 125,365.16 124.5,365.24 124,365.33 123.5,365.41 123,365.5 122.5,365.58 122,365.67 121.5,365.75 121,365.84 120.5,365.92 120,366 119.5,366.08 119,366.16 118.5,366.23 118,366.31 117.5,366.39 117,366.46 116.5,366.54 116,366.61 115.5,366.69 115,366.76 114.5,366.83 114,366.91 113.5,366.98 113,367.06 112.5,367.13 112,367.2 111.5,367.28 111,367.35 110.5,367.43 110,367.5 109.5,367.58 109,367.66 108.5,367.75 108,367.84 107.5,367.93 107,368.02 106.5,368.12 106,368.21 105.5,368.3 105,368.39 104.5,368.48 104,368.57 103.5,368.64 103,368.72 102.5,368.79 102,368.85 101.5,368.9 101,368.94 100.5,368.98 100,369 99.5,369.02 99,369.03 98.5,369.05 98,369.07 97.5,369.08 97,369.1 96.5,369.11 96,369.12 95.5,369.13 95,369.14 94.5,369.15 94,369.16 93.5,369.17 93,369.18 92.5,369.19 92,369.19 91.5,369.19 91,369.2 90.5,369.2 90,369.2 89.5,369.2 89,369.19 88.5,369.19 88,369.18 87.5,369.16 87,369.15 86.5,369.13 86,369.11 85.5,369.08 85,369.06 84.5,369.03 84,369 83.5,368.97 83,368.93 82.5,368.9 82,368.86 81.5,368.82 81,368.78 80.5,368.74 80,368.69 79.5,368.65 79,368.6 78.5,368.55 78,368.51 77.5,368.46 77,368.41 76.5,368.36 76,368.3 75.5,368.25 75,368.2 74.5,368.14 74,368.07 73.5,367.99 73,367.89 72.5,367.79 72,367.68 71.5,367.56 71,367.43 70.5,367.3 70,367.16 69.5,367.02 69,366.87 68.5,366.72 68,366.57 67.5,366.41 67,366.26 66.5,366.1 66,365.95 65.5,365.8 65,365.65 64.5,365.51 64,365.36 63.5,365.23 63,365.1 62.5,364.98 62,364.86 61.5,364.76 61,364.66 60.5,364.58 60,364.5 59.5,364.43 59,364.37 58.5,364.31 58,364.26 57.5,364.2 57,364.15 56.5,364.11 56,364.06 55.5,364.01 55,363.97 54.5,363.93 54,363.88 53.5,363.84 53,363.8 52.5,363.75 52,363.71 51.5,363.66 51,363.61 50.5,363.56 50,363.5 49.5,363.44 49,363.38 48.5,363.32 48,363.26 47.5,363.19 47,363.12 46.5,363.06 46,362.99 45.5,362.92 45,362.85 44.5,362.78 44,362.71 43.5,362.64 43,362.57 42.5,362.49 42,362.42 41.5,362.35 41,362.28 40.5,362.21 40,362.14 39.5,362.07 39,362" fill="#3d9a2b"/>
<g fill="#3d9a2b"><circle cx="40" cy="360.27" r="2.6"/><circle cx="42.6" cy="359.72" r="2.6"/><circle cx="45.2" cy="360.74" r="2.6"/><circle cx="47.8" cy="361.56" r="2.6"/><circle cx="50.4" cy="360.92" r="2.6"/><circle cx="53" cy="361.24" r="2.6"/><circle cx="55.6" cy="361.95" r="2.6"/><circle cx="58.2" cy="362.09" r="2.6"/><circle cx="60.8" cy="362.6" r="2.6"/><circle cx="63.4" cy="363.38" r="2.6"/><circle cx="66" cy="363.36" r="2.6"/><circle cx="68.6" cy="364.32" r="2.6"/><circle cx="71.2" cy="365.05" r="2.6"/><circle cx="73.8" cy="365.3" r="2.6"/><circle cx="76.4" cy="366.61" r="2.6"/><circle cx="79" cy="366.74" r="2.6"/><circle cx="81.6" cy="366.89" r="2.6"/><circle cx="84.2" cy="366.22" r="2.6"/><circle cx="86.8" cy="367.35" r="2.6"/><circle cx="89.4" cy="367.29" r="2.6"/><circle cx="92" cy="366.95" r="2.6"/><circle cx="94.6" cy="367.24" r="2.6"/><circle cx="97.2" cy="366.83" r="2.6"/><circle cx="99.8" cy="366.48" r="2.6"/><circle cx="102.4" cy="366.13" r="2.6"/><circle cx="105" cy="365.87" r="2.6"/><circle cx="107.6" cy="365.16" r="2.6"/><circle cx="110.2" cy="365.07" r="2.6"/><circle cx="112.8" cy="365.18" r="2.6"/><circle cx="115.4" cy="364.74" r="2.6"/><circle cx="118" cy="364.53" r="2.6"/><circle cx="120.6" cy="363.96" r="2.6"/><circle cx="123.2" cy="362.98" r="2.6"/><circle cx="125.8" cy="362.9" r="2.6"/><circle cx="128.4" cy="362.29" r="2.6"/><circle cx="131" cy="362.28" r="2.6"/><circle cx="133.6" cy="361.83" r="2.6"/><circle cx="136.2" cy="361.58" r="2.6"/><circle cx="138.8" cy="362.16" r="2.6"/><circle cx="141.4" cy="362.72" r="2.6"/><circle cx="144" cy="362.03" r="2.6"/><circle cx="146.6" cy="363.02" r="2.6"/><circle cx="149.2" cy="362.17" r="2.6"/><circle cx="151.8" cy="362.63" r="2.6"/><circle cx="154.4" cy="362.78" r="2.6"/><circle cx="157" cy="363.6" r="2.6"/><circle cx="159.6" cy="364.04" r="2.6"/><circle cx="162.2" cy="364.01" r="2.6"/><circle cx="164.8" cy="363.69" r="2.6"/><circle cx="167.4" cy="364.52" r="2.6"/><circle cx="170" cy="363.99" r="2.6"/><circle cx="172.6" cy="363.96" r="2.6"/><circle cx="175.2" cy="364.79" r="2.6"/><circle cx="177.8" cy="364.46" r="2.6"/><circle cx="180.4" cy="364.53" r="2.6"/><circle cx="183" cy="364.5" r="2.6"/><circle cx="185.6" cy="364.87" r="2.6"/><circle cx="188.2" cy="364.26" r="2.6"/><circle cx="190.8" cy="364.71" r="2.6"/><circle cx="193.4" cy="364.54" r="2.6"/><circle cx="196" cy="364.73" r="2.6"/><circle cx="198.6" cy="364.22" r="2.6"/><circle cx="201.2" cy="364.57" r="2.6"/><circle cx="203.8" cy="364.43" r="2.6"/><circle cx="206.4" cy="364.19" r="2.6"/><circle cx="209" cy="364.17" r="2.6"/><circle cx="211.6" cy="364.78" r="2.6"/><circle cx="214.2" cy="364.25" r="2.6"/><circle cx="216.8" cy="365.38" r="2.6"/><circle cx="219.4" cy="364.59" r="2.6"/><circle cx="222" cy="364.56" r="2.6"/><circle cx="224.6" cy="364.74" r="2.6"/><circle cx="227.2" cy="365.79" r="2.6"/><circle cx="229.8" cy="365.11" r="2.6"/><circle cx="232.4" cy="364.87" r="2.6"/><circle cx="235" cy="364.73" r="2.6"/><circle cx="237.6" cy="364.75" r="2.6"/><circle cx="240.2" cy="365.53" r="2.6"/><circle cx="242.8" cy="365.46" r="2.6"/><circle cx="245.4" cy="365.51" r="2.6"/><circle cx="248" cy="364.53" r="2.6"/></g>
<line x1="129.2" y1="352" x2="129.2" y2="376.5" stroke="#3d9a2b" stroke-width="4.8" stroke-linecap="round"/>
<g fill="#fff" fill-opacity="0.8"><circle cx="55.4" cy="355.0" r="0.78"/><circle cx="208.8" cy="356.4" r="1.05"/><circle cx="55.5" cy="356.7" r="1.06"/><circle cx="234.6" cy="352.1" r="0.70"/><circle cx="64.8" cy="351.7" r="1.02"/><circle cx="207.7" cy="355.3" r="1.01"/><circle cx="170.8" cy="353.2" r="0.65"/><circle cx="62.0" cy="356.0" r="0.70"/><circle cx="107.1" cy="354.0" r="0.61"/><circle cx="94.4" cy="353.2" r="0.96"/><circle cx="117.1" cy="353.4" r="1.08"/><circle cx="144.8" cy="356.6" r="0.91"/><circle cx="48.3" cy="354.0" r="0.82"/><circle cx="199.7" cy="353.6" r="0.95"/><circle cx="151.7" cy="352.8" r="1.03"/><circle cx="60.5" cy="356.4" r="0.69"/><circle cx="42.3" cy="352.7" r="0.98"/><circle cx="241.5" cy="351.5" r="0.85"/><circle cx="142.3" cy="356.3" r="0.69"/><circle cx="142.9" cy="353.6" r="1.02"/><circle cx="95.2" cy="357.2" r="0.74"/><circle cx="85.8" cy="355.7" r="0.85"/><circle cx="64.4" cy="355.3" r="0.64"/><circle cx="202.7" cy="355.7" r="0.99"/><circle cx="170.1" cy="353.6" r="0.80"/><circle cx="122.5" cy="356.8" r="0.64"/><circle cx="223.2" cy="351.7" r="0.70"/><circle cx="95.7" cy="356.9" r="0.85"/><circle cx="119.4" cy="356.8" r="0.72"/><circle cx="136.0" cy="354.7" r="0.98"/><circle cx="195.6" cy="355.4" r="0.77"/><circle cx="108.6" cy="352.4" r="1.02"/><circle cx="177.1" cy="356.0" r="0.68"/><circle cx="160.2" cy="352.3" r="0.83"/><circle cx="222.6" cy="352.9" r="0.70"/><circle cx="103.5" cy="355.7" r="1.02"/><circle cx="73.5" cy="352.4" r="0.72"/><circle cx="108.6" cy="354.6" r="0.68"/><circle cx="108.9" cy="352.6" r="1.09"/><circle cx="190.7" cy="352.1" r="1.08"/><circle cx="62.7" cy="353.8" r="1.09"/><circle cx="204.2" cy="355.9" r="0.82"/><circle cx="82.0" cy="355.3" r="0.65"/><circle cx="84.1" cy="353.8" r="0.62"/><circle cx="123.4" cy="356.2" r="0.95"/><circle cx="144.1" cy="355.3" r="0.83"/><circle cx="70.9" cy="355.1" r="0.80"/><circle cx="193.2" cy="356.9" r="0.82"/><circle cx="159.1" cy="356.0" r="0.81"/><circle cx="88.6" cy="355.8" r="1.04"/><circle cx="199.9" cy="355.7" r="1.03"/><circle cx="180.6" cy="355.3" r="0.83"/><circle cx="105.9" cy="355.3" r="0.65"/><circle cx="187.5" cy="355.3" r="0.73"/><circle cx="168.8" cy="354.0" r="0.94"/><circle cx="231.8" cy="352.6" r="0.93"/><circle cx="200.7" cy="353.8" r="0.84"/><circle cx="240.8" cy="351.7" r="0.87"/><circle cx="74.8" cy="356.2" r="1.07"/><circle cx="147.9" cy="352.1" r="0.89"/><circle cx="152.4" cy="355.8" r="0.86"/><circle cx="172.4" cy="356.5" r="0.86"/><circle cx="125.7" cy="357.2" r="0.71"/><circle cx="181.6" cy="353.9" r="0.98"/><circle cx="67.0" cy="357.4" r="0.78"/><circle cx="53.6" cy="353.1" r="0.80"/><circle cx="44.7" cy="354.0" r="0.81"/><circle cx="184.4" cy="353.6" r="0.73"/><circle cx="87.8" cy="355.9" r="1.07"/><circle cx="149.5" cy="352.8" r="1.00"/><circle cx="122.0" cy="352.8" r="0.66"/><circle cx="200.4" cy="356.4" r="0.92"/><circle cx="137.7" cy="354.9" r="0.71"/><circle cx="238.6" cy="353.6" r="0.92"/><circle cx="209.0" cy="356.4" r="0.83"/><circle cx="102.0" cy="354.8" r="0.66"/><circle cx="212.1" cy="353.6" r="1.03"/><circle cx="96.6" cy="353.8" r="0.73"/><circle cx="42.5" cy="355.8" r="0.74"/><circle cx="92.0" cy="353.3" r="0.84"/><circle cx="176.5" cy="353.7" r="1.06"/><circle cx="216.3" cy="351.8" r="1.01"/><circle cx="226.8" cy="356.2" r="0.67"/><circle cx="211.6" cy="355.3" r="0.61"/><circle cx="44.3" cy="357.2" r="0.93"/><circle cx="93.0" cy="352.1" r="0.67"/><circle cx="89.7" cy="356.2" r="0.77"/><circle cx="73.1" cy="356.9" r="1.00"/><circle cx="76.3" cy="356.8" r="0.90"/><circle cx="201.4" cy="355.5" r="1.05"/><circle cx="202.8" cy="356.5" r="0.70"/><circle cx="183.3" cy="354.7" r="0.97"/><circle cx="155.2" cy="353.1" r="0.72"/><circle cx="70.4" cy="354.5" r="0.63"/><circle cx="137.3" cy="352.4" r="0.85"/><circle cx="143.6" cy="354.7" r="1.03"/><circle cx="43.3" cy="356.5" r="0.83"/><circle cx="156.8" cy="355.5" r="1.02"/><circle cx="118.5" cy="354.0" r="1.08"/><circle cx="57.4" cy="355.3" r="0.92"/><circle cx="47.8" cy="355.2" r="0.94"/><circle cx="232.0" cy="353.5" r="1.09"/><circle cx="146.2" cy="354.4" r="1.05"/><circle cx="48.9" cy="355.8" r="0.91"/><circle cx="111.1" cy="356.7" r="0.78"/><circle cx="138.8" cy="354.7" r="0.99"/><circle cx="85.0" cy="354.1" r="0.81"/><circle cx="155.0" cy="356.5" r="0.75"/><circle cx="210.9" cy="353.9" r="0.85"/><circle cx="97.4" cy="354.5" r="1.09"/><circle cx="175.5" cy="356.3" r="0.77"/><circle cx="106.7" cy="353.3" r="0.89"/><circle cx="171.5" cy="356.2" r="0.62"/><circle cx="189.4" cy="356.8" r="0.87"/><circle cx="52.1" cy="353.3" r="0.60"/><circle cx="80.7" cy="357.0" r="0.90"/><circle cx="176.2" cy="356.2" r="1.05"/><circle cx="166.8" cy="355.2" r="0.91"/><circle cx="184.1" cy="355.1" r="0.94"/><circle cx="85.4" cy="355.5" r="0.83"/><circle cx="197.6" cy="352.1" r="0.69"/><circle cx="49.5" cy="356.1" r="1.06"/><circle cx="175.8" cy="353.7" r="1.01"/><circle cx="202.5" cy="354.9" r="0.73"/><circle cx="103.6" cy="354.0" r="0.76"/><circle cx="232.5" cy="351.8" r="0.88"/><circle cx="50.0" cy="352.2" r="1.01"/><circle cx="159.4" cy="357.0" r="0.82"/><circle cx="44.9" cy="353.8" r="0.90"/><circle cx="233.3" cy="357.4" r="0.84"/><circle cx="173.5" cy="352.8" r="0.68"/><circle cx="45.2" cy="351.5" r="0.94"/><circle cx="66.8" cy="357.3" r="0.64"/><circle cx="219.4" cy="352.3" r="0.61"/><circle cx="188.7" cy="353.0" r="0.97"/><circle cx="80.2" cy="351.8" r="0.99"/><circle cx="187.6" cy="356.6" r="0.96"/><circle cx="59.2" cy="355.3" r="0.95"/><circle cx="136.0" cy="357.1" r="0.73"/><circle cx="238.7" cy="355.8" r="0.61"/><circle cx="45.0" cy="355.4" r="1.01"/><circle cx="58.3" cy="353.4" r="0.96"/><circle cx="75.9" cy="356.7" r="0.84"/><circle cx="54.2" cy="353.7" r="0.89"/><circle cx="71.6" cy="356.3" r="0.78"/><circle cx="173.6" cy="355.3" r="0.81"/><circle cx="120.7" cy="356.2" r="1.07"/><circle cx="202.1" cy="354.9" r="0.75"/><circle cx="54.4" cy="357.3" r="0.95"/><circle cx="210.8" cy="353.5" r="0.90"/><circle cx="241.4" cy="356.5" r="0.90"/><circle cx="105.0" cy="354.1" r="1.04"/><circle cx="118.8" cy="355.6" r="0.90"/><circle cx="224.8" cy="356.3" r="0.74"/><circle cx="42.3" cy="353.1" r="0.81"/><circle cx="161.7" cy="356.4" r="1.04"/><circle cx="50.6" cy="356.5" r="1.01"/><circle cx="218.9" cy="354.9" r="0.74"/><circle cx="215.6" cy="356.3" r="0.94"/><circle cx="228.4" cy="353.6" r="0.64"/><circle cx="154.9" cy="356.3" r="0.70"/><circle cx="195.0" cy="357.1" r="0.72"/><circle cx="165.8" cy="355.6" r="0.83"/><circle cx="84.1" cy="353.0" r="0.98"/><circle cx="203.5" cy="354.3" r="0.64"/><circle cx="206.5" cy="356.1" r="0.72"/><circle cx="160.2" cy="356.9" r="1.04"/><circle cx="148.5" cy="354.4" r="0.89"/><circle cx="80.6" cy="352.7" r="0.69"/><circle cx="185.0" cy="353.7" r="0.88"/><circle cx="124.1" cy="354.6" r="0.67"/><circle cx="51.1" cy="357.5" r="0.79"/><circle cx="63.6" cy="355.3" r="0.99"/><circle cx="73.9" cy="355.1" r="0.77"/><circle cx="148.0" cy="351.6" r="0.62"/><circle cx="244.0" cy="356.7" r="0.84"/><circle cx="157.7" cy="353.1" r="0.99"/><circle cx="198.5" cy="356.4" r="1.08"/><circle cx="93.8" cy="351.7" r="0.70"/><circle cx="78.9" cy="352.0" r="0.63"/><circle cx="155.7" cy="356.7" r="0.83"/><circle cx="235.2" cy="357.0" r="0.63"/><circle cx="164.0" cy="353.9" r="0.66"/><circle cx="237.7" cy="353.0" r="0.88"/><circle cx="172.7" cy="357.2" r="0.93"/><circle cx="122.2" cy="354.2" r="0.68"/><circle cx="239.0" cy="357.5" r="0.71"/><circle cx="49.9" cy="353.0" r="0.78"/><circle cx="226.2" cy="356.9" r="1.02"/><circle cx="51.6" cy="356.2" r="0.95"/></g>
<polygon points="39,338 656,338 656,352.5 655.5,352.5 655,352.5 654.5,352.5 654,352.5 653.5,352.5 653,352.5 652.5,352.5 652,352.5 651.5,352.5 651,352.5 650.5,352.5 650,352.5 649.5,352.5 649,352.5 648.5,352.5 648,352.5 647.5,352.5 647,352.5 646.5,352.5 646,352.5 645.5,352.5 645,352.5 644.5,352.5 644,352.5 643.5,352.5 643,352.5 642.5,352.5 642,352.5 641.5,352.5 641,352.5 640.5,352.5 640,352.5 639.5,352.5 639,352.5 638.5,352.5 638,352.5 637.5,352.5 637,352.5 636.5,352.5 636,352.5 635.5,352.5 635,352.5 634.5,352.5 634,352.5 633.5,352.5 633,352.5 632.5,352.5 632,352.5 631.5,352.5 631,352.5 630.5,352.5 630,352.5 629.5,352.5 629,352.5 628.5,352.5 628,352.5 627.5,352.5 627,352.5 626.5,352.5 626,352.5 625.5,352.5 625,352.5 624.5,352.5 624,352.5 623.5,352.5 623,352.5 622.5,352.5 622,352.5 621.5,352.5 621,352.5 620.5,352.5 620,352.5 619.5,352.5 619,352.5 618.5,352.5 618,352.5 617.5,352.5 617,352.5 616.5,352.5 616,352.5 615.5,352.5 615,352.5 614.5,352.5 614,352.5 613.5,352.5 613,352.5 612.5,352.5 612,352.5 611.5,352.5 611,352.5 610.5,352.5 610,352.5 609.5,352.5 609,352.5 608.5,352.5 608,352.5 607.5,352.5 607,352.5 606.5,352.5 606,352.5 605.5,352.5 605,352.5 604.5,352.5 604,352.5 603.5,352.5 603,352.5 602.5,352.5 602,352.5 601.5,352.5 601,352.5 600.5,352.5 600,352.5 599.5,352.5 599,352.5 598.5,352.5 598,352.5 597.5,352.5 597,352.5 596.5,352.5 596,352.5 595.5,352.5 595,352.5 594.5,352.5 594,352.5 593.5,352.5 593,352.5 592.5,352.5 592,352.5 591.5,352.5 591,352.5 590.5,352.5 590,352.5 589.5,352.5 589,352.5 588.5,352.5 588,352.5 587.5,352.5 587,352.5 586.5,352.5 586,352.5 585.5,352.5 585,352.5 584.5,352.5 584,352.5 583.5,352.5 583,352.5 582.5,352.5 582,352.5 581.5,352.5 581,352.5 580.5,352.5 580,352.5 579.5,352.5 579,352.5 578.5,352.5 578,352.5 577.5,352.5 577,352.5 576.5,352.5 576,352.5 575.5,352.5 575,352.5 574.5,352.5 574,352.5 573.5,352.5 573,352.5 572.5,352.5 572,352.5 571.5,352.5 571,352.5 570.5,352.5 570,352.5 569.5,352.5 569,352.5 568.5,352.5 568,352.5 567.5,352.5 567,352.5 566.5,352.5 566,352.5 565.5,352.5 565,352.5 564.5,352.5 564,352.5 563.5,352.5 563,352.5 562.5,352.5 562,352.5 561.5,352.5 561,352.5 560.5,352.5 560,352.5 559.5,352.5 559,352.5 558.5,352.5 558,352.5 557.5,352.5 557,352.5 556.5,352.5 556,352.5 555.5,352.5 555,352.5 554.5,352.5 554,352.5 553.5,352.5 553,352.5 552.5,352.5 552,352.5 551.5,352.5 551,352.5 550.5,352.5 550,352.5 549.5,352.5 549,352.5 548.5,352.5 548,352.5 547.5,352.5 547,352.5 546.5,352.5 546,352.5 545.5,352.5 545,352.5 544.5,352.5 544,352.5 543.5,352.5 543,352.5 542.5,352.5 542,352.5 541.5,352.5 541,352.5 540.5,352.5 540,352.5 539.5,352.5 539,352.5 538.5,352.5 538,352.5 537.5,352.5 537,352.5 536.5,352.5 536,352.5 535.5,352.5 535,352.5 534.5,352.5 534,352.5 533.5,352.5 533,352.5 532.5,352.5 532,352.5 531.5,352.5 531,352.5 530.5,352.5 530,352.5 529.5,352.5 529,352.5 528.5,352.5 528,352.5 527.5,352.5 527,352.5 526.5,352.5 526,352.5 525.5,352.5 525,352.5 524.5,352.5 524,352.5 523.5,352.5 523,352.5 522.5,352.5 522,352.5 521.5,352.5 521,352.5 520.5,352.5 520,352.5 519.5,352.5 519,352.5 518.5,352.5 518,352.5 517.5,352.5 517,352.5 516.5,352.5 516,352.5 515.5,352.5 515,352.5 514.5,352.5 514,352.5 513.5,352.5 513,352.5 512.5,352.5 512,352.5 511.5,352.5 511,352.5 510.5,352.5 510,352.5 509.5,352.5 509,352.5 508.5,352.5 508,352.5 507.5,352.5 507,352.5 506.5,352.5 506,352.5 505.5,352.5 505,352.5 504.5,352.5 504,352.5 503.5,352.5 503,352.5 502.5,352.5 502,352.5 501.5,352.5 501,352.5 500.5,352.5 500,352.5 499.5,352.5 499,352.5 498.5,352.5 498,352.5 497.5,352.5 497,352.5 496.5,352.5 496,352.5 495.5,352.5 495,352.5 494.5,352.5 494,352.5 493.5,352.5 493,352.5 492.5,352.5 492,352.5 491.5,352.5 491,352.5 490.5,352.5 490,352.5 489.5,352.5 489,352.5 488.5,352.5 488,352.5 487.5,352.5 487,352.5 486.5,352.5 486,352.5 485.5,352.5 485,352.5 484.5,352.5 484,352.5 483.5,352.5 483,352.5 482.5,352.5 482,352.5 481.5,352.5 481,352.5 480.5,352.5 480,352.5 479.5,352.5 479,352.5 478.5,352.5 478,352.5 477.5,352.5 477,352.5 476.5,352.5 476,352.5 475.5,352.5 475,352.5 474.5,352.5 474,352.5 473.5,352.5 473,352.5 472.5,352.5 472,352.5 471.5,352.5 471,352.5 470.5,352.5 470,352.5 469.5,352.5 469,352.5 468.5,352.5 468,352.5 467.5,352.5 467,352.5 466.5,352.5 466,352.5 465.5,352.5 465,352.5 464.5,352.5 464,352.5 463.5,352.5 463,352.5 462.5,352.5 462,352.5 461.5,352.5 461,352.5 460.5,352.5 460,352.5 459.5,352.5 459,352.5 458.5,352.5 458,352.5 457.5,352.5 457,352.5 456.5,352.5 456,352.5 455.5,352.5 455,352.5 454.5,352.5 454,352.5 453.5,352.5 453,352.5 452.5,352.5 452,352.5 451.5,352.5 451,352.5 450.5,352.5 450,352.5 449.5,352.5 449,352.5 448.5,352.5 448,352.5 447.5,352.5 447,352.5 446.5,352.5 446,352.5 445.5,352.5 445,352.5 444.5,352.5 444,352.5 443.5,352.5 443,352.5 442.5,352.5 442,352.5 441.5,352.5 441,352.5 440.5,352.5 440,352.5 439.5,352.5 439,352.5 438.5,352.5 438,352.5 437.5,352.5 437,352.5 436.5,352.5 436,352.5 435.5,352.5 435,352.5 434.5,352.5 434,352.5 433.5,352.5 433,352.5 432.5,352.5 432,352.5 431.5,352.5 431,352.5 430.5,352.5 430,352.5 429.5,352.5 429,352.5 428.5,352.5 428,352.5 427.5,352.5 427,352.5 426.5,352.5 426,352.5 425.5,352.5 425,352.5 424.5,352.5 424,352.5 423.5,352.5 423,352.5 422.5,352.5 422,352.5 421.5,352.5 421,352.5 420.5,352.5 420,352.5 419.5,352.5 419,352.5 418.5,352.5 418,352.5 417.5,352.5 417,352.5 416.5,352.5 416,352.5 415.5,352.5 415,352.5 414.5,352.5 414,352.5 413.5,352.5 413,352.5 412.5,352.5 412,352.5 411.5,352.5 411,352.5 410.5,352.5 410,352.5 409.5,352.5 409,352.5 408.5,352.5 408,352.5 407.5,352.5 407,352.5 406.5,352.5 406,352.5 405.5,352.5 405,352.5 404.5,352.5 404,352.5 403.5,352.5 403,352.5 402.5,352.5 402,352.5 401.5,352.5 401,352.5 400.5,352.5 400,352.5 399.5,352.5 399,352.5 398.5,352.5 398,352.5 397.5,352.5 397,352.5 396.5,352.5 396,352.5 395.5,352.5 395,352.5 394.5,352.5 394,352.5 393.5,352.5 393,352.5 392.5,352.5 392,352.5 391.5,352.5 391,352.5 390.5,352.5 390,352.5 389.5,352.5 389,352.5 388.5,352.5 388,352.5 387.5,352.5 387,352.5 386.5,352.5 386,352.5 385.5,352.5 385,352.5 384.5,352.5 384,352.5 383.5,352.5 383,352.5 382.5,352.5 382,352.5 381.5,352.5 381,352.5 380.5,352.5 380,352.5 379.5,352.5 379,352.5 378.5,352.5 378,352.5 377.5,352.5 377,352.5 376.5,352.5 376,352.5 375.5,352.5 375,352.5 374.5,352.5 374,352.5 373.5,352.5 373,352.5 372.5,352.5 372,352.5 371.5,352.5 371,352.5 370.5,352.5 370,352.5 369.5,352.5 369,352.5 368.5,352.5 368,352.5 367.5,352.5 367,352.5 366.5,352.5 366,352.5 365.5,352.5 365,352.5 364.5,352.5 364,352.5 363.5,352.5 363,352.5 362.5,352.5 362,352.5 361.5,352.5 361,352.5 360.5,352.5 360,352.5 359.5,352.5 359,352.5 358.5,352.5 358,352.5 357.5,352.5 357,352.5 356.5,352.5 356,352.5 355.5,352.5 355,352.5 354.5,352.5 354,352.5 353.5,352.5 353,352.5 352.5,352.5 352,352.5 351.5,352.5 351,352.5 350.5,352.5 350,352.5 349.5,352.5 349,352.5 348.5,352.5 348,352.5 347.5,352.5 347,352.5 346.5,352.5 346,352.5 345.5,352.5 345,352.5 344.5,352.5 344,352.5 343.5,352.5 343,352.5 342.5,352.5 342,352.5 341.5,352.5 341,352.5 340.5,352.5 340,352.5 339.5,352.5 339,352.5 338.5,352.5 338,352.5 337.5,352.5 337,352.5 336.5,352.5 336,352.5 335.5,352.5 335,352.5 334.5,352.5 334,352.5 333.5,352.5 333,352.5 332.5,352.5 332,352.5 331.5,352.5 331,352.5 330.5,352.5 330,352.5 329.5,352.5 329,352.5 328.5,352.5 328,352.5 327.5,352.5 327,352.5 326.5,352.5 326,352.5 325.5,352.5 325,352.5 324.5,352.5 324,352.5 323.5,352.5 323,352.5 322.5,352.5 322,352.5 321.5,352.5 321,352.5 320.5,352.5 320,352.5 319.5,352.5 319,352.5 318.5,352.5 318,352.5 317.5,352.5 317,352.5 316.5,352.5 316,352.5 315.5,352.5 315,352.5 314.5,352.5 314,352.5 313.5,352.5 313,352.5 312.5,352.5 312,352.5 311.5,352.5 311,352.5 310.5,352.5 310,352.5 309.5,352.5 309,352.5 308.5,352.5 308,352.5 307.5,352.5 307,352.5 306.5,352.5 306,352.5 305.5,352.5 305,352.5 304.5,352.5 304,352.5 303.5,352.5 303,352.5 302.5,352.5 302,352.5 301.5,352.5 301,352.5 300.5,352.5 300,352.5 299.5,352.5 299,352.5 298.5,352.5 298,352.5 297.5,352.5 297,352.5 296.5,352.5 296,352.5 295.5,352.5 295,352.5 294.5,352.5 294,352.5 293.5,352.5 293,352.5 292.5,352.5 292,352.5 291.5,352.5 291,352.5 290.5,352.5 290,352.5 289.5,352.5 289,352.5 288.5,352.5 288,352.5 287.5,352.5 287,352.5 286.5,352.5 286,352.5 285.5,352.5 285,352.5 284.5,352.5 284,352.5 283.5,352.5 283,352.5 282.5,352.5 282,352.5 281.5,352.5 281,352.5 280.5,352.5 280,352.5 279.5,352.5 279,352.5 278.5,352.5 278,352.5 277.5,352.5 277,352.5 276.5,352.5 276,352.5 275.5,352.5 275,352.5 274.5,352.5 274,352.5 273.5,352.5 273,352.5 272.5,352.5 272,352.5 271.5,352.5 271,352.5 270.5,352.5 270,352.5 269.5,352.5 269,352.5 268.5,352.5 268,352.5 267.5,352.5 267,352.5 266.5,352.5 266,352.5 265.5,352.5 265,352.5 264.5,352.5 264,352.5 263.5,352.5 263,352.5 262.5,352.5 262,352.5 261.5,352.49 261,352.46 260.5,352.41 260,352.34 259.5,352.25 259,352.16 258.5,352.05 258,351.93 257.5,351.8 257,351.67 256.5,351.54 256,351.4 255.5,351.26 255,351.13 254.5,351 254,350.87 253.5,350.75 253,350.64 252.5,350.55 252,350.46 251.5,350.39 251,350.34 250.5,350.31 250,350.3 249.5,350.3 249,350.3 248.5,350.3 248,350.3 247.5,350.3 247,350.3 246.5,350.3 246,350.3 245.5,350.3 245,350.3 244.5,350.3 244,350.3 243.5,350.3 243,350.3 242.5,350.3 242,350.3 241.5,350.3 241,350.3 240.5,350.3 240,350.3 239.5,350.3 239,350.3 238.5,350.3 238,350.3 237.5,350.3 237,350.3 236.5,350.3 236,350.3 235.5,350.3 235,350.3 234.5,350.3 234,350.3 233.5,350.3 233,350.3 232.5,350.3 232,350.3 231.5,350.3 231,350.3 230.5,350.3 230,350.3 229.5,350.3 229,350.3 228.5,350.3 228,350.3 227.5,350.3 227,350.3 226.5,350.3 226,350.3 225.5,350.3 225,350.3 224.5,350.3 224,350.3 223.5,350.3 223,350.3 222.5,350.3 222,350.3 221.5,350.3 221,350.3 220.5,350.3 220,350.3 219.5,350.3 219,350.3 218.5,350.3 218,350.3 217.5,350.3 217,350.3 216.5,350.3 216,350.3 215.5,350.3 215,350.3 214.5,350.3 214,350.3 213.5,350.3 213,350.3 212.5,350.3 212,350.3 211.5,350.3 211,350.3 210.5,350.3 210,350.3 209.5,350.3 209,350.3 208.5,350.3 208,350.3 207.5,350.3 207,350.3 206.5,350.3 206,350.3 205.5,350.3 205,350.3 204.5,350.3 204,350.3 203.5,350.3 203,350.3 202.5,350.3 202,350.3 201.5,350.3 201,350.3 200.5,350.3 200,350.3 199.5,350.3 199,350.3 198.5,350.3 198,350.3 197.5,350.3 197,350.3 196.5,350.3 196,350.3 195.5,350.3 195,350.3 194.5,350.3 194,350.3 193.5,350.3 193,350.3 192.5,350.3 192,350.3 191.5,350.3 191,350.3 190.5,350.3 190,350.3 189.5,350.3 189,350.3 188.5,350.3 188,350.3 187.5,350.3 187,350.3 186.5,350.3 186,350.3 185.5,350.3 185,350.3 184.5,350.3 184,350.3 183.5,350.3 183,350.3 182.5,350.3 182,350.3 181.5,350.3 181,350.3 180.5,350.3 180,350.3 179.5,350.3 179,350.3 178.5,350.3 178,350.3 177.5,350.3 177,350.3 176.5,350.3 176,350.3 175.5,350.3 175,350.3 174.5,350.3 174,350.3 173.5,350.3 173,350.3 172.5,350.3 172,350.3 171.5,350.3 171,350.3 170.5,350.3 170,350.3 169.5,350.3 169,350.3 168.5,350.3 168,350.3 167.5,350.3 167,350.3 166.5,350.3 166,350.3 165.5,350.3 165,350.3 164.5,350.3 164,350.3 163.5,350.3 163,350.3 162.5,350.3 162,350.3 161.5,350.3 161,350.3 160.5,350.3 160,350.3 159.5,350.3 159,350.3 158.5,350.3 158,350.3 157.5,350.3 157,350.3 156.5,350.3 156,350.3 155.5,350.3 155,350.3 154.5,350.3 154,350.3 153.5,350.3 153,350.3 152.5,350.3 152,350.3 151.5,350.3 151,350.3 150.5,350.3 150,350.3 149.5,350.3 149,350.3 148.5,350.3 148,350.3 147.5,350.3 147,350.3 146.5,350.3 146,350.3 145.5,350.3 145,350.3 144.5,350.3 144,350.3 143.5,350.3 143,350.3 142.5,350.3 142,350.3 141.5,350.3 141,350.3 140.5,350.3 140,350.3 139.5,350.3 139,350.3 138.5,350.3 138,350.3 137.5,350.3 137,350.3 136.5,350.3 136,350.3 135.5,350.3 135,350.3 134.5,350.3 134,350.3 133.5,350.3 133,350.3 132.5,351.11 132,352.9 131.5,354.69 131,355.5 130.5,355.5 130,355.5 129.5,355.5 129,355.5 128.5,355.5 128,355.5 127.5,355.5 127,355.5 126.5,355.5 126,355.5 125.5,354.8 125,353.25 124.5,351.7 124,351 123.5,351 123,351 122.5,351 122,351 121.5,351 121,351 120.5,351 120,351 119.5,351 119,351 118.5,351 118,351 117.5,351 117,351 116.5,351 116,351 115.5,351 115,351 114.5,351 114,351 113.5,351 113,351 112.5,351 112,351 111.5,351 111,351 110.5,351 110,351 109.5,351 109,351 108.5,351 108,350.99 107.5,350.99 107,350.98 106.5,350.97 106,350.97 105.5,350.96 105,350.95 104.5,350.94 104,350.93 103.5,350.91 103,350.9 102.5,350.89 102,350.87 101.5,350.86 101,350.84 100.5,350.82 100,350.81 99.5,350.79 99,350.77 98.5,350.75 98,350.73 97.5,350.71 97,350.69 96.5,350.67 96,350.65 95.5,350.63 95,350.6 94.5,350.58 94,350.56 93.5,350.53 93,350.51 92.5,350.49 92,350.46 91.5,350.44 91,350.41 90.5,350.39 90,350.36 89.5,350.34 89,350.31 88.5,350.28 88,350.26 87.5,350.23 87,350.21 86.5,350.18 86,350.16 85.5,350.13 85,350.1 84.5,350.08 84,350.05 83.5,350.03 83,350 82.5,349.98 82,349.95 81.5,349.93 81,349.91 80.5,349.88 80,349.86 79.5,349.84 79,349.81 78.5,349.79 78,349.77 77.5,349.75 77,349.73 76.5,349.71 76,349.69 75.5,349.67 75,349.65 74.5,349.63 74,349.61 73.5,349.6 73,349.58 72.5,349.57 72,349.55 71.5,349.54 71,349.52 70.5,349.51 70,349.5 69.5,349.49 69,349.48 68.5,349.47 68,349.46 67.5,349.45 67,349.44 66.5,349.43 66,349.42 65.5,349.41 65,349.4 64.5,349.39 64,349.38 63.5,349.37 63,349.36 62.5,349.35 62,349.34 61.5,349.34 61,349.33 60.5,349.32 60,349.31 59.5,349.3 59,349.29 58.5,349.29 58,349.28 57.5,349.27 57,349.26 56.5,349.26 56,349.25 55.5,349.24 55,349.23 54.5,349.23 54,349.22 53.5,349.21 53,349.2 52.5,349.2 52,349.19 51.5,349.18 51,349.18 50.5,349.17 50,349.16 49.5,349.16 49,349.15 48.5,349.14 48,349.13 47.5,349.13 47,349.12 46.5,349.11 46,349.11 45.5,349.1 45,349.09 44.5,349.08 44,349.08 43.5,349.07 43,349.06 42.5,349.05 42,349.05 41.5,349.04 41,349.03 40.5,349.02 40,349.02 39.5,349.01 39,349" fill="#ff2a8c"/>
<g fill="#ff2a8c"><circle cx="40" cy="347.09" r="2.6"/><circle cx="42.4" cy="347.54" r="2.6"/><circle cx="44.8" cy="346.46" r="2.6"/><circle cx="47.2" cy="346.6" r="2.6"/><circle cx="49.6" cy="347.36" r="2.6"/><circle cx="52" cy="347.62" r="2.6"/><circle cx="54.4" cy="347.34" r="2.6"/><circle cx="56.8" cy="346.92" r="2.6"/><circle cx="59.2" cy="347.31" r="2.6"/><circle cx="61.6" cy="347.55" r="2.6"/><circle cx="64" cy="346.81" r="2.6"/><circle cx="66.4" cy="347.11" r="2.6"/><circle cx="68.8" cy="347.08" r="2.6"/><circle cx="71.2" cy="346.98" r="2.6"/><circle cx="73.6" cy="347.48" r="2.6"/><circle cx="76" cy="347.19" r="2.6"/><circle cx="78.4" cy="347.37" r="2.6"/><circle cx="80.8" cy="347.37" r="2.6"/><circle cx="83.2" cy="348.13" r="2.6"/><circle cx="85.6" cy="347.45" r="2.6"/><circle cx="88" cy="348.42" r="2.6"/><circle cx="90.4" cy="347.92" r="2.6"/><circle cx="92.8" cy="347.84" r="2.6"/><circle cx="95.2" cy="349.03" r="2.6"/><circle cx="97.6" cy="348.28" r="2.6"/><circle cx="100" cy="349.23" r="2.6"/><circle cx="102.4" cy="349.22" r="2.6"/><circle cx="104.8" cy="349.31" r="2.6"/><circle cx="107.2" cy="348.45" r="2.6"/><circle cx="109.6" cy="348.84" r="2.6"/><circle cx="112" cy="348.42" r="2.6"/><circle cx="114.4" cy="349.41" r="2.6"/><circle cx="116.8" cy="349.31" r="2.6"/><circle cx="119.2" cy="349.05" r="2.6"/><circle cx="121.6" cy="348.84" r="2.6"/><circle cx="124" cy="348.71" r="2.6"/><circle cx="126.4" cy="353.79" r="2.6"/><circle cx="128.8" cy="353.37" r="2.6"/><circle cx="131.2" cy="353.41" r="2.6"/><circle cx="133.6" cy="347.77" r="2.6"/><circle cx="136" cy="347.87" r="2.6"/><circle cx="138.4" cy="347.67" r="2.6"/><circle cx="140.8" cy="348.46" r="2.6"/><circle cx="143.2" cy="348.26" r="2.6"/><circle cx="145.6" cy="347.77" r="2.6"/><circle cx="148" cy="348.64" r="2.6"/><circle cx="150.4" cy="347.92" r="2.6"/><circle cx="152.8" cy="348.09" r="2.6"/><circle cx="155.2" cy="347.79" r="2.6"/><circle cx="157.6" cy="347.93" r="2.6"/><circle cx="160" cy="348.61" r="2.6"/><circle cx="162.4" cy="348" r="2.6"/><circle cx="164.8" cy="347.8" r="2.6"/><circle cx="167.2" cy="348.19" r="2.6"/><circle cx="169.6" cy="347.98" r="2.6"/><circle cx="172" cy="348.68" r="2.6"/><circle cx="174.4" cy="347.74" r="2.6"/><circle cx="176.8" cy="348.77" r="2.6"/><circle cx="179.2" cy="347.67" r="2.6"/><circle cx="181.6" cy="348.67" r="2.6"/><circle cx="184" cy="348.4" r="2.6"/><circle cx="186.4" cy="347.85" r="2.6"/><circle cx="188.8" cy="348.17" r="2.6"/><circle cx="191.2" cy="347.94" r="2.6"/><circle cx="193.6" cy="347.91" r="2.6"/><circle cx="196" cy="347.84" r="2.6"/><circle cx="198.4" cy="348.04" r="2.6"/><circle cx="200.8" cy="348.79" r="2.6"/><circle cx="203.2" cy="348.8" r="2.6"/><circle cx="205.6" cy="348.71" r="2.6"/><circle cx="208" cy="347.72" r="2.6"/><circle cx="210.4" cy="347.95" r="2.6"/><circle cx="212.8" cy="348.68" r="2.6"/><circle cx="215.2" cy="347.67" r="2.6"/><circle cx="217.6" cy="348.47" r="2.6"/><circle cx="220" cy="347.95" r="2.6"/><circle cx="222.4" cy="348.77" r="2.6"/><circle cx="224.8" cy="347.62" r="2.6"/><circle cx="227.2" cy="348.57" r="2.6"/><circle cx="229.6" cy="348.01" r="2.6"/><circle cx="232" cy="347.77" r="2.6"/><circle cx="234.4" cy="347.6" r="2.6"/><circle cx="236.8" cy="348.6" r="2.6"/><circle cx="239.2" cy="348.23" r="2.6"/><circle cx="241.6" cy="347.82" r="2.6"/><circle cx="244" cy="348.12" r="2.6"/><circle cx="246.4" cy="348.69" r="2.6"/><circle cx="248.8" cy="347.86" r="2.6"/><circle cx="251.2" cy="348.35" r="2.6"/><circle cx="253.6" cy="348.24" r="2.6"/><circle cx="256" cy="348.92" r="2.6"/><circle cx="258.4" cy="350.25" r="2.6"/><circle cx="260.8" cy="350.59" r="2.6"/><circle cx="263.2" cy="350.04" r="2.6"/><circle cx="265.6" cy="349.9" r="2.6"/><circle cx="268" cy="349.9" r="2.6"/><circle cx="270.4" cy="350.53" r="2.6"/><circle cx="272.8" cy="350.39" r="2.6"/><circle cx="275.2" cy="350.13" r="2.6"/><circle cx="277.6" cy="350.05" r="2.6"/><circle cx="280" cy="350.53" r="2.6"/><circle cx="282.4" cy="350.65" r="2.6"/><circle cx="284.8" cy="350.77" r="2.6"/><circle cx="287.2" cy="350.5" r="2.6"/><circle cx="289.6" cy="350.04" r="2.6"/><circle cx="292" cy="349.88" r="2.6"/><circle cx="294.4" cy="350.68" r="2.6"/><circle cx="296.8" cy="350.29" r="2.6"/><circle cx="299.2" cy="350.67" r="2.6"/><circle cx="301.6" cy="349.87" r="2.6"/><circle cx="304" cy="350.77" r="2.6"/><circle cx="306.4" cy="350.2" r="2.6"/><circle cx="308.8" cy="350.81" r="2.6"/><circle cx="311.2" cy="350.84" r="2.6"/><circle cx="313.6" cy="350.39" r="2.6"/><circle cx="316" cy="349.82" r="2.6"/><circle cx="318.4" cy="350.89" r="2.6"/><circle cx="320.8" cy="350.37" r="2.6"/><circle cx="323.2" cy="350.85" r="2.6"/><circle cx="325.6" cy="350.12" r="2.6"/><circle cx="328" cy="350.02" r="2.6"/><circle cx="330.4" cy="350.8" r="2.6"/><circle cx="332.8" cy="350.24" r="2.6"/><circle cx="335.2" cy="350" r="2.6"/><circle cx="337.6" cy="350.25" r="2.6"/><circle cx="340" cy="350.51" r="2.6"/><circle cx="342.4" cy="349.81" r="2.6"/><circle cx="344.8" cy="350.42" r="2.6"/><circle cx="347.2" cy="350.33" r="2.6"/><circle cx="349.6" cy="350.42" r="2.6"/><circle cx="352" cy="349.94" r="2.6"/><circle cx="354.4" cy="350.66" r="2.6"/><circle cx="356.8" cy="350.78" r="2.6"/><circle cx="359.2" cy="350.84" r="2.6"/><circle cx="361.6" cy="350.19" r="2.6"/><circle cx="364" cy="350.65" r="2.6"/><circle cx="366.4" cy="350.26" r="2.6"/><circle cx="368.8" cy="350.7" r="2.6"/><circle cx="371.2" cy="349.87" r="2.6"/><circle cx="373.6" cy="350.85" r="2.6"/><circle cx="376" cy="350.94" r="2.6"/><circle cx="378.4" cy="350.39" r="2.6"/><circle cx="380.8" cy="350.42" r="2.6"/><circle cx="383.2" cy="350.44" r="2.6"/><circle cx="385.6" cy="350.44" r="2.6"/><circle cx="388" cy="349.82" r="2.6"/><circle cx="390.4" cy="350.96" r="2.6"/><circle cx="392.8" cy="350.07" r="2.6"/><circle cx="395.2" cy="350.02" r="2.6"/><circle cx="397.6" cy="349.92" r="2.6"/><circle cx="400" cy="350.1" r="2.6"/><circle cx="402.4" cy="350.78" r="2.6"/><circle cx="404.8" cy="349.84" r="2.6"/><circle cx="407.2" cy="349.92" r="2.6"/><circle cx="409.6" cy="350.64" r="2.6"/><circle cx="412" cy="350.03" r="2.6"/><circle cx="414.4" cy="349.82" r="2.6"/><circle cx="416.8" cy="350.52" r="2.6"/><circle cx="419.2" cy="350.49" r="2.6"/><circle cx="421.6" cy="350.43" r="2.6"/><circle cx="424" cy="350.64" r="2.6"/><circle cx="426.4" cy="349.92" r="2.6"/><circle cx="428.8" cy="350.84" r="2.6"/><circle cx="431.2" cy="350.66" r="2.6"/><circle cx="433.6" cy="349.85" r="2.6"/><circle cx="436" cy="349.95" r="2.6"/><circle cx="438.4" cy="350.39" r="2.6"/><circle cx="440.8" cy="350.4" r="2.6"/><circle cx="443.2" cy="350.14" r="2.6"/><circle cx="445.6" cy="349.95" r="2.6"/><circle cx="448" cy="350.29" r="2.6"/><circle cx="450.4" cy="349.96" r="2.6"/><circle cx="452.8" cy="350.51" r="2.6"/><circle cx="455.2" cy="350.83" r="2.6"/><circle cx="457.6" cy="349.98" r="2.6"/><circle cx="460" cy="350.49" r="2.6"/><circle cx="462.4" cy="350.7" r="2.6"/><circle cx="464.8" cy="350" r="2.6"/><circle cx="467.2" cy="350.79" r="2.6"/><circle cx="469.6" cy="350.93" r="2.6"/><circle cx="472" cy="350.27" r="2.6"/><circle cx="474.4" cy="350.3" r="2.6"/><circle cx="476.8" cy="350.81" r="2.6"/><circle cx="479.2" cy="350.43" r="2.6"/><circle cx="481.6" cy="350.27" r="2.6"/><circle cx="484" cy="350.93" r="2.6"/><circle cx="486.4" cy="350.73" r="2.6"/><circle cx="488.8" cy="350.21" r="2.6"/><circle cx="491.2" cy="350.09" r="2.6"/><circle cx="493.6" cy="350.2" r="2.6"/><circle cx="496" cy="350.32" r="2.6"/><circle cx="498.4" cy="350.98" r="2.6"/><circle cx="500.8" cy="350.77" r="2.6"/><circle cx="503.2" cy="350.9" r="2.6"/><circle cx="505.6" cy="350.78" r="2.6"/><circle cx="508" cy="350.82" r="2.6"/><circle cx="510.4" cy="349.86" r="2.6"/><circle cx="512.8" cy="350.42" r="2.6"/><circle cx="515.2" cy="350.95" r="2.6"/><circle cx="517.6" cy="350.92" r="2.6"/><circle cx="520" cy="350.1" r="2.6"/><circle cx="522.4" cy="350.31" r="2.6"/><circle cx="524.8" cy="350.56" r="2.6"/><circle cx="527.2" cy="350.24" r="2.6"/><circle cx="529.6" cy="350.44" r="2.6"/><circle cx="532" cy="349.88" r="2.6"/><circle cx="534.4" cy="350.32" r="2.6"/><circle cx="536.8" cy="350.41" r="2.6"/><circle cx="539.2" cy="349.82" r="2.6"/><circle cx="541.6" cy="349.97" r="2.6"/><circle cx="544" cy="350.96" r="2.6"/><circle cx="546.4" cy="350.73" r="2.6"/><circle cx="548.8" cy="350.92" r="2.6"/><circle cx="551.2" cy="350.56" r="2.6"/><circle cx="553.6" cy="350.77" r="2.6"/><circle cx="556" cy="350.86" r="2.6"/><circle cx="558.4" cy="350.86" r="2.6"/><circle cx="560.8" cy="349.84" r="2.6"/><circle cx="563.2" cy="350.57" r="2.6"/><circle cx="565.6" cy="350.12" r="2.6"/><circle cx="568" cy="350.61" r="2.6"/><circle cx="570.4" cy="350.13" r="2.6"/><circle cx="572.8" cy="350.45" r="2.6"/><circle cx="575.2" cy="350.91" r="2.6"/><circle cx="577.6" cy="350.55" r="2.6"/><circle cx="580" cy="350.1" r="2.6"/><circle cx="582.4" cy="350.42" r="2.6"/><circle cx="584.8" cy="350.32" r="2.6"/><circle cx="587.2" cy="350.94" r="2.6"/><circle cx="589.6" cy="350.15" r="2.6"/><circle cx="592" cy="350.17" r="2.6"/><circle cx="594.4" cy="350.58" r="2.6"/><circle cx="596.8" cy="349.94" r="2.6"/><circle cx="599.2" cy="350.51" r="2.6"/><circle cx="601.6" cy="350.95" r="2.6"/><circle cx="604" cy="350.42" r="2.6"/><circle cx="606.4" cy="350.12" r="2.6"/><circle cx="608.8" cy="350.36" r="2.6"/><circle cx="611.2" cy="350.44" r="2.6"/><circle cx="613.6" cy="349.98" r="2.6"/><circle cx="616" cy="349.95" r="2.6"/><circle cx="618.4" cy="349.96" r="2.6"/><circle cx="620.8" cy="350.15" r="2.6"/><circle cx="623.2" cy="350.29" r="2.6"/><circle cx="625.6" cy="350.15" r="2.6"/><circle cx="628" cy="350.09" r="2.6"/><circle cx="630.4" cy="349.91" r="2.6"/><circle cx="632.8" cy="350.46" r="2.6"/><circle cx="635.2" cy="350.81" r="2.6"/><circle cx="637.6" cy="350.53" r="2.6"/><circle cx="640" cy="350.48" r="2.6"/><circle cx="642.4" cy="350.58" r="2.6"/><circle cx="644.8" cy="350.04" r="2.6"/><circle cx="647.2" cy="350.65" r="2.6"/><circle cx="649.6" cy="350.35" r="2.6"/><circle cx="652" cy="350.46" r="2.6"/><circle cx="654.4" cy="350.54" r="2.6"/></g>
<line x1="399.5" y1="350" x2="399.5" y2="354.6" stroke="#ff2a8c" stroke-width="4.8" stroke-linecap="round"/>
<line x1="433" y1="350" x2="433" y2="352.1" stroke="#ff2a8c" stroke-width="4.8" stroke-linecap="round"/>
<line x1="454" y1="350" x2="454" y2="352.1" stroke="#ff2a8c" stroke-width="4.8" stroke-linecap="round"/>
<line x1="462" y1="350" x2="462" y2="367.6" stroke="#ff2a8c" stroke-width="4.8" stroke-linecap="round"/>
<line x1="468" y1="350" x2="468" y2="358.1" stroke="#ff2a8c" stroke-width="4.8" stroke-linecap="round"/>
<line x1="476.7" y1="350" x2="476.7" y2="361.4" stroke="#ff2a8c" stroke-width="4.8" stroke-linecap="round"/>
<line x1="491" y1="350" x2="491" y2="359.6" stroke="#ff2a8c" stroke-width="4.8" stroke-linecap="round"/>
<line x1="513.6" y1="350" x2="513.6" y2="353.1" stroke="#ff2a8c" stroke-width="4.8" stroke-linecap="round"/>
<line x1="592.7" y1="350" x2="592.7" y2="365.4" stroke="#ff2a8c" stroke-width="4.8" stroke-linecap="round"/>
<line x1="128.5" y1="350" x2="128.5" y2="354.1" stroke="#ff2a8c" stroke-width="4.8" stroke-linecap="round"/>
<line x1="520" y1="350" x2="520" y2="352.6" stroke="#ff2a8c" stroke-width="4.8" stroke-linecap="round"/>
<line x1="548" y1="350" x2="548" y2="353.1" stroke="#ff2a8c" stroke-width="4.8" stroke-linecap="round"/>
<line x1="560" y1="350" x2="560" y2="353.6" stroke="#ff2a8c" stroke-width="4.8" stroke-linecap="round"/>
<line x1="416" y1="350" x2="416" y2="352.6" stroke="#ff2a8c" stroke-width="4.8" stroke-linecap="round"/>
<line x1="445" y1="350" x2="445" y2="353.6" stroke="#ff2a8c" stroke-width="4.8" stroke-linecap="round"/>
<line x1="300" y1="350" x2="300" y2="351.6" stroke="#ff2a8c" stroke-width="4.8" stroke-linecap="round"/>
<line x1="345" y1="350" x2="345" y2="352.1" stroke="#ff2a8c" stroke-width="4.8" stroke-linecap="round"/>
<g fill="#fff" fill-opacity="0.8"><circle cx="41.0" cy="341.1" r="0.8"/><circle cx="45.8" cy="340.9" r="0.8"/><circle cx="50.6" cy="340.8" r="0.8"/><circle cx="55.4" cy="340.8" r="0.8"/><circle cx="60.2" cy="341.1" r="0.8"/><circle cx="65.0" cy="341.0" r="0.8"/><circle cx="69.8" cy="341.2" r="0.8"/><circle cx="74.6" cy="340.6" r="0.8"/><circle cx="79.4" cy="341.0" r="0.8"/><circle cx="84.2" cy="341.5" r="0.8"/><circle cx="89.0" cy="340.8" r="0.8"/><circle cx="93.8" cy="341.2" r="0.8"/><circle cx="98.6" cy="341.1" r="0.8"/><circle cx="103.4" cy="340.9" r="0.8"/><circle cx="108.2" cy="341.6" r="0.8"/><circle cx="113.0" cy="340.9" r="0.8"/><circle cx="117.8" cy="341.4" r="0.8"/><circle cx="122.6" cy="340.8" r="0.8"/><circle cx="127.4" cy="340.7" r="0.8"/><circle cx="132.2" cy="341.5" r="0.8"/><circle cx="137.0" cy="341.0" r="0.8"/><circle cx="141.8" cy="340.7" r="0.8"/><circle cx="146.6" cy="341.0" r="0.8"/><circle cx="151.4" cy="341.0" r="0.8"/><circle cx="156.2" cy="341.3" r="0.8"/><circle cx="161.0" cy="340.7" r="0.8"/><circle cx="165.8" cy="340.8" r="0.8"/><circle cx="170.6" cy="341.6" r="0.8"/><circle cx="175.4" cy="341.3" r="0.8"/><circle cx="180.2" cy="340.8" r="0.8"/><circle cx="185.0" cy="340.9" r="0.8"/><circle cx="189.8" cy="341.0" r="0.8"/><circle cx="194.6" cy="341.3" r="0.8"/><circle cx="199.4" cy="341.2" r="0.8"/><circle cx="204.2" cy="341.4" r="0.8"/><circle cx="209.0" cy="341.4" r="0.8"/><circle cx="213.8" cy="341.1" r="0.8"/><circle cx="218.6" cy="341.3" r="0.8"/><circle cx="223.4" cy="341.3" r="0.8"/><circle cx="228.2" cy="341.4" r="0.8"/><circle cx="233.0" cy="341.1" r="0.8"/><circle cx="237.8" cy="341.4" r="0.8"/><circle cx="242.6" cy="341.3" r="0.8"/><circle cx="247.4" cy="341.5" r="0.8"/><circle cx="252.2" cy="340.7" r="0.8"/></g>
<rect x="127.5" y="338" width="3.5" height="5" fill="#fff"/>
<g fill="#3d9a2b"><circle cx="129.3" cy="340.5" r="2.3"/></g>
</g>
<rect x="38.5" y="338" width="634.3" height="139" fill="none" stroke="#000" stroke-width="1.3"/>
<rect x="258" y="337.1" width="138" height="1.8" fill="#ff2a8c" fill-opacity="0.85"/>
<rect x="491" y="337.1" width="98" height="1.8" fill="#ff2a8c" fill-opacity="0.85"/>
<rect x="396.5" y="338.7" width="5.5" height="3.8000000000000114" rx="1.2" fill="#fff"/>
<rect x="457" y="338.7" width="4" height="4.300000000000011" rx="1.2" fill="#fff"/>
<rect x="470" y="338.7" width="4.5" height="5.300000000000011" rx="1.2" fill="#fff"/>
<rect x="481" y="338.7" width="5" height="3.3000000000000114" rx="1.2" fill="#fff"/>
<rect x="588.5" y="338.7" width="3.5" height="3.8000000000000114" rx="1.2" fill="#fff"/>
<g fill="#fff" fill-opacity="0.7"><circle cx="260.0" cy="339.8" r="0.7"/><circle cx="262.3" cy="342.4" r="0.65"/><circle cx="264.7" cy="339.8" r="0.7"/><circle cx="267.0" cy="343.1" r="0.65"/><circle cx="269.4" cy="339.6" r="0.7"/><circle cx="271.7" cy="343.6" r="0.65"/><circle cx="274.1" cy="339.6" r="0.7"/><circle cx="276.4" cy="342.9" r="0.65"/><circle cx="278.8" cy="339.8" r="0.7"/><circle cx="281.1" cy="343.4" r="0.65"/><circle cx="283.5" cy="339.7" r="0.7"/><circle cx="285.8" cy="342.9" r="0.65"/><circle cx="288.2" cy="339.6" r="0.7"/><circle cx="290.5" cy="342.9" r="0.65"/><circle cx="292.9" cy="339.7" r="0.7"/><circle cx="295.2" cy="342.8" r="0.65"/><circle cx="297.6" cy="339.5" r="0.7"/><circle cx="299.9" cy="343.1" r="0.65"/><circle cx="302.3" cy="339.5" r="0.7"/><circle cx="304.6" cy="342.8" r="0.65"/><circle cx="307.0" cy="339.8" r="0.7"/><circle cx="309.3" cy="343.4" r="0.65"/><circle cx="311.7" cy="339.6" r="0.7"/><circle cx="314.0" cy="342.9" r="0.65"/><circle cx="316.4" cy="339.4" r="0.7"/><circle cx="318.7" cy="342.8" r="0.65"/><circle cx="321.1" cy="339.4" r="0.7"/><circle cx="323.4" cy="343.1" r="0.65"/><circle cx="325.8" cy="339.6" r="0.7"/><circle cx="328.1" cy="342.5" r="0.65"/><circle cx="330.5" cy="339.9" r="0.7"/><circle cx="332.8" cy="342.8" r="0.65"/><circle cx="335.2" cy="339.8" r="0.7"/><circle cx="337.5" cy="343.4" r="0.65"/><circle cx="339.9" cy="339.9" r="0.7"/><circle cx="342.2" cy="342.6" r="0.65"/><circle cx="344.6" cy="339.6" r="0.7"/><circle cx="346.9" cy="343.5" r="0.65"/><circle cx="349.3" cy="339.3" r="0.7"/><circle cx="351.6" cy="342.5" r="0.65"/><circle cx="354.0" cy="339.6" r="0.7"/><circle cx="356.3" cy="343.0" r="0.65"/><circle cx="358.7" cy="339.9" r="0.7"/><circle cx="361.0" cy="343.3" r="0.65"/><circle cx="363.4" cy="339.6" r="0.7"/><circle cx="365.7" cy="343.6" r="0.65"/><circle cx="368.1" cy="339.6" r="0.7"/><circle cx="370.4" cy="343.0" r="0.65"/><circle cx="372.8" cy="339.7" r="0.7"/><circle cx="375.1" cy="342.9" r="0.65"/><circle cx="377.5" cy="339.5" r="0.7"/><circle cx="379.8" cy="343.1" r="0.65"/><circle cx="382.2" cy="339.5" r="0.7"/><circle cx="384.5" cy="343.5" r="0.65"/><circle cx="386.9" cy="339.7" r="0.7"/><circle cx="389.2" cy="343.0" r="0.65"/><circle cx="391.6" cy="339.4" r="0.7"/><circle cx="393.9" cy="342.8" r="0.65"/><circle cx="396.3" cy="339.5" r="0.7"/><circle cx="398.6" cy="343.1" r="0.65"/><circle cx="401.0" cy="339.6" r="0.7"/><circle cx="403.3" cy="343.5" r="0.65"/><circle cx="405.7" cy="339.9" r="0.7"/><circle cx="408.0" cy="343.0" r="0.65"/><circle cx="410.4" cy="339.6" r="0.7"/><circle cx="412.7" cy="343.1" r="0.65"/><circle cx="415.1" cy="339.9" r="0.7"/><circle cx="417.4" cy="342.8" r="0.65"/><circle cx="419.8" cy="339.6" r="0.7"/><circle cx="422.1" cy="343.4" r="0.65"/><circle cx="424.5" cy="339.4" r="0.7"/><circle cx="426.8" cy="342.8" r="0.65"/><circle cx="429.2" cy="339.9" r="0.7"/><circle cx="431.5" cy="343.4" r="0.65"/><circle cx="433.9" cy="339.6" r="0.7"/><circle cx="436.2" cy="342.5" r="0.65"/><circle cx="438.6" cy="339.8" r="0.7"/><circle cx="440.9" cy="343.2" r="0.65"/><circle cx="443.3" cy="339.8" r="0.7"/><circle cx="445.6" cy="343.6" r="0.65"/><circle cx="448.0" cy="339.8" r="0.7"/><circle cx="450.3" cy="342.9" r="0.65"/><circle cx="452.7" cy="339.4" r="0.7"/><circle cx="455.0" cy="342.7" r="0.65"/><circle cx="457.4" cy="339.6" r="0.7"/><circle cx="459.7" cy="343.0" r="0.65"/><circle cx="462.1" cy="339.4" r="0.7"/><circle cx="464.4" cy="342.6" r="0.65"/><circle cx="466.8" cy="339.7" r="0.7"/><circle cx="469.1" cy="343.1" r="0.65"/><circle cx="471.5" cy="339.5" r="0.7"/><circle cx="473.8" cy="343.6" r="0.65"/><circle cx="476.2" cy="339.7" r="0.7"/><circle cx="478.5" cy="342.5" r="0.65"/><circle cx="480.9" cy="339.5" r="0.7"/><circle cx="483.2" cy="343.3" r="0.65"/><circle cx="485.6" cy="339.5" r="0.7"/><circle cx="487.9" cy="343.2" r="0.65"/><circle cx="490.3" cy="339.3" r="0.7"/><circle cx="492.6" cy="342.8" r="0.65"/><circle cx="495.0" cy="339.8" r="0.7"/><circle cx="497.3" cy="343.1" r="0.65"/><circle cx="499.7" cy="339.7" r="0.7"/><circle cx="502.0" cy="342.6" r="0.65"/><circle cx="504.4" cy="339.6" r="0.7"/><circle cx="506.7" cy="343.1" r="0.65"/><circle cx="509.1" cy="339.5" r="0.7"/><circle cx="511.4" cy="343.2" r="0.65"/><circle cx="513.8" cy="339.6" r="0.7"/><circle cx="516.1" cy="343.6" r="0.65"/><circle cx="518.5" cy="339.6" r="0.7"/><circle cx="520.8" cy="342.9" r="0.65"/><circle cx="523.2" cy="339.4" r="0.7"/><circle cx="525.5" cy="342.6" r="0.65"/><circle cx="527.9" cy="339.8" r="0.7"/><circle cx="530.2" cy="342.5" r="0.65"/><circle cx="532.6" cy="339.4" r="0.7"/><circle cx="534.9" cy="342.6" r="0.65"/><circle cx="537.3" cy="339.6" r="0.7"/><circle cx="539.6" cy="343.4" r="0.65"/><circle cx="542.0" cy="339.7" r="0.7"/><circle cx="544.3" cy="343.4" r="0.65"/><circle cx="546.7" cy="339.3" r="0.7"/><circle cx="549.0" cy="342.4" r="0.65"/><circle cx="551.4" cy="339.8" r="0.7"/><circle cx="553.7" cy="342.8" r="0.65"/><circle cx="556.1" cy="339.7" r="0.7"/><circle cx="558.4" cy="342.8" r="0.65"/><circle cx="560.8" cy="339.4" r="0.7"/><circle cx="563.1" cy="342.7" r="0.65"/><circle cx="565.5" cy="339.4" r="0.7"/><circle cx="567.8" cy="343.5" r="0.65"/><circle cx="570.2" cy="339.6" r="0.7"/><circle cx="572.5" cy="342.8" r="0.65"/><circle cx="574.9" cy="339.6" r="0.7"/><circle cx="577.2" cy="342.9" r="0.65"/><circle cx="579.6" cy="339.3" r="0.7"/><circle cx="581.9" cy="343.5" r="0.65"/><circle cx="584.3" cy="339.6" r="0.7"/><circle cx="586.6" cy="343.6" r="0.65"/><circle cx="589.0" cy="339.6" r="0.7"/><circle cx="591.3" cy="343.1" r="0.65"/><circle cx="593.7" cy="339.4" r="0.7"/><circle cx="596.0" cy="342.5" r="0.65"/><circle cx="598.4" cy="339.9" r="0.7"/><circle cx="600.7" cy="343.4" r="0.65"/><circle cx="603.1" cy="339.5" r="0.7"/><circle cx="605.4" cy="343.5" r="0.65"/><circle cx="607.8" cy="339.8" r="0.7"/><circle cx="610.1" cy="342.8" r="0.65"/><circle cx="612.5" cy="339.7" r="0.7"/><circle cx="614.8" cy="343.6" r="0.65"/><circle cx="617.2" cy="339.6" r="0.7"/><circle cx="619.5" cy="343.5" r="0.65"/><circle cx="621.9" cy="339.4" r="0.7"/><circle cx="624.2" cy="342.9" r="0.65"/><circle cx="626.6" cy="339.7" r="0.7"/><circle cx="628.9" cy="342.7" r="0.65"/><circle cx="631.3" cy="339.5" r="0.7"/><circle cx="633.6" cy="343.5" r="0.65"/><circle cx="636.0" cy="339.6" r="0.7"/><circle cx="638.3" cy="343.4" r="0.65"/><circle cx="640.7" cy="339.4" r="0.7"/><circle cx="643.0" cy="342.6" r="0.65"/><circle cx="645.4" cy="339.5" r="0.7"/><circle cx="647.7" cy="342.6" r="0.65"/><circle cx="650.1" cy="339.9" r="0.7"/><circle cx="652.4" cy="342.7" r="0.65"/></g>
<line x1="38.5" y1="418.8" x2="35.9" y2="418.8" stroke="#000" stroke-width="1.2" />
<line x1="38.5" y1="345.4" x2="35.9" y2="345.4" stroke="#000" stroke-width="1.2" />
<line x1="38.5" y1="455.5" x2="36.94" y2="455.5" stroke="#000" stroke-width="1.2" />
<line x1="38.5" y1="382.1" x2="36.94" y2="382.1" stroke="#000" stroke-width="1.2" />
<text x="33.6" y="422.7" font-size="11" text-anchor="end" fill="#000" font-family='"Liberation Sans", sans-serif' >0.5</text>
<text x="33.6" y="349.3" font-size="11" text-anchor="end" fill="#000" font-family='"Liberation Sans", sans-serif' >1.0</text>
<line x1="39" y1="477" x2="39" y2="479.6" stroke="#000" stroke-width="1.2" />
<line x1="136.5" y1="477" x2="136.5" y2="479.6" stroke="#000" stroke-width="1.2" />
<line x1="234" y1="477" x2="234" y2="479.6" stroke="#000" stroke-width="1.2" />
<line x1="331.5" y1="477" x2="331.5" y2="479.6" stroke="#000" stroke-width="1.2" />
<line x1="429" y1="477" x2="429" y2="479.6" stroke="#000" stroke-width="1.2" />
<line x1="526.5" y1="477" x2="526.5" y2="479.6" stroke="#000" stroke-width="1.2" />
<line x1="624" y1="477" x2="624" y2="479.6" stroke="#000" stroke-width="1.2" />
<line x1="87.75" y1="477" x2="87.75" y2="478.56" stroke="#000" stroke-width="1.2" />
<line x1="185.25" y1="477" x2="185.25" y2="478.56" stroke="#000" stroke-width="1.2" />
<line x1="282.75" y1="477" x2="282.75" y2="478.56" stroke="#000" stroke-width="1.2" />
<line x1="380.25" y1="477" x2="380.25" y2="478.56" stroke="#000" stroke-width="1.2" />
<line x1="477.75" y1="477" x2="477.75" y2="478.56" stroke="#000" stroke-width="1.2" />
<line x1="575.25" y1="477" x2="575.25" y2="478.56" stroke="#000" stroke-width="1.2" />
<text x="39" y="491.6" font-size="11" text-anchor="middle" fill="#000" font-family='"Liberation Sans", sans-serif' >0</text>
<text x="136.5" y="491.6" font-size="11" text-anchor="middle" fill="#000" font-family='"Liberation Sans", sans-serif' >200</text>
<text x="234" y="491.6" font-size="11" text-anchor="middle" fill="#000" font-family='"Liberation Sans", sans-serif' >400</text>
<text x="331.5" y="491.6" font-size="11" text-anchor="middle" fill="#000" font-family='"Liberation Sans", sans-serif' >600</text>
<text x="429" y="491.6" font-size="11" text-anchor="middle" fill="#000" font-family='"Liberation Sans", sans-serif' >800</text>
<text x="526.5" y="491.6" font-size="11" text-anchor="middle" fill="#000" font-family='"Liberation Sans", sans-serif' >1000</text>
<text x="624" y="491.6" font-size="11" text-anchor="middle" fill="#000" font-family='"Liberation Sans", sans-serif' >1200</text>
<text x="356" y="506.2" font-size="11" text-anchor="middle" fill="#000" font-family='"Liberation Sans", sans-serif' >Time (h)</text>
<text x="0" y="0" font-size="11" text-anchor="middle" fill="#000" font-family='"Liberation Sans", sans-serif' transform="translate(11.2,407) rotate(-90) translate(0,3.96)">Normalized PCE</text>
<g fill="#3d9a2b" stroke="#2f7821" stroke-width="0.5"><circle cx="477.5" cy="408.2" r="2.8"/></g>
<g fill="#fff" fill-opacity="0.8"><circle cx="476.66" cy="407.36" r="1.01"/></g>
<g fill="#ff2a8c" stroke="#c6206d" stroke-width="0.5"><circle cx="477.5" cy="422.2" r="2.8"/></g>
<g fill="#fff" fill-opacity="0.8"><circle cx="476.66" cy="421.36" r="1.01"/></g>
<text x="493" y="411.8" font-size="11" text-anchor="start" fill="#000" font-family='"Liberation Sans", sans-serif' >Control</text>
<text x="493" y="425.6" font-size="11" text-anchor="start" fill="#000" font-family='"Liberation Sans", sans-serif' >Target</text>
</svg></body></html>
